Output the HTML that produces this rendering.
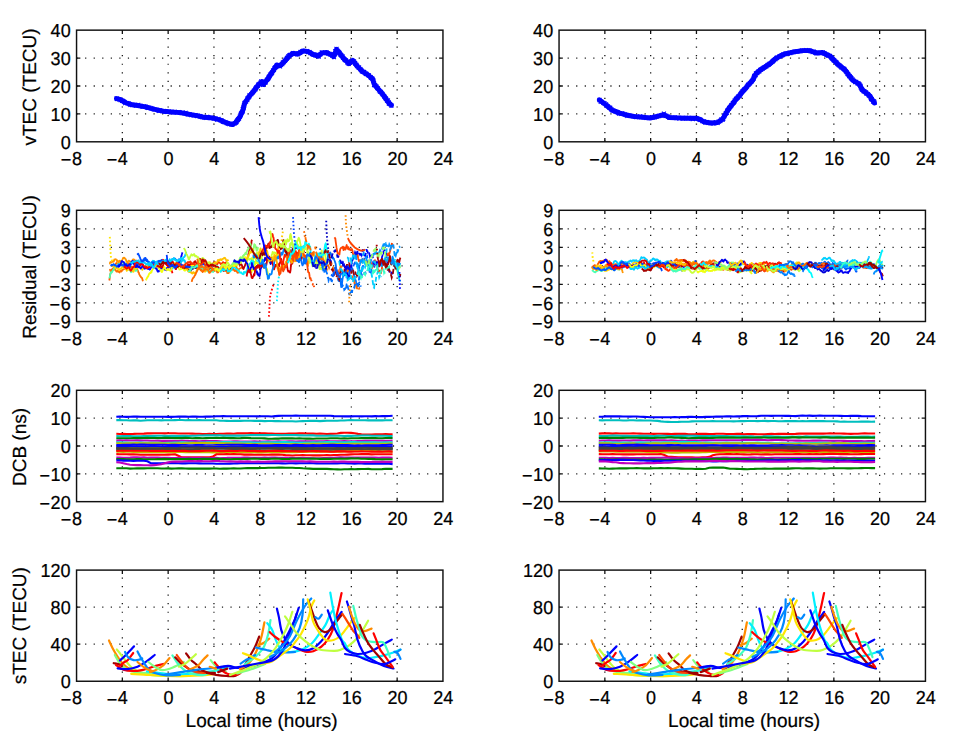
<!DOCTYPE html>
<html><head><meta charset="utf-8"><style>
html,body{margin:0;padding:0;background:#fff;}
svg{display:block;}
text{font-family:"Liberation Sans",sans-serif;font-size:18px;fill:#000;stroke:#000;stroke-width:0.22px;text-rendering:geometricPrecision;}
.L{font-size:19px;}
</style></head><body>
<svg width="960" height="741" viewBox="0 0 960 741">
<rect width="960" height="741" fill="#fff"/>
<path d="M122.35 141.8V30.15M168.15 141.8V30.15M213.95 141.8V30.15M259.75 141.8V30.15M305.55 141.8V30.15M351.35 141.8V30.15M397.15 141.8V30.15M76.55 113.89H442.95M76.55 85.98H442.95M76.55 58.06H442.95" stroke="#1a1a1a" stroke-width="1.3" stroke-dasharray="1.2 7.35" fill="none"/>
<path d="M116.5,98.5 120.6,99.6 125.8,102.7 132.1,104.8 139.4,105.8 145.6,106.9 150.8,108.4 157.1,110.0 163.3,111.2 171.7,111.9 180.0,112.6 188.3,114.2 196.7,115.7 204.0,117.3 212.5,117.9 220.0,120.0 226.7,122.9 232.5,124.6 235.8,122.5 240.0,116.7 243.3,109.2 244.5,103.5 248.3,97.5 253.3,91.7 258.3,85.0 261.7,81.7 263.5,84.5 268.3,78.3 272.5,71.7 276.7,65.0 280.0,65.8 285.0,60.8 289.2,55.8 293.3,53.3 297.5,54.2 303.3,50.8 308.3,51.7 313.3,54.6 318.3,56.2 321.7,52.9 326.7,52.5 330.8,54.6 333.6,56.6 336.6,49.4 339.4,53.2 344.2,58.9 348.9,63.6 352.7,60.3 357.4,66.4 362.1,71.2 367.8,74.9 372.5,78.7 374.4,84.4 379.1,90.0 383.8,95.7 387.6,101.4 391.4,105.2" stroke="#0000ff" stroke-width="4.9" fill="none" stroke-linejoin="round" stroke-linecap="round"/>
<path d="M114.6 96.5l4.0 4.0M114.6 100.5l4.0 -4.0M115.6 97.2l4.0 4.0M115.6 101.2l4.0 -4.0M117.3 97.3l4.0 4.0M117.3 101.3l4.0 -4.0M118.6 98.1l4.0 4.0M118.6 102.1l4.0 -4.0M120.1 98.8l4.0 4.0M120.1 102.8l4.0 -4.0M121.1 99.0l4.0 4.0M121.1 103.0l4.0 -4.0M122.3 99.9l4.0 4.0M122.3 103.9l4.0 -4.0M123.2 101.2l4.0 4.0M123.2 105.2l4.0 -4.0M125.1 101.2l4.0 4.0M125.1 105.2l4.0 -4.0M126.5 101.4l4.0 4.0M126.5 105.4l4.0 -4.0M127.6 102.2l4.0 4.0M127.6 106.2l4.0 -4.0M128.5 102.9l4.0 4.0M128.5 106.9l4.0 -4.0M130.1 103.0l4.0 4.0M130.1 107.0l4.0 -4.0M131.3 102.8l4.0 4.0M131.3 106.8l4.0 -4.0M133.4 103.0l4.0 4.0M133.4 107.0l4.0 -4.0M134.4 103.6l4.0 4.0M134.4 107.6l4.0 -4.0M136.3 102.8l4.0 4.0M136.3 106.8l4.0 -4.0M137.7 103.9l4.0 4.0M137.7 107.9l4.0 -4.0M139.1 103.8l4.0 4.0M139.1 107.8l4.0 -4.0M140.6 104.9l4.0 4.0M140.6 108.9l4.0 -4.0M142.0 104.4l4.0 4.0M142.0 108.4l4.0 -4.0M143.5 104.7l4.0 4.0M143.5 108.7l4.0 -4.0M145.1 105.3l4.0 4.0M145.1 109.3l4.0 -4.0M146.1 105.9l4.0 4.0M146.1 109.9l4.0 -4.0M147.3 105.6l4.0 4.0M147.3 109.6l4.0 -4.0M149.3 106.2l4.0 4.0M149.3 110.2l4.0 -4.0M150.7 106.8l4.0 4.0M150.7 110.8l4.0 -4.0M151.9 107.4l4.0 4.0M151.9 111.4l4.0 -4.0M153.3 107.3l4.0 4.0M153.3 111.3l4.0 -4.0M155.1 107.9l4.0 4.0M155.1 111.9l4.0 -4.0M156.8 108.9l4.0 4.0M156.8 112.9l4.0 -4.0M158.0 108.3l4.0 4.0M158.0 112.3l4.0 -4.0M159.9 109.1l4.0 4.0M159.9 113.1l4.0 -4.0M161.5 109.0l4.0 4.0M161.5 113.0l4.0 -4.0M162.8 109.3l4.0 4.0M162.8 113.3l4.0 -4.0M163.8 109.6l4.0 4.0M163.8 113.6l4.0 -4.0M165.2 109.8l4.0 4.0M165.2 113.8l4.0 -4.0M166.8 109.6l4.0 4.0M166.8 113.6l4.0 -4.0M168.8 110.3l4.0 4.0M168.8 114.3l4.0 -4.0M169.8 110.0l4.0 4.0M169.8 114.0l4.0 -4.0M170.9 110.4l4.0 4.0M170.9 114.4l4.0 -4.0M172.6 109.9l4.0 4.0M172.6 113.9l4.0 -4.0M173.5 110.3l4.0 4.0M173.5 114.3l4.0 -4.0M175.2 110.7l4.0 4.0M175.2 114.7l4.0 -4.0M176.4 110.2l4.0 4.0M176.4 114.2l4.0 -4.0M178.1 110.6l4.0 4.0M178.1 114.6l4.0 -4.0M179.6 111.2l4.0 4.0M179.6 115.2l4.0 -4.0M180.6 110.4l4.0 4.0M180.6 114.4l4.0 -4.0M182.2 111.2l4.0 4.0M182.2 115.2l4.0 -4.0M183.6 110.8l4.0 4.0M183.6 114.8l4.0 -4.0M184.9 112.0l4.0 4.0M184.9 116.0l4.0 -4.0M186.2 112.4l4.0 4.0M186.2 116.4l4.0 -4.0M187.7 112.5l4.0 4.0M187.7 116.5l4.0 -4.0M189.4 113.1l4.0 4.0M189.4 117.1l4.0 -4.0M190.8 113.1l4.0 4.0M190.8 117.1l4.0 -4.0M191.9 113.4l4.0 4.0M191.9 117.4l4.0 -4.0M193.4 113.2l4.0 4.0M193.4 117.2l4.0 -4.0M194.8 114.0l4.0 4.0M194.8 118.0l4.0 -4.0M196.1 113.7l4.0 4.0M196.1 117.7l4.0 -4.0M197.7 114.1l4.0 4.0M197.7 118.1l4.0 -4.0M198.8 114.6l4.0 4.0M198.8 118.6l4.0 -4.0M200.2 115.1l4.0 4.0M200.2 119.1l4.0 -4.0M201.9 115.3l4.0 4.0M201.9 119.3l4.0 -4.0M203.7 115.8l4.0 4.0M203.7 119.8l4.0 -4.0M204.8 114.8l4.0 4.0M204.8 118.8l4.0 -4.0M206.2 115.2l4.0 4.0M206.2 119.2l4.0 -4.0M207.9 116.2l4.0 4.0M207.9 120.2l4.0 -4.0M209.2 116.0l4.0 4.0M209.2 120.0l4.0 -4.0M210.6 116.1l4.0 4.0M210.6 120.1l4.0 -4.0M211.9 116.6l4.0 4.0M211.9 120.6l4.0 -4.0M213.4 116.4l4.0 4.0M213.4 120.4l4.0 -4.0M215.0 117.7l4.0 4.0M215.0 121.7l4.0 -4.0M216.5 117.0l4.0 4.0M216.5 121.0l4.0 -4.0M218.3 118.1l4.0 4.0M218.3 122.1l4.0 -4.0M219.5 118.4l4.0 4.0M219.5 122.4l4.0 -4.0M220.8 119.7l4.0 4.0M220.8 123.7l4.0 -4.0M221.9 120.0l4.0 4.0M221.9 124.0l4.0 -4.0M223.4 120.1l4.0 4.0M223.4 124.1l4.0 -4.0M224.7 121.1l4.0 4.0M224.7 125.1l4.0 -4.0M226.0 121.7l4.0 4.0M226.0 125.7l4.0 -4.0M227.4 122.1l4.0 4.0M227.4 126.1l4.0 -4.0M229.2 122.3l4.0 4.0M229.2 126.3l4.0 -4.0M230.3 122.4l4.0 4.0M230.3 126.4l4.0 -4.0M231.1 121.9l4.0 4.0M231.1 125.9l4.0 -4.0M232.7 121.4l4.0 4.0M232.7 125.4l4.0 -4.0M234.0 120.6l4.0 4.0M234.0 124.6l4.0 -4.0M234.6 119.7l4.0 4.0M234.6 123.7l4.0 -4.0M235.5 118.2l4.0 4.0M235.5 122.2l4.0 -4.0M236.1 117.4l4.0 4.0M236.1 121.4l4.0 -4.0M237.0 116.5l4.0 4.0M237.0 120.5l4.0 -4.0M237.8 114.6l4.0 4.0M237.8 118.6l4.0 -4.0M238.6 113.2l4.0 4.0M238.6 117.2l4.0 -4.0M238.8 111.8l4.0 4.0M238.8 115.8l4.0 -4.0M239.5 110.9l4.0 4.0M239.5 114.9l4.0 -4.0M240.4 109.9l4.0 4.0M240.4 113.9l4.0 -4.0M240.8 108.7l4.0 4.0M240.8 112.7l4.0 -4.0M240.8 107.0l4.0 4.0M240.8 111.0l4.0 -4.0M241.5 105.5l4.0 4.0M241.5 109.5l4.0 -4.0M242.0 104.1l4.0 4.0M242.0 108.1l4.0 -4.0M242.0 103.2l4.0 4.0M242.0 107.2l4.0 -4.0M242.4 101.4l4.0 4.0M242.4 105.4l4.0 -4.0M242.9 100.6l4.0 4.0M242.9 104.6l4.0 -4.0M244.0 99.6l4.0 4.0M244.0 103.6l4.0 -4.0M245.3 98.1l4.0 4.0M245.3 102.1l4.0 -4.0M245.5 96.5l4.0 4.0M245.5 100.5l4.0 -4.0M246.7 95.4l4.0 4.0M246.7 99.4l4.0 -4.0M247.4 94.4l4.0 4.0M247.4 98.4l4.0 -4.0M247.6 93.2l4.0 4.0M247.6 97.2l4.0 -4.0M249.3 92.1l4.0 4.0M249.3 96.1l4.0 -4.0M250.3 90.9l4.0 4.0M250.3 94.9l4.0 -4.0M251.1 89.9l4.0 4.0M251.1 93.9l4.0 -4.0M252.0 88.6l4.0 4.0M252.0 92.6l4.0 -4.0M253.3 87.5l4.0 4.0M253.3 91.5l4.0 -4.0M253.6 86.5l4.0 4.0M253.6 90.5l4.0 -4.0M254.3 85.3l4.0 4.0M254.3 89.3l4.0 -4.0M255.8 83.8l4.0 4.0M255.8 87.8l4.0 -4.0M256.3 82.7l4.0 4.0M256.3 86.7l4.0 -4.0M257.5 82.0l4.0 4.0M257.5 86.0l4.0 -4.0M258.6 80.7l4.0 4.0M258.6 84.7l4.0 -4.0M259.3 79.4l4.0 4.0M259.3 83.4l4.0 -4.0M260.5 81.4l4.0 4.0M260.5 85.4l4.0 -4.0M261.1 82.9l4.0 4.0M261.1 86.9l4.0 -4.0M262.1 80.9l4.0 4.0M262.1 84.9l4.0 -4.0M263.4 80.6l4.0 4.0M263.4 84.6l4.0 -4.0M263.7 79.5l4.0 4.0M263.7 83.5l4.0 -4.0M264.8 77.9l4.0 4.0M264.8 81.9l4.0 -4.0M265.8 77.1l4.0 4.0M265.8 81.1l4.0 -4.0M266.5 76.1l4.0 4.0M266.5 80.1l4.0 -4.0M266.7 75.0l4.0 4.0M266.7 79.0l4.0 -4.0M267.6 74.1l4.0 4.0M267.6 78.1l4.0 -4.0M268.1 72.7l4.0 4.0M268.1 76.7l4.0 -4.0M269.2 71.8l4.0 4.0M269.2 75.8l4.0 -4.0M269.7 70.9l4.0 4.0M269.7 74.9l4.0 -4.0M270.2 70.3l4.0 4.0M270.2 74.3l4.0 -4.0M271.0 68.7l4.0 4.0M271.0 72.7l4.0 -4.0M271.9 67.8l4.0 4.0M271.9 71.8l4.0 -4.0M272.5 66.1l4.0 4.0M272.5 70.1l4.0 -4.0M273.4 65.4l4.0 4.0M273.4 69.4l4.0 -4.0M274.0 64.8l4.0 4.0M274.0 68.8l4.0 -4.0M274.9 63.4l4.0 4.0M274.9 67.4l4.0 -4.0M276.6 63.7l4.0 4.0M276.6 67.7l4.0 -4.0M278.0 64.3l4.0 4.0M278.0 68.3l4.0 -4.0M278.9 62.9l4.0 4.0M278.9 66.9l4.0 -4.0M280.3 62.1l4.0 4.0M280.3 66.1l4.0 -4.0M280.8 60.7l4.0 4.0M280.8 64.7l4.0 -4.0M281.8 60.2l4.0 4.0M281.8 64.2l4.0 -4.0M282.9 58.8l4.0 4.0M282.9 62.8l4.0 -4.0M283.7 57.6l4.0 4.0M283.7 61.6l4.0 -4.0M284.8 56.5l4.0 4.0M284.8 60.5l4.0 -4.0M285.5 55.6l4.0 4.0M285.5 59.6l4.0 -4.0M286.3 54.4l4.0 4.0M286.3 58.4l4.0 -4.0M287.4 53.3l4.0 4.0M287.4 57.3l4.0 -4.0M288.3 52.8l4.0 4.0M288.3 56.8l4.0 -4.0M290.0 51.9l4.0 4.0M290.0 55.9l4.0 -4.0M291.0 51.2l4.0 4.0M291.0 55.2l4.0 -4.0M292.5 51.4l4.0 4.0M292.5 55.4l4.0 -4.0M294.4 51.3l4.0 4.0M294.4 55.3l4.0 -4.0M295.5 52.3l4.0 4.0M295.5 56.3l4.0 -4.0M296.6 51.4l4.0 4.0M296.6 55.4l4.0 -4.0M298.0 50.8l4.0 4.0M298.0 54.8l4.0 -4.0M298.6 50.0l4.0 4.0M298.6 54.0l4.0 -4.0M300.2 49.4l4.0 4.0M300.2 53.4l4.0 -4.0M301.2 48.9l4.0 4.0M301.2 52.9l4.0 -4.0M302.9 49.1l4.0 4.0M302.9 53.1l4.0 -4.0M304.8 49.2l4.0 4.0M304.8 53.2l4.0 -4.0M306.0 50.1l4.0 4.0M306.0 54.1l4.0 -4.0M307.6 50.2l4.0 4.0M307.6 54.2l4.0 -4.0M308.5 51.2l4.0 4.0M308.5 55.2l4.0 -4.0M310.1 52.0l4.0 4.0M310.1 56.0l4.0 -4.0M311.4 52.5l4.0 4.0M311.4 56.5l4.0 -4.0M312.5 52.5l4.0 4.0M312.5 56.5l4.0 -4.0M313.6 53.3l4.0 4.0M313.6 57.3l4.0 -4.0M315.3 53.4l4.0 4.0M315.3 57.4l4.0 -4.0M316.7 54.5l4.0 4.0M316.7 58.5l4.0 -4.0M317.3 52.9l4.0 4.0M317.3 56.9l4.0 -4.0M318.6 52.1l4.0 4.0M318.6 56.1l4.0 -4.0M319.8 50.4l4.0 4.0M319.8 54.4l4.0 -4.0M321.3 50.9l4.0 4.0M321.3 54.9l4.0 -4.0M323.2 50.8l4.0 4.0M323.2 54.8l4.0 -4.0M324.7 50.6l4.0 4.0M324.7 54.6l4.0 -4.0M326.0 51.7l4.0 4.0M326.0 55.7l4.0 -4.0M327.6 52.0l4.0 4.0M327.6 56.0l4.0 -4.0M328.7 52.6l4.0 4.0M328.7 56.6l4.0 -4.0M330.3 53.6l4.0 4.0M330.3 57.6l4.0 -4.0M331.9 55.2l4.0 4.0M331.9 59.2l4.0 -4.0M332.3 53.0l4.0 4.0M332.3 57.0l4.0 -4.0M332.7 52.0l4.0 4.0M332.7 56.0l4.0 -4.0M333.1 51.6l4.0 4.0M333.1 55.6l4.0 -4.0M333.2 49.4l4.0 4.0M333.2 53.4l4.0 -4.0M334.0 48.8l4.0 4.0M334.0 52.8l4.0 -4.0M334.5 46.8l4.0 4.0M334.5 50.8l4.0 -4.0M335.6 48.9l4.0 4.0M335.6 52.9l4.0 -4.0M336.7 50.0l4.0 4.0M336.7 54.0l4.0 -4.0M337.6 51.0l4.0 4.0M337.6 55.0l4.0 -4.0M338.5 52.7l4.0 4.0M338.5 56.7l4.0 -4.0M339.3 53.4l4.0 4.0M339.3 57.4l4.0 -4.0M340.5 54.4l4.0 4.0M340.5 58.4l4.0 -4.0M341.1 55.8l4.0 4.0M341.1 59.8l4.0 -4.0M342.3 57.2l4.0 4.0M342.3 61.2l4.0 -4.0M343.0 58.0l4.0 4.0M343.0 62.0l4.0 -4.0M343.9 58.4l4.0 4.0M343.9 62.4l4.0 -4.0M345.5 59.5l4.0 4.0M345.5 63.5l4.0 -4.0M345.6 60.8l4.0 4.0M345.6 64.8l4.0 -4.0M346.7 61.8l4.0 4.0M346.7 65.8l4.0 -4.0M347.7 60.2l4.0 4.0M347.7 64.2l4.0 -4.0M349.6 59.5l4.0 4.0M349.6 63.5l4.0 -4.0M350.5 58.8l4.0 4.0M350.5 62.8l4.0 -4.0M351.9 59.4l4.0 4.0M351.9 63.4l4.0 -4.0M352.8 60.9l4.0 4.0M352.8 64.9l4.0 -4.0M353.3 61.7l4.0 4.0M353.3 65.7l4.0 -4.0M354.5 62.8l4.0 4.0M354.5 66.8l4.0 -4.0M355.1 64.2l4.0 4.0M355.1 68.2l4.0 -4.0M356.5 65.4l4.0 4.0M356.5 69.4l4.0 -4.0M357.1 65.6l4.0 4.0M357.1 69.6l4.0 -4.0M358.4 67.2l4.0 4.0M358.4 71.2l4.0 -4.0M359.3 68.2l4.0 4.0M359.3 72.2l4.0 -4.0M360.0 69.3l4.0 4.0M360.0 73.3l4.0 -4.0M361.1 69.8l4.0 4.0M361.1 73.8l4.0 -4.0M362.2 70.0l4.0 4.0M362.2 74.0l4.0 -4.0M363.7 71.7l4.0 4.0M363.7 75.7l4.0 -4.0M364.5 72.0l4.0 4.0M364.5 76.0l4.0 -4.0M366.3 73.1l4.0 4.0M366.3 77.1l4.0 -4.0M366.9 73.5l4.0 4.0M366.9 77.5l4.0 -4.0M368.5 75.2l4.0 4.0M368.5 79.2l4.0 -4.0M369.1 75.9l4.0 4.0M369.1 79.9l4.0 -4.0M370.3 76.6l4.0 4.0M370.3 80.6l4.0 -4.0M371.2 78.0l4.0 4.0M371.2 82.0l4.0 -4.0M371.3 79.1l4.0 4.0M371.3 83.1l4.0 -4.0M372.0 80.9l4.0 4.0M372.0 84.9l4.0 -4.0M372.1 83.0l4.0 4.0M372.1 87.0l4.0 -4.0M373.2 83.3l4.0 4.0M373.2 87.3l4.0 -4.0M374.4 84.5l4.0 4.0M374.4 88.5l4.0 -4.0M375.2 85.9l4.0 4.0M375.2 89.9l4.0 -4.0M376.0 86.6l4.0 4.0M376.0 90.6l4.0 -4.0M377.0 88.3l4.0 4.0M377.0 92.3l4.0 -4.0M378.0 89.6l4.0 4.0M378.0 93.6l4.0 -4.0M379.0 90.0l4.0 4.0M379.0 94.0l4.0 -4.0M380.0 91.4l4.0 4.0M380.0 95.4l4.0 -4.0M380.8 92.5l4.0 4.0M380.8 96.5l4.0 -4.0M382.0 94.0l4.0 4.0M382.0 98.0l4.0 -4.0M382.6 94.9l4.0 4.0M382.6 98.9l4.0 -4.0M383.4 96.2l4.0 4.0M383.4 100.2l4.0 -4.0M384.2 96.9l4.0 4.0M384.2 100.9l4.0 -4.0M385.1 98.6l4.0 4.0M385.1 102.6l4.0 -4.0M385.9 98.5l4.0 4.0M385.9 102.5l4.0 -4.0M386.7 100.4l4.0 4.0M386.7 104.4l4.0 -4.0M386.9 101.7l4.0 4.0M386.9 105.7l4.0 -4.0M388.0 102.1l4.0 4.0M388.0 106.1l4.0 -4.0M389.4 103.5l4.0 4.0M389.4 107.5l4.0 -4.0" stroke="#0000ff" stroke-width="1.1" fill="none"/>
<path d="M122.35 141.8v-3.8M122.35 30.15v3.8M168.15 141.8v-3.8M168.15 30.15v3.8M213.95 141.8v-3.8M213.95 30.15v3.8M259.75 141.8v-3.8M259.75 30.15v3.8M305.55 141.8v-3.8M305.55 30.15v3.8M351.35 141.8v-3.8M351.35 30.15v3.8M397.15 141.8v-3.8M397.15 30.15v3.8M76.55 113.89h3.8M442.95 113.89h-3.8M76.55 85.98h3.8M442.95 85.98h-3.8M76.55 58.06h3.8M442.95 58.06h-3.8" stroke="#111" stroke-width="1.3" fill="none"/>
<rect x="76.55" y="30.15" width="366.4" height="111.65" stroke="#111" stroke-width="1.45" fill="none"/>
<text transform="translate(76.95 165) scale(1 1.045)" text-anchor="middle">8</text>
<text transform="translate(71.35 166.3) scale(1 1.045)" text-anchor="end">−</text>
<text transform="translate(122.75 165) scale(1 1.045)" text-anchor="middle">4</text>
<text transform="translate(117.15 166.3) scale(1 1.045)" text-anchor="end">−</text>
<text transform="translate(168.55 165) scale(1 1.045)" text-anchor="middle">0</text>
<text transform="translate(214.35 165) scale(1 1.045)" text-anchor="middle">4</text>
<text transform="translate(260.15 165) scale(1 1.045)" text-anchor="middle">8</text>
<text transform="translate(305.95 165) scale(1 1.045)" text-anchor="middle">12</text>
<text transform="translate(351.75 165) scale(1 1.045)" text-anchor="middle">16</text>
<text transform="translate(397.55 165) scale(1 1.045)" text-anchor="middle">20</text>
<text transform="translate(443.35 165) scale(1 1.045)" text-anchor="middle">24</text>
<text transform="translate(70.65 148.65) scale(1 1.045)" text-anchor="end">0</text>
<text transform="translate(70.65 120.74) scale(1 1.045)" text-anchor="end">10</text>
<text transform="translate(70.65 92.83) scale(1 1.045)" text-anchor="end">20</text>
<text transform="translate(70.65 64.91) scale(1 1.045)" text-anchor="end">30</text>
<text transform="translate(70.65 37) scale(1 1.045)" text-anchor="end">40</text>
<text class="L" transform="translate(36.4 86.97) rotate(-90)" text-anchor="middle">vTEC (TECU)</text>
<path d="M604.85 141.8V30.15M650.65 141.8V30.15M696.45 141.8V30.15M742.25 141.8V30.15M788.05 141.8V30.15M833.85 141.8V30.15M879.65 141.8V30.15M559.05 113.89H925.45M559.05 85.98H925.45M559.05 58.06H925.45" stroke="#1a1a1a" stroke-width="1.3" stroke-dasharray="1.2 7.35" fill="none"/>
<path d="M599.4,99.9 605.6,104.6 612.4,110.3 619.2,112.9 626.5,115.0 634.8,116.6 643.1,117.3 649.9,118.1 656.7,116.6 664.0,114.5 669.2,117.6 676.5,117.9 688.3,118.3 696.7,118.3 700.8,119.9 704.0,122.0 711.2,123.0 717.5,122.5 722.7,118.9 727.9,110.0 734.2,101.7 740.4,94.4 747.7,85.5 752.9,79.8 756.0,73.5 761.2,69.4 765.0,66.9 770.0,63.8 776.2,58.1 785.0,53.8 793.8,51.9 802.5,50.6 810.0,50.6 816.2,53.1 822.5,52.5 830.0,56.2 837.5,63.8 845.0,70.0 852.5,80.0 858.8,83.8 862.5,90.0 870.0,96.2 874.5,103.0" stroke="#0000ff" stroke-width="4.9" fill="none" stroke-linejoin="round" stroke-linecap="round"/>
<path d="M597.5 98.0l4.0 4.0M597.5 102.0l4.0 -4.0M598.5 99.4l4.0 4.0M598.5 103.4l4.0 -4.0M599.6 99.8l4.0 4.0M599.6 103.8l4.0 -4.0M601.3 100.9l4.0 4.0M601.3 104.9l4.0 -4.0M602.5 101.4l4.0 4.0M602.5 105.4l4.0 -4.0M604.0 102.4l4.0 4.0M604.0 106.4l4.0 -4.0M604.7 103.6l4.0 4.0M604.7 107.6l4.0 -4.0M605.9 104.3l4.0 4.0M605.9 108.3l4.0 -4.0M607.3 105.5l4.0 4.0M607.3 109.5l4.0 -4.0M608.3 105.9l4.0 4.0M608.3 109.9l4.0 -4.0M609.4 107.3l4.0 4.0M609.4 111.3l4.0 -4.0M610.5 108.4l4.0 4.0M610.5 112.4l4.0 -4.0M611.9 108.8l4.0 4.0M611.9 112.8l4.0 -4.0M613.1 109.4l4.0 4.0M613.1 113.4l4.0 -4.0M614.5 109.9l4.0 4.0M614.5 113.9l4.0 -4.0M615.8 110.5l4.0 4.0M615.8 114.5l4.0 -4.0M617.0 111.5l4.0 4.0M617.0 115.5l4.0 -4.0M618.8 111.8l4.0 4.0M618.8 115.8l4.0 -4.0M620.1 111.4l4.0 4.0M620.1 115.4l4.0 -4.0M621.3 111.9l4.0 4.0M621.3 115.9l4.0 -4.0M622.9 112.5l4.0 4.0M622.9 116.5l4.0 -4.0M624.4 113.2l4.0 4.0M624.4 117.2l4.0 -4.0M625.4 113.8l4.0 4.0M625.4 117.8l4.0 -4.0M627.2 113.6l4.0 4.0M627.2 117.6l4.0 -4.0M628.3 113.9l4.0 4.0M628.3 117.9l4.0 -4.0M629.7 114.2l4.0 4.0M629.7 118.2l4.0 -4.0M631.5 114.4l4.0 4.0M631.5 118.4l4.0 -4.0M632.8 114.5l4.0 4.0M632.8 118.5l4.0 -4.0M634.1 115.0l4.0 4.0M634.1 119.0l4.0 -4.0M635.6 114.9l4.0 4.0M635.6 118.9l4.0 -4.0M637.4 115.0l4.0 4.0M637.4 119.0l4.0 -4.0M638.1 114.4l4.0 4.0M638.1 118.4l4.0 -4.0M639.2 115.2l4.0 4.0M639.2 119.2l4.0 -4.0M641.3 115.0l4.0 4.0M641.3 119.0l4.0 -4.0M642.2 115.4l4.0 4.0M642.2 119.4l4.0 -4.0M643.8 115.9l4.0 4.0M643.8 119.9l4.0 -4.0M645.2 115.6l4.0 4.0M645.2 119.6l4.0 -4.0M646.7 115.7l4.0 4.0M646.7 119.7l4.0 -4.0M647.6 115.8l4.0 4.0M647.6 119.8l4.0 -4.0M649.2 115.7l4.0 4.0M649.2 119.7l4.0 -4.0M650.6 115.5l4.0 4.0M650.6 119.5l4.0 -4.0M652.5 115.3l4.0 4.0M652.5 119.3l4.0 -4.0M652.9 114.5l4.0 4.0M652.9 118.5l4.0 -4.0M654.7 114.3l4.0 4.0M654.7 118.3l4.0 -4.0M656.6 114.0l4.0 4.0M656.6 118.0l4.0 -4.0M657.5 113.8l4.0 4.0M657.5 117.8l4.0 -4.0M659.0 113.5l4.0 4.0M659.0 117.5l4.0 -4.0M660.5 113.0l4.0 4.0M660.5 117.0l4.0 -4.0M661.9 111.7l4.0 4.0M661.9 115.7l4.0 -4.0M663.4 113.8l4.0 4.0M663.4 117.8l4.0 -4.0M664.4 113.9l4.0 4.0M664.4 117.9l4.0 -4.0M666.1 114.7l4.0 4.0M666.1 118.7l4.0 -4.0M667.2 115.5l4.0 4.0M667.2 119.5l4.0 -4.0M668.8 115.6l4.0 4.0M668.8 119.6l4.0 -4.0M670.5 115.7l4.0 4.0M670.5 119.7l4.0 -4.0M671.5 115.3l4.0 4.0M671.5 119.3l4.0 -4.0M673.1 115.5l4.0 4.0M673.1 119.5l4.0 -4.0M674.6 116.1l4.0 4.0M674.6 120.1l4.0 -4.0M676.4 115.7l4.0 4.0M676.4 119.7l4.0 -4.0M677.1 116.3l4.0 4.0M677.1 120.3l4.0 -4.0M678.0 116.2l4.0 4.0M678.0 120.2l4.0 -4.0M680.1 116.1l4.0 4.0M680.1 120.1l4.0 -4.0M681.1 116.5l4.0 4.0M681.1 120.5l4.0 -4.0M682.4 116.3l4.0 4.0M682.4 120.3l4.0 -4.0M683.9 116.0l4.0 4.0M683.9 120.0l4.0 -4.0M685.4 116.1l4.0 4.0M685.4 120.1l4.0 -4.0M686.3 116.2l4.0 4.0M686.3 120.2l4.0 -4.0M687.2 115.8l4.0 4.0M687.2 119.8l4.0 -4.0M689.0 116.3l4.0 4.0M689.0 120.3l4.0 -4.0M690.7 117.1l4.0 4.0M690.7 121.1l4.0 -4.0M692.0 116.3l4.0 4.0M692.0 120.3l4.0 -4.0M693.2 116.7l4.0 4.0M693.2 120.7l4.0 -4.0M694.6 116.3l4.0 4.0M694.6 120.3l4.0 -4.0M696.3 116.8l4.0 4.0M696.3 120.8l4.0 -4.0M697.4 117.4l4.0 4.0M697.4 121.4l4.0 -4.0M698.5 117.9l4.0 4.0M698.5 121.9l4.0 -4.0M700.4 119.1l4.0 4.0M700.4 123.1l4.0 -4.0M701.9 119.3l4.0 4.0M701.9 123.3l4.0 -4.0M703.3 120.4l4.0 4.0M703.3 124.4l4.0 -4.0M704.7 120.1l4.0 4.0M704.7 124.1l4.0 -4.0M706.5 120.8l4.0 4.0M706.5 124.8l4.0 -4.0M707.8 121.0l4.0 4.0M707.8 125.0l4.0 -4.0M709.4 121.2l4.0 4.0M709.4 125.2l4.0 -4.0M710.9 121.4l4.0 4.0M710.9 125.4l4.0 -4.0M712.2 121.4l4.0 4.0M712.2 125.4l4.0 -4.0M714.0 120.4l4.0 4.0M714.0 124.4l4.0 -4.0M715.6 120.8l4.0 4.0M715.6 124.8l4.0 -4.0M716.6 119.7l4.0 4.0M716.6 123.7l4.0 -4.0M718.3 119.0l4.0 4.0M718.3 123.0l4.0 -4.0M719.4 117.5l4.0 4.0M719.4 121.5l4.0 -4.0M720.7 117.6l4.0 4.0M720.7 121.6l4.0 -4.0M721.3 116.6l4.0 4.0M721.3 120.6l4.0 -4.0M722.2 114.3l4.0 4.0M722.2 118.3l4.0 -4.0M722.8 113.1l4.0 4.0M722.8 117.1l4.0 -4.0M723.7 111.5l4.0 4.0M723.7 115.5l4.0 -4.0M724.8 110.9l4.0 4.0M724.8 114.9l4.0 -4.0M725.2 108.9l4.0 4.0M725.2 112.9l4.0 -4.0M725.8 108.0l4.0 4.0M725.8 112.0l4.0 -4.0M726.9 106.9l4.0 4.0M726.9 110.9l4.0 -4.0M727.2 105.9l4.0 4.0M727.2 109.9l4.0 -4.0M728.2 104.9l4.0 4.0M728.2 108.9l4.0 -4.0M729.2 103.6l4.0 4.0M729.2 107.6l4.0 -4.0M729.5 103.2l4.0 4.0M729.5 107.2l4.0 -4.0M730.8 101.4l4.0 4.0M730.8 105.4l4.0 -4.0M731.6 100.6l4.0 4.0M731.6 104.6l4.0 -4.0M732.3 99.9l4.0 4.0M732.3 103.9l4.0 -4.0M732.8 98.3l4.0 4.0M732.8 102.3l4.0 -4.0M733.9 97.2l4.0 4.0M733.9 101.2l4.0 -4.0M734.6 96.3l4.0 4.0M734.6 100.3l4.0 -4.0M735.7 95.5l4.0 4.0M735.7 99.5l4.0 -4.0M736.5 94.4l4.0 4.0M736.5 98.4l4.0 -4.0M737.8 93.6l4.0 4.0M737.8 97.6l4.0 -4.0M738.5 92.2l4.0 4.0M738.5 96.2l4.0 -4.0M739.2 90.9l4.0 4.0M739.2 94.9l4.0 -4.0M740.1 89.6l4.0 4.0M740.1 93.6l4.0 -4.0M741.1 88.9l4.0 4.0M741.1 92.9l4.0 -4.0M741.9 87.8l4.0 4.0M741.9 91.8l4.0 -4.0M742.7 87.1l4.0 4.0M742.7 91.1l4.0 -4.0M744.0 86.1l4.0 4.0M744.0 90.1l4.0 -4.0M744.9 84.6l4.0 4.0M744.9 88.6l4.0 -4.0M745.9 83.1l4.0 4.0M745.9 87.1l4.0 -4.0M746.5 82.6l4.0 4.0M746.5 86.6l4.0 -4.0M747.9 81.3l4.0 4.0M747.9 85.3l4.0 -4.0M749.1 80.1l4.0 4.0M749.1 84.1l4.0 -4.0M749.9 79.1l4.0 4.0M749.9 83.1l4.0 -4.0M750.7 77.9l4.0 4.0M750.7 81.9l4.0 -4.0M751.6 76.5l4.0 4.0M751.6 80.5l4.0 -4.0M752.0 75.0l4.0 4.0M752.0 79.0l4.0 -4.0M752.3 73.8l4.0 4.0M752.3 77.8l4.0 -4.0M753.7 73.1l4.0 4.0M753.7 77.1l4.0 -4.0M754.0 71.3l4.0 4.0M754.0 75.3l4.0 -4.0M755.3 71.0l4.0 4.0M755.3 75.0l4.0 -4.0M756.2 69.6l4.0 4.0M756.2 73.6l4.0 -4.0M757.3 69.3l4.0 4.0M757.3 73.3l4.0 -4.0M758.1 68.0l4.0 4.0M758.1 72.0l4.0 -4.0M759.2 67.5l4.0 4.0M759.2 71.5l4.0 -4.0M760.6 66.7l4.0 4.0M760.6 70.7l4.0 -4.0M761.8 65.6l4.0 4.0M761.8 69.6l4.0 -4.0M763.1 65.2l4.0 4.0M763.1 69.2l4.0 -4.0M764.3 64.3l4.0 4.0M764.3 68.3l4.0 -4.0M765.5 63.1l4.0 4.0M765.5 67.1l4.0 -4.0M766.7 62.5l4.0 4.0M766.7 66.5l4.0 -4.0M767.7 61.7l4.0 4.0M767.7 65.7l4.0 -4.0M768.9 60.9l4.0 4.0M768.9 64.9l4.0 -4.0M770.2 59.9l4.0 4.0M770.2 63.9l4.0 -4.0M771.0 59.0l4.0 4.0M771.0 63.0l4.0 -4.0M772.0 58.1l4.0 4.0M772.0 62.1l4.0 -4.0M773.5 57.2l4.0 4.0M773.5 61.2l4.0 -4.0M774.5 56.0l4.0 4.0M774.5 60.0l4.0 -4.0M775.1 55.7l4.0 4.0M775.1 59.7l4.0 -4.0M777.2 54.6l4.0 4.0M777.2 58.6l4.0 -4.0M778.3 54.1l4.0 4.0M778.3 58.1l4.0 -4.0M779.6 53.4l4.0 4.0M779.6 57.4l4.0 -4.0M780.5 53.1l4.0 4.0M780.5 57.1l4.0 -4.0M781.4 52.4l4.0 4.0M781.4 56.4l4.0 -4.0M783.0 52.0l4.0 4.0M783.0 56.0l4.0 -4.0M784.5 51.5l4.0 4.0M784.5 55.5l4.0 -4.0M785.9 51.7l4.0 4.0M785.9 55.7l4.0 -4.0M787.5 50.9l4.0 4.0M787.5 54.9l4.0 -4.0M788.4 51.0l4.0 4.0M788.4 55.0l4.0 -4.0M790.3 50.3l4.0 4.0M790.3 54.3l4.0 -4.0M791.9 50.0l4.0 4.0M791.9 54.0l4.0 -4.0M793.5 49.7l4.0 4.0M793.5 53.7l4.0 -4.0M794.8 49.5l4.0 4.0M794.8 53.5l4.0 -4.0M796.3 49.4l4.0 4.0M796.3 53.4l4.0 -4.0M797.7 49.1l4.0 4.0M797.7 53.1l4.0 -4.0M799.1 49.0l4.0 4.0M799.1 53.0l4.0 -4.0M800.4 48.4l4.0 4.0M800.4 52.4l4.0 -4.0M802.0 48.6l4.0 4.0M802.0 52.6l4.0 -4.0M803.8 48.2l4.0 4.0M803.8 52.2l4.0 -4.0M805.3 48.4l4.0 4.0M805.3 52.4l4.0 -4.0M806.3 48.7l4.0 4.0M806.3 52.7l4.0 -4.0M808.1 48.9l4.0 4.0M808.1 52.9l4.0 -4.0M808.8 49.4l4.0 4.0M808.8 53.4l4.0 -4.0M810.6 50.0l4.0 4.0M810.6 54.0l4.0 -4.0M811.7 49.7l4.0 4.0M811.7 53.7l4.0 -4.0M813.0 50.5l4.0 4.0M813.0 54.5l4.0 -4.0M814.4 51.4l4.0 4.0M814.4 55.4l4.0 -4.0M815.4 50.5l4.0 4.0M815.4 54.5l4.0 -4.0M817.4 50.6l4.0 4.0M817.4 54.6l4.0 -4.0M819.1 51.1l4.0 4.0M819.1 55.1l4.0 -4.0M820.9 50.5l4.0 4.0M820.9 54.5l4.0 -4.0M822.0 51.3l4.0 4.0M822.0 55.3l4.0 -4.0M823.0 51.6l4.0 4.0M823.0 55.6l4.0 -4.0M824.5 52.6l4.0 4.0M824.5 56.6l4.0 -4.0M825.5 53.0l4.0 4.0M825.5 57.0l4.0 -4.0M826.4 53.7l4.0 4.0M826.4 57.7l4.0 -4.0M828.0 54.0l4.0 4.0M828.0 58.0l4.0 -4.0M829.2 55.2l4.0 4.0M829.2 59.2l4.0 -4.0M829.7 56.1l4.0 4.0M829.7 60.1l4.0 -4.0M830.6 56.8l4.0 4.0M830.6 60.8l4.0 -4.0M831.5 58.0l4.0 4.0M831.5 62.0l4.0 -4.0M832.4 58.7l4.0 4.0M832.4 62.7l4.0 -4.0M833.6 59.8l4.0 4.0M833.6 63.8l4.0 -4.0M834.6 60.6l4.0 4.0M834.6 64.6l4.0 -4.0M835.4 61.8l4.0 4.0M835.4 65.8l4.0 -4.0M836.5 62.9l4.0 4.0M836.5 66.9l4.0 -4.0M837.6 63.6l4.0 4.0M837.6 67.6l4.0 -4.0M838.7 64.7l4.0 4.0M838.7 68.7l4.0 -4.0M839.6 65.6l4.0 4.0M839.6 69.6l4.0 -4.0M841.1 66.4l4.0 4.0M841.1 70.4l4.0 -4.0M842.2 66.8l4.0 4.0M842.2 70.8l4.0 -4.0M842.7 67.8l4.0 4.0M842.7 71.8l4.0 -4.0M843.7 69.2l4.0 4.0M843.7 73.2l4.0 -4.0M844.6 70.1l4.0 4.0M844.6 74.1l4.0 -4.0M845.5 71.8l4.0 4.0M845.5 75.8l4.0 -4.0M846.2 72.4l4.0 4.0M846.2 76.4l4.0 -4.0M847.2 74.0l4.0 4.0M847.2 78.0l4.0 -4.0M847.7 74.1l4.0 4.0M847.7 78.1l4.0 -4.0M848.8 75.5l4.0 4.0M848.8 79.5l4.0 -4.0M849.5 76.3l4.0 4.0M849.5 80.3l4.0 -4.0M850.8 77.6l4.0 4.0M850.8 81.6l4.0 -4.0M851.8 78.9l4.0 4.0M851.8 82.9l4.0 -4.0M853.2 80.0l4.0 4.0M853.2 84.0l4.0 -4.0M854.2 79.9l4.0 4.0M854.2 83.9l4.0 -4.0M855.6 81.3l4.0 4.0M855.6 85.3l4.0 -4.0M856.7 81.7l4.0 4.0M856.7 85.7l4.0 -4.0M857.7 82.7l4.0 4.0M857.7 86.7l4.0 -4.0M858.6 83.8l4.0 4.0M858.6 87.8l4.0 -4.0M858.8 85.5l4.0 4.0M858.8 89.5l4.0 -4.0M859.6 87.0l4.0 4.0M859.6 91.0l4.0 -4.0M860.4 87.9l4.0 4.0M860.4 91.9l4.0 -4.0M861.5 89.2l4.0 4.0M861.5 93.2l4.0 -4.0M862.6 89.7l4.0 4.0M862.6 93.7l4.0 -4.0M864.0 90.4l4.0 4.0M864.0 94.4l4.0 -4.0M864.5 91.6l4.0 4.0M864.5 95.6l4.0 -4.0M866.0 92.2l4.0 4.0M866.0 96.2l4.0 -4.0M866.9 93.5l4.0 4.0M866.9 97.5l4.0 -4.0M868.0 94.3l4.0 4.0M868.0 98.3l4.0 -4.0M868.7 95.8l4.0 4.0M868.7 99.8l4.0 -4.0M869.2 97.0l4.0 4.0M869.2 101.0l4.0 -4.0M869.9 97.7l4.0 4.0M869.9 101.7l4.0 -4.0M871.1 99.5l4.0 4.0M871.1 103.5l4.0 -4.0M872.0 99.4l4.0 4.0M872.0 103.4l4.0 -4.0M872.6 100.7l4.0 4.0M872.6 104.7l4.0 -4.0" stroke="#0000ff" stroke-width="1.1" fill="none"/>
<path d="M604.85 141.8v-3.8M604.85 30.15v3.8M650.65 141.8v-3.8M650.65 30.15v3.8M696.45 141.8v-3.8M696.45 30.15v3.8M742.25 141.8v-3.8M742.25 30.15v3.8M788.05 141.8v-3.8M788.05 30.15v3.8M833.85 141.8v-3.8M833.85 30.15v3.8M879.65 141.8v-3.8M879.65 30.15v3.8M559.05 113.89h3.8M925.45 113.89h-3.8M559.05 85.98h3.8M925.45 85.98h-3.8M559.05 58.06h3.8M925.45 58.06h-3.8" stroke="#111" stroke-width="1.3" fill="none"/>
<rect x="559.05" y="30.15" width="366.4" height="111.65" stroke="#111" stroke-width="1.45" fill="none"/>
<text transform="translate(559.45 165) scale(1 1.045)" text-anchor="middle">8</text>
<text transform="translate(553.85 166.3) scale(1 1.045)" text-anchor="end">−</text>
<text transform="translate(605.25 165) scale(1 1.045)" text-anchor="middle">4</text>
<text transform="translate(599.65 166.3) scale(1 1.045)" text-anchor="end">−</text>
<text transform="translate(651.05 165) scale(1 1.045)" text-anchor="middle">0</text>
<text transform="translate(696.85 165) scale(1 1.045)" text-anchor="middle">4</text>
<text transform="translate(742.65 165) scale(1 1.045)" text-anchor="middle">8</text>
<text transform="translate(788.45 165) scale(1 1.045)" text-anchor="middle">12</text>
<text transform="translate(834.25 165) scale(1 1.045)" text-anchor="middle">16</text>
<text transform="translate(880.05 165) scale(1 1.045)" text-anchor="middle">20</text>
<text transform="translate(925.85 165) scale(1 1.045)" text-anchor="middle">24</text>
<text transform="translate(553.15 148.65) scale(1 1.045)" text-anchor="end">0</text>
<text transform="translate(553.15 120.74) scale(1 1.045)" text-anchor="end">10</text>
<text transform="translate(553.15 92.83) scale(1 1.045)" text-anchor="end">20</text>
<text transform="translate(553.15 64.91) scale(1 1.045)" text-anchor="end">30</text>
<text transform="translate(553.15 37) scale(1 1.045)" text-anchor="end">40</text>
<path d="M122.35 321.5V210.3M168.15 321.5V210.3M213.95 321.5V210.3M259.75 321.5V210.3M305.55 321.5V210.3M351.35 321.5V210.3M397.15 321.5V210.3M76.55 302.97H442.95M76.55 284.43H442.95M76.55 265.9H442.95M76.55 247.37H442.95M76.55 228.83H442.95" stroke="#1a1a1a" stroke-width="1.3" stroke-dasharray="1.2 7.35" fill="none"/>
<path d="M109.3,280.5 109.8,277.3 110.2,274.4 110.7,273.0 111.1,271.5 111.6,269.6 112.1,269.2 112.5,269.3 113.0,268.9 113.4,269.4 113.9,266.7 114.3,265.4 114.8,265.0 115.2,264.4 115.7,264.1 116.2,263.3 116.6,263.0 117.1,263.5 117.5,263.6 118.0,265.3 118.4,265.2 118.9,264.8 119.3,265.0 119.8,264.8 120.3,264.0 120.7,263.9 121.2,264.0 121.6,264.1 122.1,264.8 122.5,265.1 123.0,265.7 123.4,266.3 123.9,267.2 124.3,267.3 124.8,266.1 125.3,265.2 125.7,263.6 126.2,263.3 126.6,263.6 127.1,264.4 127.5,264.3 128.0,263.7 128.4,263.2 128.9,263.9 129.4,264.2 129.8,264.7 130.3,264.1 130.7,263.8 131.2,263.3 131.6,263.1 132.1,262.5 132.5,262.3 133.0,262.1 133.5,262.4 133.9,261.6 134.4,261.1 134.8,260.9 135.3,261.5 135.7,260.7 136.2,261.6" stroke="#ff5c00" stroke-width="1.8" fill="none" stroke-linejoin="round"/>
<path d="M109.6,270.3 110.0,269.8 110.5,271.1 111.0,271.3 111.4,271.6 111.9,271.2 112.3,270.8 112.8,270.0 113.2,269.0 113.7,269.7 114.2,269.7 114.6,269.4 115.1,269.0 115.5,269.9 116.0,270.7 116.4,271.5 116.9,271.5 117.4,271.6 117.8,270.7 118.3,271.3 118.7,271.9 119.2,272.0 119.6,272.6 120.1,271.0 120.5,270.9 121.0,271.3 121.5,271.6 121.9,270.6 122.4,269.9 122.8,269.8 123.3,269.2 123.7,269.2 124.2,268.9 124.7,268.9 125.1,268.6 125.6,268.3 126.0,268.1 126.5,267.4 126.9,267.8 127.4,267.3 127.9,266.5 128.3,265.7 128.8,265.0 129.2,265.3 129.7,266.3 130.1,265.7 130.6,266.5 131.1,267.8 131.5,267.3 132.0,266.7 132.4,267.1 132.9,266.7 133.3,267.1 133.8,267.3 134.3,267.4 134.7,267.1 135.2,267.8 135.6,267.6 136.1,268.6 136.5,269.2 137.0,268.7 137.4,269.6 137.9,270.6 138.4,272.4 138.8,272.6 139.3,274.4 139.7,275.0 140.2,276.1 140.6,276.3 141.1,277.4 141.6,277.6 142.0,278.0 142.5,279.5 142.9,281.2" stroke="#ff6e00" stroke-width="1.8" fill="none" stroke-linejoin="round"/>
<path d="M109.5,278.3 110.0,275.6 110.5,273.4 110.9,272.2 111.4,272.6 111.8,272.4 112.3,271.7 112.7,270.5 113.2,269.9 113.7,269.9 114.1,267.8 114.6,267.8 115.0,267.8 115.5,268.1 115.9,267.6 116.4,267.8 116.9,266.3 117.3,265.5 117.8,264.8 118.2,264.0 118.7,263.3 119.1,263.9 119.6,263.2 120.1,261.6 120.5,261.2 121.0,261.4 121.4,261.8 121.9,262.2 122.3,262.0 122.8,262.7 123.2,262.3 123.7,263.2 124.2,263.1 124.6,263.0 125.1,263.3 125.5,264.5 126.0,266.9 126.4,268.6 126.9,268.9 127.4,269.1 127.8,268.6 128.3,269.6 128.7,269.0 129.2,269.2 129.6,269.2 130.1,270.5 130.6,271.4 131.0,272.2 131.5,271.3 131.9,271.4 132.4,271.0 132.8,270.0 133.3,268.5 133.8,268.2 134.2,269.4 134.7,270.0 135.1,270.2 135.6,270.8 136.0,270.9 136.5,270.0 137.0,270.6 137.4,270.3" stroke="#4cffb3" stroke-width="1.8" fill="none" stroke-linejoin="round"/>
<path d="M109.3,263.9 109.8,263.6 110.2,262.3 110.7,262.0 111.2,262.2 111.6,262.5 112.1,261.8 112.5,261.8 113.0,261.1 113.4,261.8 113.9,261.4 114.3,259.5 114.8,259.7 115.3,259.5 115.7,259.1 116.2,259.6 116.6,259.9 117.1,261.5 117.5,260.5 118.0,262.0 118.5,262.2 118.9,261.3 119.4,261.8 119.8,260.6 120.3,261.5 120.7,262.1 121.2,262.2 121.7,261.6 122.1,260.6 122.6,259.2 123.0,258.0 123.5,257.7 123.9,258.0 124.4,257.7 124.8,258.3 125.3,259.1 125.8,259.1 126.2,261.0 126.7,261.3 127.1,262.2 127.6,262.5 128.0,261.4 128.5,260.9 129.0,260.6 129.4,260.9 129.9,261.3 130.3,262.3 130.8,263.0 131.2,262.7 131.7,263.0 132.2,261.9 132.6,259.9 133.1,259.4 133.5,259.3 134.0,259.3 134.4,260.1 134.9,260.8 135.4,261.3 135.8,261.3 136.3,263.2 136.7,263.7 137.2,264.5 137.6,264.7 138.1,263.7 138.5,263.9 139.0,263.3 139.5,264.2 139.9,265.2 140.4,266.3" stroke="#ff9500" stroke-width="1.8" fill="none" stroke-linejoin="round"/>
<path d="M112.2,267.2 112.6,266.4 113.1,264.9 113.6,265.7 114.0,264.7 114.5,265.2 114.9,266.7 115.4,268.0 115.8,268.4 116.3,268.4 116.8,267.1 117.2,267.0 117.7,267.5 118.1,269.3 118.6,269.5 119.0,270.0 119.5,269.4 120.0,269.2 120.4,268.6 120.9,268.4 121.3,268.9 121.8,267.7 122.2,266.9 122.7,266.9 123.2,266.4 123.6,267.6 124.1,267.8 124.5,267.8 125.0,268.2 125.4,267.2 125.9,268.8 126.4,270.0 126.8,270.9 127.3,270.0 127.7,269.7 128.2,269.7 128.6,269.1 129.1,268.8 129.6,268.9 130.0,269.6 130.5,270.4 130.9,269.6 131.4,269.2 131.8,269.4 132.3,270.6 132.8,271.0 133.2,271.8 133.7,271.7 134.1,269.2 134.6,269.0 135.0,268.4 135.5,268.6 136.0,267.9 136.4,267.7 136.9,268.2 137.3,268.1 137.8,267.2 138.2,267.0 138.7,266.5 139.2,265.4 139.6,266.3 140.1,265.7 140.5,267.8 141.0,268.3 141.4,269.0 141.9,269.1 142.3,269.9 142.8,269.2 143.3,268.4 143.7,267.6 144.2,267.0 144.6,266.3 145.1,266.2 145.5,266.5 146.0,267.1 146.5,267.5 146.9,266.7 147.4,265.7 147.8,265.6 148.3,265.1 148.7,264.6 149.2,264.6 149.7,265.1 150.1,265.5 150.6,265.8 151.0,266.4 151.5,265.8 151.9,266.0 152.4,266.0 152.9,265.7 153.3,265.3 153.8,264.9 154.2,264.7 154.7,265.4 155.1,266.4 155.6,265.4 156.1,264.7 156.5,264.1 157.0,263.7 157.4,264.1 157.9,264.9 158.3,265.0 158.8,264.4 159.3,264.4 159.7,264.4 160.2,263.7 160.6,264.4 161.1,264.4 161.5,263.8 162.0,263.5 162.5,263.9 162.9,263.8" stroke="#ffd300" stroke-width="1.8" fill="none" stroke-linejoin="round"/>
<path d="M110.5,264.7 110.9,264.9 111.4,265.3 111.9,264.8 112.3,265.3 112.8,265.1 113.2,264.4 113.7,264.2 114.1,264.6 114.6,265.1 115.0,265.6 115.5,264.9 115.9,265.7 116.4,266.2 116.9,266.8 117.3,266.6 117.8,266.2 118.2,265.7 118.7,264.4 119.1,264.5 119.6,265.1 120.0,264.9 120.5,265.2 120.9,265.2 121.4,264.9 121.8,265.6 122.3,265.5 122.8,264.7 123.2,265.0 123.7,265.5 124.1,266.4 124.6,267.1 125.0,265.6 125.5,265.3 125.9,263.8 126.4,264.2 126.8,264.8 127.3,265.6 127.8,266.6 128.2,267.6 128.7,267.5 129.1,267.0 129.6,266.6 130.0,266.9 130.5,265.1 130.9,264.0 131.4,263.0 131.8,263.5 132.3,263.1 132.8,263.1 133.2,263.4 133.7,263.4 134.1,263.9 134.6,264.7 135.0,264.0 135.5,263.4 135.9,263.3 136.4,264.1 136.8,264.0 137.3,265.0 137.8,265.0 138.2,264.2 138.7,263.6 139.1,262.7 139.6,263.5 140.0,264.1 140.5,263.6 140.9,264.0 141.4,263.2 141.8,262.6 142.3,262.1 142.7,261.8 143.2,261.0 143.7,261.0 144.1,260.9 144.6,260.4 145.0,259.8 145.5,259.4 145.9,259.8 146.4,261.1 146.8,261.4 147.3,261.5 147.7,261.5 148.2,262.2" stroke="#0057ff" stroke-width="1.8" fill="none" stroke-linejoin="round"/>
<path d="M117.9,265.3 118.3,265.8 118.8,266.8 119.2,266.6 119.7,265.0 120.1,264.8 120.6,264.1 121.1,263.1 121.5,261.4 122.0,261.0 122.4,261.7 122.9,261.7 123.3,261.9 123.8,262.1 124.2,263.0 124.7,264.7 125.1,265.2 125.6,265.1 126.1,265.0 126.5,265.7 127.0,266.0 127.4,265.8 127.9,266.8 128.3,266.0 128.8,265.1 129.2,264.4 129.7,264.4 130.2,264.1 130.6,263.1 131.1,262.6 131.5,261.8 132.0,261.3 132.4,260.8 132.9,261.0 133.3,262.6 133.8,262.7 134.3,264.5 134.7,265.4 135.2,265.7 135.6,267.1 136.1,267.0 136.5,266.6 137.0,265.3 137.4,265.6 137.9,266.6 138.3,267.4 138.8,267.0 139.3,266.2 139.7,267.1 140.2,268.0 140.6,268.5 141.1,268.1 141.5,267.5 142.0,267.0 142.4,265.5 142.9,264.8 143.4,265.8 143.8,267.3 144.3,268.2 144.7,268.7 145.2,268.4 145.6,267.6 146.1,267.5 146.5,268.2 147.0,268.3 147.5,268.7 147.9,268.1 148.4,268.7 148.8,269.1 149.3,268.9 149.7,269.6 150.2,269.1 150.6,268.3 151.1,267.2 151.5,266.2 152.0,265.1 152.5,264.7 152.9,265.9 153.4,265.5 153.8,266.8 154.3,267.1 154.7,267.5 155.2,268.3 155.6,268.5 156.1,268.4 156.6,268.3 157.0,269.9 157.5,271.2 157.9,271.7 158.4,271.1 158.8,271.4 159.3,270.5 159.7,269.9 160.2,269.2 160.7,267.0 161.1,267.1 161.6,268.2 162.0,268.6 162.5,268.4 162.9,268.4 163.4,267.8 163.8,267.9 164.3,269.1 164.7,269.6 165.2,269.9 165.7,269.7 166.1,270.2 166.6,269.1 167.0,267.8 167.5,268.0 167.9,267.7 168.4,268.1 168.8,267.1 169.3,266.7 169.8,265.9 170.2,265.0 170.7,264.8 171.1,264.2 171.6,264.6 172.0,265.1 172.5,265.3 172.9,266.8 173.4,266.3 173.9,265.8 174.3,266.7 174.8,265.9 175.2,265.0 175.7,265.0 176.1,264.0 176.6,264.9 177.0,263.5 177.5,263.5 178.0,262.7 178.4,263.7 178.9,262.9 179.3,262.1 179.8,261.4 180.2,260.3 180.7,259.4 181.1,257.1 181.6,255.6 182.0,254.0" stroke="#0003ff" stroke-width="1.8" fill="none" stroke-linejoin="round"/>
<path d="M182.0,254.0 182.5,251.5" stroke="#0003ff" stroke-width="1.9" fill="none" stroke-dasharray="1.6 2.4"/>
<path d="M124.1,266.6 124.6,267.2 125.0,266.5 125.5,267.3 126.0,268.2 126.4,268.7 126.9,268.4 127.3,268.2 127.8,267.7 128.2,267.4 128.7,267.2 129.1,267.3 129.6,268.2 130.1,269.9 130.5,269.7 131.0,270.8 131.4,269.7 131.9,269.2 132.3,268.3 132.8,267.6 133.3,267.2 133.7,266.8 134.2,266.7 134.6,265.2 135.1,262.7 135.5,261.3 136.0,260.7 136.5,260.7 136.9,262.7 137.4,262.3 137.8,262.6 138.3,262.1 138.7,262.9 139.2,262.9 139.6,264.2 140.1,264.7 140.6,265.2 141.0,264.3 141.5,264.1 141.9,264.0 142.4,264.1 142.8,264.5 143.3,265.3 143.8,266.1 144.2,266.7 144.7,267.4 145.1,267.5 145.6,267.5 146.0,266.7 146.5,267.3 147.0,268.4 147.4,268.4 147.9,267.4 148.3,267.1 148.8,266.9 149.2,267.0 149.7,266.9 150.2,266.3 150.6,265.6 151.1,264.1 151.5,264.8 152.0,263.5 152.4,264.1 152.9,263.4 153.3,264.4 153.8,264.1 154.3,264.4 154.7,263.7 155.2,264.1 155.6,264.4 156.1,263.8 156.5,263.6 157.0,263.1 157.5,263.8 157.9,262.3 158.4,262.1 158.8,261.4 159.3,262.0 159.7,262.8 160.2,263.8 160.7,263.7 161.1,263.0 161.6,262.2 162.0,261.4 162.5,260.3 162.9,259.8 163.4,260.2 163.8,260.8 164.3,261.5 164.8,262.4 165.2,262.6 165.7,263.1 166.1,263.9 166.6,264.9 167.0,264.7 167.5,264.7 168.0,265.6 168.4,265.6 168.9,265.9 169.3,264.7 169.8,265.5 170.2,266.9 170.7,268.0 171.2,269.9 171.6,270.7 172.1,271.9 172.5,273.3" stroke="#fc0000" stroke-width="1.8" fill="none" stroke-linejoin="round"/>
<path d="M130.4,263.3 130.9,262.6 131.4,263.0 131.8,263.1 132.3,262.6 132.7,261.8 133.2,261.6 133.6,262.1 134.1,261.6 134.6,261.8 135.0,261.6 135.5,261.5 135.9,260.9 136.4,260.9 136.8,260.9 137.3,260.8 137.8,260.8 138.2,260.4 138.7,260.4 139.1,261.8 139.6,262.6 140.0,262.2 140.5,261.2 141.0,261.1 141.4,261.5 141.9,262.3 142.3,261.8 142.8,262.3 143.2,262.3 143.7,262.6 144.2,263.0 144.6,262.9 145.1,263.0 145.5,263.5 146.0,264.4 146.5,264.5 146.9,264.4 147.4,263.8 147.8,263.5 148.3,264.1 148.7,265.6 149.2,264.4 149.7,264.4 150.1,265.1 150.6,265.0 151.0,266.0 151.5,264.7 151.9,263.0 152.4,261.5 152.9,260.8 153.3,261.3 153.8,261.0 154.2,261.0 154.7,262.4 155.1,262.0 155.6,262.6 156.1,261.7 156.5,262.0 157.0,261.7 157.4,261.9 157.9,261.4 158.3,261.4 158.8,261.4 159.3,261.5 159.7,263.1 160.2,262.3 160.6,261.2 161.1,261.3 161.5,261.3 162.0,261.6 162.5,261.8 162.9,261.9 163.4,261.3 163.8,261.5 164.3,260.8 164.7,260.4 165.2,261.3 165.7,262.3 166.1,262.7 166.6,261.8 167.0,261.2 167.5,261.3 167.9,261.4 168.4,261.4 168.9,261.5 169.3,262.4 169.8,263.0 170.2,265.2 170.7,265.9 171.1,267.1 171.6,268.7 172.1,267.6 172.5,268.5 173.0,267.8 173.4,266.0 173.9,265.9 174.3,265.6 174.8,265.3 175.3,265.8 175.7,265.9 176.2,264.5 176.6,263.6 177.1,264.5 177.5,264.5 178.0,264.6 178.5,264.5 178.9,265.3 179.4,265.2 179.8,264.8 180.3,263.9 180.7,262.9 181.2,262.0 181.7,261.4 182.1,260.7 182.6,259.4 183.0,258.4 183.5,257.3 183.9,257.2 184.4,256.8 184.9,256.0 185.3,254.6 185.8,253.3 186.2,251.7" stroke="#00cdff" stroke-width="1.8" fill="none" stroke-linejoin="round"/>
<path d="M137.3,253.4 137.7,254.2 138.2,253.6 138.6,254.8 139.1,255.3 139.5,256.7 140.0,257.4 140.4,258.9 140.9,259.7 141.4,260.8 141.8,261.1 142.3,260.6 142.7,261.2 143.2,259.9 143.6,259.4 144.1,259.2 144.5,258.1 145.0,258.1 145.5,257.9 145.9,259.2 146.4,259.4 146.8,259.3 147.3,260.3 147.7,260.9 148.2,262.1 148.7,262.4 149.1,261.9 149.6,262.9 150.0,262.9 150.5,263.8 150.9,262.7 151.4,262.6 151.8,262.2 152.3,263.0 152.8,263.0 153.2,262.2 153.7,262.7 154.1,262.4 154.6,262.5 155.0,262.8 155.5,262.6 155.9,263.9 156.4,264.6 156.9,264.0 157.3,263.1 157.8,261.4 158.2,261.1 158.7,261.3 159.1,260.7 159.6,261.2 160.0,260.8 160.5,261.1 161.0,260.6 161.4,259.9 161.9,260.6 162.3,260.6 162.8,261.1 163.2,261.7 163.7,261.9 164.1,262.3 164.6,262.3 165.1,262.1 165.5,262.4 166.0,260.7 166.4,261.0 166.9,260.3 167.3,261.0 167.8,261.1 168.3,263.3 168.7,264.3 169.2,265.2 169.6,264.1 170.1,264.7 170.5,264.6 171.0,262.2 171.4,261.2 171.9,259.5 172.4,259.6 172.8,259.5 173.3,258.8 173.7,259.2 174.2,258.8 174.6,258.5 175.1,258.6 175.5,259.7 176.0,260.4 176.5,260.0 176.9,260.3 177.4,260.3 177.8,261.1 178.3,261.1 178.7,260.1 179.2,259.2 179.6,258.5" stroke="#004cff" stroke-width="1.8" fill="none" stroke-linejoin="round"/>
<path d="M145.9,280.3 146.4,279.1" stroke="#f2ff0d" stroke-width="1.9" fill="none" stroke-dasharray="1.6 2.4"/>
<path d="M146.4,279.1 146.9,278.2 147.3,277.6 147.8,276.4 148.2,276.5 148.7,274.8 149.1,273.9 149.6,273.3 150.1,272.8 150.5,273.1 151.0,271.7 151.4,272.4 151.9,270.6 152.3,270.0 152.8,269.1 153.3,268.3 153.7,268.4 154.2,267.6 154.6,266.8 155.1,266.3 155.5,266.1 156.0,266.0 156.5,265.2 156.9,265.9 157.4,265.3 157.8,265.9 158.3,266.8 158.7,268.1 159.2,268.5 159.7,269.4 160.1,269.6 160.6,270.4 161.0,270.9 161.5,272.0 161.9,272.1 162.4,271.1 162.9,270.1 163.3,268.3 163.8,267.2 164.2,267.2 164.7,267.4 165.1,268.6 165.6,269.4 166.1,269.8 166.5,269.7 167.0,269.5 167.4,270.1 167.9,268.7 168.3,269.2 168.8,269.4 169.3,270.4 169.7,270.4 170.2,270.5 170.6,270.9 171.1,269.8 171.6,268.3 172.0,266.6 172.5,266.6 172.9,264.9 173.4,263.5 173.8,263.1 174.3,263.3 174.8,263.2 175.2,264.0 175.7,263.4 176.1,263.5 176.6,264.2 177.0,265.2 177.5,265.7 178.0,267.4 178.4,267.0 178.9,268.5 179.3,269.5 179.8,269.4 180.2,269.4 180.7,268.9 181.2,269.1 181.6,268.4 182.1,268.1 182.5,268.4 183.0,268.6 183.4,269.2 183.9,269.9 184.4,270.6 184.8,269.8 185.3,270.5 185.7,268.5 186.2,267.9 186.6,267.7 187.1,267.9 187.6,268.4 188.0,268.7 188.5,269.2 188.9,267.7 189.4,266.1 189.8,265.0 190.3,265.2 190.8,266.0 191.2,265.3 191.7,266.4 192.1,265.8 192.6,265.4 193.0,264.9 193.5,264.6 194.0,265.0 194.4,265.6 194.9,265.1 195.3,265.5 195.8,266.2 196.2,266.8 196.7,267.2 197.2,267.4 197.6,266.9 198.1,266.3 198.5,266.4 199.0,266.2 199.4,265.8 199.9,266.5 200.4,265.5" stroke="#f2ff0d" stroke-width="1.8" fill="none" stroke-linejoin="round"/>
<path d="M146.9,263.3 147.3,263.9 147.8,263.0 148.3,263.8 148.7,263.6 149.2,263.9 149.6,263.4 150.1,262.9 150.5,264.0 151.0,263.5 151.4,264.1 151.9,264.4 152.4,265.1 152.8,267.1 153.3,267.6 153.7,267.9 154.2,266.4 154.6,266.0 155.1,264.5 155.6,262.9 156.0,262.0 156.5,261.6 156.9,262.2 157.4,263.9 157.8,264.3 158.3,265.1 158.8,264.4 159.2,264.1 159.7,263.4 160.1,262.6 160.6,263.1 161.0,262.9 161.5,264.0 162.0,262.3 162.4,262.0 162.9,261.5 163.3,262.3 163.8,262.3 164.2,262.0 164.7,261.5 165.2,260.7 165.6,260.0 166.1,260.2 166.5,259.3 167.0,260.8 167.4,261.9 167.9,263.8 168.3,263.7 168.8,262.6 169.3,261.0 169.7,259.2 170.2,260.1 170.6,260.8 171.1,261.4 171.5,260.7 172.0,259.2 172.5,259.7 172.9,259.4 173.4,259.1 173.8,258.0 174.3,259.1 174.7,259.7 175.2,259.3 175.7,259.3 176.1,260.6 176.6,260.8 177.0,261.4 177.5,261.4 177.9,260.5 178.4,260.0 178.9,260.1 179.3,260.5 179.8,260.3 180.2,259.4 180.7,258.9 181.1,258.0 181.6,257.9 182.1,259.0 182.5,260.3 183.0,260.3 183.4,260.5 183.9,260.0 184.3,260.1 184.8,260.6 185.3,262.8 185.7,262.8 186.2,263.5" stroke="#00d2ff" stroke-width="1.8" fill="none" stroke-linejoin="round"/>
<path d="M156.4,266.5 156.8,266.5 157.3,266.3 157.7,265.7 158.2,266.6 158.7,266.1 159.1,266.4 159.6,267.0 160.0,266.6 160.5,267.0 160.9,266.1 161.4,266.1 161.9,267.3 162.3,267.4 162.8,265.8 163.2,265.1 163.7,263.9 164.1,263.0 164.6,263.1 165.1,263.2 165.5,263.0 166.0,264.2 166.4,264.2 166.9,264.3 167.3,265.6 167.8,266.1 168.3,265.3 168.7,264.2 169.2,263.3 169.6,263.9 170.1,264.6 170.5,263.7 171.0,263.4 171.5,262.4 171.9,262.4 172.4,262.4 172.8,261.7 173.3,263.2 173.7,264.0 174.2,265.8 174.7,266.1 175.1,266.4 175.6,269.1 176.0,269.1 176.5,267.8 176.9,267.2 177.4,266.3 177.9,267.0 178.3,265.9 178.8,266.1 179.2,265.5 179.7,265.0 180.1,264.3 180.6,264.3 181.1,264.6 181.5,265.7 182.0,265.5 182.4,266.8 182.9,267.8 183.3,267.8 183.8,267.9 184.3,267.9 184.7,268.3 185.2,266.0 185.6,267.4 186.1,267.6 186.5,268.0 187.0,266.3 187.5,265.3 187.9,264.0 188.4,264.4 188.8,264.9 189.3,266.3 189.7,265.0 190.2,264.2 190.7,263.3 191.1,263.5 191.6,263.6 192.0,263.5 192.5,263.8 192.9,263.8 193.4,263.6 193.9,262.9 194.3,261.7 194.8,262.0 195.2,261.1 195.7,261.8 196.1,263.0 196.6,263.8 197.1,263.7 197.5,263.5 198.0,263.1 198.4,262.2 198.9,260.4 199.3,260.2 199.8,258.8 200.3,259.1 200.7,259.6 201.2,259.6 201.6,261.8 202.1,262.3 202.5,261.9 203.0,261.4 203.5,261.0 203.9,260.9 204.4,260.9" stroke="#d40000" stroke-width="1.8" fill="none" stroke-linejoin="round"/>
<path d="M159.2,262.8 159.6,263.8 160.1,264.9 160.6,265.0 161.0,264.6 161.5,263.8 161.9,263.6 162.4,262.2 162.8,263.2 163.3,261.9 163.7,262.6 164.2,262.7 164.7,262.8 165.1,263.0 165.6,262.8 166.0,262.8 166.5,262.9 166.9,263.0 167.4,262.4 167.8,262.5 168.3,261.9 168.8,263.0 169.2,263.2 169.7,263.6 170.1,264.4 170.6,264.5 171.0,264.9 171.5,264.7 171.9,265.2 172.4,265.5 172.9,266.3 173.3,266.0 173.8,266.2 174.2,265.5 174.7,264.7 175.1,265.6 175.6,264.7 176.1,263.7 176.5,263.6 177.0,264.2 177.4,266.1 177.9,265.9 178.3,266.0 178.8,265.0 179.2,264.6 179.7,265.5 180.2,265.7 180.6,266.5 181.1,266.3 181.5,266.0 182.0,266.0 182.4,265.8 182.9,265.7 183.3,265.4 183.8,266.3 184.3,265.7 184.7,266.7 185.2,266.5 185.6,267.0 186.1,266.5 186.5,267.4 187.0,268.3 187.4,268.9 187.9,269.3 188.4,270.1 188.8,270.6 189.3,270.3 189.7,271.0 190.2,271.9 190.6,270.9 191.1,270.2 191.5,268.6 192.0,268.3 192.5,268.5 192.9,268.9 193.4,267.2 193.8,267.3 194.3,266.7 194.7,266.5 195.2,268.0 195.7,267.7 196.1,268.1 196.6,268.1 197.0,266.5 197.5,266.7 197.9,267.5 198.4,268.1 198.8,267.4 199.3,267.0 199.8,266.2 200.2,266.3 200.7,267.1 201.1,268.3 201.6,268.3 202.0,269.2 202.5,270.1 202.9,268.6 203.4,268.5 203.9,267.8 204.3,267.4 204.8,267.8 205.2,268.2 205.7,267.3 206.1,266.7 206.6,266.7 207.0,267.1 207.5,267.9 208.0,268.9 208.4,268.8 208.9,269.1 209.3,269.1 209.8,268.4 210.2,268.7 210.7,268.3 211.1,269.6 211.6,269.5" stroke="#a50000" stroke-width="1.8" fill="none" stroke-linejoin="round"/>
<path d="M166.7,254.8 167.2,259.1 167.6,261.5 168.1,263.8 168.5,263.4 169.0,264.8 169.4,264.6 169.9,265.8 170.3,266.3 170.8,266.3 171.3,266.4 171.7,265.7 172.2,264.8 172.6,265.3 173.1,265.1 173.5,265.9 174.0,266.7 174.5,267.0 174.9,267.7 175.4,266.7 175.8,267.4 176.3,266.2 176.7,265.5 177.2,265.8 177.6,265.2 178.1,265.1 178.6,264.9 179.0,265.4 179.5,265.4 179.9,265.5 180.4,265.6 180.8,265.2 181.3,264.4 181.7,265.0 182.2,265.1 182.7,266.4 183.1,265.6 183.6,266.0 184.0,266.1 184.5,265.7 184.9,266.2 185.4,266.7 185.8,266.5 186.3,266.6 186.8,266.7 187.2,267.1 187.7,266.5 188.1,266.7 188.6,266.8 189.0,267.4 189.5,267.4 189.9,266.9 190.4,266.8 190.9,267.3 191.3,268.2 191.8,269.5 192.2,268.2 192.7,267.7 193.1,267.3 193.6,267.2 194.0,266.9 194.5,267.2 195.0,267.6 195.4,267.6 195.9,267.5 196.3,266.9 196.8,266.8 197.2,266.5 197.7,266.0 198.2,265.5 198.6,266.5 199.1,267.1 199.5,268.3 200.0,268.6 200.4,267.5 200.9,266.6 201.3,264.9 201.8,264.7 202.3,263.8 202.7,263.4 203.2,263.5 203.6,264.1 204.1,264.7 204.5,264.1 205.0,264.3 205.4,264.3 205.9,264.9 206.4,265.0 206.8,264.7 207.3,265.2 207.7,266.9 208.2,266.6 208.6,267.0 209.1,267.3 209.5,267.1 210.0,267.5 210.5,267.0 210.9,266.5 211.4,266.1 211.8,266.6 212.3,267.8 212.7,268.5 213.2,269.5 213.6,268.9" stroke="#003aff" stroke-width="1.8" fill="none" stroke-linejoin="round"/>
<path d="M175.7,262.9 176.1,263.6 176.6,262.8 177.0,263.5 177.5,263.5 177.9,263.3 178.4,264.0 178.8,265.1 179.3,264.6 179.8,265.3 180.2,266.1 180.7,266.6 181.1,267.0 181.6,266.7 182.0,266.4 182.5,266.1 182.9,266.3 183.4,266.7 183.9,266.8 184.3,265.5 184.8,264.9 185.2,264.3 185.7,263.4 186.1,263.6 186.6,263.7 187.0,263.4 187.5,262.2 188.0,261.9 188.4,262.2 188.9,262.1 189.3,262.1 189.8,262.3 190.2,261.4 190.7,261.7 191.1,262.9 191.6,264.2 192.1,263.2 192.5,264.1 193.0,263.6 193.4,264.2 193.9,264.0 194.3,263.7 194.8,264.5 195.2,265.1 195.7,265.2 196.2,265.1 196.6,264.6 197.1,264.3 197.5,264.1 198.0,264.1 198.4,263.3 198.9,262.4 199.3,263.0 199.8,262.9 200.3,264.0 200.7,264.0 201.2,264.0 201.6,263.4 202.1,263.6 202.5,262.8 203.0,262.0 203.4,261.7 203.9,261.8 204.4,262.3 204.8,263.6 205.3,264.8 205.7,265.4 206.2,264.4 206.6,264.0 207.1,263.4 207.5,263.9 208.0,263.7 208.5,264.1 208.9,263.4 209.4,263.1 209.8,262.7 210.3,262.9 210.7,263.8 211.2,264.6 211.6,264.8 212.1,264.6 212.6,265.1 213.0,264.1 213.5,263.4 213.9,262.6 214.4,262.1 214.8,262.3 215.3,262.7 215.7,262.5 216.2,263.6 216.7,263.3 217.1,264.6 217.6,263.4 218.0,262.6 218.5,262.1 218.9,262.1 219.4,262.8 219.8,262.8 220.3,263.4 220.8,264.1 221.2,264.5 221.7,263.5 222.1,263.6 222.6,262.7 223.0,262.1 223.5,262.7 224.0,262.9 224.4,262.8 224.9,263.3 225.3,263.5 225.8,262.5 226.2,262.3 226.7,263.0 227.1,263.4" stroke="#ff3200" stroke-width="1.8" fill="none" stroke-linejoin="round"/>
<path d="M186.4,268.6 186.8,268.9 187.3,270.2 187.7,270.1 188.2,271.5 188.6,271.4 189.1,272.0 189.6,271.2 190.0,271.2 190.5,272.0 190.9,272.6 191.4,272.8 191.8,273.2 192.3,273.6 192.7,273.2 193.2,272.2 193.7,272.1 194.1,273.0 194.6,273.6 195.0,273.5 195.5,272.8 195.9,272.1 196.4,271.0 196.9,270.3 197.3,269.1 197.8,268.4 198.2,269.4 198.7,268.7 199.1,268.1 199.6,267.8 200.1,268.3 200.5,268.1 201.0,268.1 201.4,268.2 201.9,269.3 202.3,271.2 202.8,270.5 203.2,270.3 203.7,270.3 204.2,270.6 204.6,270.8 205.1,271.7 205.5,271.3 206.0,271.0 206.4,270.2 206.9,269.0 207.4,268.9 207.8,269.5 208.3,269.3 208.7,267.6 209.2,266.1 209.6,266.0 210.1,264.2 210.6,263.9 211.0,263.9 211.5,264.0 211.9,264.4 212.4,264.3 212.8,264.1 213.3,264.7 213.7,264.7 214.2,264.1 214.7,262.7 215.1,262.9 215.6,262.7 216.0,263.0 216.5,262.8 216.9,262.3 217.4,261.4 217.9,260.0 218.3,260.7 218.8,260.1 219.2,259.7 219.7,260.4 220.1,259.5 220.6,259.2 221.1,259.4 221.5,260.1 222.0,259.7 222.4,259.0 222.9,259.0 223.3,258.5 223.8,258.5 224.2,257.7 224.7,258.4 225.2,258.0 225.6,258.9 226.1,260.1 226.5,260.8 227.0,260.6 227.4,260.1 227.9,260.2 228.4,261.0" stroke="#ffc200" stroke-width="1.8" fill="none" stroke-linejoin="round"/>
<path d="M183.6,248.2 184.1,248.7 184.6,249.2 185.0,249.9 185.5,251.2 185.9,252.7 186.4,254.4 186.8,254.3 187.3,255.8 187.8,256.5 188.2,257.8 188.7,259.4 189.1,259.4 189.6,258.2 190.0,257.2 190.5,255.8 190.9,255.4 191.4,254.3 191.9,255.2 192.3,255.0 192.8,255.5 193.2,254.9 193.7,254.8 194.1,254.0 194.6,254.9 195.1,256.4 195.5,255.8 196.0,256.3 196.4,256.0 196.9,256.6 197.3,257.2 197.8,257.2 198.2,257.2 198.7,259.6 199.2,261.4 199.6,262.4 200.1,262.4 200.5,261.9 201.0,261.4 201.4,260.5 201.9,258.8 202.4,257.9 202.8,258.1 203.3,258.1 203.7,259.2 204.2,259.1 204.6,260.2 205.1,261.2 205.6,262.3 206.0,263.1 206.5,263.3 206.9,262.5 207.4,262.2 207.8,262.4 208.3,262.4 208.7,263.3 209.2,262.2 209.7,262.5 210.1,262.5 210.6,264.4 211.0,264.6 211.5,264.4 211.9,263.9 212.4,263.2 212.9,264.1 213.3,263.8 213.8,265.1 214.2,265.6 214.7,266.2 215.1,267.0 215.6,266.4 216.0,267.0 216.5,267.7 217.0,268.3 217.4,270.0" stroke="#c7ff38" stroke-width="1.8" fill="none" stroke-linejoin="round"/>
<path d="M188.2,271.9 188.7,271.2 189.1,271.2 189.6,270.1 190.0,271.0 190.5,270.5 190.9,269.4 191.4,267.5 191.8,267.3 192.3,267.3 192.7,267.4 193.2,267.5 193.7,267.2 194.1,267.6 194.6,267.1 195.0,267.0 195.5,267.1 195.9,266.5 196.4,265.5 196.8,266.0 197.3,265.2 197.8,265.9 198.2,266.9 198.7,267.9 199.1,267.5 199.6,267.7 200.0,268.4 200.5,268.9 200.9,269.4 201.4,268.7 201.8,268.6 202.3,269.2 202.8,268.9 203.2,268.2 203.7,267.3 204.1,267.7 204.6,268.0 205.0,268.4 205.5,268.6 205.9,268.7 206.4,268.9 206.9,268.7 207.3,270.0 207.8,271.1 208.2,271.7 208.7,271.4 209.1,270.9 209.6,271.0 210.0,271.2 210.5,269.8 210.9,271.0 211.4,271.5 211.9,271.8 212.3,271.6 212.8,271.3 213.2,272.0 213.7,270.9 214.1,270.5 214.6,270.7 215.0,269.7 215.5,268.5 216.0,267.3 216.4,266.1 216.9,265.6 217.3,266.5 217.8,268.4 218.2,269.3 218.7,268.3 219.1,269.7 219.6,270.2 220.0,269.9 220.5,269.1 221.0,267.1 221.4,268.0 221.9,266.7 222.3,266.0 222.8,265.9 223.2,265.5 223.7,266.1 224.1,265.6 224.6,265.2 225.1,264.9 225.5,265.6" stroke="#44ffbb" stroke-width="1.8" fill="none" stroke-linejoin="round"/>
<path d="M191.7,281.9 192.2,279.7 192.6,278.9 193.1,278.0 193.6,277.4 194.0,277.3 194.5,275.9 194.9,275.3 195.4,274.8 195.8,273.7 196.3,272.5 196.8,271.8 197.2,270.6 197.7,269.5 198.1,269.0 198.6,267.6 199.0,267.2 199.5,267.9 200.0,269.1 200.4,269.8 200.9,270.6 201.3,269.8 201.8,270.5 202.2,271.5 202.7,272.1 203.1,271.4 203.6,270.7 204.1,269.9 204.5,269.9 205.0,269.9 205.4,269.0 205.9,268.9 206.3,269.4 206.8,269.6 207.3,269.2 207.7,269.6 208.2,270.4 208.6,271.1 209.1,272.8 209.5,272.8 210.0,272.6 210.5,271.3 210.9,271.1 211.4,270.5 211.8,270.7 212.3,270.1 212.7,269.3 213.2,269.4 213.6,269.1 214.1,270.0 214.6,270.7 215.0,269.6 215.5,269.4 215.9,268.8 216.4,269.8 216.8,269.2 217.3,269.4 217.8,269.4 218.2,268.4 218.7,269.5 219.1,270.2 219.6,268.7 220.0,268.5 220.5,268.0 221.0,267.6 221.4,268.0 221.9,269.1 222.3,269.3 222.8,269.4 223.2,269.2 223.7,269.4 224.2,269.1 224.6,270.4 225.1,270.8 225.5,271.0 226.0,270.3 226.4,268.8 226.9,268.1 227.3,268.1 227.8,269.3 228.3,270.1 228.7,269.1 229.2,269.1 229.6,268.1 230.1,268.1 230.5,268.3 231.0,268.5 231.5,268.5 231.9,269.0 232.4,268.7 232.8,268.9 233.3,268.8 233.7,269.6 234.2,270.4 234.7,271.1 235.1,271.0 235.6,269.8 236.0,270.3 236.5,271.3 236.9,271.6 237.4,272.7 237.8,272.5 238.3,272.6 238.8,272.0" stroke="#ff6900" stroke-width="1.8" fill="none" stroke-linejoin="round"/>
<path d="M197.1,258.7 197.6,260.0 198.0,262.0 198.5,263.8 198.9,265.2 199.4,266.6 199.9,266.6 200.3,266.7 200.8,266.4 201.2,267.2 201.7,266.1 202.1,265.9 202.6,266.7 203.1,267.4 203.5,267.6 204.0,268.1 204.4,267.4 204.9,267.5 205.3,267.4 205.8,267.4 206.3,266.5 206.7,266.8 207.2,267.1 207.6,266.8 208.1,267.5 208.6,267.9 209.0,267.4 209.5,267.1 209.9,266.6 210.4,267.5 210.8,266.9 211.3,266.9 211.8,267.7 212.2,268.7 212.7,268.3 213.1,269.0 213.6,268.9 214.0,268.8 214.5,268.5 215.0,269.0 215.4,269.9 215.9,269.5 216.3,270.9 216.8,271.5 217.2,272.5 217.7,271.9 218.2,272.4 218.6,271.6 219.1,270.6 219.5,269.9 220.0,268.7 220.4,268.3 220.9,268.2 221.4,266.9 221.8,266.4 222.3,266.6 222.7,266.2 223.2,267.0 223.7,266.0 224.1,265.6 224.6,266.7 225.0,266.8 225.5,268.5 225.9,269.7 226.4,270.6 226.9,271.7 227.3,273.2 227.8,273.1 228.2,272.9 228.7,273.0 229.1,271.8 229.6,270.6 230.1,268.7 230.5,268.7 231.0,269.3 231.4,269.4 231.9,270.0 232.3,268.7 232.8,268.5 233.3,266.8 233.7,267.0 234.2,265.9 234.6,265.7 235.1,265.7 235.5,266.2 236.0,266.5 236.5,266.8 236.9,268.6 237.4,269.9 237.8,270.3 238.3,269.6 238.7,269.6 239.2,268.7 239.7,268.7 240.1,268.3 240.6,268.2 241.0,268.1 241.5,267.1 242.0,267.1" stroke="#ff7000" stroke-width="1.8" fill="none" stroke-linejoin="round"/>
<path d="M200.9,262.4 201.4,262.4 201.8,260.3 202.3,259.3 202.7,259.3 203.2,259.7 203.6,260.5 204.1,261.4 204.6,260.4 205.0,260.2 205.5,260.4 205.9,261.3 206.4,262.6 206.8,264.0 207.3,264.8 207.7,264.8 208.2,265.9 208.7,266.3 209.1,266.1 209.6,265.7 210.0,265.5 210.5,265.0 210.9,264.5 211.4,265.6 211.9,265.7 212.3,264.5 212.8,264.5 213.2,265.3 213.7,266.0 214.1,265.6 214.6,265.8 215.1,265.3 215.5,266.1 216.0,266.8 216.4,267.3 216.9,267.1 217.3,266.8 217.8,266.8 218.3,267.3 218.7,268.9 219.2,269.6 219.6,269.6 220.1,269.5 220.5,269.1 221.0,269.5 221.5,269.2 221.9,268.8 222.4,269.1 222.8,268.6 223.3,270.8 223.7,271.0 224.2,270.4 224.7,269.3 225.1,268.6 225.6,269.4 226.0,269.6 226.5,270.1 226.9,269.7 227.4,268.2 227.9,267.0 228.3,266.3 228.8,265.3 229.2,266.5 229.7,265.5 230.1,266.0 230.6,267.0 231.1,268.5 231.5,269.1 232.0,268.3 232.4,267.7 232.9,267.2 233.3,266.3 233.8,265.7 234.3,264.8 234.7,263.7 235.2,263.2 235.6,263.0 236.1,262.9 236.5,262.5 237.0,263.6 237.5,263.5 237.9,263.9 238.4,264.0 238.8,264.3 239.3,264.1 239.7,263.4 240.2,264.0 240.7,264.9 241.1,264.1 241.6,264.7 242.0,265.5 242.5,266.6 242.9,268.3 243.4,269.0 243.8,268.3 244.3,267.0 244.8,265.9 245.2,264.7 245.7,263.3 246.1,262.5 246.6,260.9 247.0,260.7 247.5,259.2 248.0,257.6 248.4,254.1 248.9,253.0 249.3,250.3 249.8,248.4 250.2,247.0 250.7,245.4 251.2,244.8 251.6,240.7 252.1,239.8" stroke="#c10000" stroke-width="1.8" fill="none" stroke-linejoin="round"/>
<path d="M217.5,270.4 217.9,270.4 218.4,269.3 218.8,269.7 219.3,269.0 219.8,269.3 220.2,270.9 220.7,271.9 221.1,271.1 221.6,270.8 222.0,269.5 222.5,269.5 223.0,268.9 223.4,269.3 223.9,270.4 224.3,270.0 224.8,270.0 225.3,268.6 225.7,268.3 226.2,268.3 226.6,268.6 227.1,269.3 227.5,270.3 228.0,271.5 228.5,270.6 228.9,271.3 229.4,270.6 229.8,271.1 230.3,271.5 230.7,270.6 231.2,270.0 231.7,269.5 232.1,268.1 232.6,267.5 233.0,266.9 233.5,267.2 234.0,267.5 234.4,267.4 234.9,267.7 235.3,268.1 235.8,269.1 236.2,268.9 236.7,269.2 237.2,269.6 237.6,270.1 238.1,270.4 238.5,270.9 239.0,270.6 239.4,271.8 239.9,272.7 240.4,272.7 240.8,272.8 241.3,272.4 241.7,273.1 242.2,273.7 242.7,274.1 243.1,273.9 243.6,274.3 244.0,271.8 244.5,272.6 244.9,272.1 245.4,272.7 245.9,272.6 246.3,271.3 246.8,271.1 247.2,269.4 247.7,266.5 248.1,266.3 248.6,267.9 249.1,265.2 249.5,264.0 250.0,263.5 250.4,263.6 250.9,261.9 251.4,261.0 251.8,259.2 252.3,258.8 252.7,261.5 253.2,260.7 253.6,264.0 254.1,263.6 254.6,261.8 255.0,264.4 255.5,263.3 255.9,261.6 256.4,260.8 256.8,260.6 257.3,262.3 257.8,263.8 258.2,266.9 258.7,266.4 259.1,266.4 259.6,264.7" stroke="#00efff" stroke-width="1.8" fill="none" stroke-linejoin="round"/>
<path d="M214.5,269.6 215.0,269.3 215.5,270.1 215.9,269.8 216.4,268.6 216.8,268.3 217.3,268.4 217.7,269.8 218.2,270.2 218.6,270.7 219.1,271.0 219.6,269.6 220.0,269.1 220.5,269.1 220.9,268.3 221.4,267.1 221.8,265.9 222.3,264.6 222.7,264.6 223.2,264.7 223.7,265.0 224.1,265.9 224.6,266.9 225.0,267.9 225.5,268.3 225.9,268.9 226.4,267.1 226.9,266.6 227.3,266.8 227.8,266.5 228.2,267.0 228.7,266.8 229.1,268.6 229.6,267.2 230.0,267.0 230.5,266.9 231.0,266.2 231.4,265.8 231.9,265.5 232.3,265.6 232.8,264.7 233.2,265.2 233.7,266.1 234.1,265.5 234.6,266.1 235.1,264.7 235.5,264.3 236.0,264.1 236.4,262.4 236.9,262.5 237.3,262.9 237.8,263.4 238.3,262.2 238.7,261.8 239.2,261.5 239.6,259.0 240.1,258.5 240.5,258.4 241.0,258.8 241.4,257.3 241.9,257.7 242.4,257.2 242.8,257.0 243.3,257.1 243.7,256.9 244.2,258.5 244.6,258.0 245.1,257.2 245.5,257.1 246.0,258.3 246.5,260.7 246.9,263.8 247.4,264.6 247.8,265.8 248.3,265.4 248.7,266.1 249.2,267.2 249.7,268.3 250.1,271.8 250.6,272.1 251.0,272.5 251.5,272.5 251.9,269.5 252.4,269.1 252.8,269.5 253.3,269.8 253.8,270.2 254.2,266.9 254.7,265.2 255.1,264.0 255.6,261.0 256.0,263.5 256.5,263.3 256.9,262.8 257.4,262.6 257.9,263.9 258.3,263.2 258.8,263.2 259.2,263.9 259.7,264.9 260.1,261.6 260.6,260.1 261.1,257.9 261.5,257.6 262.0,259.9 262.4,260.3 262.9,264.3 263.3,266.1 263.8,267.8 264.2,268.1 264.7,266.8 265.2,265.9 265.6,267.2 266.1,268.0 266.5,268.3 267.0,269.0 267.4,271.4 267.9,274.2 268.3,275.7 268.8,278.4 269.3,278.8" stroke="#efff10" stroke-width="1.8" fill="none" stroke-linejoin="round"/>
<path d="M221.5,266.6 222.0,265.8 222.5,264.6 222.9,264.7 223.4,264.7 223.8,264.1 224.3,265.4 224.7,265.7 225.2,265.1 225.6,265.5 226.1,264.9 226.6,264.0 227.0,262.9 227.5,262.4 227.9,263.5 228.4,263.2 228.8,264.3 229.3,265.8 229.8,266.8 230.2,267.1 230.7,266.7 231.1,265.3 231.6,265.5 232.0,264.6 232.5,264.6 232.9,264.3 233.4,262.9 233.9,262.5 234.3,262.7 234.8,263.7 235.2,264.3 235.7,264.2 236.1,265.5 236.6,265.3 237.0,265.3 237.5,264.4 238.0,263.3 238.4,263.5 238.9,262.6 239.3,261.3 239.8,262.2 240.2,261.4 240.7,263.1 241.2,261.9 241.6,261.7 242.1,259.0 242.5,258.3 243.0,259.5 243.4,260.6 243.9,260.8 244.3,261.2 244.8,260.2 245.3,259.1 245.7,259.6 246.2,259.7 246.6,259.8 247.1,260.3 247.5,259.8 248.0,258.7 248.5,257.9 248.9,258.9 249.4,259.7 249.8,259.2 250.3,259.1 250.7,258.7 251.2,258.7 251.6,258.6 252.1,257.9 252.6,257.4 253.0,259.7 253.5,259.0 253.9,257.2 254.4,254.0 254.8,253.5 255.3,257.4 255.8,259.2 256.2,256.9 256.7,254.6 257.1,252.2 257.6,254.3 258.0,253.7 258.5,255.2 258.9,254.7 259.4,256.9 259.9,256.5 260.3,259.1 260.8,258.0 261.2,259.2 261.7,256.5 262.1,255.8 262.6,253.3 263.1,253.5 263.5,252.9 264.0,254.5 264.4,254.2 264.9,254.9 265.3,253.5 265.8,251.5 266.2,253.2 266.7,251.4 267.2,257.1 267.6,258.7 268.1,259.6 268.5,258.9 269.0,261.0 269.4,262.0 269.9,262.5 270.4,261.8 270.8,260.1 271.3,258.9 271.7,254.9 272.2,254.0 272.6,251.8 273.1,253.2 273.5,253.7 274.0,252.4 274.5,252.5 274.9,252.7 275.4,253.2 275.8,252.7 276.3,253.5 276.7,253.4 277.2,255.8 277.7,256.7 278.1,255.0 278.6,256.8 279.0,255.6 279.5,258.5" stroke="#caff35" stroke-width="1.8" fill="none" stroke-linejoin="round"/>
<path d="M231.9,265.2 232.3,263.9 232.8,263.5 233.3,263.5 233.7,262.3 234.2,262.1 234.6,260.1 235.1,262.1 235.6,263.3 236.0,263.0 236.5,262.8 236.9,263.0 237.4,262.4 237.8,261.8 238.3,262.1 238.8,262.0 239.2,261.2 239.7,259.8 240.1,257.6 240.6,257.2 241.0,259.1 241.5,258.8 242.0,259.2 242.4,259.0 242.9,255.8 243.3,255.7 243.8,254.9 244.2,255.2 244.7,254.3 245.2,253.3 245.6,252.6 246.1,254.3 246.5,252.9 247.0,250.8 247.4,250.0 247.9,249.6 248.4,248.8 248.8,247.8 249.3,247.6 249.7,246.1 250.2,243.7 250.7,244.6 251.1,248.9 251.6,250.6 252.0,250.9 252.5,251.5 252.9,250.4 253.4,250.7 253.9,246.1 254.3,244.2 254.8,246.9 255.2,244.9 255.7,247.0 256.1,248.3 256.6,250.5 257.1,248.7 257.5,250.0 258.0,247.0" stroke="#8aff75" stroke-width="1.8" fill="none" stroke-linejoin="round"/>
<path d="M233.6,261.0 234.0,261.6 234.5,260.3 234.9,260.8 235.4,261.0 235.8,261.8 236.3,261.9 236.8,261.7 237.2,261.7 237.7,261.6 238.1,262.5 238.6,261.5 239.0,263.0 239.5,261.5 240.0,259.9 240.4,259.6 240.9,260.4 241.3,259.9 241.8,260.4 242.2,260.7 242.7,260.1 243.2,261.0 243.6,261.2 244.1,259.1 244.5,260.4 245.0,259.9 245.5,260.6 245.9,262.0 246.4,262.5 246.8,263.3 247.3,263.5 247.7,265.8 248.2,266.8 248.7,269.8 249.1,270.9 249.6,270.7 250.0,270.1 250.5,269.0 250.9,267.3 251.4,267.3 251.9,263.0 252.3,264.6 252.8,265.5 253.2,267.1 253.7,269.1 254.1,268.2 254.6,268.4 255.1,268.9 255.5,267.1 256.0,270.4 256.4,272.1 256.9,271.2 257.3,274.0 257.8,273.0 258.3,275.5 258.7,275.6 259.2,274.7 259.6,276.1 260.1,274.1 260.5,269.5 261.0,268.1 261.5,267.3 261.9,264.5 262.4,263.3 262.8,262.2 263.3,261.4 263.7,261.7 264.2,261.1 264.7,259.9 265.1,257.7 265.6,259.9 266.0,259.6 266.5,259.5 266.9,258.8 267.4,257.1 267.9,257.8 268.3,258.1 268.8,257.9 269.2,260.5 269.7,260.9 270.1,262.1 270.6,264.1 271.1,262.2 271.5,262.7 272.0,263.6" stroke="#0000eb" stroke-width="1.8" fill="none" stroke-linejoin="round"/>
<path d="M246.6,276.5 247.1,273.8 247.5,272.0 248.0,271.0 248.5,269.8 248.9,270.5 249.4,272.4 249.8,271.9 250.3,270.9 250.8,273.5 251.2,275.1 251.7,277.9 252.1,278.0 252.6,278.0 253.0,276.7 253.5,276.1 254.0,274.0 254.4,275.5 254.9,271.9 255.3,268.5 255.8,267.7 256.2,266.6 256.7,267.2 257.2,267.9 257.6,266.0 258.1,265.0 258.5,265.9 259.0,266.7 259.5,268.2 259.9,265.0 260.4,263.6 260.8,264.3 261.3,266.0 261.7,265.5 262.2,266.3 262.7,265.2 263.1,266.6 263.6,265.7 264.0,267.5 264.5,265.8 264.9,266.3 265.4,263.6 265.9,264.0 266.3,265.0 266.8,262.6 267.2,258.0 267.7,255.1 268.2,256.4 268.6,256.6 269.1,256.5 269.5,257.0 270.0,258.8 270.4,259.3 270.9,260.4 271.4,258.0 271.8,259.8 272.3,262.0 272.7,264.1 273.2,265.7 273.6,268.2 274.1,269.4 274.6,267.6 275.0,266.5 275.5,264.9 275.9,266.4 276.4,264.8 276.9,264.5 277.3,263.9 277.8,264.1 278.2,264.6 278.7,264.8 279.1,266.4 279.6,263.0 280.1,263.1 280.5,261.0 281.0,258.7 281.4,259.6 281.9,262.3 282.3,262.4 282.8,263.2 283.3,262.6 283.7,265.8 284.2,264.6 284.6,266.1 285.1,267.4 285.6,266.8 286.0,264.7 286.5,264.4 286.9,265.2 287.4,268.2 287.8,270.4 288.3,271.6 288.8,271.2 289.2,271.2 289.7,272.1 290.1,272.6 290.6,269.8 291.0,264.7 291.5,263.3 292.0,263.8 292.4,263.5 292.9,259.5 293.3,258.2 293.8,256.2 294.3,256.5 294.7,256.1 295.2,255.8 295.6,255.8 296.1,257.0 296.5,257.9 297.0,258.7 297.5,258.3 297.9,259.6 298.4,258.5 298.8,258.9 299.3,258.7 299.7,259.8 300.2,259.8 300.7,260.1 301.1,257.1 301.6,259.0 302.0,257.5 302.5,254.8 303.0,252.2 303.4,252.1 303.9,250.7 304.3,251.8" stroke="#d50000" stroke-width="1.8" fill="none" stroke-linejoin="round"/>
<path d="M246.3,257.7 246.8,259.0 247.2,258.8 247.7,255.9 248.1,255.9 248.6,256.1 249.1,254.5 249.5,253.3 250.0,251.5 250.4,252.9 250.9,252.4 251.3,252.3 251.8,249.6 252.3,248.7 252.7,249.1 253.2,252.1 253.6,253.1 254.1,253.6 254.5,256.3 255.0,257.3 255.5,256.2 255.9,256.8 256.4,256.9 256.8,257.5 257.3,258.9 257.8,257.5 258.2,257.6 258.7,253.9 259.1,251.9 259.6,251.4 260.0,250.2 260.5,248.4 261.0,249.9 261.4,251.7 261.9,252.2 262.3,251.5 262.8,252.5 263.2,250.7 263.7,251.4 264.2,253.7 264.6,254.4 265.1,255.4 265.5,254.3 266.0,254.1 266.4,251.5 266.9,250.5 267.4,251.8 267.8,254.8 268.3,259.2 268.7,258.6 269.2,260.7 269.7,261.0 270.1,258.5 270.6,259.2 271.0,260.2 271.5,260.2 271.9,258.7 272.4,257.4 272.9,258.7 273.3,257.0 273.8,257.7 274.2,255.1 274.7,254.7 275.1,255.2 275.6,258.8 276.1,260.7 276.5,259.2 277.0,255.4 277.4,252.0 277.9,251.8 278.4,246.8 278.8,248.2 279.3,247.1 279.7,247.0 280.2,244.6" stroke="#ffca00" stroke-width="1.8" fill="none" stroke-linejoin="round"/>
<path d="M280.2,244.6 280.6,244.4 281.1,243.1 281.6,241.9 282.0,236.7 282.5,234.4 282.9,230.9" stroke="#ffca00" stroke-width="1.9" fill="none" stroke-dasharray="1.6 2.4"/>
<path d="M252.9,255.6 253.3,255.4 253.8,257.5 254.2,257.2 254.7,257.1 255.2,256.3 255.6,254.4 256.1,255.6 256.5,255.4 257.0,256.3 257.4,257.4 257.9,258.9 258.4,258.5 258.8,260.1 259.3,261.9 259.7,263.5 260.2,263.7 260.6,264.0 261.1,263.8 261.6,263.3 262.0,261.7 262.5,259.6 262.9,259.7 263.4,262.8 263.8,266.6 264.3,267.8 264.8,265.9 265.2,265.7 265.7,264.1 266.1,268.7 266.6,271.8 267.0,274.6 267.5,275.3 267.9,278.9 268.4,277.1 268.9,278.4 269.3,275.7 269.8,274.0 270.2,274.2 270.7,274.5 271.1,274.2 271.6,273.9 272.1,271.0 272.5,269.9 273.0,267.9 273.4,267.4 273.9,265.4 274.3,261.7 274.8,259.1 275.3,257.2 275.7,259.1 276.2,259.2 276.6,259.1 277.1,258.0 277.5,257.4 278.0,256.8 278.5,258.3 278.9,256.9 279.4,256.3 279.8,254.5 280.3,256.2 280.7,254.9 281.2,252.7 281.6,254.6 282.1,254.7 282.6,254.1 283.0,252.3 283.5,250.3 283.9,248.7 284.4,247.9 284.8,247.7 285.3,247.5 285.8,251.5 286.2,254.1 286.7,255.1 287.1,258.0 287.6,255.4 288.0,256.3 288.5,256.5 289.0,255.7 289.4,256.5 289.9,253.5 290.3,252.0 290.8,250.9 291.2,252.0 291.7,253.0 292.2,249.1 292.6,251.0 293.1,251.3 293.5,254.4 294.0,256.7 294.4,258.1 294.9,258.0 295.3,254.6 295.8,256.7 296.3,257.2 296.7,257.1 297.2,255.9 297.6,254.5 298.1,257.4 298.5,260.8 299.0,262.2 299.5,260.1 299.9,257.5 300.4,255.5 300.8,253.6 301.3,253.0 301.7,255.4 302.2,255.8 302.7,255.5 303.1,255.3 303.6,258.5 304.0,259.9 304.5,260.4 304.9,260.2 305.4,259.5 305.9,260.1 306.3,259.0 306.8,261.1 307.2,264.1 307.7,264.2 308.1,263.2 308.6,263.1 309.1,259.1 309.5,260.7 310.0,258.5 310.4,257.6 310.9,256.9 311.3,256.0 311.8,255.9 312.2,255.8" stroke="#0083ff" stroke-width="1.8" fill="none" stroke-linejoin="round"/>
<path d="M259.3,259.1 259.7,258.1 260.2,255.8 260.6,253.6 261.1,253.7 261.6,253.6 262.0,251.3 262.5,255.3 262.9,252.2 263.4,253.7 263.8,254.3 264.3,254.6 264.7,254.6 265.2,251.5 265.7,250.1 266.1,246.2 266.6,248.0 267.0,246.2 267.5,246.7 267.9,245.4 268.4,243.6 268.8,243.9 269.3,244.6 269.7,248.2 270.2,247.5 270.7,246.5 271.1,246.7 271.6,247.2 272.0,245.1 272.5,245.1 272.9,244.5 273.4,244.7 273.8,246.6 274.3,244.2 274.8,244.9 275.2,243.7 275.7,243.8 276.1,241.2 276.6,242.9 277.0,242.3 277.5,239.9 277.9,239.9 278.4,242.4 278.8,245.6 279.3,246.0 279.8,247.2 280.2,246.2 280.7,249.3 281.1,246.7 281.6,246.3 282.0,248.4 282.5,246.8 282.9,242.9 283.4,240.1 283.9,240.8 284.3,245.1 284.8,247.8 285.2,251.6 285.7,252.1 286.1,249.5 286.6,250.8 287.0,254.2 287.5,256.8 287.9,257.2 288.4,254.1 288.9,251.9 289.3,252.8 289.8,253.1 290.2,253.4 290.7,252.6 291.1,253.5 291.6,253.2 292.0,255.0 292.5,251.6 293.0,249.0 293.4,247.4 293.9,244.8 294.3,244.4 294.8,248.3 295.2,253.9 295.7,255.2 296.1,257.3 296.6,257.1 297.0,256.1 297.5,257.3 298.0,256.6 298.4,254.8" stroke="#970000" stroke-width="1.8" fill="none" stroke-linejoin="round"/>
<path d="M261.6,251.7 262.1,251.9 262.5,251.5 263.0,249.1 263.4,249.6 263.9,247.4 264.4,245.8 264.8,247.5 265.3,245.3 265.7,246.3 266.2,245.8 266.6,246.4 267.1,246.2 267.5,246.5 268.0,247.7 268.5,246.6 268.9,245.1 269.4,242.9 269.8,244.2 270.3,241.5 270.7,241.4 271.2,237.8 271.7,235.8 272.1,233.9 272.6,234.3 273.0,236.2 273.5,237.6 273.9,240.4 274.4,243.9 274.8,244.4 275.3,248.6 275.8,249.0 276.2,249.4 276.7,249.4 277.1,251.0 277.6,251.5 278.0,253.0 278.5,251.0 278.9,250.6 279.4,250.9 279.9,256.8 280.3,259.9 280.8,260.6 281.2,260.6 281.7,263.6 282.1,266.6 282.6,265.2 283.1,262.5 283.5,260.4 284.0,257.9 284.4,255.9 284.9,254.6 285.3,255.6 285.8,255.4 286.2,256.9 286.7,257.7 287.2,257.9 287.6,258.7 288.1,257.6 288.5,258.8 289.0,259.9 289.4,260.0 289.9,258.9 290.3,260.6 290.8,261.9 291.3,261.2 291.7,259.4 292.2,258.6 292.6,259.7 293.1,260.7 293.5,259.8 294.0,257.9 294.5,254.1 294.9,254.4 295.4,251.3 295.8,251.0 296.3,253.6 296.7,252.7 297.2,256.0 297.6,252.8 298.1,253.4 298.6,257.3 299.0,259.6" stroke="#ff1f00" stroke-width="1.8" fill="none" stroke-linejoin="round"/>
<path d="M269.5,231.1 270.0,233.4 270.4,231.5 270.9,234.1 271.4,238.5 271.8,241.4 272.3,243.8 272.7,245.8 273.2,246.9 273.6,246.9 274.1,243.7 274.6,242.4 275.0,242.6 275.5,241.9 275.9,241.3 276.4,243.0 276.8,242.1 277.3,244.3 277.8,244.9 278.2,245.7 278.7,245.6 279.1,244.4 279.6,243.9 280.0,245.5 280.5,245.6 281.0,247.0 281.4,246.0 281.9,246.1 282.3,246.6 282.8,242.7 283.2,243.9 283.7,242.6 284.2,241.7 284.6,240.6 285.1,240.3 285.5,241.8 286.0,244.6 286.5,242.6 286.9,240.3 287.4,239.3 287.8,240.3 288.3,241.4 288.7,241.3 289.2,240.5 289.7,238.7 290.1,235.1 290.6,234.0 291.0,235.7 291.5,239.7 291.9,239.5 292.4,243.8 292.9,244.2 293.3,246.9 293.8,247.7 294.2,249.6 294.7,249.2 295.1,249.7 295.6,248.4 296.1,245.7 296.5,243.2 297.0,241.0 297.4,241.4 297.9,240.3 298.3,238.7 298.8,237.8 299.3,239.1 299.7,240.3 300.2,243.1 300.6,244.9 301.1,248.6 301.5,249.0 302.0,249.7 302.5,250.9 302.9,251.9 303.4,251.0 303.8,250.4 304.3,246.4 304.7,246.8 305.2,249.2 305.7,249.0 306.1,249.4 306.6,249.2 307.0,248.5 307.5,253.9 308.0,254.8 308.4,256.9 308.9,257.9 309.3,256.4 309.8,256.3 310.2,258.0 310.7,258.6 311.2,260.0 311.6,259.6 312.1,260.0 312.5,260.4 313.0,261.0 313.4,261.0 313.9,261.4 314.4,259.9 314.8,258.0 315.3,257.1 315.7,258.1 316.2,258.1 316.6,258.1 317.1,261.0 317.6,261.3 318.0,261.6 318.5,260.0 318.9,258.2 319.4,256.3 319.8,255.1 320.3,256.7 320.8,254.4 321.2,252.8 321.7,250.3 322.1,254.4 322.6,255.6 323.0,258.8 323.5,254.2 324.0,252.0 324.4,251.2 324.9,254.3 325.3,255.0 325.8,260.6 326.2,258.9" stroke="#ccff33" stroke-width="1.8" fill="none" stroke-linejoin="round"/>
<path d="M273.5,261.6 274.0,259.3 274.4,258.7 274.9,257.0 275.4,256.2 275.8,258.9 276.3,260.1 276.7,261.0 277.2,264.2 277.6,268.7 278.1,269.4 278.5,271.2 279.0,267.9 279.5,268.6 279.9,269.4 280.4,271.2 280.8,268.0 281.3,266.3 281.7,267.8 282.2,267.6 282.6,269.1 283.1,267.4 283.5,265.8 284.0,265.6 284.5,266.3 284.9,266.4 285.4,266.5 285.8,261.8 286.3,261.3 286.7,262.3 287.2,256.6 287.6,259.6 288.1,258.2 288.5,257.8 289.0,257.4 289.5,257.3 289.9,256.9 290.4,259.6 290.8,260.7 291.3,261.6 291.7,262.8 292.2,262.5 292.6,260.0 293.1,257.6 293.6,255.7 294.0,255.5 294.5,259.0 294.9,261.3 295.4,261.0 295.8,259.0 296.3,260.1 296.7,259.6 297.2,257.6 297.6,258.9 298.1,257.1 298.6,258.0 299.0,257.9 299.5,254.8 299.9,252.6 300.4,248.7 300.8,249.0 301.3,247.0 301.7,247.6 302.2,250.7 302.7,254.0 303.1,256.3 303.6,255.4 304.0,256.4 304.5,255.2 304.9,258.0 305.4,259.0 305.8,259.9 306.3,260.0 306.7,262.6 307.2,262.9 307.7,264.6 308.1,265.0 308.6,261.8 309.0,259.9 309.5,260.1 309.9,261.6 310.4,261.7 310.8,259.6 311.3,257.4 311.8,253.5 312.2,253.6 312.7,253.0 313.1,252.7 313.6,252.5 314.0,255.4 314.5,256.5 314.9,255.9 315.4,257.8 315.8,259.6 316.3,261.3 316.8,262.6 317.2,262.2 317.7,266.1 318.1,264.1 318.6,265.3 319.0,264.6 319.5,264.5 319.9,263.1 320.4,263.8 320.9,265.1 321.3,263.3 321.8,261.7 322.2,258.0 322.7,257.6 323.1,259.9 323.6,261.0 324.0,263.3 324.5,261.0" stroke="#ffac00" stroke-width="1.8" fill="none" stroke-linejoin="round"/>
<path d="M277.4,267.4 277.8,267.3 278.3,268.5 278.7,270.7 279.2,275.0 279.6,274.5 280.1,273.5 280.5,273.5 281.0,269.6 281.4,268.6 281.9,266.6 282.3,267.2 282.8,270.0 283.3,271.4 283.7,269.2 284.2,269.7 284.6,268.2 285.1,265.8 285.5,266.7 286.0,266.6 286.4,266.3 286.9,264.7 287.3,262.5 287.8,258.3 288.3,255.3 288.7,252.0 289.2,249.0 289.6,250.0 290.1,250.0 290.5,253.0 291.0,254.8 291.4,254.9 291.9,255.4 292.3,258.1 292.8,259.0 293.2,260.5 293.7,257.0 294.2,254.2 294.6,253.3 295.1,252.8 295.5,256.7 296.0,258.4 296.4,260.8 296.9,259.4 297.3,255.1 297.8,254.4 298.2,254.9 298.7,251.2 299.2,249.3 299.6,247.6 300.1,247.2 300.5,246.7 301.0,247.6 301.4,249.7 301.9,250.5 302.3,251.8 302.8,252.7 303.2,251.8 303.7,254.0 304.1,255.6 304.6,256.8 305.1,256.9 305.5,255.6 306.0,257.9 306.4,259.4 306.9,262.5 307.3,265.7 307.8,269.6 308.2,272.1 308.7,272.3 309.1,272.7 309.6,276.4 310.0,278.6 310.5,277.9 311.0,279.8" stroke="#ff4800" stroke-width="1.8" fill="none" stroke-linejoin="round"/>
<path d="M311.0,279.8 311.4,280.4 311.9,282.5 312.3,283.2 312.8,284.1 313.2,283.3 313.7,284.5 314.1,287.1" stroke="#ff4800" stroke-width="1.9" fill="none" stroke-dasharray="1.6 2.4"/>
<path d="M283.4,248.3 283.8,245.5 284.3,245.9 284.7,247.4 285.2,247.2 285.6,247.1 286.1,248.0 286.5,249.5 287.0,249.4 287.5,250.4 287.9,249.0 288.4,251.2 288.8,250.9 289.3,249.1 289.7,247.8 290.2,243.6 290.6,245.3 291.1,242.7 291.5,242.7 292.0,243.5 292.4,244.9 292.9,245.2 293.4,244.7 293.8,247.1 294.3,245.5 294.7,246.2 295.2,246.7 295.6,246.5 296.1,243.7 296.5,244.3 297.0,243.0 297.4,244.5 297.9,245.0 298.4,246.1 298.8,246.3 299.3,248.3 299.7,247.1 300.2,247.2 300.6,247.6 301.1,249.0 301.5,251.5 302.0,252.0 302.4,250.7 302.9,252.5 303.4,249.3 303.8,248.7 304.3,245.8 304.7,246.6 305.2,246.2 305.6,248.5 306.1,248.7 306.5,248.4 307.0,248.4 307.4,250.3 307.9,251.4 308.4,253.5 308.8,257.6 309.3,260.4 309.7,259.1 310.2,262.7 310.6,260.5 311.1,262.0 311.5,261.4 312.0,263.9 312.4,266.0 312.9,263.0 313.4,262.1 313.8,261.8 314.3,260.5 314.7,265.0 315.2,264.2 315.6,265.5 316.1,263.6 316.5,263.6 317.0,262.4 317.4,262.9 317.9,261.1 318.4,263.2 318.8,265.1 319.3,267.8 319.7,269.2 320.2,267.1 320.6,268.5 321.1,267.7 321.5,269.3 322.0,268.3 322.4,266.8 322.9,262.8 323.3,265.1 323.8,267.2 324.3,269.7 324.7,267.8 325.2,266.7 325.6,265.8 326.1,263.2 326.5,261.5 327.0,260.0 327.4,263.2 327.9,261.3 328.3,260.8" stroke="#beff41" stroke-width="1.8" fill="none" stroke-linejoin="round"/>
<path d="M287.8,260.7 288.3,262.5 288.7,260.7 289.2,258.3 289.7,259.1 290.1,257.0 290.6,255.9 291.0,253.3 291.5,254.1 291.9,253.5 292.4,253.9 292.9,252.9 293.3,251.1 293.8,252.2 294.2,251.4 294.7,247.2 295.1,245.1 295.6,242.2 296.0,245.1 296.5,245.1 297.0,245.6 297.4,247.1 297.9,249.0 298.3,247.8 298.8,247.3 299.2,248.0 299.7,247.8 300.2,248.0 300.6,247.1 301.1,250.0 301.5,247.6 302.0,247.3 302.4,246.8 302.9,246.5 303.3,246.1 303.8,247.9 304.3,245.5 304.7,246.3 305.2,242.1 305.6,241.1 306.1,241.1 306.5,243.7 307.0,245.2 307.5,245.5 307.9,246.1 308.4,244.3 308.8,243.6 309.3,245.3 309.7,246.6 310.2,246.6 310.6,252.3 311.1,254.7 311.6,260.3 312.0,262.3 312.5,264.6 312.9,262.6 313.4,263.4 313.8,262.1 314.3,260.3 314.8,259.7 315.2,256.2 315.7,256.9 316.1,255.7 316.6,252.7 317.0,254.4 317.5,255.1 317.9,256.2 318.4,253.7 318.9,253.6 319.3,253.3 319.8,256.1 320.2,255.9 320.7,258.8 321.1,257.2 321.6,255.2 322.1,255.3 322.5,254.4 323.0,255.1 323.4,254.0 323.9,254.2 324.3,250.7 324.8,246.7 325.2,244.5 325.7,243.3 326.2,246.6 326.6,248.4 327.1,254.0 327.5,254.0 328.0,257.4 328.4,258.5 328.9,257.6 329.4,256.9 329.8,257.4 330.3,257.1" stroke="#00fcff" stroke-width="1.8" fill="none" stroke-linejoin="round"/>
<path d="M296.1,260.8 296.5,260.2 297.0,260.6 297.4,260.4 297.9,261.4 298.4,261.4 298.8,262.0 299.3,258.7 299.7,259.2 300.2,258.9 300.6,259.5 301.1,259.9 301.5,262.2 302.0,263.9 302.5,265.4 302.9,264.8 303.4,263.4 303.8,259.6 304.3,258.7 304.7,261.5 305.2,263.7 305.6,263.0 306.1,261.4 306.6,257.3 307.0,254.6 307.5,254.1 307.9,255.5 308.4,255.3 308.8,255.6 309.3,256.1 309.7,253.9 310.2,252.6 310.7,253.5 311.1,255.9 311.6,258.3 312.0,260.7 312.5,263.0 312.9,263.1 313.4,264.2 313.8,263.4 314.3,262.0 314.8,259.9 315.2,258.1 315.7,257.3 316.1,256.4 316.6,257.7 317.0,257.6 317.5,258.7 317.9,260.2 318.4,261.1 318.9,258.1 319.3,257.4 319.8,258.2 320.2,258.8 320.7,259.0 321.1,257.3 321.6,261.1 322.0,264.4 322.5,267.1 322.9,266.1 323.4,264.9 323.9,265.7 324.3,264.1 324.8,264.9 325.2,263.4 325.7,263.7 326.1,263.6 326.6,266.1 327.0,263.1 327.5,259.4 328.0,255.9 328.4,254.6 328.9,254.0 329.3,254.3 329.8,252.9 330.2,252.5 330.7,253.3 331.1,255.2 331.6,256.5 332.1,257.6 332.5,258.5 333.0,257.3 333.4,258.4 333.9,258.8 334.3,260.0 334.8,261.3 335.2,262.4 335.7,264.0 336.2,268.3 336.6,270.6 337.1,272.1 337.5,274.3 338.0,275.3 338.4,274.1 338.9,276.5 339.3,275.3 339.8,278.7 340.3,279.9 340.7,282.4 341.2,287.1 341.6,283.9 342.1,282.7 342.5,279.1 343.0,276.6 343.4,276.2 343.9,275.6 344.4,273.8 344.8,273.8 345.3,275.0 345.7,273.7 346.2,273.5 346.6,271.5 347.1,273.8 347.5,272.1 348.0,269.0 348.5,267.7 348.9,265.4 349.4,265.4 349.8,265.7 350.3,269.6 350.7,267.7 351.2,270.4 351.6,269.2 352.1,271.3 352.6,269.0 353.0,271.3 353.5,271.8 353.9,275.1 354.4,276.8 354.8,279.0 355.3,280.4 355.7,280.1 356.2,282.7 356.7,284.9 357.1,286.5 357.6,284.8" stroke="#0070ff" stroke-width="1.8" fill="none" stroke-linejoin="round"/>
<path d="M357.6,284.8 358.0,283.3 358.5,281.8 358.9,281.4 359.4,283.0 359.8,284.0 360.3,284.8 360.8,286.7" stroke="#0070ff" stroke-width="1.9" fill="none" stroke-dasharray="1.6 2.4"/>
<path d="M304.0,231.3 304.5,233.4 304.9,237.3 305.4,237.1" stroke="#ff6b00" stroke-width="1.9" fill="none" stroke-dasharray="1.6 2.4"/>
<path d="M305.4,237.1 305.8,239.9 306.3,241.3 306.8,243.1 307.2,244.9 307.7,247.1 308.1,249.0 308.6,249.0 309.0,246.3 309.5,246.7 309.9,247.9 310.4,248.9 310.9,253.3 311.3,254.9 311.8,255.6 312.2,254.2 312.7,255.0 313.1,251.9 313.6,253.5 314.1,251.2 314.5,249.6 315.0,248.5 315.4,246.6 315.9,251.3 316.3,252.8 316.8,254.2 317.2,255.5 317.7,257.0 318.2,258.0 318.6,256.4 319.1,259.8 319.5,260.4 320.0,257.7 320.4,257.7 320.9,257.9 321.4,259.2 321.8,258.8 322.3,260.4 322.7,259.8 323.2,258.2 323.6,260.2 324.1,261.2 324.5,261.5 325.0,263.4 325.5,265.7 325.9,267.3 326.4,268.8 326.8,269.5 327.3,267.2 327.7,265.4 328.2,265.3 328.7,266.5 329.1,267.9 329.6,266.6 330.0,263.3 330.5,263.0 330.9,262.8 331.4,262.7 331.8,264.6 332.3,264.5 332.8,266.8 333.2,269.2 333.7,269.4 334.1,270.0 334.6,269.0 335.0,269.6 335.5,269.7 335.9,270.5 336.4,272.4 336.9,270.9 337.3,274.0 337.8,273.1 338.2,272.0 338.7,274.1 339.1,272.2 339.6,270.3 340.1,269.4 340.5,266.8 341.0,267.6 341.4,267.3 341.9,270.2 342.3,272.0 342.8,273.5 343.2,275.0 343.7,273.0 344.2,270.7 344.6,271.4 345.1,271.8 345.5,271.4 346.0,272.5 346.4,272.6 346.9,272.9 347.4,271.2 347.8,271.7 348.3,270.4 348.7,267.9 349.2,268.2 349.6,267.9 350.1,269.6 350.5,270.9 351.0,270.5 351.5,273.5 351.9,274.2 352.4,276.1 352.8,277.9 353.3,281.1 353.7,279.8 354.2,281.1 354.6,283.7 355.1,282.9 355.6,282.7 356.0,284.8 356.5,287.8 356.9,287.7 357.4,288.6 357.8,289.8 358.3,290.5 358.8,288.9" stroke="#ff6b00" stroke-width="1.8" fill="none" stroke-dasharray="5 2.5"/>
<path d="M358.8,288.9 359.2,288.4 359.7,291.1" stroke="#ff6b00" stroke-width="1.9" fill="none" stroke-dasharray="1.6 2.4"/>
<path d="M310.0,255.4 310.4,255.5 310.9,256.1 311.4,257.5 311.8,257.8 312.3,262.4 312.7,263.2 313.2,266.2 313.6,267.9 314.1,266.3 314.5,265.8 315.0,266.5 315.5,264.2 315.9,267.6 316.4,268.0 316.8,267.8 317.3,267.7 317.7,264.7 318.2,262.6 318.7,261.0 319.1,262.9 319.6,261.4 320.0,264.0 320.5,262.9 320.9,262.4 321.4,262.1 321.9,263.5 322.3,261.2 322.8,261.6 323.2,260.8 323.7,262.8 324.1,263.0 324.6,264.4 325.1,265.9 325.5,269.1 326.0,269.2 326.4,266.8 326.9,265.1 327.3,262.4 327.8,259.7 328.2,259.4 328.7,258.1 329.2,259.4 329.6,259.4 330.1,261.7 330.5,260.4 331.0,261.1 331.4,258.2 331.9,256.3 332.4,254.5 332.8,252.9 333.3,253.1 333.7,252.9 334.2,251.4 334.6,251.7 335.1,250.6 335.6,250.9 336.0,250.4 336.5,252.9 336.9,253.8 337.4,256.9 337.8,256.9 338.3,256.4 338.8,257.1 339.2,257.3 339.7,258.1 340.1,261.0 340.6,263.2 341.0,263.2 341.5,261.7 341.9,261.0 342.4,261.8 342.9,264.4 343.3,265.5 343.8,266.2 344.2,267.4 344.7,267.9 345.1,272.2 345.6,274.8 346.1,275.1 346.5,273.1 347.0,273.2 347.4,273.6 347.9,275.3 348.3,278.5 348.8,277.8 349.3,275.2 349.7,273.6 350.2,268.7 350.6,266.4 351.1,264.3 351.5,263.2 352.0,261.0 352.5,259.9 352.9,259.1 353.4,258.4 353.8,257.6 354.3,256.6 354.7,258.2" stroke="#0000d8" stroke-width="1.8" fill="none" stroke-dasharray="5 2.5"/>
<path d="M320.0,248.4 320.5,252.8 320.9,254.0 321.4,256.8 321.9,261.4 322.3,266.7" stroke="#0072ff" stroke-width="1.9" fill="none" stroke-dasharray="1.6 2.4"/>
<path d="M322.3,266.7 322.8,268.1 323.2,270.2 323.7,270.0 324.2,273.0 324.6,269.7 325.1,271.2 325.5,269.0 326.0,270.8 326.4,272.0 326.9,273.1 327.4,275.3 327.8,277.7 328.3,277.7 328.7,281.3 329.2,280.8 329.6,279.7 330.1,279.0 330.6,279.4 331.0,279.5 331.5,281.0 331.9,281.2 332.4,279.5 332.9,276.2 333.3,273.4 333.8,272.9 334.2,273.3 334.7,272.5 335.1,271.3 335.6,270.8 336.1,272.1 336.5,272.5 337.0,276.0 337.4,276.8 337.9,279.0 338.3,280.2 338.8,280.1 339.3,282.0 339.7,283.0 340.2,281.2 340.6,278.7 341.1,278.9 341.6,283.4 342.0,284.2 342.5,286.2 342.9,285.7 343.4,286.5 343.8,286.2 344.3,289.9 344.8,289.4 345.2,288.9 345.7,286.7 346.1,288.5 346.6,284.2 347.0,283.4 347.5,283.7 348.0,288.0 348.4,288.8 348.9,293.4 349.3,294.3 349.8,293.8 350.2,293.1 350.7,292.0 351.2,289.4 351.6,292.1 352.1,292.1 352.5,289.3 353.0,289.1 353.5,288.3 353.9,288.3 354.4,286.9 354.8,285.2 355.3,284.7 355.7,283.7 356.2,285.0 356.7,285.0 357.1,284.1 357.6,284.9 358.0,284.8 358.5,285.4 358.9,279.6 359.4,275.3 359.9,274.6 360.3,276.8 360.8,275.5 361.2,275.6 361.7,274.2 362.2,274.6 362.6,273.8 363.1,274.3 363.5,274.6 364.0,274.8 364.4,272.8 364.9,272.7 365.4,272.5 365.8,273.9" stroke="#0072ff" stroke-width="1.8" fill="none" stroke-dasharray="5 2.5"/>
<path d="M324.1,253.5 324.6,252.3 325.0,251.1 325.5,250.5 325.9,251.4 326.4,250.4 326.8,251.0 327.3,250.8 327.8,253.0 328.2,250.5 328.7,252.5 329.1,253.8 329.6,257.5 330.0,258.1 330.5,262.5 330.9,266.5 331.4,268.6 331.9,269.6 332.3,269.2 332.8,269.7 333.2,271.7 333.7,272.1 334.1,274.9 334.6,274.5 335.0,272.6 335.5,272.1 336.0,274.5 336.4,276.0 336.9,276.3 337.3,273.9 337.8,275.8 338.2,276.6 338.7,278.9 339.1,279.6 339.6,276.1 340.1,273.8 340.5,270.0 341.0,269.5 341.4,268.9 341.9,270.5 342.3,271.5 342.8,272.5 343.2,274.8 343.7,274.1 344.2,274.5 344.6,271.6 345.1,270.4 345.5,268.5 346.0,270.1 346.4,268.0 346.9,264.8 347.3,264.8 347.8,265.5 348.3,263.4 348.7,263.1 349.2,263.4 349.6,265.3 350.1,267.0 350.5,269.7 351.0,269.1 351.4,272.8 351.9,272.6 352.4,272.7 352.8,270.4 353.3,270.7 353.7,273.8 354.2,275.0 354.6,274.0 355.1,274.1 355.6,273.1 356.0,274.2 356.5,274.6 356.9,276.0 357.4,275.0 357.8,274.7 358.3,273.4 358.7,272.4 359.2,271.8 359.7,275.1 360.1,276.0" stroke="#a10000" stroke-width="1.8" fill="none" stroke-dasharray="5 2.5"/>
<path d="M330.8,280.0 331.2,277.0 331.7,275.4 332.1,275.7 332.6,276.6 333.0,276.6 333.5,276.2" stroke="#0059ff" stroke-width="1.9" fill="none" stroke-dasharray="1.6 2.4"/>
<path d="M333.5,276.2 334.0,273.1 334.4,271.3 334.9,267.9 335.3,267.8 335.8,271.4 336.2,273.3 336.7,273.3 337.1,272.1 337.6,274.2 338.0,273.7 338.5,276.0 339.0,276.9 339.4,277.1 339.9,276.8 340.3,275.1 340.8,274.7 341.2,272.9 341.7,271.5 342.1,270.9 342.6,271.4 343.0,274.4 343.5,275.6 344.0,276.7 344.4,275.7 344.9,275.0 345.3,272.6 345.8,271.9 346.2,273.4 346.7,274.0 347.1,275.7 347.6,278.7 348.1,278.4 348.5,275.1 349.0,274.6 349.4,271.7 349.9,270.7 350.3,270.5 350.8,267.6 351.2,268.8 351.7,267.4 352.1,268.7 352.6,268.5 353.1,267.8 353.5,265.5 354.0,264.6 354.4,263.5 354.9,262.8 355.3,263.6 355.8,264.8 356.2,265.5 356.7,263.5 357.1,266.9 357.6,265.1 358.1,266.9 358.5,267.4 359.0,266.5 359.4,268.5 359.9,267.9 360.3,270.2 360.8,272.7 361.2,271.8 361.7,269.7 362.1,270.5 362.6,267.9 363.1,265.6 363.5,263.2 364.0,260.7 364.4,259.2 364.9,256.5 365.3,255.5 365.8,256.1 366.2,256.8 366.7,257.9 367.2,256.9 367.6,259.4 368.1,263.2 368.5,265.9 369.0,266.2 369.4,270.6 369.9,274.2 370.3,273.5 370.8,272.8 371.2,268.8 371.7,266.1 372.2,266.7 372.6,264.0 373.1,265.3 373.5,266.0 374.0,267.4 374.4,266.8 374.9,267.5" stroke="#0059ff" stroke-width="1.8" fill="none" stroke-dasharray="5 2.5"/>
<path d="M334.4,237.4 334.8,237.9 335.3,238.3 335.7,241.6 336.2,245.2 336.6,247.9 337.1,250.8 337.6,253.2 338.0,253.5 338.5,253.5 338.9,253.5 339.4,254.6 339.8,251.3 340.3,249.1 340.7,248.3 341.2,247.9 341.7,247.7 342.1,247.7 342.6,248.0 343.0,246.6 343.5,250.2 343.9,249.3 344.4,247.3 344.9,249.2 345.3,249.6 345.8,248.9 346.2,246.6 346.7,245.0 347.1,247.2 347.6,248.0 348.0,249.0 348.5,247.2 349.0,249.6 349.4,249.6 349.9,249.0 350.3,250.0 350.8,250.3 351.2,249.4 351.7,248.9 352.2,249.8 352.6,251.2 353.1,254.6 353.5,256.3 354.0,258.0 354.4,256.8 354.9,253.8 355.3,254.7 355.8,254.1 356.3,253.2 356.7,253.5 357.2,253.9 357.6,253.8 358.1,258.2 358.5,259.5 359.0,261.3 359.4,260.2 359.9,261.3 360.4,260.4 360.8,262.5 361.3,261.0 361.7,260.2 362.2,259.7 362.6,258.9 363.1,260.5 363.6,260.6 364.0,259.9 364.5,260.6 364.9,260.9 365.4,261.2 365.8,262.6 366.3,263.5 366.7,263.7 367.2,262.0 367.7,263.8 368.1,262.9 368.6,261.8 369.0,263.3 369.5,261.9 369.9,263.3 370.4,260.9 370.9,263.0 371.3,265.8 371.8,266.6 372.2,267.6 372.7,267.0 373.1,266.0 373.6,263.3 374.0,261.8 374.5,260.8 375.0,260.2 375.4,260.6 375.9,261.8 376.3,262.5 376.8,262.5 377.2,266.0 377.7,269.1 378.2,272.1 378.6,270.2 379.1,271.2 379.5,270.7 380.0,271.5 380.4,272.4 380.9,273.3 381.3,271.5 381.8,269.3 382.3,265.0 382.7,264.6 383.2,264.6 383.6,263.2 384.1,262.7 384.5,262.9 385.0,260.7 385.4,259.1 385.9,256.4 386.4,252.9 386.8,255.7 387.3,255.0 387.7,254.4 388.2,255.4 388.6,253.4 389.1,255.0 389.6,252.7 390.0,251.5 390.5,249.2 390.9,247.6 391.4,247.5 391.8,243.7 392.3,244.0 392.7,245.6 393.2,246.5" stroke="#ff4200" stroke-width="1.8" fill="none" stroke-linejoin="round"/>
<path d="M338.9,260.7 339.3,261.2 339.8,264.9 340.2,265.6 340.7,268.4 341.2,270.1 341.6,269.8 342.1,270.2 342.5,272.6 343.0,275.4 343.4,274.8 343.9,273.3 344.4,274.7 344.8,273.2 345.3,273.0 345.7,274.1 346.2,275.2 346.7,280.4 347.1,280.7 347.6,280.3 348.0,280.0 348.5,279.3 348.9,279.2 349.4,277.9 349.9,278.1 350.3,276.5 350.8,275.2 351.2,278.1 351.7,278.5 352.1,280.1 352.6,282.0 353.1,280.8 353.5,280.8 354.0,276.8 354.4,279.8 354.9,278.4 355.4,277.1 355.8,276.9 356.3,275.0 356.7,275.1 357.2,273.8 357.6,274.0 358.1,271.3 358.6,274.1 359.0,273.2 359.5,273.1 359.9,273.8 360.4,270.6 360.8,272.3 361.3,270.8 361.8,270.4 362.2,270.6 362.7,268.8 363.1,267.9 363.6,266.1 364.1,267.0 364.5,266.9 365.0,267.5 365.4,266.0 365.9,265.6 366.3,265.1 366.8,265.0 367.3,266.5 367.7,267.2 368.2,267.8 368.6,268.0 369.1,270.2 369.6,270.4 370.0,270.7 370.5,270.0 370.9,271.1 371.4,273.0 371.8,275.8 372.3,278.1 372.8,282.1 373.2,284.6 373.7,287.6 374.1,287.9 374.6,283.2 375.0,283.4 375.5,281.9 376.0,278.8 376.4,275.1 376.9,274.7 377.3,273.4 377.8,271.6 378.3,274.8 378.7,274.5 379.2,277.4 379.6,276.4 380.1,274.6 380.5,275.4 381.0,276.4 381.5,277.0" stroke="#00d0ff" stroke-width="1.8" fill="none" stroke-dasharray="5 2.5"/>
<path d="M340.5,260.6 340.9,262.0 341.4,262.7 341.9,262.4 342.3,262.4 342.8,262.3 343.2,261.5 343.7,261.2 344.1,265.2 344.6,266.2 345.0,268.3 345.5,270.5 346.0,269.7 346.4,268.1 346.9,266.3 347.3,264.9 347.8,266.3 348.2,268.4 348.7,268.1 349.2,269.3 349.6,269.5 350.1,270.1 350.5,269.5 351.0,267.7 351.4,264.6 351.9,262.1 352.3,260.4 352.8,258.8 353.3,257.2 353.7,257.3 354.2,254.7 354.6,254.4 355.1,252.4 355.5,253.2 356.0,254.3 356.4,251.6 356.9,252.7 357.4,251.1 357.8,254.0 358.3,255.4 358.7,255.0 359.2,254.1 359.6,253.8 360.1,254.8 360.5,254.3 361.0,254.0 361.5,255.0 361.9,252.4 362.4,251.2 362.8,249.3 363.3,251.5 363.7,252.0 364.2,252.9 364.6,255.5 365.1,255.6 365.6,254.2 366.0,251.3 366.5,249.3 366.9,251.1 367.4,251.1 367.8,252.2 368.3,251.4 368.7,251.0 369.2,253.1 369.7,255.2 370.1,256.8 370.6,256.1 371.0,254.6 371.5,255.9 371.9,256.6 372.4,255.9 372.8,257.3 373.3,258.3 373.8,262.7 374.2,264.3 374.7,263.6 375.1,264.8 375.6,266.1 376.0,265.8 376.5,264.4 376.9,262.2 377.4,261.4 377.9,260.4 378.3,264.4 378.8,265.8 379.2,265.5 379.7,264.7 380.1,265.5 380.6,266.1 381.0,263.1 381.5,263.5 382.0,257.1 382.4,255.7 382.9,252.0 383.3,252.6 383.8,250.0 384.2,250.1 384.7,250.1 385.1,251.8 385.6,251.8 386.1,254.4 386.5,258.3 387.0,260.2 387.4,262.5 387.9,262.6 388.3,264.6 388.8,266.8 389.2,271.5 389.7,271.6 390.2,271.9 390.6,272.2 391.1,271.2 391.5,273.1 392.0,273.0 392.4,274.5" stroke="#0000f2" stroke-width="1.8" fill="none" stroke-dasharray="5 2.5"/>
<path d="M347.0,257.3 347.5,257.5 347.9,257.8 348.4,259.1 348.8,261.0 349.3,260.7 349.8,260.5 350.2,258.3 350.7,258.3 351.1,260.2 351.6,262.2 352.0,261.1 352.5,258.4 353.0,254.9 353.4,254.1 353.9,253.4 354.3,254.9 354.8,257.6 355.2,259.4 355.7,260.0 356.1,260.7 356.6,264.3 357.1,266.4 357.5,265.4 358.0,269.2 358.4,271.5 358.9,275.2 359.3,272.7 359.8,272.0 360.2,271.4 360.7,270.9 361.2,271.9 361.6,269.7 362.1,267.8 362.5,264.4 363.0,261.0 363.4,259.0 363.9,258.7 364.3,258.7 364.8,262.6 365.3,265.5 365.7,264.1 366.2,264.2 366.6,264.6 367.1,265.6 367.5,265.6 368.0,265.1 368.5,264.6 368.9,262.3 369.4,262.0 369.8,265.6 370.3,269.0 370.7,267.8 371.2,265.4 371.6,265.9 372.1,266.3 372.6,265.2 373.0,262.8 373.5,262.7 373.9,261.9 374.4,261.5 374.8,261.4 375.3,263.4 375.7,263.9 376.2,265.3 376.7,265.6 377.1,266.7 377.6,265.4 378.0,265.8 378.5,263.0 378.9,263.4 379.4,263.8 379.8,263.1 380.3,261.1 380.8,261.4 381.2,260.0 381.7,260.2 382.1,262.4 382.6,263.2 383.0,262.2 383.5,262.4 383.9,261.0 384.4,262.8 384.9,260.9 385.3,259.3 385.8,256.1 386.2,255.2 386.7,248.4" stroke="#00c5ff" stroke-width="1.8" fill="none" stroke-dasharray="5 2.5"/>
<path d="M355.9,255.2 356.3,258.5 356.8,262.0 357.2,264.0 357.7,263.9 358.2,265.2 358.6,265.9 359.1,263.5 359.5,262.9 360.0,263.8 360.4,261.4 360.9,258.3 361.4,260.5 361.8,261.2 362.3,260.2 362.7,257.3 363.2,253.8 363.7,253.0 364.1,255.1 364.6,255.0 365.0,255.2 365.5,256.3 365.9,256.8 366.4,259.1 366.9,260.6 367.3,260.7 367.8,264.5 368.2,262.9 368.7,264.0 369.2,262.6 369.6,260.4 370.1,260.3 370.5,261.8 371.0,260.5 371.4,258.4 371.9,255.2 372.4,254.8 372.8,254.5 373.3,254.1 373.7,256.3 374.2,255.9 374.6,254.0 375.1,252.8 375.6,253.3 376.0,251.6 376.5,252.0 376.9,250.9 377.4,251.3 377.9,252.3 378.3,255.4 378.8,253.0 379.2,252.6 379.7,251.2 380.1,253.0 380.6,251.1 381.1,251.9 381.5,251.0 382.0,249.3 382.4,247.4 382.9,245.4 383.3,243.0 383.8,245.7 384.3,245.0 384.7,242.4 385.2,243.6 385.6,243.3 386.1,245.7 386.6,245.2 387.0,245.5 387.5,247.8 387.9,247.2 388.4,247.4 388.8,246.3 389.3,244.4 389.8,245.4 390.2,249.3 390.7,248.4 391.1,247.0 391.6,245.6 392.0,243.6 392.5,245.1 393.0,245.7 393.4,245.5 393.9,249.0 394.3,252.8 394.8,256.4 395.3,255.0 395.7,255.8 396.2,254.0 396.6,252.2 397.1,254.5 397.5,250.5 398.0,250.8 398.5,248.6 398.9,247.5 399.4,246.7 399.8,247.0 400.3,247.0" stroke="#0095ff" stroke-width="1.8" fill="none" stroke-dasharray="5 2.5"/>
<path d="M358.0,273.6 358.5,274.1 358.9,273.1 359.4,275.1 359.9,277.4 360.3,277.0 360.8,278.0 361.2,276.2 361.7,277.1 362.1,277.2 362.6,275.4 363.1,274.8 363.5,275.1 364.0,273.9 364.4,274.3 364.9,273.4 365.3,274.5 365.8,273.3 366.3,273.3 366.7,272.7 367.2,270.6 367.6,270.0 368.1,267.1 368.5,267.5 369.0,266.8 369.5,266.8 369.9,265.2 370.4,266.7 370.8,267.3 371.3,266.6 371.7,268.8 372.2,269.1 372.7,268.8 373.1,274.8 373.6,274.2 374.0,273.3 374.5,271.2 374.9,271.3 375.4,270.0 375.9,269.9 376.3,267.4 376.8,266.4 377.2,269.1 377.7,269.7 378.1,270.9 378.6,271.7 379.1,273.1 379.5,272.8 380.0,273.4 380.4,273.1 380.9,271.6 381.3,270.4 381.8,270.7 382.3,270.1 382.7,270.5 383.2,270.4 383.6,269.8 384.1,272.8 384.5,272.0 385.0,272.4 385.5,271.3 385.9,267.6 386.4,267.4 386.8,267.9 387.3,267.4 387.7,269.7 388.2,267.4 388.7,268.4 389.1,267.5 389.6,266.4 390.0,266.7 390.5,266.5 390.9,263.7 391.4,264.2 391.9,261.9 392.3,263.0 392.8,260.8 393.2,260.3 393.7,260.7 394.1,260.7 394.6,261.5 395.1,264.8 395.5,266.1 396.0,267.4 396.4,268.7 396.9,269.4 397.3,269.9 397.8,270.8 398.3,271.5 398.7,268.6 399.2,267.7 399.6,266.9 400.1,265.4 400.5,266.5" stroke="#37ffc8" stroke-width="1.8" fill="none" stroke-dasharray="5 2.5"/>
<path d="M365.5,261.1 366.0,262.3 366.5,263.9 366.9,266.0 367.4,265.0 367.8,264.3 368.3,263.6 368.7,263.6 369.2,260.2 369.7,260.4 370.1,258.3 370.6,258.4 371.0,257.7 371.5,256.8 371.9,256.8 372.4,254.0 372.9,252.8 373.3,252.3 373.8,250.3 374.2,250.4 374.7,249.7 375.1,250.3 375.6,247.1 376.1,250.7 376.5,249.6 377.0,250.5 377.4,254.6 377.9,259.2 378.3,258.4 378.8,255.3 379.3,253.0 379.7,253.0 380.2,251.5 380.6,252.6 381.1,254.1 381.5,253.6 382.0,252.7 382.5,251.4 382.9,248.5 383.4,249.1 383.8,247.8 384.3,248.0 384.7,249.4 385.2,253.2 385.7,257.3 386.1,257.8 386.6,259.5 387.0,259.0 387.5,258.7 387.9,259.6 388.4,261.9 388.9,260.9 389.3,258.7 389.8,258.1 390.2,259.5 390.7,260.8 391.2,259.1 391.6,261.2 392.1,260.1 392.5,260.7 393.0,262.0 393.4,261.7 393.9,262.9 394.4,261.4 394.8,263.4 395.3,265.1 395.7,267.7 396.2,268.9 396.6,268.6 397.1,270.4 397.6,268.5 398.0,266.2 398.5,266.9 398.9,265.9 399.4,266.7 399.8,268.0 400.3,264.6" stroke="#99ff66" stroke-width="1.8" fill="none" stroke-dasharray="5 2.5"/>
<path d="M381.2,266.8 381.7,265.5 382.1,265.6 382.6,263.3 383.0,264.1 383.5,264.4 383.9,263.7 384.4,263.5 384.9,261.3 385.3,259.4 385.8,260.5 386.2,261.7 386.7,261.9 387.1,260.6 387.6,258.5 388.1,259.3 388.5,258.3 389.0,259.3 389.4,258.8 389.9,260.6 390.3,260.7 390.8,261.1 391.2,264.1 391.7,260.5 392.2,262.2 392.6,263.5 393.1,263.9 393.5,263.0 394.0,262.9 394.4,263.5 394.9,266.6 395.4,265.5 395.8,265.3 396.3,265.2 396.7,266.7 397.2,266.8 397.6,267.2 398.1,264.9 398.6,264.4 399.0,264.8 399.5,264.0 399.9,264.0 400.4,265.0" stroke="#00a8ff" stroke-width="1.8" fill="none" stroke-dasharray="5 2.5"/>
<path d="M376.7,244.8 377.1,252.0 377.6,257.1" stroke="#ad0000" stroke-width="1.9" fill="none" stroke-dasharray="1.6 2.4"/>
<path d="M377.6,257.1 378.0,259.2 378.5,260.5 378.9,262.6 379.4,266.3 379.9,264.1 380.3,262.6 380.8,260.2 381.2,260.6 381.7,259.0 382.1,259.0 382.6,261.9 383.1,263.6 383.5,264.9 384.0,261.0 384.4,261.6 384.9,264.4 385.3,264.0 385.8,267.5 386.2,266.5 386.7,265.8 387.2,265.1 387.6,264.9 388.1,264.0 388.5,263.0 389.0,260.7 389.4,259.6 389.9,255.8 390.4,257.8 390.8,262.5 391.3,264.4 391.7,262.3 392.2,261.7 392.6,260.1 393.1,260.1 393.5,259.6 394.0,262.5 394.5,263.6 394.9,261.8 395.4,262.8 395.8,264.1 396.3,264.5 396.7,264.2 397.2,260.2 397.7,259.6 398.1,260.3 398.6,260.9 399.0,262.9 399.5,261.2 399.9,259.1 400.4,257.6" stroke="#ad0000" stroke-width="1.8" fill="none" stroke-linejoin="round"/>
<path d="M384.9,264.0 385.4,263.6 385.8,263.5 386.3,264.2 386.7,266.3 387.2,268.0 387.6,269.7 388.1,269.4 388.5,269.5 389.0,269.3 389.5,270.3 389.9,272.3 390.4,274.6 390.8,274.3 391.3,275.9 391.7,277.6 392.2,276.1 392.7,275.3 393.1,271.9 393.6,268.2 394.0,267.8 394.5,266.2 394.9,266.0 395.4,267.5 395.8,268.5 396.3,268.7 396.8,269.5 397.2,269.3 397.7,269.2 398.1,272.0 398.6,274.7 399.0,275.9 399.5,277.1 399.9,277.3 400.4,274.0" stroke="#940000" stroke-width="1.8" fill="none" stroke-dasharray="5 2.5"/>
<path d="M391.2,261.6 391.6,263.6 392.1,262.1 392.5,256.7 393.0,257.8 393.4,260.6 393.9,262.9 394.4,261.3 394.8,262.1 395.3,265.1 395.7,265.3 396.2,265.7 396.7,263.9 397.1,264.7 397.6,263.3 398.0,263.2 398.5,263.9 398.9,264.8 399.4,263.1" stroke="#008dff" stroke-width="1.8" fill="none" stroke-linejoin="round"/>
<path d="M399.4,263.1 399.9,264.5 400.3,265.8" stroke="#008dff" stroke-width="1.9" fill="none" stroke-dasharray="1.6 2.4"/>
<path d="M394.8,259.1 395.2,261.4" stroke="#00e8ff" stroke-width="1.9" fill="none" stroke-dasharray="1.6 2.4"/>
<path d="M395.2,261.4 395.7,262.7 396.1,265.3 396.6,266.9 397.1,267.4 397.5,269.4 398.0,272.9 398.4,275.6 398.9,277.1 399.3,280.0 399.8,280.4 400.3,281.5" stroke="#00e8ff" stroke-width="1.8" fill="none" stroke-linejoin="round"/>
<path d="M109.8,236.9 C109.9,238.6 110.1,244.1 110.3,247.4 C110.5,250.7 110.6,254.4 110.9,256.6 C111.2,258.9 111.9,260.2 112.0,261.0" stroke="#ffe600" stroke-width="1.9" fill="none" stroke-dasharray="1.6 2.2"/>
<path d="M258.6,217.1 C258.8,219.1 259.3,225.6 259.8,228.8 C260.2,232.0 260.9,234.1 261.5,236.2 C262.0,238.4 262.5,239.1 263.2,241.8 C263.9,244.5 264.7,249.7 265.5,252.3 C266.2,254.9 266.8,256.0 267.8,257.3 C268.7,258.5 270.6,259.3 271.2,259.7" stroke="#0000ff" stroke-width="1.9" fill="none" stroke-linejoin="round"/>
<path d="M293.0,217.1 C293.1,218.5 293.3,222.8 293.5,225.7 C293.7,228.7 293.8,231.9 294.1,235.0 C294.4,238.1 294.9,241.7 295.2,244.3 C295.6,246.9 296.2,249.4 296.4,250.5" stroke="#0040ff" stroke-width="1.9" fill="none" stroke-dasharray="1.6 2.2"/>
<path d="M326.2,220.8 C326.3,222.7 326.5,228.5 326.7,231.9 C326.9,235.3 327.0,238.1 327.3,241.2 C327.6,244.3 328.3,248.9 328.4,250.5" stroke="#0000c0" stroke-width="1.9" fill="none" stroke-dasharray="1.6 2.2"/>
<path d="M345.6,215.2 C345.7,217.0 345.8,221.9 346.2,225.7 C346.6,229.6 347.6,236.0 347.9,238.1" stroke="#ff8c00" stroke-width="1.9" fill="none" stroke-dasharray="1.6 2.2"/>
<path d="M347.9,238.1 C348.3,238.8 349.1,240.9 350.2,242.4 C351.4,244.0 353.1,246.0 354.8,247.4 C356.5,248.7 358.8,250.0 360.5,250.5 C362.2,250.9 364.3,249.9 365.1,249.8" stroke="#ff4400" stroke-width="1.9" fill="none" stroke-linejoin="round"/>
<path d="M268.9,316.6 C269.0,314.8 269.3,309.4 269.5,306.1 C269.7,302.8 269.8,299.2 270.1,296.8 C270.3,294.4 270.6,293.9 271.2,291.8 C271.8,289.8 273.1,285.7 273.5,284.4" stroke="#ff0000" stroke-width="1.9" fill="none" stroke-dasharray="1.6 2.2"/>
<path d="M276.9,301.1 C277.0,299.4 277.3,293.8 277.5,290.6 C277.7,287.4 277.8,284.5 278.1,282.0 C278.4,279.4 279.0,276.3 279.2,275.2" stroke="#00f0ff" stroke-width="1.9" fill="none" stroke-dasharray="1.6 2.2"/>
<path d="M243.7,238.1 C244.3,238.8 246.0,240.9 247.2,242.4 C248.3,244.0 249.4,245.5 250.6,247.4 C251.7,249.2 252.9,251.7 254.0,253.5 C255.2,255.4 256.9,257.7 257.5,258.5" stroke="#a00000" stroke-width="1.9" fill="none" stroke-linejoin="round"/>
<path d="M399.4,272.1 C399.5,273.6 399.6,278.3 399.7,281.3 C399.8,284.4 400.0,289.1 400.0,290.6" stroke="#0000ff" stroke-width="1.9" fill="none" stroke-dasharray="1.6 2.2"/>
<path d="M349.1,302.3 C349.2,300.9 349.4,296.7 349.6,293.7 C349.8,290.7 350.1,286.0 350.2,284.4" stroke="#ff8c00" stroke-width="1.9" fill="none" stroke-dasharray="1.6 2.2"/>
<path d="M122.35 321.5v-3.8M122.35 210.3v3.8M168.15 321.5v-3.8M168.15 210.3v3.8M213.95 321.5v-3.8M213.95 210.3v3.8M259.75 321.5v-3.8M259.75 210.3v3.8M305.55 321.5v-3.8M305.55 210.3v3.8M351.35 321.5v-3.8M351.35 210.3v3.8M397.15 321.5v-3.8M397.15 210.3v3.8M76.55 302.97h3.8M442.95 302.97h-3.8M76.55 284.43h3.8M442.95 284.43h-3.8M76.55 265.9h3.8M442.95 265.9h-3.8M76.55 247.37h3.8M442.95 247.37h-3.8M76.55 228.83h3.8M442.95 228.83h-3.8" stroke="#111" stroke-width="1.3" fill="none"/>
<rect x="76.55" y="210.3" width="366.4" height="111.2" stroke="#111" stroke-width="1.45" fill="none"/>
<text transform="translate(76.95 344.7) scale(1 1.045)" text-anchor="middle">8</text>
<text transform="translate(71.35 346) scale(1 1.045)" text-anchor="end">−</text>
<text transform="translate(122.75 344.7) scale(1 1.045)" text-anchor="middle">4</text>
<text transform="translate(117.15 346) scale(1 1.045)" text-anchor="end">−</text>
<text transform="translate(168.55 344.7) scale(1 1.045)" text-anchor="middle">0</text>
<text transform="translate(214.35 344.7) scale(1 1.045)" text-anchor="middle">4</text>
<text transform="translate(260.15 344.7) scale(1 1.045)" text-anchor="middle">8</text>
<text transform="translate(305.95 344.7) scale(1 1.045)" text-anchor="middle">12</text>
<text transform="translate(351.75 344.7) scale(1 1.045)" text-anchor="middle">16</text>
<text transform="translate(397.55 344.7) scale(1 1.045)" text-anchor="middle">20</text>
<text transform="translate(443.35 344.7) scale(1 1.045)" text-anchor="middle">24</text>
<text transform="translate(70.65 328.35) scale(1 1.045)" text-anchor="end">9</text>
<text transform="translate(60.14 329.65) scale(1 1.045)" text-anchor="end">−</text>
<text transform="translate(70.65 309.82) scale(1 1.045)" text-anchor="end">6</text>
<text transform="translate(60.14 311.12) scale(1 1.045)" text-anchor="end">−</text>
<text transform="translate(70.65 291.28) scale(1 1.045)" text-anchor="end">3</text>
<text transform="translate(60.14 292.58) scale(1 1.045)" text-anchor="end">−</text>
<text transform="translate(70.65 272.75) scale(1 1.045)" text-anchor="end">0</text>
<text transform="translate(70.65 254.22) scale(1 1.045)" text-anchor="end">3</text>
<text transform="translate(70.65 235.68) scale(1 1.045)" text-anchor="end">6</text>
<text transform="translate(70.65 217.15) scale(1 1.045)" text-anchor="end">9</text>
<text class="L" transform="translate(36.4 266.9) rotate(-90)" text-anchor="middle">Residual (TECU)</text>
<path d="M604.85 321.5V210.3M650.65 321.5V210.3M696.45 321.5V210.3M742.25 321.5V210.3M788.05 321.5V210.3M833.85 321.5V210.3M879.65 321.5V210.3M559.05 302.97H925.45M559.05 284.43H925.45M559.05 265.9H925.45M559.05 247.37H925.45M559.05 228.83H925.45" stroke="#1a1a1a" stroke-width="1.3" stroke-dasharray="1.2 7.35" fill="none"/>
<path d="M591.8,267.0 592.3,267.5 592.7,266.6 593.2,266.4 593.6,266.1 594.1,265.6 594.6,265.1 595.0,265.2 595.5,266.1 595.9,267.1 596.4,266.8 596.8,266.4 597.3,265.7 597.7,264.7 598.2,263.4 598.7,263.2 599.1,261.7 599.6,262.0 600.0,261.2 600.5,261.0 600.9,261.0 601.4,261.7 601.8,261.2 602.3,261.0 602.8,261.2 603.2,260.7 603.7,260.8 604.1,260.5 604.6,260.4 605.0,260.2 605.5,260.1 605.9,259.7 606.4,260.2 606.8,259.8 607.3,261.4 607.8,262.0 608.2,262.1 608.7,262.0 609.1,261.2 609.6,261.4 610.0,262.5 610.5,262.7 610.9,263.1 611.4,264.1 611.9,264.0 612.3,265.0 612.8,264.8 613.2,265.7 613.7,265.7 614.1,265.8 614.6,265.2 615.0,266.2 615.5,265.8 616.0,266.8 616.4,266.4 616.9,266.2 617.3,266.1 617.8,266.0 618.2,265.4 618.7,265.8" stroke="#ff5c00" stroke-width="1.8" fill="none" stroke-linejoin="round"/>
<path d="M592.1,267.2 592.5,266.8 593.0,266.7 593.5,267.7 593.9,267.8 594.4,268.5 594.8,267.9 595.3,268.0 595.7,267.8 596.2,267.5 596.7,267.8 597.1,268.6 597.6,269.4 598.0,269.6 598.5,269.9 598.9,269.8 599.4,269.9 599.9,269.2 600.3,269.4 600.8,269.0 601.2,268.6 601.7,267.8 602.1,267.0 602.6,266.8 603.0,267.1 603.5,266.6 604.0,267.6 604.4,268.4 604.9,267.9 605.3,267.8 605.8,267.6 606.2,267.5 606.7,266.6 607.2,267.0 607.6,267.4 608.1,267.5 608.5,267.0 609.0,266.2 609.4,266.6 609.9,266.4 610.4,266.4 610.8,266.5 611.3,265.7 611.7,265.3 612.2,264.7 612.6,265.1 613.1,264.3 613.6,264.4 614.0,264.2 614.5,265.1 614.9,265.3 615.4,264.3 615.8,264.5 616.3,264.2 616.8,264.1 617.2,265.0 617.7,264.9 618.1,264.8 618.6,265.0 619.0,264.9 619.5,264.6 619.9,264.8 620.4,264.6 620.9,264.4 621.3,264.3 621.8,263.7 622.2,262.9 622.7,262.7 623.1,262.6 623.6,263.5 624.1,262.7 624.5,262.9 625.0,264.0 625.4,264.4" stroke="#ff6e00" stroke-width="1.8" fill="none" stroke-linejoin="round"/>
<path d="M592.0,270.2 592.5,270.7 593.0,270.7 593.4,271.4 593.9,271.8 594.3,272.0 594.8,272.1 595.2,272.4 595.7,271.8 596.2,271.5 596.6,271.2 597.1,270.9 597.5,270.7 598.0,270.6 598.4,269.8 598.9,269.7 599.4,269.6 599.8,270.0 600.3,270.3 600.7,270.9 601.2,271.0 601.6,271.2 602.1,270.8 602.6,270.5 603.0,269.8 603.5,269.5 603.9,269.3 604.4,269.2 604.8,268.4 605.3,267.7 605.7,267.5 606.2,268.4 606.7,268.8 607.1,269.2 607.6,268.5 608.0,268.5 608.5,268.6 608.9,268.0 609.4,267.1 609.9,267.3 610.3,267.1 610.8,267.6 611.2,268.2 611.7,268.8 612.1,269.1 612.6,268.8 613.1,268.7 613.5,269.6 614.0,270.3 614.4,270.0 614.9,269.1 615.3,269.3 615.8,268.7 616.3,268.8 616.7,268.6 617.2,268.9 617.6,269.3 618.1,269.2 618.5,269.3 619.0,269.2 619.5,269.6 619.9,269.1" stroke="#4cffb3" stroke-width="1.8" fill="none" stroke-linejoin="round"/>
<path d="M591.8,268.1 592.3,267.8 592.7,268.3 593.2,269.1 593.7,268.3 594.1,268.1 594.6,268.3 595.0,268.4 595.5,269.5 595.9,269.2 596.4,270.1 596.8,270.0 597.3,269.6 597.8,269.0 598.2,268.7 598.7,268.4 599.1,269.1 599.6,268.8 600.0,268.1 600.5,267.5 601.0,267.5 601.4,268.2 601.9,268.1 602.3,267.7 602.8,268.1 603.2,267.3 603.7,267.2 604.2,267.3 604.6,266.6 605.1,266.4 605.5,265.1 606.0,265.2 606.4,265.2 606.9,265.3 607.3,266.6 607.8,267.0 608.3,266.6 608.7,266.5 609.2,266.2 609.6,265.7 610.1,266.4 610.5,266.4 611.0,266.4 611.5,266.4 611.9,265.9 612.4,266.5 612.8,266.9 613.3,268.1 613.7,267.7 614.2,266.6 614.7,266.9 615.1,267.2 615.6,266.9 616.0,267.6 616.5,267.2 616.9,268.0 617.4,269.0 617.9,268.8 618.3,269.3 618.8,269.1 619.2,269.3 619.7,268.3 620.1,267.6 620.6,267.8 621.0,268.4 621.5,269.5 622.0,269.7 622.4,271.3 622.9,273.0" stroke="#ff9500" stroke-width="1.8" fill="none" stroke-linejoin="round"/>
<path d="M594.7,268.3 595.1,267.6 595.6,267.6 596.1,266.6 596.5,265.7 597.0,265.7 597.4,265.5 597.9,266.3 598.3,266.8 598.8,266.6 599.3,266.7 599.7,265.9 600.2,265.2 600.6,264.9 601.1,265.6 601.5,266.2 602.0,267.7 602.5,267.5 602.9,268.9 603.4,269.5 603.8,269.5 604.3,270.7 604.7,270.8 605.2,270.3 605.7,270.7 606.1,270.9 606.6,270.7 607.0,270.5 607.5,270.4 607.9,269.6 608.4,269.9 608.9,269.9 609.3,269.1 609.8,268.7 610.2,268.8 610.7,269.2 611.1,269.2 611.6,269.5 612.1,268.2 612.5,267.9 613.0,267.6 613.4,268.2 613.9,268.5 614.3,268.9 614.8,268.2 615.3,266.8 615.7,266.9 616.2,267.0 616.6,266.9 617.1,266.8 617.5,266.7 618.0,267.1 618.5,267.3 618.9,267.0 619.4,266.6 619.8,266.0 620.3,266.5 620.7,266.5 621.2,267.0 621.7,266.3 622.1,266.1 622.6,265.4 623.0,266.0 623.5,266.4 623.9,266.5 624.4,266.0 624.8,266.1 625.3,266.7 625.8,266.5 626.2,266.3 626.7,265.8 627.1,265.9 627.6,265.1 628.0,264.2 628.5,264.6 629.0,265.4 629.4,265.1 629.9,265.4 630.3,265.4 630.8,265.7 631.2,265.1 631.7,264.9 632.2,264.4 632.6,264.2 633.1,263.1 633.5,262.5 634.0,262.4 634.4,262.1 634.9,262.3 635.4,262.2 635.8,262.2 636.3,261.6 636.7,262.1 637.2,263.0 637.6,263.0 638.1,262.6 638.6,262.7 639.0,262.7 639.5,263.6 639.9,264.7 640.4,264.7 640.8,263.6 641.3,263.8 641.8,263.6 642.2,263.8 642.7,264.1 643.1,264.2 643.6,265.0 644.0,264.8 644.5,265.6 645.0,266.2 645.4,266.6" stroke="#ffd300" stroke-width="1.8" fill="none" stroke-linejoin="round"/>
<path d="M593.0,267.6 593.4,267.3 593.9,267.6 594.4,267.8 594.8,268.3 595.3,268.3 595.7,268.5 596.2,268.6 596.6,268.9 597.1,268.7 597.5,268.4 598.0,267.8 598.4,268.4 598.9,269.0 599.4,268.7 599.8,269.6 600.3,269.8 600.7,270.2 601.2,270.1 601.6,270.4 602.1,270.1 602.5,270.0 603.0,269.5 603.4,269.9 603.9,269.7 604.3,269.0 604.8,270.1 605.3,270.1 605.7,270.0 606.2,269.6 606.6,269.4 607.1,268.5 607.5,268.7 608.0,268.3 608.4,267.6 608.9,267.4 609.3,267.1 609.8,267.9 610.3,268.5 610.7,268.8 611.2,269.0 611.6,269.1 612.1,269.0 612.5,268.3 613.0,268.7 613.4,269.8 613.9,269.9 614.3,270.4 614.8,270.1 615.3,268.9 615.7,268.8 616.2,268.5 616.6,268.3 617.1,268.2 617.5,268.1 618.0,268.1 618.4,267.3 618.9,266.3 619.3,266.6 619.8,266.8 620.3,266.9 620.7,266.7 621.2,266.3 621.6,266.9 622.1,266.9 622.5,267.8 623.0,267.1 623.4,266.8 623.9,266.7 624.3,266.9 624.8,266.4 625.2,265.9 625.7,265.2 626.2,265.0 626.6,265.3 627.1,265.4 627.5,265.7 628.0,265.3 628.4,266.5 628.9,266.7 629.3,266.5 629.8,266.6 630.2,266.6 630.7,266.8" stroke="#0057ff" stroke-width="1.8" fill="none" stroke-linejoin="round"/>
<path d="M600.4,261.9 600.8,263.1 601.3,262.3 601.7,263.1 602.2,262.4 602.6,262.0 603.1,261.8 603.6,262.4 604.0,261.8 604.5,261.0 604.9,259.9 605.4,259.8 605.8,259.5 606.3,260.3 606.7,261.0 607.2,261.5 607.6,262.5 608.1,262.9 608.6,263.8 609.0,264.0 609.5,263.6 609.9,263.9 610.4,264.8 610.8,265.5 611.3,265.5 611.7,266.1 612.2,266.6 612.7,267.2 613.1,266.8 613.6,266.6 614.0,266.8 614.5,265.9 614.9,266.5 615.4,265.4 615.8,265.2 616.3,265.5 616.8,266.2 617.2,266.3 617.7,266.1 618.1,265.3 618.6,265.6 619.0,264.9 619.5,265.1 619.9,265.8 620.4,265.3 620.8,266.3 621.3,267.1 621.8,267.1 622.2,266.4 622.7,266.3 623.1,265.3 623.6,265.5 624.0,265.7 624.5,265.9 624.9,265.3 625.4,265.8 625.9,265.2 626.3,265.5 626.8,265.1 627.2,264.7 627.7,264.8 628.1,265.1 628.6,266.2 629.0,266.7 629.5,267.1 630.0,266.3 630.4,266.2 630.9,265.7 631.3,266.6 631.8,266.0 632.2,265.6 632.7,265.6 633.1,265.5 633.6,265.7 634.0,264.7 634.5,265.1 635.0,264.7 635.4,265.0 635.9,264.7 636.3,264.0 636.8,264.5 637.2,264.3 637.7,264.6 638.1,265.2 638.6,265.3 639.1,265.8 639.5,265.9 640.0,266.2 640.4,265.6 640.9,266.2 641.3,265.7 641.8,265.5 642.2,265.2 642.7,265.6 643.2,266.0 643.6,266.4 644.1,266.5 644.5,267.1 645.0,267.4 645.4,266.8 645.9,266.1 646.3,265.3 646.8,265.8 647.2,265.6 647.7,266.1 648.2,265.4 648.6,265.1 649.1,265.4 649.5,265.3 650.0,265.9 650.4,266.8 650.9,266.4 651.3,266.0 651.8,265.1 652.3,264.0 652.7,263.9 653.2,263.4 653.6,263.5 654.1,264.2 654.5,265.1 655.0,264.8 655.4,264.7 655.9,263.7 656.4,263.6 656.8,263.7 657.3,264.5 657.7,265.4 658.2,265.2 658.6,265.4 659.1,264.8 659.5,265.1 660.0,264.2 660.5,264.3 660.9,264.6 661.4,264.9 661.8,265.1 662.3,264.1 662.7,264.2 663.2,264.5 663.6,265.3 664.1,265.8 664.5,265.5 665.0,265.2" stroke="#0003ff" stroke-width="1.8" fill="none" stroke-linejoin="round"/>
<path d="M606.6,263.6 607.1,263.8 607.5,264.3 608.0,264.4 608.5,264.8 608.9,265.3 609.4,264.7 609.8,264.8 610.3,263.9 610.7,263.3 611.2,263.2 611.6,265.0 612.1,266.8 612.6,267.6 613.0,268.0 613.5,268.4 613.9,268.9 614.4,268.1 614.8,267.1 615.3,266.5 615.8,266.7 616.2,267.4 616.7,268.0 617.1,268.0 617.6,267.7 618.0,267.2 618.5,267.8 619.0,268.0 619.4,268.4 619.9,267.8 620.3,267.2 620.8,266.6 621.2,266.6 621.7,266.2 622.1,266.9 622.6,267.1 623.1,266.1 623.5,265.7 624.0,265.1 624.4,265.4 624.9,265.2 625.3,266.2 625.8,266.5 626.3,266.9 626.7,267.6 627.2,268.0 627.6,267.9 628.1,267.2 628.5,267.1 629.0,266.7 629.5,266.1 629.9,265.6 630.4,266.3 630.8,266.2 631.3,266.7 631.7,267.2 632.2,267.0 632.7,266.3 633.1,265.8 633.6,266.1 634.0,266.3 634.5,266.2 634.9,266.4 635.4,266.9 635.8,267.2 636.3,266.8 636.8,264.8 637.2,264.7 637.7,264.3 638.1,264.1 638.6,263.6 639.0,263.2 639.5,263.1 640.0,263.6 640.4,263.6 640.9,263.9 641.3,264.1 641.8,263.9 642.2,263.8 642.7,263.7 643.2,263.4 643.6,263.2 644.1,262.6 644.5,263.8 645.0,264.6 645.4,265.3 645.9,265.5 646.3,265.0 646.8,265.4 647.3,265.6 647.7,266.7 648.2,267.3 648.6,268.1 649.1,268.3 649.5,269.3 650.0,269.3 650.5,269.4 650.9,268.7 651.4,268.6 651.8,268.0 652.3,267.9 652.7,266.9 653.2,266.7 653.7,266.5 654.1,265.3 654.6,265.6 655.0,265.3" stroke="#fc0000" stroke-width="1.8" fill="none" stroke-linejoin="round"/>
<path d="M612.9,262.7 613.4,263.2 613.9,262.0 614.3,261.2 614.8,261.2 615.2,261.1 615.7,261.0 616.1,261.6 616.6,261.7 617.1,262.7 617.5,263.1 618.0,263.5 618.4,265.1 618.9,264.4 619.3,263.6 619.8,262.4 620.3,262.0 620.7,261.5 621.2,261.1 621.6,260.6 622.1,261.5 622.5,261.5 623.0,262.4 623.5,262.7 623.9,262.8 624.4,263.0 624.8,262.2 625.3,262.0 625.7,262.5 626.2,262.4 626.7,262.6 627.1,262.4 627.6,262.8 628.0,262.3 628.5,261.6 629.0,261.4 629.4,261.3 629.9,261.1 630.3,260.5 630.8,261.3 631.2,261.1 631.7,261.8 632.2,260.6 632.6,260.3 633.1,260.4 633.5,260.6 634.0,260.3 634.4,261.0 634.9,260.9 635.4,260.5 635.8,260.7 636.3,260.2 636.7,260.8 637.2,261.1 637.6,261.3 638.1,261.4 638.6,261.2 639.0,261.7 639.5,261.1 639.9,260.2 640.4,259.4 640.8,258.5 641.3,257.2 641.8,257.8 642.2,257.6 642.7,257.8 643.1,257.8 643.6,257.5 644.0,257.5 644.5,257.8 645.0,258.2 645.4,258.8 645.9,259.0 646.3,259.4 646.8,259.6 647.2,260.2 647.7,261.7 648.2,262.6 648.6,262.5 649.1,262.5 649.5,262.0 650.0,261.3 650.4,260.5 650.9,260.1 651.4,260.6 651.8,260.2 652.3,259.5 652.7,258.8 653.2,258.4 653.6,258.4 654.1,259.2 654.6,259.1 655.0,260.1 655.5,259.6 655.9,260.3 656.4,259.5 656.8,259.7 657.3,259.4 657.8,259.7 658.2,260.5 658.7,260.8 659.1,261.7 659.6,261.2 660.0,260.7 660.5,261.9 661.0,262.3 661.4,263.2 661.9,263.7 662.3,263.5 662.8,263.8 663.2,263.3 663.7,263.6 664.2,263.5 664.6,263.4 665.1,262.4 665.5,262.2 666.0,262.4 666.4,261.5 666.9,261.6 667.4,261.5 667.8,261.2 668.3,260.9 668.7,260.6" stroke="#00cdff" stroke-width="1.8" fill="none" stroke-linejoin="round"/>
<path d="M619.8,263.9 620.2,263.6 620.7,262.9 621.1,262.4 621.6,262.1 622.0,262.7 622.5,262.1 622.9,261.9 623.4,262.3 623.9,263.4 624.3,263.1 624.8,263.8 625.2,263.7 625.7,264.6 626.1,264.2 626.6,263.9 627.0,263.5 627.5,263.6 628.0,263.8 628.4,264.1 628.9,263.8 629.3,263.4 629.8,264.2 630.2,265.2 630.7,266.0 631.2,266.7 631.6,267.6 632.1,267.2 632.5,267.1 633.0,267.3 633.4,267.1 633.9,266.2 634.3,266.2 634.8,265.4 635.3,264.9 635.7,265.3 636.2,266.4 636.6,265.8 637.1,265.4 637.5,265.1 638.0,265.5 638.4,265.8 638.9,265.6 639.4,264.7 639.8,264.5 640.3,264.2 640.7,264.5 641.2,264.5 641.6,264.2 642.1,264.1 642.5,263.6 643.0,264.1 643.5,264.3 643.9,264.9 644.4,265.7 644.8,265.4 645.3,266.3 645.7,266.2 646.2,266.2 646.6,266.2 647.1,265.6 647.6,265.3 648.0,264.9 648.5,264.2 648.9,263.7 649.4,263.4 649.8,263.3 650.3,263.5 650.8,264.2 651.2,265.2 651.7,265.8 652.1,266.4 652.6,265.6 653.0,265.2 653.5,263.5 653.9,263.8 654.4,263.6 654.9,264.5 655.3,264.3 655.8,265.0 656.2,265.5 656.7,265.6 657.1,265.4 657.6,265.8 658.0,266.0 658.5,266.5 659.0,267.2 659.4,267.2 659.9,267.7 660.3,268.1 660.8,268.6 661.2,268.6 661.7,270.3 662.1,271.1" stroke="#004cff" stroke-width="1.8" fill="none" stroke-linejoin="round"/>
<path d="M628.4,264.6 628.9,264.3 629.4,264.7 629.8,264.8 630.3,266.1 630.7,266.8 631.2,267.3 631.6,267.0 632.1,267.2 632.6,266.8 633.0,267.1 633.5,266.6 633.9,265.7 634.4,265.3 634.8,265.1 635.3,265.2 635.8,265.6 636.2,265.1 636.7,265.3 637.1,264.3 637.6,263.9 638.0,263.5 638.5,262.9 639.0,263.3 639.4,263.5 639.9,263.8 640.3,264.2 640.8,265.5 641.2,265.6 641.7,266.6 642.2,266.6 642.6,266.2 643.1,265.6 643.5,265.6 644.0,265.2 644.4,265.2 644.9,265.0 645.4,265.9 645.8,266.2 646.3,267.5 646.7,268.2 647.2,268.7 647.6,269.6 648.1,269.1 648.6,268.6 649.0,267.5 649.5,266.7 649.9,266.8 650.4,266.3 650.8,266.2 651.3,265.5 651.8,265.3 652.2,264.7 652.7,265.1 653.1,265.7 653.6,266.8 654.1,267.3 654.5,266.8 655.0,266.3 655.4,265.6 655.9,264.8 656.3,265.2 656.8,264.9 657.3,265.0 657.7,264.2 658.2,264.3 658.6,263.9 659.1,263.4 659.5,264.1 660.0,265.1 660.5,265.8 660.9,265.9 661.4,265.5 661.8,265.3 662.3,264.3 662.7,264.5 663.2,264.6 663.7,265.3 664.1,265.3 664.6,266.0 665.0,265.7 665.5,266.2 665.9,266.3 666.4,266.2 666.9,266.1 667.3,265.5 667.8,265.7 668.2,264.1 668.7,264.9 669.1,265.0 669.6,266.1 670.1,266.5 670.5,267.6 671.0,267.1 671.4,265.9 671.9,265.7 672.3,265.5 672.8,265.6 673.3,265.7 673.7,266.4 674.2,266.0 674.6,265.3 675.1,264.1 675.5,264.2 676.0,264.0 676.5,264.9 676.9,265.6 677.4,265.6 677.8,265.5 678.3,265.0 678.7,264.8 679.2,264.6 679.7,264.6 680.1,263.4 680.6,262.8 681.0,262.3 681.5,262.0 681.9,261.2 682.4,261.1 682.9,261.2" stroke="#f2ff0d" stroke-width="1.8" fill="none" stroke-linejoin="round"/>
<path d="M629.4,268.1 629.8,268.1 630.3,268.7 630.8,269.1 631.2,268.7 631.7,269.0 632.1,268.5 632.6,268.9 633.0,268.8 633.5,269.2 633.9,269.8 634.4,268.8 634.9,268.5 635.3,267.1 635.8,267.2 636.2,267.4 636.7,268.1 637.1,268.4 637.6,268.7 638.1,268.0 638.5,268.1 639.0,267.6 639.4,267.8 639.9,267.1 640.3,267.4 640.8,267.4 641.3,267.2 641.7,267.0 642.2,266.5 642.6,266.2 643.1,266.9 643.5,267.2 644.0,267.6 644.5,268.3 644.9,268.4 645.4,268.9 645.8,269.0 646.3,267.9 646.7,267.4 647.2,267.9 647.7,267.1 648.1,267.0 648.6,266.5 649.0,265.9 649.5,265.6 649.9,264.7 650.4,265.1 650.8,264.8 651.3,266.0 651.8,266.7 652.2,266.7 652.7,266.4 653.1,266.0 653.6,265.8 654.0,265.3 654.5,265.1 655.0,265.3 655.4,264.7 655.9,265.6 656.3,265.8 656.8,266.4 657.2,266.5 657.7,267.0 658.2,267.4 658.6,267.6 659.1,266.6 659.5,266.3 660.0,266.0 660.4,264.9 660.9,264.3 661.4,263.2 661.8,263.0 662.3,263.8 662.7,263.8 663.2,264.0 663.6,265.0 664.1,266.3 664.6,266.4 665.0,267.1 665.5,267.0 665.9,266.5 666.4,266.5 666.8,266.8 667.3,267.2 667.8,266.9 668.2,266.6 668.7,267.1" stroke="#00d2ff" stroke-width="1.8" fill="none" stroke-linejoin="round"/>
<path d="M638.9,263.6 639.3,262.4 639.8,262.0 640.2,262.1 640.7,261.8 641.2,262.2 641.6,261.1 642.1,260.8 642.5,260.6 643.0,260.6 643.4,260.8 643.9,260.9 644.4,260.3 644.8,260.7 645.3,260.8 645.7,260.8 646.2,261.0 646.6,261.7 647.1,263.5 647.6,263.8 648.0,263.8 648.5,264.2 648.9,264.2 649.4,265.3 649.8,265.8 650.3,265.5 650.8,266.4 651.2,266.4 651.7,266.0 652.1,265.7 652.6,265.6 653.0,265.5 653.5,265.9 654.0,265.6 654.4,266.0 654.9,265.5 655.3,265.6 655.8,265.3 656.2,265.5 656.7,265.2 657.2,265.2 657.6,265.4 658.1,265.0 658.5,265.6 659.0,265.4 659.4,266.0 659.9,265.5 660.4,266.4 660.8,265.7 661.3,266.2 661.7,265.8 662.2,265.6 662.6,266.0 663.1,266.7 663.6,267.2 664.0,267.5 664.5,266.5 664.9,265.4 665.4,265.4 665.8,264.9 666.3,264.0 666.8,263.7 667.2,262.9 667.7,262.5 668.1,262.7 668.6,262.8 669.0,263.3 669.5,263.9 670.0,264.7 670.4,265.1 670.9,265.0 671.3,265.5 671.8,265.2 672.2,265.3 672.7,265.2 673.2,264.9 673.6,264.0 674.1,264.1 674.5,263.4 675.0,263.7 675.4,264.2 675.9,264.6 676.4,265.1 676.8,265.3 677.3,265.2 677.7,265.3 678.2,266.0 678.6,266.0 679.1,265.8 679.6,265.9 680.0,265.8 680.5,265.0 680.9,264.7 681.4,264.5 681.8,265.6 682.3,266.0 682.8,265.7 683.2,265.3 683.7,264.9 684.1,264.6 684.6,264.5 685.0,264.4 685.5,264.5 686.0,264.8 686.4,265.3 686.9,265.0" stroke="#d40000" stroke-width="1.8" fill="none" stroke-linejoin="round"/>
<path d="M641.7,268.5 642.1,268.8 642.6,269.3 643.1,269.5 643.5,270.2 644.0,271.1 644.4,270.5 644.9,270.4 645.3,270.6 645.8,270.8 646.2,270.9 646.7,270.0 647.2,269.8 647.6,269.5 648.1,269.4 648.5,269.6 649.0,270.0 649.4,269.4 649.9,270.3 650.3,270.5 650.8,270.4 651.3,269.4 651.7,268.4 652.2,267.2 652.6,267.0 653.1,266.0 653.5,265.6 654.0,264.8 654.4,264.2 654.9,263.8 655.4,262.8 655.8,263.5 656.3,264.8 656.7,265.3 657.2,265.7 657.6,265.2 658.1,265.0 658.6,263.7 659.0,263.5 659.5,263.1 659.9,262.5 660.4,263.4 660.8,263.6 661.3,264.1 661.7,264.6 662.2,264.6 662.7,265.0 663.1,265.6 663.6,264.8 664.0,264.2 664.5,264.7 664.9,265.4 665.4,265.6 665.8,264.7 666.3,264.7 666.8,264.6 667.2,264.8 667.7,265.0 668.1,265.6 668.6,265.5 669.0,264.9 669.5,264.6 669.9,264.0 670.4,264.2 670.9,265.2 671.3,265.4 671.8,265.6 672.2,265.8 672.7,266.4 673.1,265.9 673.6,265.6 674.0,264.4 674.5,264.4 675.0,264.9 675.4,265.7 675.9,266.2 676.3,267.3 676.8,267.3 677.2,266.7 677.7,265.8 678.2,265.9 678.6,266.6 679.1,267.0 679.5,267.3 680.0,267.3 680.4,267.7 680.9,268.4 681.3,267.3 681.8,266.5 682.3,266.0 682.7,265.1 683.2,265.2 683.6,265.3 684.1,264.8 684.5,264.7 685.0,264.9 685.4,263.9 685.9,264.0 686.4,264.7 686.8,265.6 687.3,266.2 687.7,265.3 688.2,265.8 688.6,266.0 689.1,265.5 689.5,265.3 690.0,264.7 690.5,265.2 690.9,266.4 691.4,265.1 691.8,264.8 692.3,263.9 692.7,263.8 693.2,264.2 693.6,263.9 694.1,264.2" stroke="#a50000" stroke-width="1.8" fill="none" stroke-linejoin="round"/>
<path d="M649.2,267.7 649.7,267.1 650.1,267.2 650.6,266.8 651.0,265.8 651.5,265.6 651.9,266.0 652.4,265.9 652.8,265.5 653.3,265.0 653.8,264.7 654.2,264.3 654.7,263.8 655.1,262.8 655.6,262.8 656.0,263.0 656.5,262.5 657.0,262.3 657.4,262.4 657.9,262.4 658.3,261.8 658.8,261.9 659.2,261.8 659.7,262.7 660.1,263.1 660.6,263.6 661.1,264.0 661.5,264.4 662.0,264.2 662.4,263.8 662.9,262.8 663.3,263.3 663.8,263.0 664.2,263.4 664.7,263.7 665.2,264.4 665.6,264.2 666.1,263.9 666.5,263.4 667.0,263.4 667.4,262.7 667.9,262.6 668.3,263.0 668.8,262.5 669.3,262.3 669.7,261.8 670.2,261.4 670.6,260.9 671.1,260.6 671.5,261.3 672.0,263.0 672.4,263.5 672.9,264.4 673.4,263.5 673.8,263.4 674.3,263.3 674.7,264.5 675.2,265.9 675.6,265.9 676.1,265.8 676.5,266.0 677.0,266.2 677.5,266.3 677.9,267.0 678.4,266.7 678.8,266.5 679.3,267.3 679.7,267.8 680.2,268.2 680.7,268.7 681.1,269.3 681.6,270.3 682.0,270.8 682.5,269.5 682.9,269.0 683.4,267.9 683.8,267.2 684.3,266.3 684.8,265.8 685.2,265.4 685.7,265.5 686.1,265.9 686.6,265.3 687.0,265.0 687.5,264.7 687.9,264.4 688.4,264.2 688.9,263.9 689.3,264.0 689.8,264.4 690.2,265.6 690.7,265.7 691.1,265.4 691.6,264.3 692.0,263.2 692.5,262.6 693.0,262.6 693.4,262.1 693.9,262.3 694.3,262.0 694.8,261.4 695.2,261.3 695.7,260.9 696.1,260.8" stroke="#003aff" stroke-width="1.8" fill="none" stroke-linejoin="round"/>
<path d="M658.2,266.9 658.6,266.6 659.1,267.0 659.5,267.2 660.0,266.9 660.4,267.0 660.9,266.1 661.3,265.3 661.8,264.6 662.3,264.9 662.7,265.4 663.2,265.4 663.6,264.9 664.1,265.6 664.5,266.4 665.0,267.8 665.4,269.2 665.9,269.3 666.4,269.7 666.8,269.0 667.3,269.7 667.7,270.3 668.2,270.8 668.6,270.9 669.1,270.4 669.5,270.2 670.0,269.7 670.5,269.0 670.9,268.1 671.4,267.7 671.8,267.7 672.3,266.9 672.7,267.7 673.2,268.2 673.6,268.8 674.1,268.2 674.6,267.8 675.0,267.3 675.5,267.8 675.9,268.3 676.4,268.3 676.8,267.5 677.3,266.6 677.7,266.7 678.2,266.0 678.7,265.6 679.1,265.0 679.6,265.1 680.0,264.7 680.5,263.8 680.9,264.0 681.4,264.5 681.8,264.3 682.3,263.8 682.8,264.1 683.2,264.4 683.7,265.3 684.1,264.7 684.6,265.2 685.0,266.1 685.5,265.7 685.9,266.1 686.4,265.2 686.9,265.1 687.3,265.2 687.8,265.3 688.2,265.8 688.7,266.4 689.1,266.4 689.6,266.5 690.0,266.4 690.5,266.7 691.0,267.4 691.4,268.2 691.9,268.4 692.3,268.7 692.8,268.2 693.2,268.4 693.7,268.7 694.1,268.6 694.6,268.4 695.1,268.7 695.5,268.2 696.0,267.8 696.4,266.9 696.9,267.1 697.3,266.9 697.8,265.9 698.2,265.9 698.7,265.4 699.2,264.7 699.6,264.1 700.1,264.4 700.5,263.9 701.0,263.2 701.4,262.9 701.9,262.0 702.3,261.7 702.8,261.4 703.3,261.4 703.7,262.0 704.2,262.4 704.6,262.7 705.1,263.2 705.5,264.0 706.0,263.9 706.5,264.3 706.9,264.2 707.4,263.8 707.8,263.2 708.3,262.3 708.7,263.0 709.2,263.6 709.6,264.1" stroke="#ff3200" stroke-width="1.8" fill="none" stroke-linejoin="round"/>
<path d="M668.9,261.9 669.3,261.8 669.8,261.6 670.2,261.2 670.7,261.6 671.1,262.2 671.6,262.6 672.1,262.4 672.5,262.7 673.0,262.5 673.4,262.5 673.9,262.6 674.3,262.7 674.8,262.4 675.2,262.3 675.7,262.3 676.2,262.4 676.6,262.7 677.1,262.7 677.5,263.0 678.0,262.3 678.4,262.7 678.9,262.9 679.4,262.7 679.8,263.7 680.3,264.2 680.7,263.4 681.2,263.1 681.6,263.1 682.1,264.1 682.6,264.8 683.0,264.3 683.5,264.9 683.9,264.3 684.4,264.7 684.8,264.9 685.3,263.9 685.7,263.8 686.2,263.0 686.7,262.6 687.1,262.2 687.6,262.0 688.0,261.5 688.5,262.1 688.9,261.8 689.4,262.4 689.9,262.6 690.3,262.8 690.8,262.7 691.2,262.8 691.7,263.0 692.1,263.2 692.6,262.4 693.1,262.1 693.5,261.7 694.0,262.3 694.4,262.8 694.9,263.7 695.3,264.9 695.8,265.3 696.2,265.7 696.7,266.1 697.2,265.6 697.6,265.9 698.1,266.5 698.5,267.5 699.0,268.6 699.4,268.8 699.9,268.6 700.4,267.8 700.8,268.4 701.3,267.5 701.7,266.9 702.2,267.4 702.6,268.2 703.1,269.0 703.6,268.9 704.0,269.2 704.5,268.4 704.9,267.6 705.4,267.2 705.8,266.9 706.3,265.7 706.7,265.0 707.2,263.5 707.7,263.3 708.1,262.7 708.6,262.2 709.0,261.3 709.5,261.2 709.9,260.8 710.4,260.8 710.9,260.5" stroke="#ffc200" stroke-width="1.8" fill="none" stroke-linejoin="round"/>
<path d="M666.1,265.7 666.6,265.9 667.1,265.5 667.5,265.1 668.0,265.5 668.4,265.2 668.9,265.4 669.3,265.2 669.8,266.9 670.3,267.4 670.7,268.1 671.2,269.1 671.6,268.6 672.1,268.5 672.5,268.9 673.0,269.2 673.4,269.4 673.9,269.7 674.4,270.1 674.8,269.9 675.3,269.7 675.7,270.7 676.2,269.8 676.6,270.3 677.1,269.9 677.6,269.6 678.0,270.3 678.5,270.3 678.9,269.0 679.4,268.8 679.8,268.2 680.3,268.5 680.7,268.5 681.2,268.2 681.7,269.2 682.1,270.6 682.6,271.0 683.0,270.7 683.5,270.6 683.9,270.4 684.4,270.3 684.9,271.1 685.3,269.8 685.8,269.7 686.2,269.1 686.7,269.0 687.1,269.3 687.6,269.1 688.1,269.4 688.5,269.2 689.0,269.6 689.4,270.0 689.9,270.3 690.3,271.1 690.8,271.9 691.2,272.1 691.7,272.8 692.2,272.6 692.6,272.6 693.1,272.8 693.5,272.2 694.0,271.9 694.4,271.4 694.9,270.8 695.4,270.1 695.8,270.0 696.3,269.0 696.7,268.3 697.2,267.7 697.6,267.2 698.1,266.7 698.5,266.2 699.0,266.9 699.5,267.0 699.9,267.7" stroke="#c7ff38" stroke-width="1.8" fill="none" stroke-linejoin="round"/>
<path d="M670.7,268.2 671.2,268.2 671.6,269.1 672.1,270.3 672.5,270.6 673.0,270.8 673.4,271.5 673.9,271.0 674.3,271.2 674.8,270.9 675.2,270.8 675.7,271.7 676.2,271.5 676.6,271.4 677.1,271.2 677.5,270.3 678.0,269.7 678.4,270.3 678.9,270.2 679.3,270.2 679.8,269.4 680.3,269.6 680.7,268.7 681.2,268.8 681.6,268.7 682.1,268.9 682.5,269.2 683.0,268.8 683.4,268.9 683.9,268.8 684.3,269.0 684.8,269.1 685.3,269.2 685.7,268.5 686.2,267.8 686.6,266.8 687.1,266.9 687.5,267.6 688.0,267.6 688.4,267.4 688.9,267.5 689.4,268.0 689.8,268.0 690.3,267.6 690.7,267.4 691.2,268.0 691.6,268.4 692.1,268.2 692.5,268.2 693.0,267.6 693.4,267.4 693.9,267.0 694.4,267.0 694.8,266.7 695.3,266.2 695.7,264.9 696.2,263.9 696.6,264.4 697.1,266.1 697.5,266.5 698.0,267.2 698.5,267.5 698.9,268.1 699.4,268.2 699.8,268.6 700.3,268.1 700.7,268.2 701.2,268.7 701.6,268.9 702.1,268.6 702.5,268.1 703.0,268.4 703.5,268.0 703.9,267.9 704.4,268.0 704.8,269.0 705.3,269.0 705.7,270.0 706.2,270.6 706.6,270.5 707.1,270.5 707.6,270.1 708.0,269.9" stroke="#44ffbb" stroke-width="1.8" fill="none" stroke-linejoin="round"/>
<path d="M674.2,261.2 674.7,260.4 675.1,260.1 675.6,259.7 676.1,260.3 676.5,258.8 677.0,259.6 677.4,260.2 677.9,260.8 678.3,260.8 678.8,260.5 679.3,260.6 679.7,260.2 680.2,260.1 680.6,260.4 681.1,259.9 681.5,259.9 682.0,260.1 682.5,260.4 682.9,260.1 683.4,261.0 683.8,260.5 684.3,260.7 684.7,260.4 685.2,260.7 685.6,261.9 686.1,262.2 686.6,262.5 687.0,263.3 687.5,264.1 687.9,263.7 688.4,263.2 688.8,262.4 689.3,261.9 689.8,262.1 690.2,263.0 690.7,263.4 691.1,264.3 691.6,264.9 692.0,265.0 692.5,265.3 693.0,264.2 693.4,263.9 693.9,263.8 694.3,263.9 694.8,263.0 695.2,262.9 695.7,262.9 696.1,263.1 696.6,263.1 697.1,263.6 697.5,264.0 698.0,264.7 698.4,265.1 698.9,265.2 699.3,265.9 699.8,265.5 700.3,264.7 700.7,264.7 701.2,264.6 701.6,265.1 702.1,266.2 702.5,266.7 703.0,266.3 703.5,265.7 703.9,264.8 704.4,264.3 704.8,263.5 705.3,262.5 705.7,262.4 706.2,261.9 706.7,262.3 707.1,262.7 707.6,262.8 708.0,262.6 708.5,262.7 708.9,261.7 709.4,261.3 709.8,260.4 710.3,261.1 710.8,262.6 711.2,261.7 711.7,261.9 712.1,261.1 712.6,260.6 713.0,260.5 713.5,260.5 714.0,260.4 714.4,260.9 714.9,261.0 715.3,261.8 715.8,261.6 716.2,262.0 716.7,262.4 717.2,263.1 717.6,263.2 718.1,263.3 718.5,262.9 719.0,262.2 719.4,262.1 719.9,262.4 720.3,262.0 720.8,262.1 721.3,261.9" stroke="#ff6900" stroke-width="1.8" fill="none" stroke-linejoin="round"/>
<path d="M679.6,260.7 680.1,261.2 680.5,260.6 681.0,260.4 681.4,260.4 681.9,260.4 682.4,260.3 682.8,260.4 683.3,261.2 683.7,261.4 684.2,261.4 684.6,261.1 685.1,260.7 685.6,260.4 686.0,260.5 686.5,261.9 686.9,261.8 687.4,261.8 687.8,262.6 688.3,262.6 688.8,262.7 689.2,262.6 689.7,263.6 690.1,264.3 690.6,263.8 691.1,263.6 691.5,263.6 692.0,263.6 692.4,264.4 692.9,263.8 693.3,263.0 693.8,263.1 694.3,262.9 694.7,263.9 695.2,263.4 695.6,263.2 696.1,262.7 696.5,263.0 697.0,263.8 697.5,264.1 697.9,264.8 698.4,265.7 698.8,266.0 699.3,265.9 699.7,265.4 700.2,265.5 700.7,266.8 701.1,266.8 701.6,267.1 702.0,267.0 702.5,266.8 702.9,266.5 703.4,264.2 703.9,264.0 704.3,263.2 704.8,263.3 705.2,263.2 705.7,263.9 706.2,263.4 706.6,263.7 707.1,263.8 707.5,264.2 708.0,263.0 708.4,262.6 708.9,261.8 709.4,261.2 709.8,262.3 710.3,263.2 710.7,264.1 711.2,264.5 711.6,264.3 712.1,263.7 712.6,263.4 713.0,264.5 713.5,265.2 713.9,264.8 714.4,265.6 714.8,266.2 715.3,267.2 715.8,267.1 716.2,267.9 716.7,267.9 717.1,267.5 717.6,266.9 718.0,266.7 718.5,267.4 719.0,267.0 719.4,267.7 719.9,268.0 720.3,267.9 720.8,268.3 721.2,268.0 721.7,268.5 722.2,268.5 722.6,269.6 723.1,269.7 723.5,269.8 724.0,269.3 724.5,269.4" stroke="#ff7000" stroke-width="1.8" fill="none" stroke-linejoin="round"/>
<path d="M683.4,259.2 683.9,260.2 684.3,260.3 684.8,260.4 685.2,261.2 685.7,260.7 686.1,262.4 686.6,262.2 687.1,262.2 687.5,262.0 688.0,262.8 688.4,263.5 688.9,264.0 689.3,264.7 689.8,265.3 690.2,266.0 690.7,267.3 691.2,268.2 691.6,267.6 692.1,267.5 692.5,267.4 693.0,267.8 693.4,267.8 693.9,268.3 694.4,268.9 694.8,269.1 695.3,268.8 695.7,268.0 696.2,267.8 696.6,267.7 697.1,266.7 697.6,266.9 698.0,266.0 698.5,265.7 698.9,265.3 699.4,265.2 699.8,265.0 700.3,265.8 700.8,265.9 701.2,266.8 701.7,267.6 702.1,267.7 702.6,268.6 703.0,268.3 703.5,267.9 704.0,268.1 704.4,267.9 704.9,267.6 705.3,267.5 705.8,267.9 706.2,267.6 706.7,267.7 707.2,268.5 707.6,268.5 708.1,268.4 708.5,268.5 709.0,268.1 709.4,267.4 709.9,266.9 710.4,265.4 710.8,265.5 711.3,265.1 711.7,265.1 712.2,265.6 712.6,264.5 713.1,263.8 713.6,263.4 714.0,263.5 714.5,262.9 714.9,262.9 715.4,262.9 715.8,262.9 716.3,263.9 716.8,264.6 717.2,265.2 717.7,265.3 718.1,265.6 718.6,266.2 719.0,267.3 719.5,267.3 720.0,266.7 720.4,267.1 720.9,266.4 721.3,266.4 721.8,267.4 722.2,268.3 722.7,268.7 723.2,268.5 723.6,267.7 724.1,267.1 724.5,267.1 725.0,268.1 725.4,268.0 725.9,268.6 726.3,268.2 726.8,268.5 727.3,269.0 727.7,269.8 728.2,269.7 728.6,269.6 729.1,269.3 729.5,268.9 730.0,267.6 730.5,267.5 730.9,267.3 731.4,266.7 731.8,266.8 732.3,267.9 732.7,268.9 733.2,270.2 733.7,269.4 734.1,268.7 734.6,268.1" stroke="#c10000" stroke-width="1.8" fill="none" stroke-linejoin="round"/>
<path d="M700.0,264.3 700.4,264.0 700.9,264.6 701.3,264.5 701.8,264.8 702.3,264.8 702.7,263.7 703.2,263.5 703.6,262.5 704.1,263.2 704.5,263.6 705.0,264.4 705.5,264.9 705.9,265.0 706.4,265.0 706.8,265.2 707.3,265.6 707.8,266.2 708.2,266.3 708.7,267.0 709.1,267.0 709.6,266.9 710.0,266.3 710.5,266.7 711.0,265.9 711.4,266.7 711.9,266.5 712.3,265.8 712.8,266.6 713.2,266.5 713.7,266.8 714.2,266.4 714.6,266.4 715.1,266.6 715.5,267.0 716.0,266.7 716.5,266.7 716.9,266.0 717.4,266.6 717.8,266.6 718.3,267.7 718.7,268.5 719.2,268.1 719.7,268.4 720.1,267.9 720.6,267.2 721.0,267.2 721.5,267.4 721.9,267.5 722.4,267.8 722.9,267.6 723.3,266.7 723.8,266.8 724.2,266.3 724.7,267.6 725.2,268.3 725.6,268.2 726.1,268.0 726.5,268.0 727.0,268.6 727.4,268.5 727.9,267.7 728.4,266.0 728.8,265.7 729.3,265.2 729.7,264.2 730.2,264.4 730.6,264.1 731.1,264.2 731.6,264.3 732.0,264.9 732.5,265.2 732.9,265.1 733.4,264.9 733.9,264.4 734.3,264.3 734.8,266.1 735.2,266.5 735.7,267.4 736.1,267.8 736.6,268.0 737.1,268.1 737.5,268.3 738.0,268.2 738.4,267.8 738.9,267.2 739.3,266.1 739.8,265.8 740.3,265.9 740.7,265.2 741.2,264.6 741.6,264.7 742.1,264.3" stroke="#00efff" stroke-width="1.8" fill="none" stroke-linejoin="round"/>
<path d="M697.0,271.1 697.5,271.9 698.0,272.5 698.4,271.8 698.9,271.9 699.3,271.6 699.8,271.3 700.2,271.2 700.7,271.2 701.1,270.9 701.6,271.1 702.1,271.0 702.5,271.3 703.0,271.8 703.4,270.7 703.9,271.8 704.3,271.6 704.8,272.2 705.2,271.9 705.7,270.7 706.2,270.1 706.6,269.8 707.1,269.2 707.5,269.6 708.0,270.1 708.4,270.4 708.9,271.1 709.4,270.8 709.8,270.8 710.3,270.8 710.7,271.1 711.2,270.7 711.6,270.7 712.1,271.0 712.5,270.4 713.0,269.8 713.5,269.8 713.9,269.4 714.4,270.5 714.8,270.4 715.3,270.1 715.7,269.6 716.2,269.1 716.6,269.3 717.1,269.0 717.6,269.4 718.0,269.5 718.5,269.5 718.9,269.1 719.4,269.4 719.8,269.1 720.3,269.4 720.8,269.0 721.2,268.2 721.7,267.3 722.1,268.0 722.6,267.7 723.0,267.6 723.5,268.0 723.9,268.0 724.4,266.5 724.9,266.1 725.3,266.4 725.8,267.0 726.2,267.1 726.7,267.4 727.1,267.3 727.6,267.4 728.0,268.2 728.5,268.2 729.0,268.4 729.4,268.1 729.9,268.6 730.3,269.1 730.8,268.8 731.2,270.1 731.7,269.6 732.2,269.7 732.6,269.4 733.1,269.0 733.5,268.5 734.0,267.8 734.4,267.5 734.9,267.7 735.3,267.4 735.8,267.4 736.3,268.1 736.7,268.2 737.2,268.1 737.6,268.5 738.1,269.0 738.5,268.6 739.0,267.1 739.4,267.6 739.9,267.0 740.4,267.6 740.8,267.7 741.3,269.6 741.7,270.5 742.2,270.6 742.6,270.4 743.1,270.4 743.6,270.0 744.0,269.2 744.5,269.5 744.9,269.3 745.4,270.2 745.8,270.3 746.3,270.6 746.7,270.6 747.2,270.7 747.7,270.1 748.1,269.7 748.6,269.4 749.0,270.1 749.5,270.4 749.9,271.5 750.4,272.1 750.8,272.6 751.3,273.0 751.8,274.1" stroke="#efff10" stroke-width="1.8" fill="none" stroke-linejoin="round"/>
<path d="M704.0,266.2 704.5,266.2 705.0,266.5 705.4,267.1 705.9,266.9 706.3,266.1 706.8,265.7 707.2,265.9 707.7,266.9 708.1,267.2 708.6,267.5 709.1,267.4 709.5,267.6 710.0,267.4 710.4,267.7 710.9,268.1 711.3,268.1 711.8,267.4 712.3,267.6 712.7,266.4 713.2,266.9 713.6,267.3 714.1,266.8 714.5,267.7 715.0,268.7 715.4,269.3 715.9,269.5 716.4,269.8 716.8,269.6 717.3,269.4 717.7,269.1 718.2,268.2 718.6,268.9 719.1,269.5 719.5,269.0 720.0,269.7 720.5,269.3 720.9,270.0 721.4,269.5 721.8,269.9 722.3,268.6 722.7,268.8 723.2,268.7 723.7,269.1 724.1,268.8 724.6,268.7 725.0,268.9 725.5,269.3 725.9,269.2 726.4,269.8 726.8,269.6 727.3,269.9 727.8,268.8 728.2,269.3 728.7,268.8 729.1,269.2 729.6,270.2 730.0,270.9 730.5,270.5 731.0,268.7 731.4,267.9 731.9,267.3 732.3,266.6 732.8,266.7 733.2,267.0 733.7,267.6 734.1,267.1 734.6,268.0 735.1,269.4 735.5,269.9 736.0,270.3 736.4,270.3 736.9,271.3 737.3,271.6 737.8,271.5 738.3,272.4 738.7,272.5 739.2,272.5 739.6,272.0 740.1,272.2 740.5,271.6 741.0,271.6 741.4,271.2 741.9,271.7 742.4,270.7 742.8,270.3 743.3,270.1 743.7,270.4 744.2,270.2 744.6,270.2 745.1,270.0 745.6,269.7 746.0,270.4 746.5,270.1 746.9,270.0 747.4,269.7 747.8,269.1 748.3,269.1 748.7,268.8 749.2,268.9 749.7,268.9 750.1,269.3 750.6,269.2 751.0,271.0 751.5,271.3 751.9,271.0 752.4,270.1 752.9,269.7 753.3,268.5 753.8,268.2 754.2,267.7 754.7,268.5 755.1,268.3 755.6,268.2 756.0,267.8 756.5,267.9 757.0,268.5 757.4,267.6 757.9,267.6 758.3,267.5 758.8,267.0 759.2,267.7 759.7,267.2 760.2,266.5 760.6,266.2 761.1,264.6 761.5,264.2 762.0,263.0" stroke="#caff35" stroke-width="1.8" fill="none" stroke-linejoin="round"/>
<path d="M714.4,262.4 714.8,262.9 715.3,262.3 715.8,262.7 716.2,262.9 716.7,262.8 717.1,262.7 717.6,264.0 718.1,264.6 718.5,264.4 719.0,263.8 719.4,263.8 719.9,263.2 720.3,264.0 720.8,264.2 721.3,264.6 721.7,265.4 722.2,265.2 722.6,265.5 723.1,266.0 723.5,265.4 724.0,265.9 724.5,265.7 724.9,266.8 725.4,267.3 725.8,267.3 726.3,268.1 726.7,267.9 727.2,267.4 727.7,267.2 728.1,266.8 728.6,266.5 729.0,267.0 729.5,266.6 729.9,265.8 730.4,264.1 730.9,262.9 731.3,262.5 731.8,263.0 732.2,262.7 732.7,262.8 733.2,262.4 733.6,263.8 734.1,263.9 734.5,264.9 735.0,265.8 735.4,265.7 735.9,265.3 736.4,265.7 736.8,266.7 737.3,267.5 737.7,267.4 738.2,267.5 738.6,267.7 739.1,267.2 739.6,266.2 740.0,266.1 740.5,266.0" stroke="#8aff75" stroke-width="1.8" fill="none" stroke-linejoin="round"/>
<path d="M716.1,264.6 716.5,264.8 717.0,265.1 717.4,265.7 717.9,265.5 718.3,264.5 718.8,263.9 719.3,262.8 719.7,261.9 720.2,261.8 720.6,261.3 721.1,260.9 721.5,260.3 722.0,259.7 722.5,260.9 722.9,261.2 723.4,261.7 723.8,261.0 724.3,259.8 724.7,260.1 725.2,259.5 725.7,260.1 726.1,260.4 726.6,260.7 727.0,262.3 727.5,263.0 728.0,262.8 728.4,262.5 728.9,262.5 729.3,262.7 729.8,263.2 730.2,263.4 730.7,263.6 731.2,263.9 731.6,264.7 732.1,264.9 732.5,264.6 733.0,264.3 733.4,264.4 733.9,264.2 734.4,264.5 734.8,264.0 735.3,263.4 735.7,263.6 736.2,264.0 736.6,263.9 737.1,263.4 737.6,263.6 738.0,264.1 738.5,264.9 738.9,265.1 739.4,265.0 739.8,264.5 740.3,264.6 740.8,263.6 741.2,263.2 741.7,263.0 742.1,263.4 742.6,262.7 743.0,262.5 743.5,262.4 744.0,261.3 744.4,262.6 744.9,262.8 745.3,263.6 745.8,264.3 746.2,264.7 746.7,265.6 747.2,265.0 747.6,264.7 748.1,265.2 748.5,265.2 749.0,265.0 749.4,265.3 749.9,265.8 750.4,265.6 750.8,265.5 751.3,264.4 751.7,264.3 752.2,264.2 752.6,264.3 753.1,264.4 753.6,264.7 754.0,264.5 754.5,264.9" stroke="#0000eb" stroke-width="1.8" fill="none" stroke-linejoin="round"/>
<path d="M729.1,268.2 729.6,268.8 730.0,269.3 730.5,269.4 731.0,269.1 731.4,269.1 731.9,268.9 732.3,270.0 732.8,269.7 733.3,269.7 733.7,268.8 734.2,269.6 734.6,269.6 735.1,269.5 735.5,269.7 736.0,269.8 736.5,270.6 736.9,270.7 737.4,272.2 737.8,272.4 738.3,271.7 738.7,270.8 739.2,269.8 739.7,269.4 740.1,268.9 740.6,268.5 741.0,268.5 741.5,269.2 742.0,269.9 742.4,270.8 742.9,270.6 743.3,270.4 743.8,270.5 744.2,269.9 744.7,269.3 745.2,269.1 745.6,268.7 746.1,268.7 746.5,269.2 747.0,270.1 747.4,269.4 747.9,268.9 748.4,268.0 748.8,268.1 749.3,269.0 749.7,269.0 750.2,270.2 750.7,269.4 751.1,268.8 751.6,268.2 752.0,268.8 752.5,269.6 752.9,270.7 753.4,270.2 753.9,270.8 754.3,271.0 754.8,271.6 755.2,271.8 755.7,272.5 756.1,271.9 756.6,271.3 757.1,271.1 757.5,271.1 758.0,272.0 758.4,271.5 758.9,271.2 759.4,271.0 759.8,270.9 760.3,270.3 760.7,270.5 761.2,270.7 761.6,270.2 762.1,269.5 762.6,268.6 763.0,268.5 763.5,269.0 763.9,270.2 764.4,271.2 764.8,271.3 765.3,270.0 765.8,270.0 766.2,268.4 766.7,266.9 767.1,266.9 767.6,267.2 768.1,267.1 768.5,266.9 769.0,266.9 769.4,267.0 769.9,268.1 770.3,267.9 770.8,268.6 771.3,268.2 771.7,267.8 772.2,268.3 772.6,268.5 773.1,268.7 773.5,268.4 774.0,268.1 774.5,267.9 774.9,266.9 775.4,267.3 775.8,268.6 776.3,269.4 776.8,270.2 777.2,270.0 777.7,270.5 778.1,270.8 778.6,271.2 779.0,270.5 779.5,270.4 780.0,270.4 780.4,269.6 780.9,270.1 781.3,270.0 781.8,270.3 782.2,270.3 782.7,270.1 783.2,271.2 783.6,271.7 784.1,271.7 784.5,271.4 785.0,271.1 785.5,270.8 785.9,270.0 786.4,269.8 786.8,269.7" stroke="#d50000" stroke-width="1.8" fill="none" stroke-linejoin="round"/>
<path d="M728.8,262.6 729.3,262.6 729.7,262.9 730.2,262.9 730.6,263.9 731.1,264.9 731.6,264.6 732.0,265.1 732.5,264.4 732.9,264.6 733.4,263.9 733.8,263.9 734.3,263.4 734.8,263.4 735.2,262.6 735.7,263.3 736.1,263.5 736.6,264.8 737.0,265.3 737.5,265.3 738.0,264.7 738.4,263.3 738.9,262.9 739.3,261.9 739.8,261.5 740.3,261.0 740.7,260.4 741.2,260.6 741.6,260.6 742.1,262.2 742.5,263.5 743.0,263.9 743.5,264.1 743.9,264.0 744.4,264.6 744.8,264.4 745.3,265.1 745.7,264.6 746.2,265.2 746.7,265.5 747.1,265.7 747.6,266.2 748.0,267.1 748.5,266.5 748.9,265.2 749.4,265.0 749.9,264.0 750.3,264.5 750.8,264.0 751.2,263.4 751.7,262.9 752.2,263.4 752.6,263.8 753.1,264.4 753.5,264.5 754.0,266.0 754.4,265.1 754.9,265.3 755.4,265.2 755.8,265.1 756.3,265.0 756.7,264.6 757.2,265.1 757.6,264.9 758.1,264.6 758.6,264.0 759.0,263.5 759.5,263.0 759.9,263.2 760.4,263.0 760.9,263.1 761.3,262.9 761.8,263.3 762.2,263.9 762.7,264.2 763.1,264.1 763.6,264.1 764.1,264.3 764.5,263.7 765.0,263.2 765.4,264.2" stroke="#ffca00" stroke-width="1.8" fill="none" stroke-linejoin="round"/>
<path d="M735.4,271.7 735.8,271.1 736.3,270.5 736.7,270.6 737.2,269.9 737.7,268.8 738.1,269.1 738.6,269.1 739.0,269.8 739.5,270.4 739.9,270.5 740.4,271.0 740.9,270.7 741.3,271.0 741.8,271.2 742.2,270.8 742.7,270.6 743.1,270.4 743.6,270.6 744.1,270.4 744.5,269.5 745.0,269.6 745.4,269.8 745.9,270.1 746.3,270.5 746.8,270.3 747.3,270.2 747.7,269.6 748.2,270.0 748.6,270.4 749.1,270.0 749.5,269.4 750.0,268.8 750.4,268.4 750.9,269.7 751.4,268.5 751.8,268.3 752.3,267.8 752.7,267.8 753.2,268.1 753.6,269.4 754.1,271.3 754.6,272.5 755.0,273.0 755.5,272.6 755.9,272.2 756.4,271.6 756.8,270.9 757.3,270.4 757.8,270.2 758.2,269.1 758.7,268.0 759.1,267.6 759.6,266.8 760.0,266.2 760.5,265.4 761.0,265.6 761.4,266.5 761.9,266.1 762.3,266.9 762.8,266.7 763.2,267.6 763.7,267.5 764.1,268.0 764.6,267.4 765.1,268.4 765.5,268.6 766.0,269.1 766.4,269.0 766.9,269.1 767.3,268.5 767.8,269.0 768.3,268.8 768.7,269.2 769.2,269.0 769.6,269.4 770.1,269.4 770.5,269.5 771.0,269.4 771.5,269.5 771.9,269.5 772.4,269.6 772.8,269.6 773.3,269.7 773.7,269.3 774.2,268.2 774.7,268.4 775.1,268.7 775.6,268.5 776.0,268.7 776.5,269.4 776.9,270.3 777.4,270.4 777.8,269.9 778.3,270.5 778.8,270.5 779.2,270.4 779.7,272.0 780.1,272.1 780.6,272.6 781.0,272.3 781.5,271.9 782.0,272.5 782.4,273.0 782.9,273.5 783.3,273.9 783.8,274.0 784.2,274.4 784.7,275.2 785.2,274.3 785.6,275.1 786.1,274.8 786.5,274.9 787.0,274.2 787.4,273.4 787.9,272.3 788.4,271.7 788.8,270.6 789.3,272.0 789.7,273.1 790.2,273.5 790.6,274.0 791.1,273.7 791.6,273.3 792.0,274.1 792.5,274.3 792.9,274.2 793.4,274.8 793.8,274.3 794.3,275.3" stroke="#0083ff" stroke-width="1.8" fill="none" stroke-linejoin="round"/>
<path d="M794.3,275.3 794.7,277.2" stroke="#0083ff" stroke-width="1.9" fill="none" stroke-dasharray="1.6 2.4"/>
<path d="M741.8,271.8 742.2,270.6 742.7,269.8 743.1,269.3 743.6,269.2 744.1,268.4 744.5,268.6 745.0,266.8 745.4,266.7 745.9,267.1 746.3,267.0 746.8,267.4 747.2,268.4 747.7,268.3 748.2,268.4 748.6,268.6 749.1,268.7 749.5,268.1 750.0,267.3 750.4,267.2 750.9,267.4 751.3,267.4 751.8,267.5 752.2,267.4 752.7,266.6 753.2,266.8 753.6,267.7 754.1,267.1 754.5,267.9 755.0,268.7 755.4,268.0 755.9,268.4 756.3,269.5 756.8,270.4 757.3,271.3 757.7,271.7 758.2,271.4 758.6,270.9 759.1,270.6 759.5,270.9 760.0,270.4 760.4,270.2 760.9,269.3 761.3,268.7 761.8,269.1 762.3,268.3 762.7,268.6 763.2,268.4 763.6,268.2 764.1,267.3 764.5,267.2 765.0,267.3 765.4,266.7 765.9,266.2 766.4,266.0 766.8,265.5 767.3,265.7 767.7,265.8 768.2,266.2 768.6,266.9 769.1,267.2 769.5,266.6 770.0,265.8 770.4,266.4 770.9,265.3 771.4,266.1 771.8,265.7 772.3,265.5 772.7,265.2 773.2,265.6 773.6,264.9 774.1,264.5 774.5,264.3 775.0,263.6 775.5,264.5 775.9,264.3 776.4,264.6 776.8,264.7 777.3,264.1 777.7,263.6 778.2,262.7 778.6,263.3 779.1,262.6 779.5,263.3 780.0,263.8 780.5,264.0 780.9,264.0" stroke="#970000" stroke-width="1.8" fill="none" stroke-linejoin="round"/>
<path d="M744.1,261.8 744.6,262.1 745.0,263.5 745.5,264.5 745.9,265.5 746.4,265.1 746.9,266.0 747.3,265.6 747.8,266.4 748.2,267.0 748.7,266.6 749.1,266.4 749.6,265.6 750.0,265.2 750.5,265.1 751.0,265.3 751.4,265.7 751.9,267.0 752.3,267.6 752.8,268.0 753.2,267.2 753.7,267.0 754.2,266.4 754.6,265.5 755.1,264.8 755.5,263.9 756.0,263.4 756.4,263.9 756.9,263.9 757.3,264.3 757.8,264.9 758.3,265.3 758.7,265.5 759.2,265.5 759.6,265.8 760.1,265.0 760.5,264.6 761.0,265.3 761.4,265.6 761.9,264.6 762.4,264.2 762.8,262.9 763.3,262.6 763.7,262.4 764.2,262.1 764.6,262.4 765.1,262.8 765.6,262.5 766.0,262.7 766.5,261.8 766.9,262.9 767.4,263.1 767.8,264.6 768.3,264.3 768.7,264.3 769.2,263.4 769.7,262.9 770.1,262.8 770.6,263.8 771.0,264.2 771.5,264.1 771.9,263.5 772.4,263.7 772.8,263.2 773.3,263.8 773.8,264.4 774.2,264.6 774.7,264.9 775.1,264.6 775.6,264.8 776.0,265.2 776.5,264.9 777.0,264.7 777.4,263.4 777.9,263.1 778.3,263.0 778.8,262.3 779.2,262.3 779.7,262.9 780.1,263.0 780.6,263.3 781.1,263.4 781.5,262.4" stroke="#ff1f00" stroke-width="1.8" fill="none" stroke-linejoin="round"/>
<path d="M752.0,268.6 752.5,269.0 752.9,268.5 753.4,268.1 753.9,267.1 754.3,266.5 754.8,266.0 755.2,265.2 755.7,265.3 756.1,265.9 756.6,265.6 757.1,266.7 757.5,267.4 758.0,267.9 758.4,267.1 758.9,267.2 759.3,266.3 759.8,265.6 760.3,266.1 760.7,265.6 761.2,266.1 761.6,265.4 762.1,265.6 762.5,265.9 763.0,266.7 763.5,266.2 763.9,266.8 764.4,267.7 764.8,269.2 765.3,269.5 765.7,269.1 766.2,269.0 766.7,268.7 767.1,269.4 767.6,269.7 768.0,269.9 768.5,269.7 769.0,269.6 769.4,268.5 769.9,268.1 770.3,266.3 770.8,265.9 771.2,265.5 771.7,265.5 772.2,265.5 772.6,266.0 773.1,266.7 773.5,266.8 774.0,267.3 774.4,267.3 774.9,266.7 775.4,266.2 775.8,265.9 776.3,266.3 776.7,266.0 777.2,266.1 777.6,266.8 778.1,267.9 778.6,267.9 779.0,268.0 779.5,267.6 779.9,266.7 780.4,267.2 780.8,267.3 781.3,267.2 781.8,266.4 782.2,265.6 782.7,265.7 783.1,266.3 783.6,266.7 784.0,266.1 784.5,264.8 785.0,264.5 785.4,263.9 785.9,264.6 786.3,264.8 786.8,265.0 787.2,264.7 787.7,265.6 788.2,266.0 788.6,266.2 789.1,266.0 789.5,265.8 790.0,265.6 790.5,265.9 790.9,265.7 791.4,265.7 791.8,265.6 792.3,265.8 792.7,265.7 793.2,265.9 793.7,266.5 794.1,265.8 794.6,265.7 795.0,265.4 795.5,263.8 795.9,263.0 796.4,262.9 796.9,262.3 797.3,263.4 797.8,262.9 798.2,263.7 798.7,264.4 799.1,265.6 799.6,265.3 800.1,265.0 800.5,264.7 801.0,264.2 801.4,264.4 801.9,264.6 802.3,264.2 802.8,264.2 803.3,264.3 803.7,264.6 804.2,264.6 804.6,264.2 805.1,264.3 805.5,263.7 806.0,263.9 806.5,263.3 806.9,263.1 807.4,263.6 807.8,263.3 808.3,262.9 808.7,262.4" stroke="#ccff33" stroke-width="1.8" fill="none" stroke-linejoin="round"/>
<path d="M756.0,273.1 756.5,273.0 756.9,272.5 757.4,271.8 757.9,270.9 758.3,270.0 758.8,268.4 759.2,268.5 759.7,268.6 760.1,269.7 760.6,268.9 761.0,269.6 761.5,268.6 762.0,268.2 762.4,268.5 762.9,268.9 763.3,269.4 763.8,269.3 764.2,270.0 764.7,270.0 765.1,269.0 765.6,268.5 766.0,269.0 766.5,270.2 767.0,270.9 767.4,271.4 767.9,270.9 768.3,270.2 768.8,269.9 769.2,269.8 769.7,269.0 770.1,269.9 770.6,269.8 771.0,270.5 771.5,270.8 772.0,271.2 772.4,271.8 772.9,271.9 773.3,272.3 773.8,272.3 774.2,271.5 774.7,271.1 775.1,270.3 775.6,270.1 776.1,271.1 776.5,269.9 777.0,269.5 777.4,269.6 777.9,269.2 778.3,269.3 778.8,268.8 779.2,268.3 779.7,268.1 780.1,268.6 780.6,269.7 781.1,268.9 781.5,268.2 782.0,268.1 782.4,268.4 782.9,269.1 783.3,269.3 783.8,269.5 784.2,269.9 784.7,271.0 785.2,271.0 785.6,271.4 786.1,270.3 786.5,269.8 787.0,269.3 787.4,268.5 787.9,268.2 788.3,267.7 788.8,267.5 789.2,267.8 789.7,268.0 790.2,267.6 790.6,266.9 791.1,266.0 791.5,264.9 792.0,264.4 792.4,263.6 792.9,263.8 793.3,263.6 793.8,265.1 794.3,264.5 794.7,265.1 795.2,264.8 795.6,264.4 796.1,264.1 796.5,263.9 797.0,263.3 797.4,263.4 797.9,262.6 798.3,262.5 798.8,262.5 799.3,262.5 799.7,263.1 800.2,263.7 800.6,264.0 801.1,264.6 801.5,264.9 802.0,265.1 802.4,265.7 802.9,266.4 803.4,267.3 803.8,268.0 804.3,266.9 804.7,266.8 805.2,265.6 805.6,266.0 806.1,265.3 806.5,265.2 807.0,265.7" stroke="#ffac00" stroke-width="1.8" fill="none" stroke-linejoin="round"/>
<path d="M759.9,266.3 760.3,265.9 760.8,266.3 761.2,266.4 761.7,267.0 762.1,268.5 762.6,269.3 763.0,269.9 763.5,270.4 763.9,270.8 764.4,271.2 764.8,270.8 765.3,270.1 765.8,269.5 766.2,268.7 766.7,268.2 767.1,268.5 767.6,268.2 768.0,267.8 768.5,267.6 768.9,268.0 769.4,267.9 769.8,268.9 770.3,268.8 770.8,268.7 771.2,269.8 771.7,269.5 772.1,268.9 772.6,268.1 773.0,268.4 773.5,268.3 773.9,269.0 774.4,268.8 774.8,269.1 775.3,269.6 775.7,268.9 776.2,268.9 776.7,268.8 777.1,269.0 777.6,267.5 778.0,267.6 778.5,267.2 778.9,267.2 779.4,267.3 779.8,267.7 780.3,268.0 780.7,267.1 781.2,266.2 781.7,265.8 782.1,265.8 782.6,265.7 783.0,265.7 783.5,266.1 783.9,266.7 784.4,265.5 784.8,265.1 785.3,264.7 785.7,264.9 786.2,264.5 786.6,264.0 787.1,264.6 787.6,265.4 788.0,265.9 788.5,266.6 788.9,268.0 789.4,268.9 789.8,268.9 790.3,269.1 790.7,269.4 791.2,269.8 791.6,269.8 792.1,268.9 792.5,268.6 793.0,268.4 793.5,268.6 793.9,268.6 794.4,269.0 794.8,269.1 795.3,269.2 795.7,268.8 796.2,268.4 796.6,268.1" stroke="#ff4800" stroke-width="1.8" fill="none" stroke-linejoin="round"/>
<path d="M765.9,266.5 766.3,266.5 766.8,266.7 767.2,268.1 767.7,269.0 768.1,269.3 768.6,269.1 769.0,269.9 769.5,269.7 770.0,269.5 770.4,269.2 770.9,269.6 771.3,269.6 771.8,270.1 772.2,270.4 772.7,271.1 773.1,271.1 773.6,270.6 774.0,270.9 774.5,271.0 774.9,270.6 775.4,270.0 775.9,268.9 776.3,268.8 776.8,268.5 777.2,268.1 777.7,267.8 778.1,267.3 778.6,267.8 779.0,267.2 779.5,267.0 779.9,267.1 780.4,267.4 780.9,268.3 781.3,269.3 781.8,269.2 782.2,269.6 782.7,269.4 783.1,268.0 783.6,267.9 784.0,267.9 784.5,267.4 784.9,268.1 785.4,268.4 785.9,269.0 786.3,269.4 786.8,269.5 787.2,269.3 787.7,269.6 788.1,269.3 788.6,269.3 789.0,269.0 789.5,268.5 789.9,267.6 790.4,267.0 790.9,267.2 791.3,267.5 791.8,266.9 792.2,267.1 792.7,267.9 793.1,268.3 793.6,268.2 794.0,269.4 794.5,269.4 794.9,270.0 795.4,269.5 795.9,269.6 796.3,269.2 796.8,269.4 797.2,269.4 797.7,269.4 798.1,270.0 798.6,270.7 799.0,271.3 799.5,270.6 799.9,270.4 800.4,269.9 800.9,268.9 801.3,268.7 801.8,267.6 802.2,266.9 802.7,266.8 803.1,266.2 803.6,265.4 804.0,266.1 804.5,266.0 804.9,265.7 805.4,266.4 805.8,266.6 806.3,266.1 806.8,265.4 807.2,264.6 807.7,264.8 808.1,265.0 808.6,265.4 809.0,265.8 809.5,265.3 809.9,265.2 810.4,265.0 810.8,265.1" stroke="#beff41" stroke-width="1.8" fill="none" stroke-linejoin="round"/>
<path d="M770.3,267.3 770.8,267.6 771.2,268.1 771.7,268.2 772.2,267.5 772.6,267.2 773.1,267.3 773.5,267.4 774.0,267.1 774.4,267.7 774.9,267.3 775.4,267.3 775.8,266.3 776.3,265.8 776.7,266.0 777.2,266.5 777.6,265.9 778.1,266.5 778.5,266.8 779.0,266.9 779.5,266.9 779.9,268.1 780.4,268.4 780.8,268.1 781.3,267.7 781.7,266.9 782.2,265.7 782.7,265.4 783.1,265.0 783.6,265.9 784.0,267.1 784.5,266.3 784.9,267.0 785.4,266.5 785.8,267.2 786.3,267.3 786.8,268.2 787.2,268.3 787.7,268.3 788.1,267.8 788.6,267.8 789.0,267.3 789.5,266.4 790.0,265.7 790.4,265.7 790.9,265.7 791.3,265.7 791.8,265.5 792.2,265.4 792.7,265.4 793.1,265.6 793.6,265.1 794.1,264.9 794.5,264.9 795.0,265.1 795.4,266.0 795.9,266.9 796.3,267.4 796.8,266.9 797.3,266.9 797.7,266.2 798.2,267.0 798.6,266.6 799.1,267.3 799.5,267.5 800.0,268.2 800.4,268.0 800.9,267.2 801.4,266.8 801.8,266.6 802.3,267.3 802.7,267.9 803.2,267.3 803.6,266.6 804.1,266.6 804.6,265.9 805.0,266.6 805.5,267.2 805.9,267.8 806.4,268.4 806.8,268.0 807.3,268.6 807.7,269.6 808.2,269.4 808.7,270.3 809.1,271.3 809.6,272.2 810.0,272.1 810.5,272.6 810.9,273.0 811.4,274.2 811.9,275.8 812.3,276.8 812.8,277.8" stroke="#00fcff" stroke-width="1.8" fill="none" stroke-linejoin="round"/>
<path d="M778.6,266.2 779.0,266.2 779.5,265.4 779.9,265.2 780.4,264.7 780.9,265.0 781.3,264.9 781.8,265.1 782.2,264.8 782.7,265.0 783.1,264.7 783.6,265.2 784.0,265.5 784.5,264.6 785.0,264.5 785.4,264.3 785.9,264.2 786.3,264.5 786.8,264.2 787.2,264.2 787.7,264.2 788.1,263.7 788.6,262.6 789.1,262.3 789.5,261.5 790.0,261.4 790.4,261.2 790.9,261.6 791.3,261.7 791.8,262.8 792.2,263.4 792.7,262.2 793.2,262.2 793.6,263.4 794.1,264.1 794.5,264.3 795.0,265.5 795.4,266.0 795.9,266.4 796.3,266.3 796.8,266.2 797.3,265.4 797.7,265.6 798.2,265.5 798.6,265.7 799.1,266.2 799.5,266.2 800.0,266.8 800.4,265.7 800.9,265.6 801.4,265.4 801.8,264.7 802.3,263.7 802.7,263.8 803.2,263.7 803.6,264.6 804.1,264.7 804.5,265.4 805.0,265.6 805.4,265.0 805.9,265.1 806.4,264.4 806.8,263.9 807.3,263.4 807.7,262.6 808.2,263.0 808.6,264.4 809.1,264.9 809.5,264.5 810.0,264.1 810.5,265.5 810.9,265.5 811.4,266.3 811.8,266.8 812.3,267.2 812.7,267.4 813.2,267.0 813.6,265.7 814.1,263.8 814.6,263.5 815.0,262.7 815.5,263.1 815.9,262.7 816.4,263.3 816.8,263.5 817.3,264.2 817.7,264.5 818.2,263.7 818.7,263.3 819.1,262.8 819.6,263.0 820.0,263.8 820.5,264.0 820.9,263.1 821.4,262.7 821.8,263.5 822.3,263.3 822.8,263.6 823.2,263.1 823.7,262.8 824.1,262.3 824.6,261.7 825.0,261.7 825.5,262.6 825.9,263.2 826.4,263.4 826.9,263.5 827.3,263.1 827.8,262.6 828.2,262.0 828.7,262.7 829.1,262.8 829.6,263.4 830.0,264.1 830.5,264.9 831.0,265.1 831.4,265.0 831.9,264.4 832.3,264.0 832.8,262.8 833.2,263.7 833.7,263.7 834.1,264.4 834.6,264.1 835.1,265.2 835.5,265.3 836.0,265.2 836.4,265.6 836.9,266.3 837.3,266.0 837.8,266.7 838.2,267.4 838.7,268.6 839.2,269.3 839.6,269.6 840.1,268.5 840.5,267.7 841.0,268.4 841.4,268.3 841.9,267.4 842.3,267.0 842.8,265.7 843.3,265.2" stroke="#0070ff" stroke-width="1.8" fill="none" stroke-linejoin="round"/>
<path d="M786.5,266.9 787.0,266.4 787.4,267.2 787.9,267.1 788.3,268.0 788.8,267.8 789.3,267.7 789.7,267.8 790.2,267.5 790.6,266.7 791.1,267.2 791.5,267.1 792.0,266.9 792.4,267.0 792.9,267.8 793.4,268.5 793.8,268.7 794.3,268.5 794.7,268.6 795.2,268.0 795.6,268.3 796.1,267.7 796.6,267.5 797.0,268.3 797.5,268.7 797.9,269.2 798.4,268.7 798.8,268.3 799.3,267.3 799.7,266.3 800.2,266.3 800.7,265.9 801.1,265.8 801.6,266.2 802.0,265.8 802.5,265.9 802.9,265.8 803.4,265.5 803.9,265.1 804.3,265.4 804.8,264.9 805.2,264.5 805.7,264.0 806.1,263.4 806.6,263.2 807.0,263.1 807.5,263.0 808.0,263.0 808.4,263.8 808.9,263.5 809.3,264.0 809.8,264.1 810.2,264.9 810.7,264.9 811.2,265.1 811.6,264.7 812.1,264.5 812.5,264.0 813.0,263.8 813.4,263.9 813.9,264.4 814.3,265.3 814.8,265.0 815.3,265.2 815.7,265.0 816.2,265.0 816.6,264.8 817.1,264.3 817.5,265.2 818.0,265.2 818.4,266.0 818.9,265.9 819.4,265.5 819.8,265.7 820.3,266.0 820.7,265.5 821.2,265.0 821.6,264.4 822.1,263.6 822.6,263.7 823.0,263.4 823.5,263.6 823.9,263.1 824.4,263.7 824.8,263.5 825.3,263.7 825.7,263.9 826.2,263.9 826.7,264.0 827.1,265.3 827.6,266.4 828.0,267.3 828.5,267.2 828.9,267.6 829.4,267.7 829.9,267.9 830.3,267.6 830.8,267.9 831.2,268.4 831.7,268.4 832.1,268.5 832.6,268.7 833.0,268.7 833.5,268.6 834.0,268.7 834.4,269.0 834.9,269.1 835.3,269.6 835.8,269.5 836.2,269.1 836.7,268.2 837.1,268.0 837.6,267.6 838.1,267.1 838.5,267.4 839.0,267.6 839.4,268.0 839.9,268.2 840.3,268.7 840.8,268.4 841.3,267.9 841.7,267.8 842.2,267.2" stroke="#ff6b00" stroke-width="1.8" fill="none" stroke-linejoin="round"/>
<path d="M792.5,267.0 792.9,266.8 793.4,267.4 793.9,268.1 794.3,268.6 794.8,268.6 795.2,268.3 795.7,269.3 796.1,268.7 796.6,268.7 797.0,267.9 797.5,266.6 798.0,265.8 798.4,265.2 798.9,265.1 799.3,265.7 799.8,266.2 800.2,266.5 800.7,266.6 801.2,266.7 801.6,267.9 802.1,269.0 802.5,269.1 803.0,269.5 803.4,268.9 803.9,269.0 804.4,268.7 804.8,267.7 805.3,267.3 805.7,267.4 806.2,267.7 806.6,267.6 807.1,266.4 807.6,265.9 808.0,264.8 808.5,263.6 808.9,262.6 809.4,262.3 809.8,261.9 810.3,262.2 810.7,262.1 811.2,262.2 811.7,262.5 812.1,263.4 812.6,264.6 813.0,265.4 813.5,265.5 813.9,266.3 814.4,267.3 814.9,268.1 815.3,268.2 815.8,268.2 816.2,268.0 816.7,268.2 817.1,268.5 817.6,269.5 818.1,269.2 818.5,269.1 819.0,268.7 819.4,269.1 819.9,269.4 820.3,270.3 820.8,270.7 821.3,270.9 821.7,270.9 822.2,271.7 822.6,271.9 823.1,272.6 823.5,272.3 824.0,272.2 824.4,272.2 824.9,272.4 825.4,271.5 825.8,271.1 826.3,270.5 826.7,270.6 827.2,269.8 827.6,270.7 828.1,270.8 828.6,271.1 829.0,270.5 829.5,269.8 829.9,269.4 830.4,267.9 830.8,268.1 831.3,267.6 831.8,268.2 832.2,267.2 832.7,267.7 833.1,267.7 833.6,267.0 834.0,267.1 834.5,267.2 835.0,266.7 835.4,266.6 835.9,266.4 836.3,266.4 836.8,266.9 837.2,267.0" stroke="#0000d8" stroke-width="1.8" fill="none" stroke-linejoin="round"/>
<path d="M802.5,271.7 803.0,271.3 803.4,270.1 803.9,269.5 804.4,268.7 804.8,268.2 805.3,267.5 805.7,267.3 806.2,267.4 806.7,266.8 807.1,265.5 807.6,264.7 808.0,264.9 808.5,265.4 808.9,265.9 809.4,265.8 809.9,265.8 810.3,265.7 810.8,265.9 811.2,265.6 811.7,265.3 812.1,265.0 812.6,264.4 813.1,264.2 813.5,264.5 814.0,264.4 814.4,264.8 814.9,264.9 815.4,265.9 815.8,265.7 816.3,266.4 816.7,267.2 817.2,267.9 817.6,267.9 818.1,267.7 818.6,266.6 819.0,266.2 819.5,265.9 819.9,265.7 820.4,265.7 820.8,266.1 821.3,266.3 821.8,267.6 822.2,267.9 822.7,267.0 823.1,267.4 823.6,267.6 824.1,267.6 824.5,268.5 825.0,267.8 825.4,267.3 825.9,266.6 826.3,266.7 826.8,267.2 827.3,266.8 827.7,266.9 828.2,266.9 828.6,266.8 829.1,267.1 829.5,266.4 830.0,266.5 830.5,266.6 830.9,266.6 831.4,267.1 831.8,266.4 832.3,265.5 832.7,265.2 833.2,265.8 833.7,265.9 834.1,265.6 834.6,264.5 835.0,263.7 835.5,264.2 836.0,264.2 836.4,264.8 836.9,264.2 837.3,265.1 837.8,265.3 838.2,266.5 838.7,266.1 839.2,265.9 839.6,265.7 840.1,265.3 840.5,265.1 841.0,264.9 841.4,265.0 841.9,264.8 842.4,265.5 842.8,265.1 843.3,265.3 843.7,265.5 844.2,265.6 844.7,265.7 845.1,264.3 845.6,263.5 846.0,263.3 846.5,262.2 846.9,261.6 847.4,260.7 847.9,260.4 848.3,260.4" stroke="#0072ff" stroke-width="1.8" fill="none" stroke-linejoin="round"/>
<path d="M806.6,263.5 807.1,263.6 807.5,263.6 808.0,264.6 808.4,264.3 808.9,265.2 809.3,265.9 809.8,265.9 810.3,266.7 810.7,266.4 811.2,266.3 811.6,265.0 812.1,265.1 812.5,265.0 813.0,265.1 813.4,264.2 813.9,264.5 814.4,264.3 814.8,263.9 815.3,263.4 815.7,264.2 816.2,264.8 816.6,265.0 817.1,265.3 817.5,265.5 818.0,266.4 818.5,266.7 818.9,265.8 819.4,265.6 819.8,266.2 820.3,266.8 820.7,266.5 821.2,265.4 821.6,265.5 822.1,265.7 822.6,265.5 823.0,265.5 823.5,266.3 823.9,266.8 824.4,266.4 824.8,265.7 825.3,265.0 825.7,263.9 826.2,263.5 826.7,263.9 827.1,263.8 827.6,264.3 828.0,264.9 828.5,264.9 828.9,265.3 829.4,266.0 829.8,266.0 830.3,265.6 830.8,265.8 831.2,265.5 831.7,265.7 832.1,266.7 832.6,266.5 833.0,266.7 833.5,266.9 833.9,267.4 834.4,267.6 834.9,267.1 835.3,267.4 835.8,267.1 836.2,267.1 836.7,266.4 837.1,266.4 837.6,266.3 838.1,266.3 838.5,266.7 839.0,266.6 839.4,266.7 839.9,265.8 840.3,265.1 840.8,264.9 841.2,264.6 841.7,263.9 842.2,265.1 842.6,264.5" stroke="#a10000" stroke-width="1.8" fill="none" stroke-linejoin="round"/>
<path d="M813.3,264.2 813.7,264.5 814.2,264.7 814.6,264.3 815.1,264.2 815.5,265.2 816.0,264.5 816.5,265.6 816.9,265.3 817.4,266.0 817.8,266.3 818.3,267.0 818.7,267.2 819.2,267.5 819.6,267.5 820.1,266.9 820.5,266.8 821.0,266.5 821.5,267.4 821.9,268.1 822.4,268.5 822.8,268.6 823.3,268.5 823.7,269.4 824.2,269.6 824.6,269.8 825.1,269.5 825.5,269.3 826.0,268.9 826.5,268.3 826.9,267.6 827.4,267.5 827.8,267.2 828.3,267.7 828.7,268.3 829.2,268.5 829.6,268.2 830.1,268.0 830.6,268.7 831.0,268.6 831.5,268.9 831.9,268.6 832.4,268.0 832.8,267.5 833.3,267.2 833.7,267.1 834.2,267.1 834.6,266.9 835.1,267.9 835.6,268.0 836.0,268.8 836.5,269.1 836.9,269.7 837.4,270.4 837.8,270.8 838.3,270.2 838.7,269.4 839.2,268.9 839.6,268.5 840.1,267.5 840.6,267.1 841.0,266.1 841.5,265.7 841.9,265.8 842.4,267.1 842.8,266.9 843.3,267.1 843.7,267.3 844.2,267.2 844.6,267.9 845.1,268.6 845.6,269.1 846.0,269.6 846.5,269.1 846.9,268.6 847.4,268.1 847.8,268.3 848.3,268.4 848.7,268.2 849.2,268.4 849.7,267.9 850.1,267.8 850.6,268.0 851.0,268.4 851.5,267.7 851.9,267.6 852.4,266.9 852.8,267.4 853.3,267.5 853.7,267.7 854.2,267.3 854.7,268.0 855.1,268.6 855.6,270.7 856.0,271.6 856.5,271.7 856.9,271.5 857.4,271.7" stroke="#0059ff" stroke-width="1.8" fill="none" stroke-linejoin="round"/>
<path d="M816.9,267.3 817.3,266.8 817.8,267.1 818.2,267.2 818.7,266.9 819.1,266.8 819.6,266.3 820.1,266.6 820.5,266.6 821.0,266.9 821.4,266.9 821.9,267.3 822.3,266.9 822.8,266.8 823.2,265.6 823.7,265.9 824.2,266.2 824.6,266.8 825.1,266.9 825.5,267.3 826.0,267.3 826.4,267.7 826.9,267.4 827.4,267.5 827.8,267.6 828.3,267.4 828.7,267.4 829.2,266.8 829.6,266.1 830.1,265.5 830.5,265.3 831.0,265.6 831.5,265.6 831.9,266.2 832.4,265.7 832.8,266.5 833.3,266.3 833.7,265.9 834.2,265.4 834.7,265.6 835.1,265.7 835.6,264.4 836.0,264.0 836.5,264.1 836.9,263.9 837.4,264.0 837.8,263.4 838.3,263.8 838.8,264.8 839.2,265.0 839.7,265.5 840.1,264.6 840.6,263.9 841.0,263.3 841.5,262.9 841.9,263.5 842.4,263.6 842.9,263.2 843.3,263.2 843.8,263.5 844.2,263.2 844.7,264.2 845.1,263.5 845.6,263.5 846.1,262.6 846.5,262.6 847.0,262.9 847.4,263.4 847.9,264.7 848.3,264.5 848.8,264.9 849.2,265.1 849.7,265.0 850.2,265.3 850.6,265.9 851.1,265.9 851.5,266.3 852.0,266.5 852.4,267.0 852.9,267.0 853.4,266.8 853.8,266.3 854.3,265.3 854.7,265.3 855.2,264.8 855.6,264.8 856.1,264.4 856.5,264.9 857.0,264.6 857.5,265.2 857.9,265.9 858.4,266.0 858.8,266.5 859.3,266.6 859.7,266.4 860.2,266.1 860.7,265.9 861.1,265.3 861.6,264.9 862.0,264.7 862.5,266.2 862.9,266.8 863.4,267.7 863.8,267.5 864.3,267.5 864.8,267.3 865.2,267.9 865.7,267.7 866.1,267.6 866.6,268.1 867.0,268.0 867.5,267.7 867.9,267.1 868.4,266.0 868.9,266.3 869.3,265.3 869.8,265.5 870.2,264.9 870.7,265.1 871.1,265.5 871.6,266.4 872.1,267.1 872.5,268.1 873.0,268.2 873.4,268.1 873.9,268.1 874.3,267.6 874.8,267.2 875.2,266.8 875.7,267.7" stroke="#ff4200" stroke-width="1.8" fill="none" stroke-linejoin="round"/>
<path d="M821.4,259.4 821.8,259.7 822.3,259.8 822.7,259.5 823.2,258.9 823.7,258.0 824.1,258.5 824.6,258.3 825.0,257.8 825.5,258.5 825.9,258.6 826.4,259.1 826.9,259.3 827.3,259.1 827.8,258.6 828.2,258.5 828.7,257.8 829.2,257.6 829.6,257.6 830.1,258.3 830.5,259.1 831.0,259.5 831.4,261.0 831.9,261.0 832.4,260.7 832.8,260.2 833.3,261.1 833.7,261.1 834.2,261.3 834.6,262.1 835.1,262.7 835.6,263.9 836.0,264.1 836.5,263.7 836.9,263.7 837.4,263.6 837.9,263.6 838.3,263.5 838.8,263.3 839.2,262.4 839.7,261.9 840.1,261.8 840.6,262.0 841.1,263.2 841.5,263.7 842.0,263.6 842.4,263.4 842.9,262.8 843.3,263.3 843.8,262.9 844.3,262.9 844.7,264.2 845.2,264.0 845.6,264.3 846.1,264.2 846.6,264.6 847.0,263.7 847.5,263.7 847.9,263.9 848.4,264.2 848.8,263.5 849.3,263.2 849.8,262.4 850.2,261.9 850.7,261.7 851.1,260.9 851.6,261.2 852.1,260.5 852.5,260.0 853.0,261.0 853.4,261.8 853.9,260.8 854.3,260.0 854.8,260.3 855.3,260.2 855.7,260.7 856.2,260.8 856.6,261.2 857.1,261.5 857.5,262.4 858.0,262.7 858.5,263.0 858.9,262.6 859.4,262.7 859.8,263.9 860.3,264.3 860.8,265.1 861.2,264.9 861.7,263.3 862.1,262.7 862.6,262.9 863.0,263.6 863.5,264.5 864.0,265.0" stroke="#00d0ff" stroke-width="1.8" fill="none" stroke-linejoin="round"/>
<path d="M823.0,270.9 823.4,270.4 823.9,269.8 824.4,268.7 824.8,268.5 825.3,267.9 825.7,267.1 826.2,266.4 826.6,266.5 827.1,265.9 827.5,265.2 828.0,265.2 828.5,265.1 828.9,265.7 829.4,265.9 829.8,267.2 830.3,267.8 830.7,268.8 831.2,269.0 831.7,268.5 832.1,268.2 832.6,268.1 833.0,268.3 833.5,268.1 833.9,268.9 834.4,269.3 834.8,269.1 835.3,269.4 835.8,270.3 836.2,270.1 836.7,271.0 837.1,271.0 837.6,271.8 838.0,272.2 838.5,272.6 838.9,272.2 839.4,272.1 839.9,271.9 840.3,271.2 840.8,270.7 841.2,270.8 841.7,270.4 842.1,271.8 842.6,272.6 843.0,272.8 843.5,272.8 844.0,272.4 844.4,272.3 844.9,272.1 845.3,272.1 845.8,272.2 846.2,272.6 846.7,272.4 847.1,272.3 847.6,272.1 848.1,273.1 848.5,272.0 849.0,271.3 849.4,271.4 849.9,270.3 850.3,269.5 850.8,268.6 851.2,267.6 851.7,267.1 852.2,266.7 852.6,266.1 853.1,265.9 853.5,266.4 854.0,266.2 854.4,266.5 854.9,266.6 855.3,266.8 855.8,266.7 856.3,266.6 856.7,266.1 857.2,266.3 857.6,267.4 858.1,267.7 858.5,267.4 859.0,268.0 859.4,267.9 859.9,267.5 860.4,265.8 860.8,265.0 861.3,264.6 861.7,264.6 862.2,265.0 862.6,264.9 863.1,264.4 863.5,263.5 864.0,263.1 864.5,263.7 864.9,264.6 865.4,265.1 865.8,264.6 866.3,263.9 866.7,264.1 867.2,264.7 867.6,264.8 868.1,265.3 868.6,265.9 869.0,264.8 869.5,264.9 869.9,263.9 870.4,263.1 870.8,263.7 871.3,265.0 871.7,265.1 872.2,265.8 872.7,265.4 873.1,265.4 873.6,264.2 874.0,264.8 874.5,264.5 874.9,264.8" stroke="#0000f2" stroke-width="1.8" fill="none" stroke-linejoin="round"/>
<path d="M829.5,267.1 830.0,266.2 830.4,266.2 830.9,266.2 831.3,265.4 831.8,265.9 832.3,265.8 832.7,266.0 833.2,265.7 833.6,266.9 834.1,268.0 834.5,269.0 835.0,269.7 835.5,269.6 835.9,269.8 836.4,268.9 836.8,267.6 837.3,267.9 837.7,268.5 838.2,267.9 838.6,267.9 839.1,267.0 839.6,266.8 840.0,266.3 840.5,266.9 840.9,266.5 841.4,267.9 841.8,267.4 842.3,266.6 842.7,265.8 843.2,265.4 843.7,265.5 844.1,265.2 844.6,265.2 845.0,266.1 845.5,266.1 845.9,265.7 846.4,266.8 846.8,266.0 847.3,266.6 847.8,266.0 848.2,265.5 848.7,264.9 849.1,264.1 849.6,264.5 850.0,265.3 850.5,266.0 851.0,266.9 851.4,267.0 851.9,267.2 852.3,266.3 852.8,266.2 853.2,266.5 853.7,267.1 854.1,267.8 854.6,268.6 855.1,268.7 855.5,269.7 856.0,269.3 856.4,269.2 856.9,268.8 857.3,268.4 857.8,268.2 858.2,267.7 858.7,267.5 859.2,267.8 859.6,266.6 860.1,266.0 860.5,265.8 861.0,265.2 861.4,264.7 861.9,265.6 862.3,266.2 862.8,267.2 863.3,266.9 863.7,266.2 864.2,265.8 864.6,265.6 865.1,265.0 865.5,264.2 866.0,263.4 866.4,262.6 866.9,262.3 867.4,260.8 867.8,259.8 868.3,258.9 868.7,257.7" stroke="#00c5ff" stroke-width="1.8" fill="none" stroke-linejoin="round"/>
<path d="M868.7,257.7 869.2,256.1" stroke="#00c5ff" stroke-width="1.9" fill="none" stroke-dasharray="1.6 2.4"/>
<path d="M838.4,265.0 838.8,265.2 839.3,264.9 839.7,264.5 840.2,264.5 840.7,265.2 841.1,266.5 841.6,266.7 842.0,267.3 842.5,266.8 842.9,266.1 843.4,265.9 843.9,266.9 844.3,267.1 844.8,267.1 845.2,266.9 845.7,266.4 846.2,266.7 846.6,266.0 847.1,265.7 847.5,264.9 848.0,264.9 848.4,265.5 848.9,265.8 849.4,265.8 849.8,266.3 850.3,265.7 850.7,266.3 851.2,266.5 851.7,265.9 852.1,265.6 852.6,265.3 853.0,266.1 853.5,265.6 853.9,264.6 854.4,262.9 854.9,263.1 855.3,262.9 855.8,263.7 856.2,262.6 856.7,262.3 857.1,262.5 857.6,263.4 858.1,263.5 858.5,263.2 859.0,262.9 859.4,263.2 859.9,262.8 860.4,262.9 860.8,262.6 861.3,264.2 861.7,265.5 862.2,265.3 862.6,265.7 863.1,266.0 863.6,266.2 864.0,267.1 864.5,266.3 864.9,265.8 865.4,265.9 865.8,265.9 866.3,265.3 866.8,265.7 867.2,264.7 867.7,265.0 868.1,264.7 868.6,264.5 869.1,264.6 869.5,266.3 870.0,266.1 870.4,267.0 870.9,267.5 871.3,267.3 871.8,267.7 872.3,266.6 872.7,266.9 873.2,266.5 873.6,266.9 874.1,267.4 874.5,267.3 875.0,267.4 875.5,267.3 875.9,267.6 876.4,267.7 876.8,267.5 877.3,267.4 877.8,267.5 878.2,267.8 878.7,267.6 879.1,267.1 879.6,266.3 880.0,266.2 880.5,265.9 881.0,266.4 881.4,266.9 881.9,267.1 882.3,267.4 882.8,266.6" stroke="#0095ff" stroke-width="1.8" fill="none" stroke-linejoin="round"/>
<path d="M840.5,266.8 841.0,267.3 841.4,266.3 841.9,265.8 842.4,265.2 842.8,264.0 843.3,263.7 843.7,263.6 844.2,263.1 844.6,262.6 845.1,262.5 845.6,262.6 846.0,262.8 846.5,263.1 846.9,263.6 847.4,263.5 847.8,263.7 848.3,263.4 848.8,263.8 849.2,264.0 849.7,264.7 850.1,264.4 850.6,265.1 851.0,265.0 851.5,265.2 852.0,264.5 852.4,264.2 852.9,265.0 853.3,265.0 853.8,264.6 854.2,264.2 854.7,264.1 855.2,264.4 855.6,265.0 856.1,264.9 856.5,264.7 857.0,264.3 857.4,264.0 857.9,263.4 858.4,263.1 858.8,263.5 859.3,263.2 859.7,263.2 860.2,264.0 860.6,264.1 861.1,264.9 861.6,265.1 862.0,264.9 862.5,264.5 862.9,264.3 863.4,264.7 863.8,266.2 864.3,266.5 864.8,265.8 865.2,265.5 865.7,264.2 866.1,263.4 866.6,263.5 867.0,263.9 867.5,263.8 868.0,263.7 868.4,263.8 868.9,263.4 869.3,263.2 869.8,262.8 870.2,261.7 870.7,261.9 871.2,262.7 871.6,263.2 872.1,264.1 872.5,265.2 873.0,264.7 873.4,265.4 873.9,264.8 874.4,266.3 874.8,265.8 875.3,266.7 875.7,267.7 876.2,267.4 876.6,267.7 877.1,268.3 877.6,268.2 878.0,268.1 878.5,267.3 878.9,267.0 879.4,266.0 879.8,266.3 880.3,265.7 880.8,266.2 881.2,265.8 881.7,265.6 882.1,265.6 882.6,265.5 883.0,266.2" stroke="#37ffc8" stroke-width="1.8" fill="none" stroke-linejoin="round"/>
<path d="M848.0,264.9 848.5,264.8 849.0,265.5 849.4,265.1 849.9,264.1 850.3,264.1 850.8,263.9 851.2,264.0 851.7,263.0 852.2,262.9 852.6,263.1 853.1,263.1 853.5,262.2 854.0,262.4 854.4,262.3 854.9,262.1 855.4,262.4 855.8,263.2 856.3,264.3 856.7,264.7 857.2,264.9 857.6,264.6 858.1,264.5 858.6,264.1 859.0,264.1 859.5,265.4 859.9,264.7 860.4,264.5 860.8,265.3 861.3,264.7 861.8,263.9 862.2,263.1 862.7,262.7 863.1,263.0 863.6,262.4 864.0,262.6 864.5,261.7 865.0,261.8 865.4,261.4 865.9,261.8 866.3,262.5 866.8,263.8 867.2,264.0 867.7,264.3 868.2,264.4 868.6,264.5 869.1,264.6 869.5,264.6 870.0,264.6 870.4,264.0 870.9,264.1 871.4,264.1 871.8,264.6 872.3,264.8 872.7,265.9 873.2,266.3 873.7,266.5 874.1,266.3 874.6,265.9 875.0,265.7 875.5,265.4 875.9,264.9 876.4,263.5 876.9,261.9 877.3,261.3 877.8,260.3 878.2,260.0 878.7,259.3 879.1,259.8 879.6,260.4 880.1,261.3 880.5,261.6 881.0,262.9 881.4,263.4 881.9,264.8 882.3,264.9 882.8,265.4" stroke="#99ff66" stroke-width="1.8" fill="none" stroke-linejoin="round"/>
<path d="M863.7,266.2 864.2,266.4 864.6,266.2 865.1,266.4 865.5,266.5 866.0,267.0 866.4,266.8 866.9,267.4 867.4,267.5 867.8,267.2 868.3,267.9 868.7,267.7 869.2,268.4 869.6,268.4 870.1,268.0 870.6,267.7 871.0,268.8 871.5,268.3 871.9,268.3 872.4,268.4 872.8,267.9 873.3,267.5 873.7,267.4 874.2,267.2 874.7,266.7 875.1,266.5 875.6,267.0 876.0,267.7 876.5,268.1 876.9,267.6 877.4,267.8 877.9,267.7 878.3,267.1 878.8,266.5 879.2,265.4 879.7,265.4 880.1,264.5 880.6,265.3 881.1,266.0 881.5,266.2 882.0,266.4 882.4,265.6 882.9,265.1" stroke="#00a8ff" stroke-width="1.8" fill="none" stroke-linejoin="round"/>
<path d="M859.2,265.0 859.6,264.7 860.1,265.2 860.5,266.1 861.0,265.9 861.4,266.3 861.9,266.2 862.4,266.7 862.8,266.7 863.3,266.4 863.7,265.2 864.2,264.7 864.6,264.7 865.1,265.0 865.6,264.8 866.0,264.6 866.5,264.3 866.9,264.5 867.4,264.9 867.8,264.6 868.3,264.2 868.7,264.4 869.2,264.0 869.7,264.2 870.1,264.5 870.6,264.7 871.0,264.8 871.5,265.5 871.9,266.1 872.4,266.9 872.9,267.1 873.3,267.2 873.8,268.2 874.2,268.1 874.7,267.7 875.1,266.8 875.6,266.4 876.0,267.2 876.5,267.7 877.0,267.9 877.4,267.9 877.9,268.0 878.3,269.1 878.8,269.8 879.2,270.2 879.7,271.1 880.2,272.3 880.6,272.8 881.1,273.5 881.5,273.5 882.0,273.8 882.4,275.1" stroke="#ad0000" stroke-width="1.8" fill="none" stroke-linejoin="round"/>
<path d="M882.4,275.1 882.9,276.3" stroke="#ad0000" stroke-width="1.9" fill="none" stroke-dasharray="1.6 2.4"/>
<path d="M867.4,265.5 867.9,264.9 868.3,264.3 868.8,263.0 869.2,263.1 869.7,262.6 870.1,263.3 870.6,263.1 871.0,262.9 871.5,263.6 872.0,264.2 872.4,264.8 872.9,264.8 873.3,265.0 873.8,264.9 874.2,265.1 874.7,265.5 875.2,266.4 875.6,266.4 876.1,266.9 876.5,267.8 877.0,267.8 877.4,268.6 877.9,268.7 878.3,268.5 878.8,268.6 879.3,268.3 879.7,267.8 880.2,267.7 880.6,267.4 881.1,267.6 881.5,267.9 882.0,268.2 882.4,268.0 882.9,267.4" stroke="#940000" stroke-width="1.8" fill="none" stroke-linejoin="round"/>
<path d="M873.7,274.5 874.1,273.2 874.6,272.0 875.0,271.9 875.5,271.2 875.9,271.4 876.4,271.4 876.9,270.2 877.3,270.5 877.8,270.2 878.2,269.5 878.7,269.2 879.2,268.2 879.6,268.6 880.1,268.4 880.5,268.2 881.0,267.4 881.4,267.7 881.9,268.4 882.4,268.8 882.8,269.0" stroke="#008dff" stroke-width="1.8" fill="none" stroke-linejoin="round"/>
<path d="M877.3,261.7 877.7,261.7 878.2,261.3 878.6,262.2 879.1,262.8 879.6,262.7 880.0,262.6 880.5,262.8 880.9,262.4 881.4,263.1 881.8,262.1 882.3,261.7 882.8,261.7" stroke="#00e8ff" stroke-width="1.8" fill="none" stroke-linejoin="round"/>
<path d="M592.3,252.3 C592.4,253.3 592.5,256.7 592.8,258.5 C593.1,260.2 593.8,262.1 594.0,262.8" stroke="#ffe600" stroke-width="1.9" fill="none" stroke-dasharray="1.6 2.2"/>
<path d="M878.5,262.8 C878.8,261.8 879.6,258.6 880.2,256.6 C880.8,254.7 881.5,252.1 881.9,251.1 C882.4,250.0 882.9,250.6 883.1,250.5" stroke="#00f0ff" stroke-width="1.9" fill="none" stroke-linejoin="round"/>
<path d="M878.5,267.8 C878.9,268.7 880.1,271.3 880.8,273.3 C881.5,275.4 882.2,279.0 882.5,280.1" stroke="#0000ff" stroke-width="1.9" fill="none" stroke-linejoin="round"/>
<path d="M604.85 321.5v-3.8M604.85 210.3v3.8M650.65 321.5v-3.8M650.65 210.3v3.8M696.45 321.5v-3.8M696.45 210.3v3.8M742.25 321.5v-3.8M742.25 210.3v3.8M788.05 321.5v-3.8M788.05 210.3v3.8M833.85 321.5v-3.8M833.85 210.3v3.8M879.65 321.5v-3.8M879.65 210.3v3.8M559.05 302.97h3.8M925.45 302.97h-3.8M559.05 284.43h3.8M925.45 284.43h-3.8M559.05 265.9h3.8M925.45 265.9h-3.8M559.05 247.37h3.8M925.45 247.37h-3.8M559.05 228.83h3.8M925.45 228.83h-3.8" stroke="#111" stroke-width="1.3" fill="none"/>
<rect x="559.05" y="210.3" width="366.4" height="111.2" stroke="#111" stroke-width="1.45" fill="none"/>
<text transform="translate(559.45 344.7) scale(1 1.045)" text-anchor="middle">8</text>
<text transform="translate(553.85 346) scale(1 1.045)" text-anchor="end">−</text>
<text transform="translate(605.25 344.7) scale(1 1.045)" text-anchor="middle">4</text>
<text transform="translate(599.65 346) scale(1 1.045)" text-anchor="end">−</text>
<text transform="translate(651.05 344.7) scale(1 1.045)" text-anchor="middle">0</text>
<text transform="translate(696.85 344.7) scale(1 1.045)" text-anchor="middle">4</text>
<text transform="translate(742.65 344.7) scale(1 1.045)" text-anchor="middle">8</text>
<text transform="translate(788.45 344.7) scale(1 1.045)" text-anchor="middle">12</text>
<text transform="translate(834.25 344.7) scale(1 1.045)" text-anchor="middle">16</text>
<text transform="translate(880.05 344.7) scale(1 1.045)" text-anchor="middle">20</text>
<text transform="translate(925.85 344.7) scale(1 1.045)" text-anchor="middle">24</text>
<text transform="translate(553.15 328.35) scale(1 1.045)" text-anchor="end">9</text>
<text transform="translate(542.64 329.65) scale(1 1.045)" text-anchor="end">−</text>
<text transform="translate(553.15 309.82) scale(1 1.045)" text-anchor="end">6</text>
<text transform="translate(542.64 311.12) scale(1 1.045)" text-anchor="end">−</text>
<text transform="translate(553.15 291.28) scale(1 1.045)" text-anchor="end">3</text>
<text transform="translate(542.64 292.58) scale(1 1.045)" text-anchor="end">−</text>
<text transform="translate(553.15 272.75) scale(1 1.045)" text-anchor="end">0</text>
<text transform="translate(553.15 254.22) scale(1 1.045)" text-anchor="end">3</text>
<text transform="translate(553.15 235.68) scale(1 1.045)" text-anchor="end">6</text>
<text transform="translate(553.15 217.15) scale(1 1.045)" text-anchor="end">9</text>
<path d="M122.35 501.65V390.3M168.15 501.65V390.3M213.95 501.65V390.3M259.75 501.65V390.3M305.55 501.65V390.3M351.35 501.65V390.3M397.15 501.65V390.3M76.55 473.81H442.95M76.55 445.98H442.95M76.55 418.14H442.95" stroke="#1a1a1a" stroke-width="1.3" stroke-dasharray="1.2 7.35" fill="none"/>
<path d="M116.3,416.8 119.7,416.6 123.2,416.7 126.6,416.9 130.1,416.8 133.5,416.6 137.0,416.6 140.5,416.7 143.9,416.8 147.4,416.8 150.8,416.7 154.3,416.7 157.7,416.8 161.2,416.8 164.6,416.8 168.1,416.9 171.5,416.9 175.0,416.8 178.4,416.6 181.9,416.6 185.4,416.5 188.8,416.7 192.3,416.6 195.7,416.6 199.2,416.7 202.6,416.7 206.1,416.6 209.5,416.6 213.0,416.5 216.4,416.3 219.9,416.2 223.3,416.0 226.8,416.2 230.3,416.2 233.7,416.3 237.2,416.2 240.6,416.2 244.1,416.2 247.5,416.2 251.0,416.3 254.4,416.3 257.9,416.4 261.3,416.2 264.8,416.3 268.2,416.3 271.7,416.5 275.1,416.1 278.6,415.9 282.1,415.8 285.5,415.7 289.0,415.7 292.4,415.7 295.9,415.5 299.3,415.7 302.8,415.8 306.2,415.7 309.7,415.8 313.1,415.8 316.6,415.7 320.0,415.7 323.5,415.7 327.0,415.7 330.4,415.8 333.9,416.1 337.3,416.3 340.8,416.2 344.2,416.4 347.7,416.4 351.1,416.4 354.6,416.2 358.0,416.3 361.5,416.4 364.9,416.3 368.4,416.2 371.8,416.4 375.3,416.1 378.8,416.2 382.2,416.1 385.7,416.1 389.1,416.0 392.6,415.8" stroke="#0000ff" stroke-width="2.1" fill="none"/>
<path d="M116.3,420.1 119.7,420.1 123.2,420.2 126.6,420.3 130.1,420.5 133.5,420.2 137.0,420.4 140.5,420.7 143.9,420.5 147.4,420.3 150.8,420.3 154.3,420.2 157.7,420.3 161.2,420.4 164.6,420.3 168.1,420.3 171.5,420.3 175.0,420.1 178.4,420.0 181.9,420.0 185.4,420.2 188.8,420.1 192.3,420.2 195.7,420.2 199.2,420.1 202.6,420.2 206.1,420.2 209.5,420.2 213.0,420.3 216.4,420.3 219.9,420.7 223.3,420.8 226.8,420.9 230.3,421.0 233.7,420.7 237.2,420.9 240.6,420.9 244.1,420.8 247.5,420.8 251.0,420.7 254.4,420.9 257.9,420.8 261.3,420.9 264.8,421.1 268.2,421.0 271.7,421.0 275.1,421.1 278.6,421.1 282.1,421.2 285.5,421.2 289.0,421.2 292.4,421.3 295.9,421.5 299.3,421.3 302.8,421.1 306.2,421.0 309.7,420.9 313.1,420.9 316.6,420.9 320.0,421.1 323.5,420.9 327.0,420.8 330.4,420.8 333.9,420.7 337.3,420.7 340.8,420.5 344.2,420.5 347.7,420.3 351.1,420.1 354.6,420.2 358.0,420.2 361.5,420.3 364.9,420.3 368.4,420.4 371.8,420.4 375.3,420.4 378.8,420.3 382.2,420.4 385.7,420.3 389.1,420.3 392.6,420.3" stroke="#00bfbf" stroke-width="2.1" fill="none"/>
<path d="M116.3,433.7 119.7,434.0 123.2,433.9 126.6,434.1 130.1,434.0 133.5,433.9 137.0,433.7 140.5,433.7 143.9,433.6 147.4,433.4 150.8,433.4 154.3,433.3 157.7,433.3 161.2,433.3 164.6,433.4 168.1,433.3 171.5,433.3 175.0,433.3 178.4,433.5 181.9,433.5 185.4,433.5 188.8,433.5 192.3,433.6 195.7,433.7 199.2,433.7 202.6,434.0 206.1,434.1 209.5,433.9 213.0,434.0 216.4,434.0 219.9,433.8 223.3,433.7 226.8,433.6 230.3,433.6 233.7,433.8 237.2,433.4 240.6,433.4 244.1,433.4 247.5,433.2 251.0,433.1 254.4,433.2 257.9,433.3 261.3,433.4 264.8,433.4 268.2,433.5 271.7,433.6 275.1,433.7 278.6,433.7 282.1,433.8 285.5,433.7 289.0,433.6 292.4,433.6 295.9,433.6 299.3,433.4 302.8,433.3 306.2,433.5 309.7,433.6 313.1,433.6 316.6,433.7 320.0,433.6 323.5,433.8 327.0,434.0 330.4,433.9 333.9,433.8 337.3,433.5 340.8,432.9 344.2,432.7 347.7,432.8 351.1,432.9 354.6,433.2 358.0,433.9 361.5,434.4 364.9,434.5 368.4,434.6 371.8,434.5 375.3,434.2 378.8,434.3 382.2,434.2 385.7,434.0 389.1,434.3 392.6,434.2" stroke="#ff0000" stroke-width="2.1" fill="none"/>
<path d="M116.3,436.1 119.7,436.2 123.2,436.1 126.6,436.1 130.1,436.1 133.5,436.2 137.0,436.2 140.5,436.3 143.9,436.0 147.4,436.0 150.8,436.1 154.3,435.9 157.7,435.7 161.2,435.8 164.6,435.9 168.1,436.0 171.5,435.8 175.0,435.9 178.4,436.0 181.9,435.9 185.4,435.9 188.8,436.0 192.3,435.7 195.7,435.7 199.2,435.5 202.6,435.5 206.1,435.4 209.5,435.4 213.0,435.4 216.4,435.3 219.9,435.4 223.3,435.6 226.8,435.5 230.3,435.6 233.7,435.5 237.2,435.6 240.6,435.6 244.1,435.5 247.5,435.3 251.0,435.1 254.4,435.1 257.9,435.0 261.3,435.1 264.8,435.0 268.2,435.1 271.7,435.0 275.1,435.0 278.6,435.1 282.1,435.2 285.5,435.1 289.0,435.1 292.4,435.1 295.9,435.1 299.3,435.4 302.8,435.4 306.2,435.5 309.7,435.4 313.1,435.4 316.6,435.7 320.0,435.7 323.5,435.8 327.0,435.7 330.4,435.6 333.9,435.7 337.3,435.8 340.8,435.7 344.2,436.0 347.7,435.8 351.1,435.9 354.6,435.8 358.0,435.8 361.5,435.5 364.9,435.5 368.4,435.5 371.8,435.7 375.3,435.7 378.8,435.7 382.2,435.7 385.7,435.8 389.1,436.0 392.6,436.1" stroke="#00bfbf" stroke-width="2.1" fill="none"/>
<path d="M116.3,438.2 119.7,438.3 123.2,438.3 126.6,438.2 130.1,438.2 133.5,438.1 137.0,438.0 140.5,438.1 143.9,438.0 147.4,437.9 150.8,438.0 154.3,438.0 157.7,438.1 161.2,438.0 164.6,437.9 168.1,437.9 171.5,438.0 175.0,438.1 178.4,438.1 181.9,438.1 185.4,437.9 188.8,438.0 192.3,438.2 195.7,438.1 199.2,438.1 202.6,438.3 206.1,438.1 209.5,438.0 213.0,438.0 216.4,437.9 219.9,438.0 223.3,437.9 226.8,438.0 230.3,438.1 233.7,438.1 237.2,438.2 240.6,438.1 244.1,437.9 247.5,437.9 251.0,438.1 254.4,438.2 257.9,438.2 261.3,438.2 264.8,438.4 268.2,438.7 271.7,438.7 275.1,438.6 278.6,438.6 282.1,438.3 285.5,438.4 289.0,438.4 292.4,438.4 295.9,438.5 299.3,438.3 302.8,438.5 306.2,438.6 309.7,438.6 313.1,438.7 316.6,438.5 320.0,438.5 323.5,438.5 327.0,438.5 330.4,438.3 333.9,438.3 337.3,438.3 340.8,438.5 344.2,438.4 347.7,438.5 351.1,438.3 354.6,438.3 358.0,438.2 361.5,438.1 364.9,438.0 368.4,438.1 371.8,438.1 375.3,438.1 378.8,438.3 382.2,438.2 385.7,438.0 389.1,438.0 392.6,438.0" stroke="#008000" stroke-width="2.1" fill="none"/>
<path d="M116.3,440.6 119.7,440.4 123.2,440.5 126.6,440.4 130.1,440.5 133.5,440.5 137.0,440.4 140.5,440.6 143.9,440.5 147.4,440.5 150.8,440.7 154.3,440.7 157.7,440.8 161.2,440.9 164.6,440.8 168.1,440.9 171.5,440.9 175.0,441.0 178.4,441.0 181.9,440.8 185.4,440.7 188.8,440.9 192.3,441.0 195.7,441.0 199.2,441.2 202.6,441.0 206.1,441.0 209.5,441.0 213.0,441.0 216.4,441.0 219.9,441.2 223.3,441.5 226.8,441.6 230.3,441.6 233.7,441.4 237.2,441.4 240.6,441.6 244.1,441.6 247.5,441.5 251.0,441.6 254.4,441.4 257.9,441.5 261.3,441.5 264.8,441.6 268.2,441.4 271.7,441.5 275.1,441.6 278.6,441.4 282.1,441.5 285.5,441.5 289.0,441.4 292.4,441.3 295.9,441.5 299.3,441.4 302.8,441.4 306.2,441.2 309.7,441.4 313.1,441.3 316.6,441.2 320.0,441.2 323.5,441.2 327.0,441.1 330.4,441.2 333.9,441.2 337.3,441.3 340.8,441.2 344.2,441.1 347.7,441.3 351.1,441.2 354.6,441.2 358.0,441.0 361.5,441.0 364.9,440.9 368.4,440.9 371.8,440.8 375.3,440.8 378.8,440.8 382.2,440.8 385.7,440.9 389.1,440.7 392.6,440.5" stroke="#bf00bf" stroke-width="2.1" fill="none"/>
<path d="M116.3,442.4 119.7,442.4 123.2,442.5 126.6,442.6 130.1,442.7 133.5,442.7 137.0,442.6 140.5,442.6 143.9,442.7 147.4,442.8 150.8,442.8 154.3,442.7 157.7,442.7 161.2,442.9 164.6,443.0 168.1,442.9 171.5,442.9 175.0,442.6 178.4,442.5 181.9,442.4 185.4,442.5 188.8,442.5 192.3,442.6 195.7,442.7 199.2,442.6 202.6,442.5 206.1,442.4 209.5,442.2 213.0,442.2 216.4,442.2 219.9,442.2 223.3,442.1 226.8,442.1 230.3,442.1 233.7,442.3 237.2,442.4 240.6,442.4 244.1,442.4 247.5,442.4 251.0,442.4 254.4,442.6 257.9,442.5 261.3,442.4 264.8,442.2 268.2,442.3 271.7,442.3 275.1,442.3 278.6,442.2 282.1,442.1 285.5,442.1 289.0,442.3 292.4,442.4 295.9,442.6 299.3,442.6 302.8,442.5 306.2,442.5 309.7,442.6 313.1,442.3 316.6,442.5 320.0,442.3 323.5,442.2 327.0,442.1 330.4,442.0 333.9,442.1 337.3,442.2 340.8,442.3 344.2,442.2 347.7,442.3 351.1,442.1 354.6,442.1 358.0,442.2 361.5,442.3 364.9,442.3 368.4,442.2 371.8,442.3 375.3,442.4 378.8,442.6 382.2,442.5 385.7,442.4 389.1,442.3 392.6,442.3" stroke="#00dfdf" stroke-width="2.1" fill="none"/>
<path d="M116.3,443.4 119.7,443.3 123.2,443.5 126.6,443.4 130.1,443.4 133.5,443.2 137.0,443.1 140.5,443.2 143.9,443.2 147.4,443.4 150.8,443.2 154.3,443.4 157.7,443.3 161.2,443.4 164.6,443.5 168.1,443.6 171.5,443.6 175.0,443.6 178.4,443.4 181.9,443.5 185.4,443.4 188.8,443.3 192.3,443.0 195.7,443.1 199.2,443.1 202.6,443.0 206.1,443.0 209.5,443.0 213.0,443.1 216.4,443.1 219.9,443.2 223.3,443.3 226.8,443.4 230.3,443.4 233.7,443.6 237.2,443.6 240.6,443.6 244.1,443.7 247.5,443.9 251.0,443.9 254.4,444.0 257.9,444.1 261.3,443.8 264.8,443.8 268.2,443.8 271.7,443.9 275.1,444.0 278.6,444.1 282.1,444.4 285.5,444.3 289.0,444.3 292.4,444.1 295.9,444.1 299.3,444.3 302.8,444.0 306.2,443.9 309.7,443.8 313.1,443.9 316.6,443.9 320.0,443.9 323.5,443.7 327.0,443.8 330.4,443.9 333.9,443.8 337.3,444.0 340.8,443.8 344.2,444.0 347.7,443.8 351.1,443.8 354.6,443.8 358.0,443.9 361.5,443.7 364.9,443.7 368.4,443.9 371.8,443.8 375.3,443.8 378.8,443.7 382.2,443.7 385.7,443.7 389.1,443.6 392.6,443.6" stroke="#bfbf00" stroke-width="2.1" fill="none"/>
<path d="M116.3,445.1 119.7,445.0 123.2,444.9 126.6,444.8 130.1,444.7 133.5,444.6 137.0,444.7 140.5,444.6 143.9,444.6 147.4,444.8 150.8,444.9 154.3,444.8 157.7,444.7 161.2,444.7 164.6,444.7 168.1,445.0 171.5,444.9 175.0,444.9 178.4,445.0 181.9,445.0 185.4,445.1 188.8,445.3 192.3,445.2 195.7,445.1 199.2,445.0 202.6,445.0 206.1,445.2 209.5,445.3 213.0,445.3 216.4,445.1 219.9,445.0 223.3,445.0 226.8,444.9 230.3,444.8 233.7,444.8 237.2,444.8 240.6,444.8 244.1,444.9 247.5,445.0 251.0,445.1 254.4,444.9 257.9,445.1 261.3,445.2 264.8,445.2 268.2,445.2 271.7,445.2 275.1,445.1 278.6,445.1 282.1,445.1 285.5,445.0 289.0,445.2 292.4,445.1 295.9,444.9 299.3,445.1 302.8,445.1 306.2,445.2 309.7,445.2 313.1,445.1 316.6,445.3 320.0,445.2 323.5,445.1 327.0,445.1 330.4,444.8 333.9,444.9 337.3,445.1 340.8,445.0 344.2,445.0 347.7,445.1 351.1,445.3 354.6,445.5 358.0,445.3 361.5,445.5 364.9,445.3 368.4,445.2 371.8,445.4 375.3,445.4 378.8,445.3 382.2,445.1 385.7,445.0 389.1,444.8 392.6,444.8" stroke="#0000ff" stroke-width="2.1" fill="none"/>
<path d="M116.3,447.1 119.7,447.1 123.2,447.0 126.6,447.1 130.1,447.3 133.5,447.0 137.0,446.9 140.5,446.7 143.9,446.8 147.4,446.9 150.8,447.0 154.3,447.1 157.7,447.1 161.2,447.3 164.6,447.2 168.1,447.2 171.5,447.1 175.0,447.1 178.4,447.1 181.9,446.9 185.4,446.8 188.8,446.7 192.3,446.7 195.7,446.7 199.2,446.6 202.6,446.8 206.1,446.6 209.5,446.6 213.0,446.5 216.4,446.5 219.9,446.5 223.3,446.5 226.8,446.4 230.3,446.5 233.7,446.5 237.2,446.4 240.6,446.6 244.1,446.8 247.5,446.8 251.0,446.8 254.4,446.9 257.9,447.1 261.3,447.2 264.8,447.4 268.2,447.4 271.7,447.6 275.1,447.8 278.6,447.7 282.1,447.5 285.5,447.4 289.0,447.4 292.4,447.3 295.9,447.3 299.3,447.3 302.8,447.4 306.2,447.4 309.7,447.5 313.1,447.6 316.6,447.5 320.0,447.5 323.5,447.3 327.0,447.4 330.4,447.5 333.9,447.4 337.3,447.3 340.8,447.2 344.2,447.2 347.7,447.4 351.1,447.4 354.6,447.5 358.0,447.5 361.5,447.3 364.9,447.3 368.4,447.3 371.8,447.2 375.3,447.3 378.8,447.2 382.2,447.2 385.7,447.3 389.1,447.3 392.6,447.4" stroke="#bfbf00" stroke-width="2.1" fill="none"/>
<path d="M116.3,448.6 119.7,448.6 123.2,448.6 126.6,448.6 130.1,448.8 133.5,449.1 137.0,448.9 140.5,449.0 143.9,448.9 147.4,449.0 150.8,449.2 154.3,449.3 157.7,449.1 161.2,449.1 164.6,449.1 168.1,449.0 171.5,449.1 175.0,449.0 178.4,449.1 181.9,449.4 185.4,449.3 188.8,449.2 192.3,449.3 195.7,449.1 199.2,449.0 202.6,448.8 206.1,448.7 209.5,448.6 213.0,448.6 216.4,448.8 219.9,448.5 223.3,448.4 226.8,448.3 230.3,448.5 233.7,448.4 237.2,448.5 240.6,448.5 244.1,448.4 247.5,448.3 251.0,448.5 254.4,448.4 257.9,448.4 261.3,448.3 264.8,448.2 268.2,448.3 271.7,448.4 275.1,448.7 278.6,448.5 282.1,448.6 285.5,448.5 289.0,448.5 292.4,448.3 295.9,448.3 299.3,448.3 302.8,448.3 306.2,448.3 309.7,448.5 313.1,448.3 316.6,448.6 320.0,448.6 323.5,448.7 327.0,448.7 330.4,448.7 333.9,448.8 337.3,448.8 340.8,449.1 344.2,449.2 347.7,449.2 351.1,449.2 354.6,449.1 358.0,449.1 361.5,449.0 364.9,449.2 368.4,449.0 371.8,448.9 375.3,449.1 378.8,448.9 382.2,449.0 385.7,449.2 389.1,449.1 392.6,448.8" stroke="#404040" stroke-width="2.1" fill="none"/>
<path d="M116.3,449.9 119.7,449.9 123.2,450.0 126.6,450.1 130.1,450.0 133.5,450.0 137.0,450.1 140.5,450.1 143.9,450.3 147.4,450.3 150.8,450.4 154.3,450.5 157.7,450.2 161.2,450.2 164.6,450.2 168.1,450.3 171.5,450.1 175.0,450.1 178.4,450.2 181.9,450.5 185.4,450.4 188.8,450.3 192.3,450.2 195.7,450.3 199.2,450.5 202.6,450.4 206.1,450.4 209.5,450.3 213.0,450.6 216.4,450.6 219.9,450.5 223.3,450.5 226.8,450.2 230.3,450.1 233.7,450.0 237.2,449.9 240.6,449.9 244.1,450.0 247.5,450.1 251.0,450.0 254.4,450.0 257.9,450.3 261.3,450.2 264.8,450.2 268.2,450.3 271.7,450.2 275.1,450.3 278.6,450.0 282.1,450.1 285.5,450.2 289.0,450.2 292.4,450.1 295.9,450.0 299.3,450.0 302.8,449.9 306.2,449.9 309.7,450.0 313.1,450.1 316.6,450.2 320.0,450.2 323.5,450.3 327.0,450.2 330.4,450.2 333.9,450.1 337.3,450.0 340.8,450.0 344.2,449.7 347.7,449.5 351.1,449.6 354.6,449.6 358.0,449.7 361.5,449.8 364.9,449.8 368.4,449.9 371.8,449.8 375.3,450.0 378.8,450.0 382.2,449.8 385.7,449.8 389.1,449.6 392.6,449.4" stroke="#404040" stroke-width="2.1" fill="none"/>
<path d="M116.3,451.8 119.7,451.8 123.2,451.9 126.6,451.7 130.1,451.8 133.5,452.0 137.0,452.1 140.5,452.1 143.9,452.1 147.4,452.1 150.8,452.1 154.3,452.2 157.7,452.1 161.2,452.2 164.6,452.2 168.1,452.2 171.5,452.1 175.0,452.1 178.4,452.0 181.9,452.0 185.4,452.2 188.8,452.2 192.3,452.1 195.7,452.1 199.2,452.1 202.6,452.3 206.1,452.3 209.5,452.3 213.0,452.5 216.4,452.4 219.9,452.4 223.3,452.2 226.8,452.3 230.3,452.5 233.7,452.4 237.2,452.2 240.6,452.2 244.1,452.1 247.5,452.2 251.0,452.2 254.4,452.3 257.9,452.5 261.3,452.4 264.8,452.2 268.2,452.3 271.7,452.2 275.1,452.2 278.6,452.2 282.1,452.1 285.5,452.1 289.0,452.2 292.4,452.3 295.9,452.2 299.3,451.9 302.8,451.9 306.2,452.0 309.7,451.7 313.1,451.8 316.6,451.9 320.0,451.7 323.5,451.6 327.0,451.5 330.4,451.8 333.9,451.6 337.3,451.7 340.8,451.6 344.2,451.5 347.7,451.3 351.1,451.2 354.6,451.0 358.0,451.1 361.5,451.0 364.9,451.0 368.4,451.1 371.8,451.3 375.3,451.3 378.8,451.5 382.2,451.5 385.7,451.6 389.1,451.7 392.6,451.7" stroke="#bfbf00" stroke-width="2.1" fill="none"/>
<path d="M116.3,454.1 119.7,454.2 123.2,454.3 126.6,454.3 130.1,454.4 133.5,454.4 137.0,454.5 140.5,454.7 143.9,454.7 147.4,454.8 150.8,454.8 154.3,454.8 157.7,454.8 161.2,454.7 164.6,454.8 168.1,454.6 171.5,454.5 175.0,454.3 178.4,455.8 181.9,457.4 185.4,457.4 188.8,457.3 192.3,457.3 195.7,457.2 199.2,457.2 202.6,457.4 206.1,457.4 209.5,457.2 213.0,456.5 216.4,454.3 219.9,454.3 223.3,454.2 226.8,454.0 230.3,454.2 233.7,454.1 237.2,454.3 240.6,454.3 244.1,454.6 247.5,454.6 251.0,454.5 254.4,454.7 257.9,454.8 261.3,454.8 264.8,454.8 268.2,454.7 271.7,454.5 275.1,454.6 278.6,454.6 282.1,454.8 285.5,455.1 289.0,455.2 292.4,455.5 295.9,455.3 299.3,455.2 302.8,455.1 306.2,455.2 309.7,455.3 313.1,455.4 316.6,455.4 320.0,455.4 323.5,455.3 327.0,455.1 330.4,455.3 333.9,455.0 337.3,455.0 340.8,454.8 344.2,454.8 347.7,454.6 351.1,454.4 354.6,454.3 358.0,454.2 361.5,454.1 364.9,454.0 368.4,454.1 371.8,454.4 375.3,454.2 378.8,454.2 382.2,454.3 385.7,454.2 389.1,454.2 392.6,454.2" stroke="#ff0000" stroke-width="2.1" fill="none"/>
<path d="M116.3,457.6 119.7,457.5 123.2,457.7 126.6,457.7 130.1,457.6 133.5,457.4 137.0,457.4 140.5,457.5 143.9,457.4 147.4,457.7 150.8,457.5 154.3,457.6 157.7,457.6 161.2,457.7 164.6,457.7 168.1,457.8 171.5,458.0 175.0,458.1 178.4,457.8 181.9,457.9 185.4,457.8 188.8,457.8 192.3,457.8 195.7,457.7 199.2,457.8 202.6,457.9 206.1,458.0 209.5,458.0 213.0,458.1 216.4,457.9 219.9,458.2 223.3,458.0 226.8,457.9 230.3,457.7 233.7,457.8 237.2,457.9 240.6,457.7 244.1,457.6 247.5,457.6 251.0,457.7 254.4,457.8 257.9,457.9 261.3,457.7 264.8,457.6 268.2,457.7 271.7,457.5 275.1,457.5 278.6,457.8 282.1,457.7 285.5,457.8 289.0,457.8 292.4,457.8 295.9,458.0 299.3,458.0 302.8,457.9 306.2,458.0 309.7,458.1 313.1,458.3 316.6,458.3 320.0,458.2 323.5,458.1 327.0,458.0 330.4,457.9 333.9,457.8 337.3,457.6 340.8,457.4 344.2,457.5 347.7,457.6 351.1,457.5 354.6,457.5 358.0,457.5 361.5,457.6 364.9,457.5 368.4,457.5 371.8,457.6 375.3,457.6 378.8,457.7 382.2,457.6 385.7,457.6 389.1,457.6 392.6,457.8" stroke="#bf00bf" stroke-width="2.1" fill="none"/>
<path d="M116.3,459.0 119.7,459.1 123.2,459.1 126.6,459.2 130.1,459.2 133.5,459.2 137.0,459.1 140.5,459.1 143.9,459.2 147.4,459.3 150.8,459.2 154.3,459.3 157.7,459.1 161.2,459.1 164.6,458.9 168.1,459.1 171.5,459.1 175.0,459.0 178.4,459.1 181.9,459.1 185.4,459.1 188.8,458.9 192.3,459.0 195.7,459.1 199.2,459.0 202.6,458.7 206.1,458.9 209.5,458.9 213.0,459.0 216.4,458.9 219.9,458.9 223.3,459.0 226.8,459.2 230.3,459.2 233.7,459.1 237.2,459.0 240.6,459.0 244.1,458.9 247.5,458.9 251.0,458.7 254.4,458.6 257.9,458.8 261.3,458.9 264.8,458.8 268.2,458.9 271.7,458.8 275.1,458.6 278.6,458.8 282.1,458.9 285.5,459.0 289.0,458.9 292.4,458.6 295.9,458.7 299.3,458.5 302.8,458.7 306.2,458.7 309.7,458.7 313.1,458.6 316.6,458.8 320.0,458.9 323.5,458.9 327.0,458.8 330.4,458.9 333.9,458.8 337.3,458.8 340.8,458.6 344.2,458.8 347.7,458.6 351.1,458.4 354.6,458.5 358.0,458.4 361.5,458.7 364.9,458.8 368.4,458.9 371.8,458.9 375.3,459.1 378.8,459.2 382.2,459.4 385.7,459.2 389.1,459.3 392.6,459.3" stroke="#008000" stroke-width="2.1" fill="none"/>
<path d="M116.3,460.4 119.7,460.3 123.2,460.6 126.6,460.6 130.1,460.8 133.5,460.9 137.0,460.8 140.5,460.7 143.9,460.8 147.4,461.3 150.8,463.2 154.3,463.4 157.7,463.3 161.2,463.2 164.6,463.1 168.1,463.1 171.5,463.1 175.0,463.0 178.4,463.3 181.9,463.4 185.4,463.4 188.8,463.3 192.3,463.2 195.7,463.3 199.2,463.4 202.6,463.5 206.1,463.5 209.5,463.5 213.0,463.5 216.4,463.7 219.9,463.7 223.3,463.8 226.8,463.7 230.3,463.6 233.7,463.5 237.2,463.4 240.6,463.3 244.1,463.2 247.5,463.3 251.0,463.3 254.4,463.3 257.9,463.2 261.3,463.2 264.8,463.2 268.2,463.2 271.7,463.2 275.1,463.2 278.6,463.3 282.1,463.4 285.5,463.5 289.0,463.2 292.4,463.3 295.9,463.4 299.3,463.3 302.8,463.2 306.2,463.3 309.7,463.1 313.1,463.3 316.6,463.4 320.0,463.5 323.5,463.5 327.0,463.5 330.4,463.5 333.9,463.4 337.3,463.4 340.8,463.3 344.2,463.3 347.7,463.4 351.1,463.4 354.6,463.6 358.0,463.5 361.5,463.5 364.9,463.6 368.4,463.6 371.8,463.6 375.3,463.6 378.8,463.7 382.2,463.7 385.7,463.8 389.1,463.8 392.6,464.1" stroke="#0000ff" stroke-width="2.1" fill="none"/>
<path d="M116.3,462.2 119.7,462.5 123.2,463.2 126.6,464.1 130.1,464.8 133.5,465.0 137.0,465.1 140.5,465.1 143.9,465.2 147.4,465.2 150.8,465.4 154.3,465.1 157.7,464.8 161.2,464.2 164.6,463.2 168.1,462.4 171.5,461.8 175.0,461.6 178.4,461.6 181.9,461.5 185.4,461.3 188.8,461.1 192.3,461.1 195.7,461.2 199.2,460.9 202.6,461.1 206.1,461.2 209.5,461.2 213.0,461.0 216.4,460.8 219.9,461.1 223.3,461.3 226.8,461.5 230.3,461.4 233.7,461.5 237.2,461.6 240.6,461.4 244.1,461.6 247.5,461.4 251.0,461.6 254.4,461.7 257.9,461.6 261.3,461.7 264.8,461.7 268.2,461.6 271.7,461.5 275.1,461.4 278.6,461.4 282.1,461.3 285.5,461.3 289.0,461.4 292.4,461.2 295.9,461.3 299.3,461.3 302.8,461.4 306.2,461.5 309.7,461.4 313.1,461.6 316.6,461.8 320.0,461.7 323.5,461.7 327.0,461.7 330.4,461.7 333.9,461.6 337.3,461.7 340.8,461.5 344.2,461.6 347.7,461.8 351.1,461.9 354.6,461.8 358.0,461.9 361.5,462.1 364.9,462.0 368.4,462.0 371.8,461.9 375.3,461.7 378.8,461.9 382.2,461.8 385.7,461.9 389.1,461.9 392.6,461.9" stroke="#bf00bf" stroke-width="2.1" fill="none"/>
<path d="M116.3,468.2 119.7,468.3 123.2,468.2 126.6,468.2 130.1,468.6 133.5,468.5 137.0,468.4 140.5,468.3 143.9,468.4 147.4,468.2 150.8,468.2 154.3,468.2 157.7,468.3 161.2,468.5 164.6,468.5 168.1,468.4 171.5,468.6 175.0,468.5 178.4,468.4 181.9,468.4 185.4,468.5 188.8,468.6 192.3,468.6 195.7,468.6 199.2,468.6 202.6,468.6 206.1,468.6 209.5,468.6 213.0,468.5 216.4,468.5 219.9,468.7 223.3,468.6 226.8,468.6 230.3,468.5 233.7,468.4 237.2,468.5 240.6,468.5 244.1,468.3 247.5,468.1 251.0,468.1 254.4,468.1 257.9,468.1 261.3,468.0 264.8,468.0 268.2,467.7 271.7,467.7 275.1,467.7 278.6,467.6 282.1,467.6 285.5,467.7 289.0,467.7 292.4,467.8 295.9,468.0 299.3,468.0 302.8,468.3 306.2,468.5 309.7,468.6 313.1,468.9 316.6,468.8 320.0,468.9 323.5,468.9 327.0,468.9 330.4,469.1 333.9,469.3 337.3,469.4 340.8,469.5 344.2,469.2 347.7,469.2 351.1,469.1 354.6,469.2 358.0,469.1 361.5,469.0 364.9,469.0 368.4,468.9 371.8,469.2 375.3,469.3 378.8,469.3 382.2,469.1 385.7,468.8 389.1,468.9 392.6,468.9" stroke="#008000" stroke-width="2.1" fill="none"/>
<path d="M116.3,451.0 119.7,450.7 123.2,450.8 126.6,450.7 130.1,450.7 133.5,450.7 137.0,450.8 140.5,450.7 143.9,450.7 147.4,450.8 150.8,450.9 154.3,450.8 157.7,450.9 161.2,450.7 164.6,450.9 168.1,451.0 171.5,450.9 175.0,450.9 178.4,451.0 181.9,450.9 185.4,450.9 188.8,451.2 192.3,451.2 195.7,451.1 199.2,451.1 202.6,450.9 206.1,450.8 209.5,450.8 213.0,450.6 216.4,450.7 219.9,451.1 223.3,451.1 226.8,450.9 230.3,450.9 233.7,451.0 237.2,451.0 240.6,450.8 244.1,450.8 247.5,450.9 251.0,451.0 254.4,450.9 257.9,451.1 261.3,451.0 264.8,451.2 268.2,450.9 271.7,451.0 275.1,450.9 278.6,450.9 282.1,451.1 285.5,451.0 289.0,451.1 292.4,451.2 295.9,451.2 299.3,451.4 302.8,451.4 306.2,451.3 309.7,451.2 313.1,451.1 316.6,451.0 320.0,451.4 323.5,451.3 327.0,451.4 330.4,451.7 333.9,451.6 337.3,451.4 340.8,451.4 344.2,451.4 347.7,451.6 351.1,451.6 354.6,451.5 358.0,451.5 361.5,451.4 364.9,451.5 368.4,451.5 371.8,451.6 375.3,451.8 378.8,451.6 382.2,451.7 385.7,451.5 389.1,451.4 392.6,451.6" stroke="#ff0000" stroke-width="2.1" fill="none"/>
<path d="M116.3,446.2 119.7,446.1 123.2,446.0 126.6,446.1 130.1,446.1 133.5,446.2 137.0,446.2 140.5,446.4 143.9,446.3 147.4,446.4 150.8,446.2 154.3,446.1 157.7,446.3 161.2,446.5 164.6,446.5 168.1,446.5 171.5,446.7 175.0,446.6 178.4,446.6 181.9,446.8 185.4,446.7 188.8,446.7 192.3,446.7 195.7,446.4 199.2,446.4 202.6,446.5 206.1,446.7 209.5,446.6 213.0,446.7 216.4,446.7 219.9,446.5 223.3,446.6 226.8,446.6 230.3,446.4 233.7,446.3 237.2,446.4 240.6,446.2 244.1,446.3 247.5,446.1 251.0,446.1 254.4,446.0 257.9,446.2 261.3,446.2 264.8,446.5 268.2,446.4 271.7,446.6 275.1,446.5 278.6,446.4 282.1,446.2 285.5,446.1 289.0,446.0 292.4,446.3 295.9,446.2 299.3,446.4 302.8,446.4 306.2,446.4 309.7,446.3 313.1,446.2 316.6,446.1 320.0,446.1 323.5,446.2 327.0,446.2 330.4,446.2 333.9,446.1 337.3,446.4 340.8,446.3 344.2,446.5 347.7,446.4 351.1,446.4 354.6,446.6 358.0,446.6 361.5,446.7 364.9,446.6 368.4,446.6 371.8,446.6 375.3,446.4 378.8,446.5 382.2,446.6 385.7,446.6 389.1,446.5 392.6,446.5" stroke="#0000ff" stroke-width="2.1" fill="none"/>
<path d="M116.3,448.0 119.7,448.0 123.2,448.1 126.6,448.1 130.1,448.3 133.5,448.4 137.0,448.4 140.5,448.3 143.9,448.4 147.4,448.4 150.8,448.4 154.3,448.3 157.7,448.4 161.2,448.3 164.6,448.1 168.1,448.0 171.5,448.1 175.0,448.2 178.4,448.0 181.9,447.6 185.4,447.7 188.8,447.7 192.3,447.6 195.7,447.6 199.2,447.6 202.6,447.7 206.1,447.7 209.5,447.9 213.0,447.9 216.4,448.2 219.9,448.3 223.3,448.2 226.8,448.1 230.3,447.9 233.7,447.9 237.2,447.9 240.6,447.8 244.1,448.0 247.5,448.2 251.0,448.2 254.4,448.5 257.9,448.3 261.3,448.3 264.8,448.3 268.2,448.0 271.7,448.0 275.1,447.9 278.6,448.1 282.1,447.9 285.5,448.0 289.0,448.0 292.4,448.0 295.9,447.9 299.3,448.0 302.8,448.1 306.2,448.2 309.7,448.3 313.1,448.4 316.6,448.5 320.0,448.3 323.5,448.4 327.0,448.4 330.4,448.3 333.9,448.3 337.3,448.1 340.8,448.1 344.2,448.2 347.7,448.1 351.1,448.1 354.6,448.1 358.0,448.0 361.5,447.8 364.9,447.8 368.4,447.7 371.8,447.9 375.3,448.0 378.8,448.0 382.2,448.0 385.7,448.1 389.1,448.1 392.6,447.9" stroke="#404040" stroke-width="2.1" fill="none"/>
<path d="M122.35 501.65v-3.8M122.35 390.3v3.8M168.15 501.65v-3.8M168.15 390.3v3.8M213.95 501.65v-3.8M213.95 390.3v3.8M259.75 501.65v-3.8M259.75 390.3v3.8M305.55 501.65v-3.8M305.55 390.3v3.8M351.35 501.65v-3.8M351.35 390.3v3.8M397.15 501.65v-3.8M397.15 390.3v3.8M76.55 473.81h3.8M442.95 473.81h-3.8M76.55 445.98h3.8M442.95 445.98h-3.8M76.55 418.14h3.8M442.95 418.14h-3.8" stroke="#111" stroke-width="1.3" fill="none"/>
<rect x="76.55" y="390.3" width="366.4" height="111.35" stroke="#111" stroke-width="1.45" fill="none"/>
<text transform="translate(76.95 524.85) scale(1 1.045)" text-anchor="middle">8</text>
<text transform="translate(71.35 526.15) scale(1 1.045)" text-anchor="end">−</text>
<text transform="translate(122.75 524.85) scale(1 1.045)" text-anchor="middle">4</text>
<text transform="translate(117.15 526.15) scale(1 1.045)" text-anchor="end">−</text>
<text transform="translate(168.55 524.85) scale(1 1.045)" text-anchor="middle">0</text>
<text transform="translate(214.35 524.85) scale(1 1.045)" text-anchor="middle">4</text>
<text transform="translate(260.15 524.85) scale(1 1.045)" text-anchor="middle">8</text>
<text transform="translate(305.95 524.85) scale(1 1.045)" text-anchor="middle">12</text>
<text transform="translate(351.75 524.85) scale(1 1.045)" text-anchor="middle">16</text>
<text transform="translate(397.55 524.85) scale(1 1.045)" text-anchor="middle">20</text>
<text transform="translate(443.35 524.85) scale(1 1.045)" text-anchor="middle">24</text>
<text transform="translate(70.65 508.5) scale(1 1.045)" text-anchor="end">20</text>
<text transform="translate(50.13 509.8) scale(1 1.045)" text-anchor="end">−</text>
<text transform="translate(70.65 480.66) scale(1 1.045)" text-anchor="end">10</text>
<text transform="translate(50.13 481.96) scale(1 1.045)" text-anchor="end">−</text>
<text transform="translate(70.65 452.83) scale(1 1.045)" text-anchor="end">0</text>
<text transform="translate(70.65 424.99) scale(1 1.045)" text-anchor="end">10</text>
<text transform="translate(70.65 397.15) scale(1 1.045)" text-anchor="end">20</text>
<text class="L" transform="translate(25.5 446.98) rotate(-90)" text-anchor="middle">DCB (ns)</text>
<path d="M604.85 501.65V390.3M650.65 501.65V390.3M696.45 501.65V390.3M742.25 501.65V390.3M788.05 501.65V390.3M833.85 501.65V390.3M879.65 501.65V390.3M559.05 473.81H925.45M559.05 445.98H925.45M559.05 418.14H925.45" stroke="#1a1a1a" stroke-width="1.3" stroke-dasharray="1.2 7.35" fill="none"/>
<path d="M598.8,416.8 602.2,416.8 605.7,416.4 609.1,416.4 612.6,416.4 616.0,416.3 619.5,416.4 623.0,416.5 626.4,416.5 629.9,416.6 633.3,416.5 636.8,416.5 640.2,416.8 643.7,416.9 647.1,417.0 650.6,417.3 654.0,417.3 657.5,417.3 660.9,417.2 664.4,417.3 667.9,417.3 671.3,417.2 674.8,417.1 678.2,417.2 681.7,417.0 685.1,417.1 688.6,416.9 692.0,416.9 695.5,417.0 698.9,417.1 702.4,417.1 705.8,416.8 709.3,416.9 712.8,416.7 716.2,416.6 719.7,416.6 723.1,416.5 726.6,416.3 730.0,416.4 733.5,416.5 736.9,416.4 740.4,416.4 743.8,416.1 747.3,416.1 750.7,416.3 754.2,416.3 757.6,416.1 761.1,415.7 764.6,415.7 768.0,415.7 771.5,415.9 774.9,415.8 778.4,415.8 781.8,415.7 785.3,415.9 788.7,415.9 792.2,416.0 795.6,416.1 799.1,415.8 802.5,415.6 806.0,415.7 809.5,415.6 812.9,415.9 816.4,415.7 819.8,415.6 823.3,415.7 826.7,415.8 830.2,415.8 833.6,415.7 837.1,415.8 840.5,415.9 844.0,416.0 847.4,416.0 850.9,415.9 854.3,415.9 857.8,415.9 861.3,416.1 864.7,416.2 868.2,416.2 871.6,416.3 875.1,416.3" stroke="#0000ff" stroke-width="2.1" fill="none"/>
<path d="M598.8,420.3 602.2,420.4 605.7,420.3 609.1,420.2 612.6,420.3 616.0,420.2 619.5,420.3 623.0,420.5 626.4,420.5 629.9,420.3 633.3,420.3 636.8,420.5 640.2,420.4 643.7,420.5 647.1,420.5 650.6,420.5 654.0,420.7 657.5,420.9 660.9,421.4 664.4,421.8 667.9,421.9 671.3,422.0 674.8,422.0 678.2,421.9 681.7,421.7 685.1,421.8 688.6,421.7 692.0,421.4 695.5,421.3 698.9,421.3 702.4,421.3 705.8,421.3 709.3,421.2 712.8,421.1 716.2,421.2 719.7,421.2 723.1,421.2 726.6,421.3 730.0,421.3 733.5,421.4 736.9,421.2 740.4,421.0 743.8,421.1 747.3,421.0 750.7,421.0 754.2,421.0 757.6,421.1 761.1,421.0 764.6,420.9 768.0,421.1 771.5,421.0 774.9,421.0 778.4,421.2 781.8,421.2 785.3,421.1 788.7,421.1 792.2,421.1 795.6,421.1 799.1,421.2 802.5,421.1 806.0,421.2 809.5,421.1 812.9,421.0 816.4,421.1 819.8,421.1 823.3,421.1 826.7,421.2 830.2,421.2 833.6,421.2 837.1,421.4 840.5,421.7 844.0,421.6 847.4,421.7 850.9,421.7 854.3,421.7 857.8,421.8 861.3,421.6 864.7,421.6 868.2,421.6 871.6,421.7 875.1,421.6" stroke="#00bfbf" stroke-width="2.1" fill="none"/>
<path d="M598.8,433.6 602.2,433.4 605.7,433.3 609.1,433.4 612.6,433.6 616.0,433.4 619.5,433.5 623.0,433.5 626.4,433.5 629.9,433.5 633.3,433.4 636.8,433.5 640.2,433.6 643.7,433.8 647.1,433.7 650.6,433.7 654.0,433.9 657.5,433.8 660.9,433.8 664.4,433.9 667.9,433.9 671.3,434.0 674.8,433.9 678.2,433.9 681.7,433.9 685.1,433.9 688.6,434.2 692.0,434.2 695.5,434.1 698.9,433.9 702.4,433.8 705.8,433.9 709.3,434.1 712.8,434.1 716.2,433.8 719.7,433.8 723.1,433.8 726.6,434.0 730.0,434.0 733.5,434.0 736.9,433.9 740.4,433.9 743.8,434.2 747.3,434.1 750.7,434.0 754.2,434.1 757.6,434.2 761.1,434.3 764.6,434.4 768.0,434.1 771.5,433.9 774.9,434.0 778.4,433.8 781.8,433.9 785.3,433.9 788.7,434.0 792.2,434.0 795.6,433.9 799.1,433.6 802.5,433.6 806.0,433.6 809.5,433.5 812.9,433.6 816.4,433.5 819.8,433.6 823.3,433.6 826.7,433.5 830.2,433.4 833.6,433.5 837.1,433.5 840.5,433.5 844.0,433.6 847.4,433.8 850.9,433.9 854.3,433.7 857.8,433.8 861.3,433.5 864.7,433.4 868.2,433.5 871.6,433.5 875.1,433.5" stroke="#ff0000" stroke-width="2.1" fill="none"/>
<path d="M598.8,436.1 602.2,436.1 605.7,436.1 609.1,435.7 612.6,435.6 616.0,435.6 619.5,435.7 623.0,435.9 626.4,435.9 629.9,436.0 633.3,436.0 636.8,436.0 640.2,435.9 643.7,435.8 647.1,435.9 650.6,436.1 654.0,436.1 657.5,435.9 660.9,435.8 664.4,435.8 667.9,436.0 671.3,436.1 674.8,436.0 678.2,435.9 681.7,435.9 685.1,435.9 688.6,435.8 692.0,435.8 695.5,435.9 698.9,436.1 702.4,436.0 705.8,436.1 709.3,436.1 712.8,436.0 716.2,436.0 719.7,436.1 723.1,436.0 726.6,436.1 730.0,436.4 733.5,436.4 736.9,436.3 740.4,436.4 743.8,436.4 747.3,436.6 750.7,436.4 754.2,436.6 757.6,436.7 761.1,436.7 764.6,436.4 768.0,436.4 771.5,436.4 774.9,436.6 778.4,436.6 781.8,436.7 785.3,436.8 788.7,436.7 792.2,436.6 795.6,436.7 799.1,436.5 802.5,436.7 806.0,436.4 809.5,436.5 812.9,436.5 816.4,436.5 819.8,436.5 823.3,436.5 826.7,436.5 830.2,436.6 833.6,436.6 837.1,436.6 840.5,436.6 844.0,436.7 847.4,436.8 850.9,436.8 854.3,436.7 857.8,436.8 861.3,436.6 864.7,436.6 868.2,436.6 871.6,436.7 875.1,436.6" stroke="#00bfbf" stroke-width="2.1" fill="none"/>
<path d="M598.8,438.1 602.2,437.8 605.7,437.9 609.1,437.9 612.6,437.9 616.0,437.8 619.5,437.9 623.0,437.9 626.4,437.8 629.9,437.7 633.3,437.8 636.8,437.7 640.2,437.9 643.7,437.8 647.1,437.9 650.6,438.0 654.0,437.9 657.5,437.7 660.9,437.7 664.4,437.7 667.9,437.5 671.3,437.4 674.8,437.7 678.2,437.8 681.7,437.9 685.1,438.0 688.6,438.2 692.0,438.1 695.5,438.1 698.9,437.9 702.4,437.9 705.8,437.9 709.3,438.0 712.8,437.9 716.2,437.8 719.7,437.6 723.1,437.5 726.6,437.6 730.0,437.5 733.5,437.6 736.9,437.7 740.4,437.7 743.8,437.5 747.3,437.6 750.7,437.8 754.2,437.8 757.6,437.6 761.1,437.6 764.6,437.5 768.0,437.7 771.5,437.7 774.9,437.6 778.4,437.6 781.8,437.7 785.3,437.8 788.7,437.6 792.2,437.4 795.6,437.4 799.1,437.6 802.5,437.4 806.0,437.5 809.5,437.5 812.9,437.5 816.4,437.5 819.8,437.6 823.3,437.4 826.7,437.4 830.2,437.6 833.6,437.7 837.1,437.5 840.5,437.6 844.0,437.7 847.4,437.6 850.9,437.6 854.3,437.6 857.8,437.6 861.3,437.6 864.7,437.6 868.2,437.6 871.6,437.7 875.1,437.6" stroke="#008000" stroke-width="2.1" fill="none"/>
<path d="M598.8,440.7 602.2,440.5 605.7,440.5 609.1,440.4 612.6,440.6 616.0,440.5 619.5,440.6 623.0,440.5 626.4,440.5 629.9,440.6 633.3,440.4 636.8,440.4 640.2,440.4 643.7,440.5 647.1,440.4 650.6,440.4 654.0,440.3 657.5,440.4 660.9,440.4 664.4,440.4 667.9,440.5 671.3,440.4 674.8,440.5 678.2,440.7 681.7,440.6 685.1,440.7 688.6,440.6 692.0,440.5 695.5,440.5 698.9,440.5 702.4,440.3 705.8,440.4 709.3,440.3 712.8,440.3 716.2,440.3 719.7,440.3 723.1,440.2 726.6,440.2 730.0,440.2 733.5,440.2 736.9,440.2 740.4,440.2 743.8,439.9 747.3,439.9 750.7,440.0 754.2,439.9 757.6,439.9 761.1,440.0 764.6,440.0 768.0,440.2 771.5,440.1 774.9,440.0 778.4,440.0 781.8,440.1 785.3,440.3 788.7,440.5 792.2,440.5 795.6,440.6 799.1,440.6 802.5,440.7 806.0,440.7 809.5,440.7 812.9,440.6 816.4,440.6 819.8,440.6 823.3,440.7 826.7,440.7 830.2,440.8 833.6,440.9 837.1,440.8 840.5,440.8 844.0,440.9 847.4,441.0 850.9,441.0 854.3,441.1 857.8,441.1 861.3,441.1 864.7,441.2 868.2,441.0 871.6,441.0 875.1,440.9" stroke="#bf00bf" stroke-width="2.1" fill="none"/>
<path d="M598.8,442.6 602.2,442.5 605.7,442.4 609.1,442.4 612.6,442.6 616.0,442.6 619.5,442.7 623.0,442.6 626.4,442.6 629.9,442.6 633.3,442.7 636.8,442.5 640.2,442.4 643.7,442.6 647.1,442.6 650.6,442.5 654.0,442.5 657.5,442.5 660.9,442.5 664.4,442.3 667.9,442.2 671.3,442.2 674.8,442.1 678.2,442.0 681.7,441.8 685.1,441.9 688.6,442.1 692.0,442.0 695.5,442.0 698.9,442.2 702.4,442.7 705.8,442.6 709.3,442.6 712.8,442.7 716.2,442.7 719.7,442.7 723.1,442.8 726.6,442.6 730.0,442.8 733.5,442.8 736.9,442.7 740.4,442.8 743.8,442.8 747.3,442.7 750.7,442.9 754.2,442.8 757.6,442.6 761.1,442.7 764.6,442.8 768.0,442.9 771.5,443.2 774.9,443.2 778.4,443.3 781.8,443.4 785.3,443.4 788.7,443.3 792.2,443.2 795.6,443.3 799.1,443.1 802.5,443.2 806.0,443.0 809.5,443.0 812.9,443.1 816.4,443.1 819.8,442.9 823.3,442.8 826.7,442.8 830.2,443.0 833.6,442.9 837.1,443.0 840.5,443.0 844.0,443.0 847.4,443.2 850.9,443.0 854.3,443.1 857.8,443.0 861.3,442.9 864.7,442.8 868.2,442.8 871.6,442.7 875.1,442.7" stroke="#00dfdf" stroke-width="2.1" fill="none"/>
<path d="M598.8,443.4 602.2,443.4 605.7,443.4 609.1,443.4 612.6,443.7 616.0,443.7 619.5,443.8 623.0,443.7 626.4,443.5 629.9,443.5 633.3,443.4 636.8,443.7 640.2,443.7 643.7,443.7 647.1,443.5 650.6,443.6 654.0,443.4 657.5,443.4 660.9,443.6 664.4,443.4 667.9,443.4 671.3,443.4 674.8,443.2 678.2,443.4 681.7,443.5 685.1,443.5 688.6,443.3 692.0,443.3 695.5,443.3 698.9,443.5 702.4,443.4 705.8,443.5 709.3,443.5 712.8,443.5 716.2,443.4 719.7,443.5 723.1,443.4 726.6,443.4 730.0,443.4 733.5,443.4 736.9,443.2 740.4,443.4 743.8,443.5 747.3,443.3 750.7,443.4 754.2,443.3 757.6,443.2 761.1,443.5 764.6,443.5 768.0,443.5 771.5,443.5 774.9,443.7 778.4,443.7 781.8,443.6 785.3,443.7 788.7,443.7 792.2,443.7 795.6,443.9 799.1,443.8 802.5,443.7 806.0,443.6 809.5,443.7 812.9,443.8 816.4,443.8 819.8,443.7 823.3,443.6 826.7,443.6 830.2,443.4 833.6,443.5 837.1,443.3 840.5,443.3 844.0,443.4 847.4,443.5 850.9,443.7 854.3,443.8 857.8,443.8 861.3,443.7 864.7,443.6 868.2,443.7 871.6,443.7 875.1,443.6" stroke="#bfbf00" stroke-width="2.1" fill="none"/>
<path d="M598.8,444.8 602.2,444.7 605.7,444.7 609.1,444.8 612.6,444.9 616.0,445.1 619.5,445.2 623.0,445.0 626.4,444.8 629.9,444.8 633.3,444.8 636.8,444.6 640.2,444.8 643.7,444.9 647.1,445.0 650.6,445.3 654.0,445.2 657.5,445.2 660.9,445.2 664.4,445.2 667.9,445.1 671.3,445.1 674.8,445.2 678.2,445.1 681.7,445.2 685.1,445.2 688.6,445.2 692.0,445.2 695.5,445.4 698.9,445.4 702.4,445.4 705.8,445.2 709.3,445.3 712.8,445.4 716.2,445.3 719.7,445.5 723.1,445.4 726.6,445.4 730.0,445.4 733.5,445.4 736.9,445.4 740.4,445.5 743.8,445.4 747.3,445.5 750.7,445.4 754.2,445.4 757.6,445.5 761.1,445.6 764.6,445.5 768.0,445.5 771.5,445.3 774.9,445.2 778.4,445.3 781.8,445.1 785.3,445.4 788.7,445.2 792.2,445.3 795.6,445.5 799.1,445.3 802.5,445.5 806.0,445.6 809.5,445.5 812.9,445.7 816.4,445.7 819.8,445.6 823.3,445.6 826.7,445.4 830.2,445.5 833.6,445.3 837.1,445.3 840.5,445.2 844.0,445.2 847.4,445.4 850.9,445.2 854.3,445.3 857.8,445.3 861.3,445.2 864.7,445.2 868.2,445.1 871.6,445.1 875.1,445.3" stroke="#0000ff" stroke-width="2.1" fill="none"/>
<path d="M598.8,447.0 602.2,447.0 605.7,446.9 609.1,447.2 612.6,447.2 616.0,447.1 619.5,447.2 623.0,447.4 626.4,447.4 629.9,447.2 633.3,447.3 636.8,447.4 640.2,447.5 643.7,447.6 647.1,447.8 650.6,447.4 654.0,447.4 657.5,447.3 660.9,447.1 664.4,447.2 667.9,447.1 671.3,446.9 674.8,446.8 678.2,446.7 681.7,446.8 685.1,446.9 688.6,446.9 692.0,446.7 695.5,446.8 698.9,446.7 702.4,446.6 705.8,446.5 709.3,446.6 712.8,446.7 716.2,446.6 719.7,446.7 723.1,446.6 726.6,446.7 730.0,446.8 733.5,446.9 736.9,447.0 740.4,446.9 743.8,447.1 747.3,447.0 750.7,447.1 754.2,447.0 757.6,447.2 761.1,447.2 764.6,447.2 768.0,447.0 771.5,446.9 774.9,446.9 778.4,446.9 781.8,446.9 785.3,446.8 788.7,446.6 792.2,446.6 795.6,446.5 799.1,446.7 802.5,446.6 806.0,446.4 809.5,446.4 812.9,446.5 816.4,446.3 819.8,446.6 823.3,446.5 826.7,446.6 830.2,446.6 833.6,446.8 837.1,446.6 840.5,446.6 844.0,446.7 847.4,446.7 850.9,446.6 854.3,446.4 857.8,446.4 861.3,446.4 864.7,446.3 868.2,446.3 871.6,446.4 875.1,446.2" stroke="#bfbf00" stroke-width="2.1" fill="none"/>
<path d="M598.8,448.9 602.2,448.8 605.7,448.6 609.1,448.5 612.6,448.5 616.0,448.4 619.5,448.5 623.0,448.5 626.4,448.5 629.9,448.4 633.3,448.3 636.8,448.3 640.2,448.2 643.7,448.1 647.1,448.2 650.6,447.9 654.0,447.9 657.5,448.0 660.9,447.8 664.4,448.1 667.9,448.3 671.3,448.2 674.8,448.3 678.2,448.5 681.7,448.5 685.1,448.3 688.6,448.3 692.0,448.2 695.5,448.1 698.9,448.1 702.4,448.1 705.8,448.2 709.3,448.2 712.8,448.1 716.2,448.2 719.7,448.2 723.1,448.1 726.6,448.1 730.0,448.1 733.5,448.3 736.9,448.3 740.4,448.5 743.8,448.4 747.3,448.4 750.7,448.4 754.2,448.6 757.6,448.5 761.1,448.5 764.6,448.5 768.0,448.8 771.5,448.6 774.9,448.6 778.4,448.7 781.8,448.5 785.3,448.5 788.7,448.7 792.2,448.7 795.6,448.5 799.1,448.6 802.5,448.6 806.0,448.5 809.5,448.4 812.9,448.5 816.4,448.6 819.8,448.7 823.3,448.7 826.7,448.8 830.2,448.9 833.6,448.8 837.1,448.9 840.5,448.8 844.0,448.7 847.4,448.6 850.9,448.5 854.3,448.6 857.8,448.8 861.3,448.6 864.7,448.6 868.2,448.6 871.6,448.4 875.1,448.6" stroke="#404040" stroke-width="2.1" fill="none"/>
<path d="M598.8,449.9 602.2,449.9 605.7,450.0 609.1,450.1 612.6,450.1 616.0,450.0 619.5,449.9 623.0,449.7 626.4,449.6 629.9,449.6 633.3,449.6 636.8,449.6 640.2,449.7 643.7,449.7 647.1,449.6 650.6,449.4 654.0,449.4 657.5,449.7 660.9,449.9 664.4,450.0 667.9,449.7 671.3,449.6 674.8,449.6 678.2,449.6 681.7,449.5 685.1,449.6 688.6,449.6 692.0,449.7 695.5,449.8 698.9,449.8 702.4,449.9 705.8,449.9 709.3,449.9 712.8,450.0 716.2,449.9 719.7,450.0 723.1,450.0 726.6,450.1 730.0,450.0 733.5,450.0 736.9,450.0 740.4,450.0 743.8,450.0 747.3,450.0 750.7,450.2 754.2,450.0 757.6,450.0 761.1,449.9 764.6,449.9 768.0,450.1 771.5,450.2 774.9,450.1 778.4,450.2 781.8,450.2 785.3,450.2 788.7,450.4 792.2,450.1 795.6,450.2 799.1,450.3 802.5,450.4 806.0,450.4 809.5,450.2 812.9,450.1 816.4,450.1 819.8,450.1 823.3,449.9 826.7,449.9 830.2,449.8 833.6,450.0 837.1,449.8 840.5,449.7 844.0,449.8 847.4,449.9 850.9,449.8 854.3,449.9 857.8,449.9 861.3,450.0 864.7,450.1 868.2,450.0 871.6,450.1 875.1,450.3" stroke="#404040" stroke-width="2.1" fill="none"/>
<path d="M598.8,451.4 602.2,451.5 605.7,451.4 609.1,451.4 612.6,451.5 616.0,451.7 619.5,451.7 623.0,451.7 626.4,451.7 629.9,451.8 633.3,451.8 636.8,451.8 640.2,451.8 643.7,451.8 647.1,452.0 650.6,452.1 654.0,452.1 657.5,452.2 660.9,452.3 664.4,452.4 667.9,452.5 671.3,452.7 674.8,452.6 678.2,452.6 681.7,452.4 685.1,452.3 688.6,452.5 692.0,452.4 695.5,452.5 698.9,452.4 702.4,452.3 705.8,452.1 709.3,451.9 712.8,452.0 716.2,452.0 719.7,452.2 723.1,452.1 726.6,452.0 730.0,452.0 733.5,451.9 736.9,451.9 740.4,452.0 743.8,452.1 747.3,452.3 750.7,452.2 754.2,452.2 757.6,452.3 761.1,452.4 764.6,452.5 768.0,452.4 771.5,452.3 774.9,452.3 778.4,452.3 781.8,452.3 785.3,452.4 788.7,452.3 792.2,452.2 795.6,452.4 799.1,452.3 802.5,452.3 806.0,452.3 809.5,452.5 812.9,452.5 816.4,452.5 819.8,452.5 823.3,452.1 826.7,452.1 830.2,452.1 833.6,452.2 837.1,452.1 840.5,452.0 844.0,451.9 847.4,451.9 850.9,451.8 854.3,452.1 857.8,452.1 861.3,452.2 864.7,452.1 868.2,452.2 871.6,452.1 875.1,452.1" stroke="#bfbf00" stroke-width="2.1" fill="none"/>
<path d="M598.8,454.1 602.2,454.3 605.7,454.2 609.1,454.3 612.6,454.1 616.0,454.3 619.5,454.3 623.0,454.4 626.4,454.4 629.9,454.3 633.3,454.4 636.8,454.3 640.2,454.2 643.7,454.3 647.1,454.2 650.6,454.3 654.0,454.2 657.5,454.3 660.9,454.0 664.4,455.0 667.9,456.8 671.3,456.9 674.8,457.0 678.2,457.2 681.7,457.2 685.1,457.3 688.6,457.3 692.0,457.4 695.5,457.5 698.9,457.5 702.4,457.4 705.8,457.3 709.3,456.9 712.8,455.2 716.2,454.5 719.7,454.3 723.1,454.2 726.6,454.1 730.0,454.0 733.5,454.2 736.9,454.1 740.4,454.3 743.8,454.4 747.3,454.5 750.7,454.4 754.2,454.2 757.6,454.3 761.1,454.5 764.6,454.4 768.0,454.4 771.5,454.5 774.9,454.3 778.4,454.2 781.8,454.2 785.3,454.2 788.7,454.2 792.2,454.2 795.6,454.1 799.1,454.0 802.5,454.2 806.0,454.2 809.5,454.1 812.9,454.2 816.4,454.1 819.8,454.2 823.3,454.1 826.7,454.0 830.2,453.9 833.6,453.9 837.1,454.0 840.5,454.1 844.0,454.1 847.4,454.1 850.9,454.2 854.3,454.2 857.8,454.3 861.3,454.1 864.7,454.0 868.2,454.0 871.6,453.9 875.1,454.0" stroke="#ff0000" stroke-width="2.1" fill="none"/>
<path d="M598.8,457.7 602.2,457.7 605.7,457.8 609.1,458.1 612.6,457.8 616.0,458.0 619.5,458.0 623.0,457.9 626.4,457.9 629.9,458.0 633.3,458.0 636.8,458.0 640.2,458.0 643.7,457.9 647.1,458.0 650.6,457.9 654.0,457.9 657.5,457.8 660.9,457.7 664.4,457.6 667.9,457.8 671.3,457.9 674.8,457.9 678.2,458.1 681.7,458.1 685.1,458.3 688.6,458.3 692.0,458.3 695.5,458.1 698.9,458.2 702.4,457.9 705.8,457.9 709.3,458.0 712.8,458.0 716.2,457.8 719.7,457.7 723.1,457.6 726.6,457.6 730.0,457.7 733.5,457.9 736.9,457.9 740.4,457.9 743.8,457.7 747.3,457.8 750.7,457.6 754.2,457.6 757.6,457.7 761.1,457.6 764.6,457.9 768.0,458.1 771.5,457.9 774.9,457.8 778.4,457.8 781.8,457.8 785.3,457.8 788.7,457.8 792.2,457.8 795.6,457.8 799.1,457.8 802.5,457.7 806.0,457.8 809.5,457.9 812.9,457.7 816.4,457.7 819.8,457.7 823.3,457.7 826.7,457.7 830.2,457.5 833.6,457.5 837.1,457.7 840.5,457.6 844.0,457.7 847.4,457.9 850.9,458.0 854.3,457.9 857.8,458.1 861.3,458.0 864.7,458.1 868.2,457.9 871.6,457.8 875.1,457.9" stroke="#bf00bf" stroke-width="2.1" fill="none"/>
<path d="M598.8,459.4 602.2,459.4 605.7,459.6 609.1,459.5 612.6,459.6 616.0,459.4 619.5,459.5 623.0,459.6 626.4,459.5 629.9,459.6 633.3,459.6 636.8,459.6 640.2,459.6 643.7,459.8 647.1,459.7 650.6,459.5 654.0,459.5 657.5,459.6 660.9,459.6 664.4,459.7 667.9,459.9 671.3,459.8 674.8,459.7 678.2,459.7 681.7,459.5 685.1,459.5 688.6,459.5 692.0,459.4 695.5,459.4 698.9,459.4 702.4,459.3 705.8,459.2 709.3,459.2 712.8,459.0 716.2,458.9 719.7,458.9 723.1,458.8 726.6,458.9 730.0,459.0 733.5,459.0 736.9,458.9 740.4,459.1 743.8,459.0 747.3,459.1 750.7,459.2 754.2,459.3 757.6,459.5 761.1,459.3 764.6,459.3 768.0,459.3 771.5,459.3 774.9,459.6 778.4,459.5 781.8,459.3 785.3,459.3 788.7,459.2 792.2,459.1 795.6,459.1 799.1,459.0 802.5,458.9 806.0,458.9 809.5,458.9 812.9,459.0 816.4,459.1 819.8,458.9 823.3,458.8 826.7,458.7 830.2,458.7 833.6,458.8 837.1,458.7 840.5,458.7 844.0,458.9 847.4,458.7 850.9,458.7 854.3,458.7 857.8,458.9 861.3,458.9 864.7,458.9 868.2,458.8 871.6,458.8 875.1,458.7" stroke="#008000" stroke-width="2.1" fill="none"/>
<path d="M598.8,460.2 602.2,460.1 605.7,460.0 609.1,460.1 612.6,460.1 616.0,460.0 619.5,459.9 623.0,459.9 626.4,460.0 629.9,460.0 633.3,460.0 636.8,460.2 640.2,460.5 643.7,460.5 647.1,460.7 650.6,460.8 654.0,460.9 657.5,460.9 660.9,460.9 664.4,460.7 667.9,460.7 671.3,460.7 674.8,460.7 678.2,460.7 681.7,460.8 685.1,460.9 688.6,460.7 692.0,460.8 695.5,460.9 698.9,461.0 702.4,461.0 705.8,461.2 709.3,461.2 712.8,461.4 716.2,461.5 719.7,461.2 723.1,461.2 726.6,461.1 730.0,460.9 733.5,460.8 736.9,460.8 740.4,460.8 743.8,460.7 747.3,460.8 750.7,460.8 754.2,460.8 757.6,460.7 761.1,460.6 764.6,460.6 768.0,460.4 771.5,460.3 774.9,460.2 778.4,460.2 781.8,460.3 785.3,460.3 788.7,460.2 792.2,460.1 795.6,460.0 799.1,459.9 802.5,460.1 806.0,460.2 809.5,460.4 812.9,460.4 816.4,460.5 819.8,460.4 823.3,460.5 826.7,460.4 830.2,460.5 833.6,460.5 837.1,460.4 840.5,460.5 844.0,460.5 847.4,460.5 850.9,460.6 854.3,460.6 857.8,460.7 861.3,460.7 864.7,460.7 868.2,460.6 871.6,460.7 875.1,460.8" stroke="#0000ff" stroke-width="2.1" fill="none"/>
<path d="M598.8,461.4 602.2,461.3 605.7,461.5 609.1,461.7 612.6,462.1 616.0,462.3 619.5,462.9 623.0,463.1 626.4,463.3 629.9,463.3 633.3,463.4 636.8,463.4 640.2,463.4 643.7,463.3 647.1,463.1 650.6,463.1 654.0,463.1 657.5,462.9 660.9,463.0 664.4,462.8 667.9,462.7 671.3,462.5 674.8,462.0 678.2,461.7 681.7,461.6 685.1,461.4 688.6,461.3 692.0,461.4 695.5,461.4 698.9,461.4 702.4,461.4 705.8,461.2 709.3,461.0 712.8,460.9 716.2,460.9 719.7,461.0 723.1,461.1 726.6,461.2 730.0,461.1 733.5,461.1 736.9,461.2 740.4,461.3 743.8,461.4 747.3,461.5 750.7,461.5 754.2,461.5 757.6,461.5 761.1,461.5 764.6,461.5 768.0,461.6 771.5,461.5 774.9,461.6 778.4,461.7 781.8,461.6 785.3,461.6 788.7,461.5 792.2,461.4 795.6,461.5 799.1,461.6 802.5,461.4 806.0,461.5 809.5,461.5 812.9,461.3 816.4,461.3 819.8,461.3 823.3,461.6 826.7,461.6 830.2,461.7 833.6,461.6 837.1,461.9 840.5,461.8 844.0,461.7 847.4,461.6 850.9,461.7 854.3,462.0 857.8,462.0 861.3,462.1 864.7,462.2 868.2,462.3 871.6,462.1 875.1,462.0" stroke="#bf00bf" stroke-width="2.1" fill="none"/>
<path d="M598.8,468.4 602.2,468.5 605.7,468.5 609.1,468.7 612.6,468.6 616.0,468.5 619.5,468.4 623.0,468.4 626.4,468.4 629.9,468.2 633.3,468.2 636.8,468.1 640.2,468.3 643.7,468.4 647.1,468.4 650.6,468.4 654.0,468.2 657.5,468.3 660.9,468.1 664.4,468.2 667.9,468.1 671.3,468.2 674.8,468.2 678.2,468.4 681.7,468.6 685.1,468.8 688.6,468.7 692.0,468.8 695.5,469.0 698.9,468.9 702.4,469.0 705.8,468.7 709.3,467.8 712.8,467.6 716.2,467.6 719.7,467.6 723.1,467.5 726.6,468.1 730.0,468.8 733.5,468.8 736.9,468.9 740.4,469.0 743.8,469.1 747.3,469.2 750.7,469.0 754.2,468.9 757.6,468.7 761.1,468.8 764.6,468.6 768.0,468.8 771.5,468.7 774.9,468.6 778.4,468.5 781.8,468.6 785.3,468.6 788.7,468.6 792.2,468.4 795.6,468.2 799.1,468.3 802.5,468.5 806.0,468.3 809.5,468.4 812.9,468.3 816.4,468.5 819.8,468.6 823.3,468.5 826.7,468.5 830.2,468.3 833.6,468.3 837.1,468.3 840.5,468.3 844.0,468.3 847.4,468.4 850.9,468.4 854.3,468.2 857.8,468.2 861.3,468.1 864.7,468.0 868.2,468.0 871.6,468.1 875.1,468.1" stroke="#008000" stroke-width="2.1" fill="none"/>
<path d="M598.8,450.9 602.2,450.7 605.7,450.7 609.1,450.8 612.6,450.8 616.0,450.8 619.5,451.0 623.0,450.9 626.4,450.6 629.9,450.7 633.3,450.7 636.8,450.6 640.2,450.6 643.7,450.9 647.1,450.8 650.6,450.9 654.0,451.0 657.5,450.9 660.9,450.9 664.4,450.8 667.9,450.7 671.3,450.8 674.8,450.7 678.2,450.7 681.7,450.7 685.1,450.5 688.6,450.6 692.0,450.6 695.5,450.8 698.9,450.6 702.4,450.6 705.8,450.5 709.3,450.6 712.8,450.4 716.2,450.7 719.7,450.6 723.1,450.4 726.6,450.2 730.0,450.2 733.5,450.2 736.9,450.2 740.4,450.3 743.8,450.3 747.3,450.4 750.7,450.4 754.2,450.5 757.6,450.6 761.1,450.5 764.6,450.4 768.0,450.4 771.5,450.4 774.9,450.4 778.4,450.3 781.8,450.4 785.3,450.6 788.7,450.8 792.2,450.9 795.6,450.9 799.1,450.7 802.5,450.7 806.0,450.7 809.5,450.9 812.9,450.9 816.4,451.0 819.8,450.7 823.3,450.5 826.7,450.4 830.2,450.6 833.6,450.6 837.1,450.7 840.5,450.7 844.0,450.9 847.4,450.8 850.9,450.8 854.3,451.1 857.8,451.1 861.3,451.0 864.7,450.9 868.2,450.8 871.6,451.0 875.1,450.9" stroke="#ff0000" stroke-width="2.1" fill="none"/>
<path d="M598.8,446.2 602.2,446.2 605.7,446.4 609.1,446.5 612.6,446.3 616.0,446.2 619.5,446.1 623.0,445.9 626.4,446.0 629.9,446.1 633.3,446.2 636.8,446.1 640.2,446.1 643.7,446.1 647.1,446.1 650.6,446.1 654.0,445.8 657.5,445.9 660.9,446.1 664.4,446.0 667.9,446.1 671.3,445.8 674.8,445.8 678.2,445.7 681.7,446.0 685.1,446.0 688.6,446.1 692.0,446.1 695.5,446.0 698.9,446.0 702.4,446.1 705.8,445.9 709.3,445.8 712.8,445.6 716.2,445.7 719.7,445.8 723.1,446.0 726.6,446.1 730.0,446.2 733.5,446.0 736.9,446.1 740.4,446.3 743.8,446.3 747.3,446.4 750.7,446.3 754.2,446.4 757.6,446.4 761.1,446.4 764.6,446.4 768.0,446.6 771.5,446.5 774.9,446.7 778.4,446.5 781.8,446.6 785.3,446.5 788.7,446.6 792.2,446.5 795.6,446.4 799.1,446.6 802.5,446.4 806.0,446.4 809.5,446.5 812.9,446.5 816.4,446.7 819.8,446.8 823.3,446.7 826.7,446.7 830.2,446.6 833.6,446.5 837.1,446.4 840.5,446.3 844.0,446.2 847.4,446.2 850.9,446.3 854.3,446.2 857.8,446.0 861.3,446.0 864.7,446.0 868.2,446.0 871.6,446.0 875.1,445.8" stroke="#0000ff" stroke-width="2.1" fill="none"/>
<path d="M598.8,447.8 602.2,447.5 605.7,447.6 609.1,447.8 612.6,448.0 616.0,448.0 619.5,447.8 623.0,447.7 626.4,447.8 629.9,447.5 633.3,447.7 636.8,447.7 640.2,447.6 643.7,447.5 647.1,447.5 650.6,447.6 654.0,447.4 657.5,447.4 660.9,447.4 664.4,447.5 667.9,447.7 671.3,447.5 674.8,447.5 678.2,447.5 681.7,447.6 685.1,447.7 688.6,447.6 692.0,447.7 695.5,447.6 698.9,447.6 702.4,447.8 705.8,447.7 709.3,447.7 712.8,447.8 716.2,447.8 719.7,447.8 723.1,447.9 726.6,447.9 730.0,448.0 733.5,447.9 736.9,447.6 740.4,447.6 743.8,447.7 747.3,447.7 750.7,447.7 754.2,447.7 757.6,447.8 761.1,447.8 764.6,447.7 768.0,447.7 771.5,447.7 774.9,447.6 778.4,447.5 781.8,447.4 785.3,447.3 788.7,447.1 792.2,447.2 795.6,447.0 799.1,447.0 802.5,447.1 806.0,447.2 809.5,447.1 812.9,447.5 816.4,447.6 819.8,447.4 823.3,447.4 826.7,447.3 830.2,447.1 833.6,447.3 837.1,447.5 840.5,447.3 844.0,447.5 847.4,447.6 850.9,447.6 854.3,447.7 857.8,447.8 861.3,447.7 864.7,447.6 868.2,447.7 871.6,447.6 875.1,447.5" stroke="#404040" stroke-width="2.1" fill="none"/>
<path d="M604.85 501.65v-3.8M604.85 390.3v3.8M650.65 501.65v-3.8M650.65 390.3v3.8M696.45 501.65v-3.8M696.45 390.3v3.8M742.25 501.65v-3.8M742.25 390.3v3.8M788.05 501.65v-3.8M788.05 390.3v3.8M833.85 501.65v-3.8M833.85 390.3v3.8M879.65 501.65v-3.8M879.65 390.3v3.8M559.05 473.81h3.8M925.45 473.81h-3.8M559.05 445.98h3.8M925.45 445.98h-3.8M559.05 418.14h3.8M925.45 418.14h-3.8" stroke="#111" stroke-width="1.3" fill="none"/>
<rect x="559.05" y="390.3" width="366.4" height="111.35" stroke="#111" stroke-width="1.45" fill="none"/>
<text transform="translate(559.45 524.85) scale(1 1.045)" text-anchor="middle">8</text>
<text transform="translate(553.85 526.15) scale(1 1.045)" text-anchor="end">−</text>
<text transform="translate(605.25 524.85) scale(1 1.045)" text-anchor="middle">4</text>
<text transform="translate(599.65 526.15) scale(1 1.045)" text-anchor="end">−</text>
<text transform="translate(651.05 524.85) scale(1 1.045)" text-anchor="middle">0</text>
<text transform="translate(696.85 524.85) scale(1 1.045)" text-anchor="middle">4</text>
<text transform="translate(742.65 524.85) scale(1 1.045)" text-anchor="middle">8</text>
<text transform="translate(788.45 524.85) scale(1 1.045)" text-anchor="middle">12</text>
<text transform="translate(834.25 524.85) scale(1 1.045)" text-anchor="middle">16</text>
<text transform="translate(880.05 524.85) scale(1 1.045)" text-anchor="middle">20</text>
<text transform="translate(925.85 524.85) scale(1 1.045)" text-anchor="middle">24</text>
<text transform="translate(553.15 508.5) scale(1 1.045)" text-anchor="end">20</text>
<text transform="translate(532.63 509.8) scale(1 1.045)" text-anchor="end">−</text>
<text transform="translate(553.15 480.66) scale(1 1.045)" text-anchor="end">10</text>
<text transform="translate(532.63 481.96) scale(1 1.045)" text-anchor="end">−</text>
<text transform="translate(553.15 452.83) scale(1 1.045)" text-anchor="end">0</text>
<text transform="translate(553.15 424.99) scale(1 1.045)" text-anchor="end">10</text>
<text transform="translate(553.15 397.15) scale(1 1.045)" text-anchor="end">20</text>
<path d="M122.35 681.25V570.1M168.15 681.25V570.1M213.95 681.25V570.1M259.75 681.25V570.1M305.55 681.25V570.1M351.35 681.25V570.1M397.15 681.25V570.1M76.55 644.2H442.95M76.55 607.15H442.95" stroke="#1a1a1a" stroke-width="1.3" stroke-dasharray="1.2 7.35" fill="none"/>
<path d="M109.0,640.5 C109.7,642.0 111.8,646.7 113.3,649.5 C114.8,652.3 116.3,654.8 118.0,657.3 C119.7,659.8 121.5,662.4 123.4,664.4 C125.4,666.4 127.1,667.8 129.7,669.1 C132.3,670.4 135.5,671.4 139.0,672.2 C142.5,673.0 145.6,673.4 150.8,673.8 C156.0,674.1 164.6,674.3 170.3,674.5 C176.0,674.7 182.6,674.9 185.0,675.0" stroke="#ff8c00" stroke-width="2.2" fill="none" stroke-linecap="round" stroke-linejoin="round"/>
<path d="M116.8,649.5 C117.7,650.5 120.2,653.6 121.9,655.8 C123.7,658.0 125.5,660.7 127.3,662.8 C129.1,664.9 130.2,666.5 132.8,668.3 C135.4,670.1 139.3,672.6 143.0,673.8 C146.7,674.9 149.4,674.9 154.7,675.3 C160.0,675.7 169.1,675.9 175.0,676.0 C180.9,676.1 187.5,676.0 190.0,676.0" stroke="#bfff40" stroke-width="2.2" fill="none" stroke-linecap="round" stroke-linejoin="round"/>
<path d="M114.8,655.0 C115.6,656.3 117.8,660.6 119.5,662.8 C121.2,665.0 122.4,666.7 125.0,668.3 C127.6,669.9 130.9,671.4 135.2,672.2 C139.5,673.1 145.8,673.1 150.8,673.4 C155.8,673.7 162.6,673.9 165.0,674.0" stroke="#80ff80" stroke-width="2.2" fill="none" stroke-linecap="round" stroke-linejoin="round"/>
<path d="M113.7,663.2 C114.5,663.4 117.4,663.9 118.8,664.4 C120.1,664.9 121.5,665.7 122.0,666.0" stroke="#a00000" stroke-width="2.2" fill="none" stroke-linecap="round" stroke-linejoin="round"/>
<path d="M116.0,665.0 C117.2,665.8 120.6,668.8 123.4,669.8 C126.2,670.8 129.5,671.0 132.8,671.0 C136.1,671.0 139.6,670.5 143.0,669.8 C146.4,669.1 149.7,667.7 153.1,666.7 C156.5,665.7 161.6,664.5 163.3,664.0" stroke="#ff0000" stroke-width="2.2" fill="none" stroke-linecap="round" stroke-linejoin="round"/>
<path d="M117.6,668.3 C119.2,668.4 124.0,669.4 127.3,669.1 C130.6,668.8 134.2,668.0 137.5,666.7 C140.8,665.4 144.0,663.2 146.9,661.2 C149.8,659.3 153.4,656.0 154.7,655.0" stroke="#0000ff" stroke-width="2.2" fill="none" stroke-linecap="round" stroke-linejoin="round"/>
<path d="M131.2,673.8 C134.4,674.0 142.7,674.6 150.0,675.0 C157.3,675.4 166.7,676.0 175.0,676.1 C183.3,676.2 193.3,675.9 200.0,675.5 C206.7,675.1 212.5,674.2 215.0,674.0" stroke="#ffe600" stroke-width="2.2" fill="none" stroke-linecap="round" stroke-linejoin="round"/>
<path d="M146.9,671.4 C149.1,671.7 155.3,672.5 160.0,673.0 C164.7,673.5 170.3,674.4 175.0,674.5 C179.7,674.6 184.2,674.1 188.4,673.8 C192.6,673.4 196.1,673.0 200.0,672.6 C203.9,672.2 208.6,671.9 211.9,671.4 C215.2,670.9 217.4,670.3 220.0,669.5 C222.6,668.7 226.2,667.2 227.5,666.7" stroke="#00f0ff" stroke-width="2.2" fill="none" stroke-linecap="round" stroke-linejoin="round"/>
<path d="M119.9,660.5 C120.9,659.6 123.5,657.4 125.8,655.0 C128.2,652.6 132.6,647.8 134.0,646.4" stroke="#0000ff" stroke-width="2.2" fill="none" stroke-linecap="round" stroke-linejoin="round"/>
<path d="M120.0,665.5 C120.6,665.0 122.1,663.8 123.4,662.8 C124.8,661.8 126.5,661.3 128.1,659.7 C129.7,658.1 132.3,654.1 133.2,653.0" stroke="#ff0000" stroke-width="2.2" fill="none" stroke-linecap="round" stroke-linejoin="round"/>
<path d="M125.0,651.9 C125.5,652.8 126.7,655.9 128.1,657.3 C129.5,658.7 131.8,659.7 133.6,660.1 C135.4,660.5 137.6,660.0 139.0,659.7 C140.4,659.4 141.7,658.7 142.2,658.5" stroke="#0088ff" stroke-width="2.2" fill="none" stroke-linecap="round" stroke-linejoin="round"/>
<path d="M137.5,651.5 C138.0,652.5 139.4,655.3 140.6,657.3 C141.8,659.3 143.2,661.6 144.5,663.6 C145.8,665.6 146.7,667.5 148.4,669.1 C150.1,670.7 151.7,672.0 154.7,673.0 C157.7,674.0 162.2,675.0 166.4,675.3 C170.6,675.6 177.7,675.0 180.0,675.0" stroke="#0088ff" stroke-width="2.2" fill="none" stroke-linecap="round" stroke-linejoin="round"/>
<path d="M137.5,662.0 C138.1,662.5 139.6,663.9 141.0,665.0 C142.4,666.1 144.2,667.5 146.0,668.5 C147.8,669.5 151.0,670.6 152.0,671.0" stroke="#ff8c00" stroke-width="2.2" fill="none" stroke-linecap="round" stroke-linejoin="round"/>
<path d="M150.0,672.0 C150.8,671.8 152.6,671.6 154.7,670.6 C156.8,669.6 160.0,668.1 162.5,666.0 C165.0,663.9 168.3,659.4 169.5,658.1" stroke="#ff8c00" stroke-width="2.2" fill="none" stroke-linecap="round" stroke-linejoin="round"/>
<path d="M148.4,662.0 C149.4,662.8 152.3,665.3 154.7,666.7 C157.0,668.1 159.5,670.1 162.5,670.2 C165.5,670.3 169.3,668.9 172.8,667.5 C176.3,666.1 181.9,662.9 183.8,662.0" stroke="#80ff80" stroke-width="2.2" fill="none" stroke-linecap="round" stroke-linejoin="round"/>
<path d="M172.4,655.4 C173.1,656.5 175.3,660.1 176.7,662.0 C178.1,663.9 179.2,665.3 180.6,666.7 C182.0,668.1 183.4,669.4 185.3,670.6 C187.2,671.8 189.2,673.0 192.3,673.8 C195.4,674.5 199.7,675.8 204.0,674.9 C208.3,674.0 214.4,670.0 218.2,668.6 C222.0,667.2 224.4,666.9 226.6,666.5 C228.8,666.1 230.7,666.5 231.5,666.5" stroke="#40ffbf" stroke-width="2.2" fill="none" stroke-linecap="round" stroke-linejoin="round"/>
<path d="M175.2,657.3 C176.1,658.2 178.6,661.1 180.6,662.8 C182.6,664.5 185.2,666.4 186.9,667.5 C188.6,668.6 188.6,668.8 190.8,669.5 C193.0,670.2 195.8,670.6 200.0,671.5 C204.2,672.4 211.6,674.1 216.0,674.9 C220.4,675.6 223.3,675.9 226.6,676.0 C229.9,676.1 233.4,676.4 235.7,675.6 C238.0,674.8 239.0,673.4 240.6,671.4 C242.2,669.4 243.9,666.4 245.5,663.7 C247.1,661.0 248.8,658.1 250.4,655.3 C252.0,652.5 253.6,649.8 255.1,646.7 C256.6,643.6 258.4,638.3 259.1,636.6" stroke="#a00000" stroke-width="2.2" fill="none" stroke-linecap="round" stroke-linejoin="round"/>
<path d="M176.7,655.0 C177.5,656.0 179.8,659.3 181.4,661.2 C183.0,663.2 184.7,665.3 186.1,666.7 C187.5,668.1 188.3,668.9 190.0,669.8 C191.7,670.7 193.8,671.7 196.2,672.2 C198.8,672.7 203.5,672.9 205.0,673.0" stroke="#ff4400" stroke-width="2.2" fill="none" stroke-linecap="round" stroke-linejoin="round"/>
<path d="M186.1,653.4 C186.9,654.5 189.1,657.9 190.8,659.7 C192.5,661.5 194.4,662.7 196.2,664.4 C198.1,666.1 199.9,668.5 201.7,669.8 C203.5,671.1 205.0,671.7 207.2,672.2 C209.4,672.7 213.7,672.9 215.0,673.0" stroke="#a00000" stroke-width="2.2" fill="none" stroke-linecap="round" stroke-linejoin="round"/>
<path d="M179.0,666.7 C180.1,666.2 183.3,664.9 185.3,663.6 C187.3,662.3 189.0,660.5 190.8,658.9 C192.6,657.3 195.1,655.0 195.9,654.2" stroke="#bfff40" stroke-width="2.2" fill="none" stroke-linecap="round" stroke-linejoin="round"/>
<path d="M190.0,669.5 C191.4,668.8 196.3,666.8 198.5,665.1 C200.7,663.4 201.9,661.1 203.4,659.5 C204.9,657.9 206.9,656.1 207.6,655.4" stroke="#ff8c00" stroke-width="2.2" fill="none" stroke-linecap="round" stroke-linejoin="round"/>
<path d="M210.7,660.1 C211.3,660.8 212.7,662.9 214.2,664.4 C215.7,665.9 217.7,667.8 219.7,669.1 C221.7,670.4 224.9,671.5 226.0,672.0" stroke="#80ff80" stroke-width="2.2" fill="none" stroke-linecap="round" stroke-linejoin="round"/>
<path d="M214.6,662.3 C215.2,663.0 216.8,665.0 218.2,666.5 C219.6,668.0 221.3,670.1 223.1,671.4 C224.8,672.7 226.8,673.6 228.7,674.2 C230.6,674.8 232.4,675.0 234.3,674.9 C236.2,674.8 238.0,675.2 240.0,673.5 C242.0,671.8 244.7,666.6 246.2,664.5 C247.7,662.4 248.5,661.6 249.0,661.0" stroke="#ff0000" stroke-width="2.2" fill="none" stroke-linecap="round" stroke-linejoin="round"/>
<path d="M165.0,674.5 C167.6,674.1 175.4,673.0 180.6,672.2 C185.8,671.4 190.5,670.5 196.2,669.8 C202.0,669.1 209.4,668.6 215.0,668.0 C220.6,667.4 227.5,666.3 230.0,666.0" stroke="#0088ff" stroke-width="2.2" fill="none" stroke-linecap="round" stroke-linejoin="round"/>
<path d="M215.0,668.0 C217.2,667.6 224.3,665.8 228.0,665.8 C231.7,665.8 234.4,667.7 237.1,667.9 C239.8,668.1 241.1,667.6 244.1,667.2 C247.1,666.8 251.9,666.1 255.0,665.4 C258.1,664.7 259.5,664.1 262.4,662.9 C265.2,661.7 269.1,660.5 272.1,658.1 C275.1,655.7 277.8,651.9 280.2,648.3 C282.6,644.6 285.1,639.3 286.7,636.2 C288.3,633.1 288.7,632.4 290.0,629.7 C291.3,627.0 293.2,623.6 294.7,620.0 C296.1,616.4 298.0,609.8 298.7,607.8" stroke="#0000ff" stroke-width="2.2" fill="none" stroke-linecap="round" stroke-linejoin="round"/>
<path d="M209.7,666.8 L216.0,668.6" stroke="#ff8c00" stroke-width="2.2" fill="none" stroke-linecap="round" stroke-linejoin="round"/>
<path d="M218.2,672.1 L227.3,668.6" stroke="#a00000" stroke-width="2.2" fill="none" stroke-linecap="round" stroke-linejoin="round"/>
<path d="M237.1,673.5 C239.4,672.8 246.4,670.9 251.1,669.3 C255.8,667.7 262.7,664.9 265.0,664.0" stroke="#80ff80" stroke-width="2.2" fill="none" stroke-linecap="round" stroke-linejoin="round"/>
<path d="M240.0,669.0 C241.4,668.1 246.2,665.9 248.6,663.7 C251.0,661.5 252.7,658.4 254.3,655.6 C255.9,652.8 257.1,649.9 258.3,646.7 C259.5,643.5 260.6,640.2 261.6,636.2 C262.6,632.2 263.9,624.7 264.4,622.4" stroke="#ff8c00" stroke-width="2.2" fill="none" stroke-linecap="round" stroke-linejoin="round"/>
<path d="M258.3,645.1 C259.2,644.7 262.2,643.8 264.0,642.7 C265.8,641.6 268.4,639.3 269.3,638.6" stroke="#ff8c00" stroke-width="2.2" fill="none" stroke-linecap="round" stroke-linejoin="round"/>
<path d="M245.0,664.0 C246.3,663.1 250.5,660.6 252.7,658.9 C254.9,657.2 256.4,656.0 258.3,654.0 C260.2,652.0 262.4,649.9 264.0,646.7 C265.6,643.5 267.0,639.1 268.1,634.6 C269.2,630.1 270.1,622.4 270.5,620.0" stroke="#40ffbf" stroke-width="2.2" fill="none" stroke-linecap="round" stroke-linejoin="round"/>
<path d="M267.2,623.2 C268.0,624.3 270.8,627.1 272.1,629.7 C273.5,632.3 274.2,635.9 275.3,638.6 C276.4,641.3 277.4,643.9 278.6,645.9 C279.8,647.9 280.7,649.8 282.6,650.8 C284.5,651.8 286.9,652.1 290.0,652.0 C293.1,651.9 297.6,651.4 301.2,650.0 C304.8,648.6 308.6,646.3 311.7,643.5 C314.8,640.7 317.5,636.1 319.8,633.0 C322.1,629.9 323.8,627.9 325.5,624.9 C327.2,621.9 328.6,617.3 329.9,614.8 C331.2,612.3 332.6,610.8 333.1,610.0" stroke="#00f0ff" stroke-width="2.2" fill="none" stroke-linecap="round" stroke-linejoin="round"/>
<path d="M269.7,632.1 C270.6,632.9 273.1,635.4 275.3,637.0 C277.5,638.6 280.2,640.5 282.6,641.9 C285.1,643.2 287.6,644.0 290.0,645.1 C292.4,646.2 294.5,647.4 297.0,648.5 C299.5,649.6 302.5,651.1 305.2,651.6 C307.9,652.1 310.6,652.0 313.3,651.2 C316.0,650.4 319.0,648.7 321.4,646.7 C323.8,644.7 326.0,642.2 327.9,639.4 C329.8,636.6 331.4,633.5 332.8,629.7 C334.2,625.9 335.3,620.4 336.3,616.4 C337.3,612.4 337.9,609.8 338.8,605.9 C339.7,602.0 341.1,595.1 341.6,593.0" stroke="#ff0000" stroke-width="2.2" fill="none" stroke-linecap="round" stroke-linejoin="round"/>
<path d="M276.9,608.6 C277.2,610.0 278.2,613.5 278.9,617.1 C279.6,620.7 280.3,626.5 281.3,630.1 C282.3,633.7 283.6,636.2 285.0,638.6 C286.4,641.0 287.9,642.7 289.9,644.3 C291.9,645.9 294.6,647.3 297.1,648.3 C299.7,649.3 302.5,650.4 305.2,650.4 C307.9,650.4 310.6,649.8 313.3,648.3 C316.0,646.8 319.0,643.6 321.4,641.1 C323.8,638.6 325.6,636.0 327.4,633.4 C329.2,630.8 330.7,627.9 332.3,625.3 C333.9,622.7 335.6,620.2 337.1,618.0 C338.7,615.8 340.9,613.0 341.6,612.0" stroke="#0000ff" stroke-width="2.2" fill="none" stroke-linecap="round" stroke-linejoin="round"/>
<path d="M240.6,663.7 C241.4,663.1 243.9,661.1 245.5,660.2 C247.1,659.3 248.8,659.0 250.4,658.1 C252.0,657.2 254.2,655.5 255.0,655.0" stroke="#0088ff" stroke-width="2.2" fill="none" stroke-linecap="round" stroke-linejoin="round"/>
<path d="M255.9,647.5 C257.6,647.9 263.3,649.3 266.4,650.0 C269.5,650.7 271.4,651.2 274.5,651.6 C277.6,652.0 281.6,652.4 285.0,652.5 C288.4,652.6 293.3,652.1 295.0,652.0" stroke="#0088ff" stroke-width="2.2" fill="none" stroke-linecap="round" stroke-linejoin="round"/>
<path d="M243.0,653.2 C244.0,653.6 247.1,654.7 249.0,655.5 C250.9,656.3 252.1,657.2 254.3,658.1 C256.5,659.0 261.0,660.5 262.4,661.0" stroke="#ffe600" stroke-width="2.2" fill="none" stroke-linecap="round" stroke-linejoin="round"/>
<path d="M255.0,664.0 C256.3,663.9 260.4,663.8 263.0,663.5 C265.6,663.2 267.6,663.4 270.5,662.1 C273.4,660.8 276.9,657.9 280.2,655.6 C283.4,653.3 287.4,650.7 290.0,648.3 C292.6,645.9 294.1,643.4 296.0,641.0 C297.9,638.6 299.2,637.3 301.2,633.8 C303.1,630.3 306.0,624.6 307.7,620.0 C309.4,615.4 310.4,609.5 311.5,606.2 C312.6,603.0 313.8,601.5 314.3,600.5" stroke="#ffe600" stroke-width="2.2" fill="none" stroke-linecap="round" stroke-linejoin="round"/>
<path d="M230.0,675.0 C232.5,674.1 240.6,671.2 245.0,669.5 C249.4,667.8 253.1,666.4 256.7,664.5 C260.3,662.6 263.3,660.8 266.4,658.1 C269.5,655.4 272.6,651.9 275.3,648.3 C278.0,644.6 280.4,640.2 282.6,636.2 C284.8,632.2 286.7,628.1 288.3,624.0 C289.9,619.9 291.6,613.8 292.3,611.8" stroke="#bfff40" stroke-width="2.2" fill="none" stroke-linecap="round" stroke-linejoin="round"/>
<path d="M230.0,668.6 C234.2,667.8 247.7,665.5 255.0,664.0 C262.3,662.5 269.0,662.2 273.7,659.7 C278.4,657.2 280.4,654.4 283.4,649.1 C286.4,643.8 289.6,633.0 291.5,628.1 C293.4,623.2 293.9,622.4 294.7,620.0 C295.5,617.6 296.2,615.0 296.5,614.0" stroke="#0000ff" stroke-width="2.2" fill="none" stroke-linecap="round" stroke-linejoin="round"/>
<path d="M270.0,657.0 C272.5,655.5 281.1,651.1 285.0,648.3 C288.9,645.5 290.7,643.6 293.1,640.2 C295.5,636.8 298.0,632.3 299.6,628.1 C301.2,623.9 301.9,619.8 302.5,615.0 C303.1,610.2 303.1,601.9 303.2,599.3" stroke="#0088ff" stroke-width="2.2" fill="none" stroke-linecap="round" stroke-linejoin="round"/>
<path d="M275.0,652.0 C276.3,650.8 280.5,647.6 283.0,645.0 C285.5,642.4 287.5,640.4 289.9,636.2 C292.2,632.0 294.6,625.0 297.1,620.0 C299.6,615.0 302.6,609.6 305.0,606.0 C307.4,602.4 310.2,599.8 311.3,598.5" stroke="#0088ff" stroke-width="2.2" fill="none" stroke-linecap="round" stroke-linejoin="round"/>
<path d="M285.0,616.3 C285.9,617.5 288.2,620.8 290.2,623.6 C292.1,626.4 294.2,630.4 296.7,633.3 C299.2,636.2 302.4,638.9 305.2,641.1 C308.0,643.3 310.6,645.2 313.3,646.7 C316.0,648.2 318.0,649.3 321.4,650.0 C324.8,650.7 330.5,650.8 333.6,650.8 C336.7,650.8 337.5,650.9 340.0,650.0 C342.5,649.1 345.9,647.7 348.8,645.7 C351.7,643.7 355.2,640.4 357.5,637.8 C359.8,635.2 361.0,632.8 362.8,629.9 C364.6,627.0 367.2,622.2 368.1,620.7" stroke="#bfff40" stroke-width="2.2" fill="none" stroke-linecap="round" stroke-linejoin="round"/>
<path d="M308.5,600.9 C309.1,602.6 311.0,608.2 312.1,611.4 C313.2,614.6 314.2,617.5 315.3,620.3 C316.4,623.1 317.4,626.1 319.0,628.1 C320.6,630.1 322.8,631.8 324.7,632.1 C326.6,632.4 328.5,631.2 330.3,629.7 C332.1,628.2 333.5,625.5 335.5,622.9 C337.5,620.3 341.2,615.5 342.4,614.0" stroke="#a00000" stroke-width="2.2" fill="none" stroke-linecap="round" stroke-linejoin="round"/>
<path d="M307.7,599.3 C308.2,601.1 309.6,606.2 310.5,610.0 C311.4,613.8 312.2,618.8 313.3,622.0 C314.4,625.2 315.7,626.8 317.0,629.0 C318.3,631.2 319.4,633.1 321.0,635.0 C322.6,636.9 324.2,639.4 326.3,640.2 C328.4,641.0 331.3,640.7 333.6,640.0 C335.9,639.3 338.1,637.9 340.0,636.2 C341.9,634.5 343.6,632.1 345.3,629.9 C347.1,627.7 348.9,624.9 350.5,622.9 C352.1,620.9 353.9,618.8 354.6,618.0" stroke="#ffe600" stroke-width="2.2" fill="none" stroke-linecap="round" stroke-linejoin="round"/>
<path d="M330.3,592.6 C330.6,594.5 331.6,600.3 332.3,604.3 C333.0,608.3 333.8,612.3 334.7,616.4 C335.6,620.5 336.8,624.7 338.0,628.6 C339.2,632.5 340.8,637.5 342.0,640.0 C343.2,642.5 343.9,641.8 345.0,643.5 C346.1,645.2 346.7,648.1 348.8,650.1 C350.9,652.1 354.6,654.1 357.5,655.4 C360.4,656.7 363.4,657.7 366.3,658.0 C369.2,658.3 372.2,657.5 375.1,657.1 C378.0,656.7 381.0,656.1 383.9,655.4 C386.8,654.7 389.8,653.7 392.6,652.7 C395.4,651.7 399.2,650.1 400.5,649.6" stroke="#00f0ff" stroke-width="2.2" fill="none" stroke-linecap="round" stroke-linejoin="round"/>
<path d="M327.8,610.4 C328.1,611.4 329.0,613.9 329.9,616.4 C330.8,618.9 331.9,622.5 333.1,625.3 C334.3,628.1 335.8,630.9 337.1,633.4 C338.5,635.9 339.9,637.6 341.2,640.0 C342.5,642.4 343.5,646.0 345.0,648.0 C346.5,650.0 347.9,651.0 350.0,652.0 C352.1,653.0 354.8,653.9 357.5,654.0 C360.2,654.1 363.4,653.5 366.3,652.7 C369.2,651.9 372.2,650.7 375.1,649.2 C378.0,647.7 381.1,645.5 383.9,643.9 C386.7,642.3 390.5,640.3 391.8,639.6" stroke="#0000ff" stroke-width="2.2" fill="none" stroke-linecap="round" stroke-linejoin="round"/>
<path d="M342.4,614.0 C342.7,614.5 343.3,615.2 344.4,616.8 C345.5,618.4 347.3,621.5 348.8,623.8 C350.3,626.1 351.8,628.9 353.2,630.8 C354.6,632.7 356.5,634.0 357.5,635.2 C358.5,636.4 359.0,637.4 359.3,637.8" stroke="#ff4400" stroke-width="2.2" fill="none" stroke-linecap="round" stroke-linejoin="round"/>
<path d="M346.9,601.5 C347.3,602.8 348.5,606.4 349.3,609.1 C350.1,611.9 350.9,615.3 351.7,618.0 C352.5,620.7 353.1,621.7 354.1,625.3 C355.1,628.9 356.2,635.5 357.5,639.6 C358.8,643.7 360.4,647.3 361.9,650.1 C363.4,652.9 364.1,654.3 366.3,656.2 C368.5,658.1 372.2,659.9 375.1,661.5 C378.0,663.1 380.8,664.7 383.9,665.9 C387.0,667.1 391.9,668.1 393.5,668.5" stroke="#0000ff" stroke-width="2.2" fill="none" stroke-linecap="round" stroke-linejoin="round"/>
<path d="M348.9,606.7 C349.4,608.2 350.7,612.8 351.7,615.6 C352.7,618.4 353.7,621.3 355.0,623.7 C356.3,626.1 357.7,628.6 359.3,629.9 C360.9,631.1 362.6,631.4 364.6,631.2 C366.7,631.0 370.4,629.0 371.6,628.6" stroke="#ff8c00" stroke-width="2.2" fill="none" stroke-linecap="round" stroke-linejoin="round"/>
<path d="M353.3,605.9 C353.7,607.6 355.0,613.1 355.8,616.4 C356.6,619.7 357.4,622.2 358.4,625.5 C359.4,628.8 360.6,633.6 361.9,636.1 C363.2,638.6 364.1,639.4 366.3,640.4 C368.5,641.4 372.3,641.9 375.1,642.2 C377.9,642.5 381.1,641.2 383.0,642.2 C384.9,643.2 385.3,645.8 386.5,648.3 C387.7,650.8 389.4,655.6 390.0,657.1" stroke="#40ffbf" stroke-width="2.2" fill="none" stroke-linecap="round" stroke-linejoin="round"/>
<path d="M359.8,624.9 C360.4,626.5 362.3,631.3 363.7,634.3 C365.1,637.3 366.5,640.5 368.1,643.1 C369.7,645.7 371.6,647.9 373.3,650.1 C375.1,652.3 376.6,653.9 378.6,656.2 C380.7,658.5 383.3,662.2 385.6,664.1 C387.9,666.0 391.4,667.0 392.6,667.6" stroke="#a00000" stroke-width="2.2" fill="none" stroke-linecap="round" stroke-linejoin="round"/>
<path d="M373.6,633.4 C374.1,634.7 375.7,638.5 376.8,641.3 C377.9,644.1 378.9,647.5 380.4,650.1 C381.9,652.7 383.6,654.3 385.6,657.1 C387.6,659.9 391.4,665.2 392.6,666.8" stroke="#ff0000" stroke-width="2.2" fill="none" stroke-linecap="round" stroke-linejoin="round"/>
<path d="M345.0,654.0 C347.1,654.4 353.9,655.2 357.5,656.2 C361.1,657.2 363.4,658.6 366.3,659.7 C369.2,660.8 372.2,662.1 375.1,662.8 C378.0,663.5 381.6,664.2 383.9,664.1 C386.2,664.0 387.2,663.2 389.1,662.4 C391.0,661.6 394.3,659.8 395.3,659.3" stroke="#0000ff" stroke-width="2.2" fill="none" stroke-linecap="round" stroke-linejoin="round"/>
<path d="M400.5,649.6 C399.9,650.0 398.0,651.6 397.0,652.0 C396.0,652.4 394.2,651.5 394.4,651.8 C394.5,652.1 396.9,652.4 397.9,653.6 C398.9,654.8 400.1,658.0 400.5,658.9" stroke="#0088ff" stroke-width="2.2" fill="none" stroke-linecap="round" stroke-linejoin="round"/>
<path d="M315.3,617.1 C315.9,617.4 317.5,619.1 318.6,618.7 C319.7,618.3 321.3,615.4 321.8,614.7" stroke="#0088ff" stroke-width="2.2" fill="none" stroke-linecap="round" stroke-linejoin="round"/>
<path d="M122.35 681.25v-3.8M122.35 570.1v3.8M168.15 681.25v-3.8M168.15 570.1v3.8M213.95 681.25v-3.8M213.95 570.1v3.8M259.75 681.25v-3.8M259.75 570.1v3.8M305.55 681.25v-3.8M305.55 570.1v3.8M351.35 681.25v-3.8M351.35 570.1v3.8M397.15 681.25v-3.8M397.15 570.1v3.8M76.55 644.2h3.8M442.95 644.2h-3.8M76.55 607.15h3.8M442.95 607.15h-3.8" stroke="#111" stroke-width="1.3" fill="none"/>
<rect x="76.55" y="570.1" width="366.4" height="111.15" stroke="#111" stroke-width="1.45" fill="none"/>
<text transform="translate(76.95 704.45) scale(1 1.045)" text-anchor="middle">8</text>
<text transform="translate(71.35 705.75) scale(1 1.045)" text-anchor="end">−</text>
<text transform="translate(122.75 704.45) scale(1 1.045)" text-anchor="middle">4</text>
<text transform="translate(117.15 705.75) scale(1 1.045)" text-anchor="end">−</text>
<text transform="translate(168.55 704.45) scale(1 1.045)" text-anchor="middle">0</text>
<text transform="translate(214.35 704.45) scale(1 1.045)" text-anchor="middle">4</text>
<text transform="translate(260.15 704.45) scale(1 1.045)" text-anchor="middle">8</text>
<text transform="translate(305.95 704.45) scale(1 1.045)" text-anchor="middle">12</text>
<text transform="translate(351.75 704.45) scale(1 1.045)" text-anchor="middle">16</text>
<text transform="translate(397.55 704.45) scale(1 1.045)" text-anchor="middle">20</text>
<text transform="translate(443.35 704.45) scale(1 1.045)" text-anchor="middle">24</text>
<text transform="translate(70.65 688.1) scale(1 1.045)" text-anchor="end">0</text>
<text transform="translate(70.65 651.05) scale(1 1.045)" text-anchor="end">40</text>
<text transform="translate(70.65 614) scale(1 1.045)" text-anchor="end">80</text>
<text transform="translate(70.65 576.95) scale(1 1.045)" text-anchor="end">120</text>
<text class="L" transform="translate(25.5 625.67) rotate(-90)" text-anchor="middle">sTEC (TECU)</text>
<text class="L" transform="translate(261.65 727.2)" text-anchor="middle">Local time (hours)</text>
<path d="M604.85 681.25V570.1M650.65 681.25V570.1M696.45 681.25V570.1M742.25 681.25V570.1M788.05 681.25V570.1M833.85 681.25V570.1M879.65 681.25V570.1M559.05 644.2H925.45M559.05 607.15H925.45" stroke="#1a1a1a" stroke-width="1.3" stroke-dasharray="1.2 7.35" fill="none"/>
<path d="M591.5,640.5 C592.2,642.0 594.3,646.7 595.8,649.5 C597.3,652.3 598.8,654.8 600.5,657.3 C602.2,659.8 603.9,662.4 605.9,664.4 C607.9,666.4 609.6,667.8 612.2,669.1 C614.8,670.4 618.0,671.4 621.5,672.2 C625.0,673.0 628.1,673.4 633.3,673.8 C638.5,674.1 647.1,674.3 652.8,674.5 C658.5,674.7 665.0,674.9 667.5,675.0" stroke="#ff8c00" stroke-width="2.2" fill="none" stroke-linecap="round" stroke-linejoin="round"/>
<path d="M599.3,649.5 C600.1,650.5 602.6,653.6 604.4,655.8 C606.1,658.0 608.0,660.7 609.8,662.8 C611.6,664.9 612.7,666.5 615.3,668.3 C617.9,670.1 621.9,672.6 625.5,673.8 C629.1,674.9 631.9,674.9 637.2,675.3 C642.5,675.7 651.6,675.9 657.5,676.0 C663.4,676.1 670.0,676.0 672.5,676.0" stroke="#bfff40" stroke-width="2.2" fill="none" stroke-linecap="round" stroke-linejoin="round"/>
<path d="M597.3,655.0 C598.1,656.3 600.3,660.6 602.0,662.8 C603.7,665.0 604.9,666.7 607.5,668.3 C610.1,669.9 613.4,671.4 617.7,672.2 C622.0,673.1 628.3,673.1 633.3,673.4 C638.3,673.7 645.1,673.9 647.5,674.0" stroke="#80ff80" stroke-width="2.2" fill="none" stroke-linecap="round" stroke-linejoin="round"/>
<path d="M596.2,663.2 C597.0,663.4 599.9,663.9 601.2,664.4 C602.6,664.9 604.0,665.7 604.5,666.0" stroke="#a00000" stroke-width="2.2" fill="none" stroke-linecap="round" stroke-linejoin="round"/>
<path d="M598.5,665.0 C599.7,665.8 603.1,668.8 605.9,669.8 C608.7,670.8 612.0,671.0 615.3,671.0 C618.6,671.0 622.1,670.5 625.5,669.8 C628.9,669.1 632.2,667.7 635.6,666.7 C639.0,665.7 644.1,664.5 645.8,664.0" stroke="#ff0000" stroke-width="2.2" fill="none" stroke-linecap="round" stroke-linejoin="round"/>
<path d="M600.1,668.3 C601.7,668.4 606.5,669.4 609.8,669.1 C613.1,668.8 616.7,668.0 620.0,666.7 C623.3,665.4 626.5,663.2 629.4,661.2 C632.3,659.3 635.9,656.0 637.2,655.0" stroke="#0000ff" stroke-width="2.2" fill="none" stroke-linecap="round" stroke-linejoin="round"/>
<path d="M613.8,673.8 C616.9,674.0 625.2,674.6 632.5,675.0 C639.8,675.4 649.2,676.0 657.5,676.1 C665.8,676.2 675.8,675.9 682.5,675.5 C689.2,675.1 695.0,674.2 697.5,674.0" stroke="#ffe600" stroke-width="2.2" fill="none" stroke-linecap="round" stroke-linejoin="round"/>
<path d="M629.4,671.4 C631.6,671.7 637.8,672.5 642.5,673.0 C647.2,673.5 652.8,674.4 657.5,674.5 C662.2,674.6 666.7,674.1 670.9,673.8 C675.1,673.4 678.6,673.0 682.5,672.6 C686.4,672.2 691.1,671.9 694.4,671.4 C697.7,670.9 699.9,670.3 702.5,669.5 C705.1,668.7 708.8,667.2 710.0,666.7" stroke="#00f0ff" stroke-width="2.2" fill="none" stroke-linecap="round" stroke-linejoin="round"/>
<path d="M602.4,660.5 C603.4,659.6 605.9,657.4 608.3,655.0 C610.6,652.6 615.1,647.8 616.5,646.4" stroke="#0000ff" stroke-width="2.2" fill="none" stroke-linecap="round" stroke-linejoin="round"/>
<path d="M602.5,665.5 C603.1,665.0 604.5,663.8 605.9,662.8 C607.2,661.8 609.0,661.3 610.6,659.7 C612.2,658.1 614.9,654.1 615.7,653.0" stroke="#ff0000" stroke-width="2.2" fill="none" stroke-linecap="round" stroke-linejoin="round"/>
<path d="M607.5,651.9 C608.0,652.8 609.2,655.9 610.6,657.3 C612.0,658.7 614.3,659.7 616.1,660.1 C617.9,660.5 620.1,660.0 621.5,659.7 C622.9,659.4 624.2,658.7 624.7,658.5" stroke="#0088ff" stroke-width="2.2" fill="none" stroke-linecap="round" stroke-linejoin="round"/>
<path d="M620.0,651.5 C620.5,652.5 621.9,655.3 623.1,657.3 C624.3,659.3 625.7,661.6 627.0,663.6 C628.3,665.6 629.2,667.5 630.9,669.1 C632.6,670.7 634.2,672.0 637.2,673.0 C640.2,674.0 644.7,675.0 648.9,675.3 C653.1,675.6 660.2,675.0 662.5,675.0" stroke="#0088ff" stroke-width="2.2" fill="none" stroke-linecap="round" stroke-linejoin="round"/>
<path d="M620.0,662.0 C620.6,662.5 622.1,663.9 623.5,665.0 C624.9,666.1 626.7,667.5 628.5,668.5 C630.3,669.5 633.5,670.6 634.5,671.0" stroke="#ff8c00" stroke-width="2.2" fill="none" stroke-linecap="round" stroke-linejoin="round"/>
<path d="M632.5,672.0 C633.3,671.8 635.1,671.6 637.2,670.6 C639.3,669.6 642.5,668.1 645.0,666.0 C647.5,663.9 650.8,659.4 652.0,658.1" stroke="#ff8c00" stroke-width="2.2" fill="none" stroke-linecap="round" stroke-linejoin="round"/>
<path d="M630.9,662.0 C632.0,662.8 634.9,665.3 637.2,666.7 C639.6,668.1 642.0,670.1 645.0,670.2 C648.0,670.3 651.8,668.9 655.3,667.5 C658.8,666.1 664.4,662.9 666.2,662.0" stroke="#80ff80" stroke-width="2.2" fill="none" stroke-linecap="round" stroke-linejoin="round"/>
<path d="M654.9,655.4 C655.6,656.5 657.8,660.1 659.2,662.0 C660.6,663.9 661.7,665.3 663.1,666.7 C664.5,668.1 665.8,669.4 667.8,670.6 C669.8,671.8 671.7,673.0 674.8,673.8 C677.9,674.5 682.2,675.8 686.5,674.9 C690.8,674.0 696.9,670.0 700.7,668.6 C704.5,667.2 706.9,666.9 709.1,666.5 C711.3,666.1 713.2,666.5 714.0,666.5" stroke="#40ffbf" stroke-width="2.2" fill="none" stroke-linecap="round" stroke-linejoin="round"/>
<path d="M657.7,657.3 C658.6,658.2 661.2,661.1 663.1,662.8 C665.0,664.5 667.7,666.4 669.4,667.5 C671.1,668.6 671.1,668.8 673.3,669.5 C675.5,670.2 678.3,670.6 682.5,671.5 C686.7,672.4 694.1,674.1 698.5,674.9 C702.9,675.6 705.8,675.9 709.1,676.0 C712.4,676.1 715.9,676.4 718.2,675.6 C720.5,674.8 721.5,673.4 723.1,671.4 C724.7,669.4 726.4,666.4 728.0,663.7 C729.6,661.0 731.3,658.1 732.9,655.3 C734.5,652.5 736.1,649.8 737.6,646.7 C739.1,643.6 740.9,638.3 741.6,636.6" stroke="#a00000" stroke-width="2.2" fill="none" stroke-linecap="round" stroke-linejoin="round"/>
<path d="M659.2,655.0 C660.0,656.0 662.3,659.3 663.9,661.2 C665.5,663.2 667.2,665.3 668.6,666.7 C670.0,668.1 670.8,668.9 672.5,669.8 C674.2,670.7 676.2,671.7 678.8,672.2 C681.2,672.7 686.0,672.9 687.5,673.0" stroke="#ff4400" stroke-width="2.2" fill="none" stroke-linecap="round" stroke-linejoin="round"/>
<path d="M668.6,653.4 C669.4,654.5 671.6,657.9 673.3,659.7 C675.0,661.5 676.9,662.7 678.8,664.4 C680.6,666.1 682.4,668.5 684.2,669.8 C686.0,671.1 687.5,671.7 689.7,672.2 C691.9,672.7 696.2,672.9 697.5,673.0" stroke="#a00000" stroke-width="2.2" fill="none" stroke-linecap="round" stroke-linejoin="round"/>
<path d="M661.5,666.7 C662.5,666.2 665.8,664.9 667.8,663.6 C669.8,662.3 671.5,660.5 673.3,658.9 C675.1,657.3 677.5,655.0 678.4,654.2" stroke="#bfff40" stroke-width="2.2" fill="none" stroke-linecap="round" stroke-linejoin="round"/>
<path d="M672.5,669.5 C673.9,668.8 678.8,666.8 681.0,665.1 C683.2,663.4 684.4,661.1 685.9,659.5 C687.4,657.9 689.4,656.1 690.1,655.4" stroke="#ff8c00" stroke-width="2.2" fill="none" stroke-linecap="round" stroke-linejoin="round"/>
<path d="M693.2,660.1 C693.8,660.8 695.2,662.9 696.7,664.4 C698.2,665.9 700.2,667.8 702.2,669.1 C704.2,670.4 707.5,671.5 708.5,672.0" stroke="#80ff80" stroke-width="2.2" fill="none" stroke-linecap="round" stroke-linejoin="round"/>
<path d="M697.1,662.3 C697.7,663.0 699.3,665.0 700.7,666.5 C702.1,668.0 703.9,670.1 705.6,671.4 C707.4,672.7 709.3,673.6 711.2,674.2 C713.1,674.8 714.9,675.0 716.8,674.9 C718.7,674.8 720.5,675.2 722.5,673.5 C724.5,671.8 727.2,666.6 728.7,664.5 C730.2,662.4 731.0,661.6 731.5,661.0" stroke="#ff0000" stroke-width="2.2" fill="none" stroke-linecap="round" stroke-linejoin="round"/>
<path d="M647.5,674.5 C650.1,674.1 657.9,673.0 663.1,672.2 C668.3,671.4 673.0,670.5 678.8,669.8 C684.5,669.1 691.9,668.6 697.5,668.0 C703.1,667.4 710.0,666.3 712.5,666.0" stroke="#0088ff" stroke-width="2.2" fill="none" stroke-linecap="round" stroke-linejoin="round"/>
<path d="M697.5,668.0 C699.7,667.6 706.8,665.8 710.5,665.8 C714.2,665.8 716.9,667.7 719.6,667.9 C722.3,668.1 723.6,667.6 726.6,667.2 C729.6,666.8 734.5,666.1 737.5,665.4 C740.5,664.7 742.0,664.1 744.9,662.9 C747.8,661.7 751.6,660.5 754.6,658.1 C757.6,655.7 760.3,651.9 762.7,648.3 C765.1,644.6 767.6,639.3 769.2,636.2 C770.8,633.1 771.2,632.4 772.5,629.7 C773.8,627.0 775.8,623.6 777.2,620.0 C778.7,616.4 780.5,609.8 781.2,607.8" stroke="#0000ff" stroke-width="2.2" fill="none" stroke-linecap="round" stroke-linejoin="round"/>
<path d="M692.2,666.8 L698.5,668.6" stroke="#ff8c00" stroke-width="2.2" fill="none" stroke-linecap="round" stroke-linejoin="round"/>
<path d="M700.7,672.1 L709.8,668.6" stroke="#a00000" stroke-width="2.2" fill="none" stroke-linecap="round" stroke-linejoin="round"/>
<path d="M719.6,673.5 C721.9,672.8 729.0,670.9 733.6,669.3 C738.2,667.7 745.2,664.9 747.5,664.0" stroke="#80ff80" stroke-width="2.2" fill="none" stroke-linecap="round" stroke-linejoin="round"/>
<path d="M722.5,669.0 C723.9,668.1 728.7,665.9 731.1,663.7 C733.5,661.5 735.2,658.4 736.8,655.6 C738.4,652.8 739.6,649.9 740.8,646.7 C742.0,643.5 743.1,640.2 744.1,636.2 C745.1,632.2 746.4,624.7 746.9,622.4" stroke="#ff8c00" stroke-width="2.2" fill="none" stroke-linecap="round" stroke-linejoin="round"/>
<path d="M740.8,645.1 C741.8,644.7 744.7,643.8 746.5,642.7 C748.3,641.6 750.9,639.3 751.8,638.6" stroke="#ff8c00" stroke-width="2.2" fill="none" stroke-linecap="round" stroke-linejoin="round"/>
<path d="M727.5,664.0 C728.8,663.1 733.0,660.6 735.2,658.9 C737.4,657.2 738.9,656.0 740.8,654.0 C742.7,652.0 744.9,649.9 746.5,646.7 C748.1,643.5 749.5,639.1 750.6,634.6 C751.7,630.1 752.6,622.4 753.0,620.0" stroke="#40ffbf" stroke-width="2.2" fill="none" stroke-linecap="round" stroke-linejoin="round"/>
<path d="M749.7,623.2 C750.5,624.3 753.2,627.1 754.6,629.7 C756.0,632.3 756.7,635.9 757.8,638.6 C758.9,641.3 759.9,643.9 761.1,645.9 C762.3,647.9 763.2,649.8 765.1,650.8 C767.0,651.8 769.4,652.1 772.5,652.0 C775.6,651.9 780.1,651.4 783.7,650.0 C787.3,648.6 791.1,646.3 794.2,643.5 C797.3,640.7 800.0,636.1 802.3,633.0 C804.6,629.9 806.3,627.9 808.0,624.9 C809.7,621.9 811.1,617.3 812.4,614.8 C813.7,612.3 815.1,610.8 815.6,610.0" stroke="#00f0ff" stroke-width="2.2" fill="none" stroke-linecap="round" stroke-linejoin="round"/>
<path d="M752.2,632.1 C753.1,632.9 755.6,635.4 757.8,637.0 C759.9,638.6 762.6,640.5 765.1,641.9 C767.6,643.2 770.1,644.0 772.5,645.1 C774.9,646.2 777.0,647.4 779.5,648.5 C782.0,649.6 785.0,651.1 787.7,651.6 C790.4,652.1 793.1,652.0 795.8,651.2 C798.5,650.4 801.5,648.7 803.9,646.7 C806.3,644.7 808.5,642.2 810.4,639.4 C812.3,636.6 813.9,633.5 815.3,629.7 C816.7,625.9 817.8,620.4 818.8,616.4 C819.8,612.4 820.4,609.8 821.3,605.9 C822.2,602.0 823.6,595.1 824.1,593.0" stroke="#ff0000" stroke-width="2.2" fill="none" stroke-linecap="round" stroke-linejoin="round"/>
<path d="M759.4,608.6 C759.7,610.0 760.7,613.5 761.4,617.1 C762.1,620.7 762.8,626.5 763.8,630.1 C764.8,633.7 766.1,636.2 767.5,638.6 C768.9,641.0 770.4,642.7 772.4,644.3 C774.4,645.9 777.0,647.3 779.6,648.3 C782.2,649.3 785.0,650.4 787.7,650.4 C790.4,650.4 793.1,649.8 795.8,648.3 C798.5,646.8 801.5,643.6 803.9,641.1 C806.2,638.6 808.1,636.0 809.9,633.4 C811.7,630.8 813.2,627.9 814.8,625.3 C816.4,622.7 818.0,620.2 819.6,618.0 C821.2,615.8 823.4,613.0 824.1,612.0" stroke="#0000ff" stroke-width="2.2" fill="none" stroke-linecap="round" stroke-linejoin="round"/>
<path d="M723.1,663.7 C723.9,663.1 726.4,661.1 728.0,660.2 C729.6,659.3 731.3,659.0 732.9,658.1 C734.5,657.2 736.7,655.5 737.5,655.0" stroke="#0088ff" stroke-width="2.2" fill="none" stroke-linecap="round" stroke-linejoin="round"/>
<path d="M738.4,647.5 C740.1,647.9 745.8,649.3 748.9,650.0 C752.0,650.7 753.9,651.2 757.0,651.6 C760.1,652.0 764.1,652.4 767.5,652.5 C770.9,652.6 775.8,652.1 777.5,652.0" stroke="#0088ff" stroke-width="2.2" fill="none" stroke-linecap="round" stroke-linejoin="round"/>
<path d="M725.5,653.2 C726.5,653.6 729.6,654.7 731.5,655.5 C733.4,656.3 734.6,657.2 736.8,658.1 C739.0,659.0 743.5,660.5 744.9,661.0" stroke="#ffe600" stroke-width="2.2" fill="none" stroke-linecap="round" stroke-linejoin="round"/>
<path d="M737.5,664.0 C738.8,663.9 742.9,663.8 745.5,663.5 C748.1,663.2 750.1,663.4 753.0,662.1 C755.9,660.8 759.5,657.9 762.7,655.6 C766.0,653.3 769.9,650.7 772.5,648.3 C775.1,645.9 776.6,643.4 778.5,641.0 C780.4,638.6 781.8,637.3 783.7,633.8 C785.7,630.3 788.5,624.6 790.2,620.0 C791.9,615.4 792.9,609.5 794.0,606.2 C795.1,603.0 796.3,601.5 796.8,600.5" stroke="#ffe600" stroke-width="2.2" fill="none" stroke-linecap="round" stroke-linejoin="round"/>
<path d="M712.5,675.0 C715.0,674.1 723.0,671.2 727.5,669.5 C732.0,667.8 735.6,666.4 739.2,664.5 C742.8,662.6 745.8,660.8 748.9,658.1 C752.0,655.4 755.1,651.9 757.8,648.3 C760.5,644.6 762.9,640.2 765.1,636.2 C767.3,632.2 769.2,628.1 770.8,624.0 C772.4,619.9 774.1,613.8 774.8,611.8" stroke="#bfff40" stroke-width="2.2" fill="none" stroke-linecap="round" stroke-linejoin="round"/>
<path d="M712.5,668.6 C716.7,667.8 730.2,665.5 737.5,664.0 C744.8,662.5 751.5,662.2 756.2,659.7 C760.9,657.2 762.9,654.4 765.9,649.1 C768.9,643.8 772.1,633.0 774.0,628.1 C775.9,623.2 776.4,622.4 777.2,620.0 C778.0,617.6 778.7,615.0 779.0,614.0" stroke="#0000ff" stroke-width="2.2" fill="none" stroke-linecap="round" stroke-linejoin="round"/>
<path d="M752.5,657.0 C755.0,655.5 763.6,651.1 767.5,648.3 C771.4,645.5 773.2,643.6 775.6,640.2 C778.0,636.8 780.5,632.3 782.1,628.1 C783.7,623.9 784.4,619.8 785.0,615.0 C785.6,610.2 785.6,601.9 785.7,599.3" stroke="#0088ff" stroke-width="2.2" fill="none" stroke-linecap="round" stroke-linejoin="round"/>
<path d="M757.5,652.0 C758.8,650.8 763.0,647.6 765.5,645.0 C768.0,642.4 770.0,640.4 772.4,636.2 C774.8,632.0 777.1,625.0 779.6,620.0 C782.1,615.0 785.1,609.6 787.5,606.0 C789.9,602.4 792.8,599.8 793.8,598.5" stroke="#0088ff" stroke-width="2.2" fill="none" stroke-linecap="round" stroke-linejoin="round"/>
<path d="M767.5,616.3 C768.4,617.5 770.8,620.8 772.7,623.6 C774.7,626.4 776.7,630.4 779.2,633.3 C781.7,636.2 784.9,638.9 787.7,641.1 C790.5,643.3 793.1,645.2 795.8,646.7 C798.5,648.2 800.5,649.3 803.9,650.0 C807.3,650.7 813.0,650.8 816.1,650.8 C819.2,650.8 820.0,650.9 822.5,650.0 C825.0,649.1 828.4,647.7 831.3,645.7 C834.2,643.7 837.7,640.4 840.0,637.8 C842.3,635.2 843.5,632.8 845.3,629.9 C847.1,627.0 849.7,622.2 850.6,620.7" stroke="#bfff40" stroke-width="2.2" fill="none" stroke-linecap="round" stroke-linejoin="round"/>
<path d="M791.0,600.9 C791.6,602.6 793.5,608.2 794.6,611.4 C795.7,614.6 796.6,617.5 797.8,620.3 C798.9,623.1 799.9,626.1 801.5,628.1 C803.1,630.1 805.3,631.8 807.2,632.1 C809.1,632.4 811.0,631.2 812.8,629.7 C814.6,628.2 816.0,625.5 818.0,622.9 C820.0,620.3 823.8,615.5 824.9,614.0" stroke="#a00000" stroke-width="2.2" fill="none" stroke-linecap="round" stroke-linejoin="round"/>
<path d="M790.2,599.3 C790.7,601.1 792.1,606.2 793.0,610.0 C793.9,613.8 794.7,618.8 795.8,622.0 C796.9,625.2 798.2,626.8 799.5,629.0 C800.8,631.2 802.0,633.1 803.5,635.0 C805.0,636.9 806.7,639.4 808.8,640.2 C810.9,641.0 813.8,640.7 816.1,640.0 C818.4,639.3 820.5,637.9 822.5,636.2 C824.5,634.5 826.0,632.1 827.8,629.9 C829.5,627.7 831.5,624.9 833.0,622.9 C834.5,620.9 836.4,618.8 837.1,618.0" stroke="#ffe600" stroke-width="2.2" fill="none" stroke-linecap="round" stroke-linejoin="round"/>
<path d="M812.8,592.6 C813.1,594.5 814.1,600.3 814.8,604.3 C815.5,608.3 816.2,612.3 817.2,616.4 C818.2,620.5 819.3,624.7 820.5,628.6 C821.7,632.5 823.3,637.5 824.5,640.0 C825.7,642.5 826.4,641.8 827.5,643.5 C828.6,645.2 829.2,648.1 831.3,650.1 C833.4,652.1 837.1,654.1 840.0,655.4 C842.9,656.7 845.9,657.7 848.8,658.0 C851.7,658.3 854.7,657.5 857.6,657.1 C860.5,656.7 863.5,656.1 866.4,655.4 C869.3,654.7 872.3,653.7 875.1,652.7 C877.9,651.7 881.7,650.1 883.0,649.6" stroke="#00f0ff" stroke-width="2.2" fill="none" stroke-linecap="round" stroke-linejoin="round"/>
<path d="M810.3,610.4 C810.6,611.4 811.5,613.9 812.4,616.4 C813.3,618.9 814.4,622.5 815.6,625.3 C816.8,628.1 818.2,630.9 819.6,633.4 C821.0,635.9 822.4,637.6 823.7,640.0 C825.0,642.4 826.0,646.0 827.5,648.0 C829.0,650.0 830.4,651.0 832.5,652.0 C834.6,653.0 837.3,653.9 840.0,654.0 C842.7,654.1 845.9,653.5 848.8,652.7 C851.7,651.9 854.7,650.7 857.6,649.2 C860.5,647.7 863.6,645.5 866.4,643.9 C869.2,642.3 873.0,640.3 874.3,639.6" stroke="#0000ff" stroke-width="2.2" fill="none" stroke-linecap="round" stroke-linejoin="round"/>
<path d="M824.9,614.0 C825.2,614.5 825.8,615.2 826.9,616.8 C828.0,618.4 829.8,621.5 831.3,623.8 C832.8,626.1 834.2,628.9 835.7,630.8 C837.2,632.7 839.0,634.0 840.0,635.2 C841.0,636.4 841.5,637.4 841.8,637.8" stroke="#ff4400" stroke-width="2.2" fill="none" stroke-linecap="round" stroke-linejoin="round"/>
<path d="M829.4,601.5 C829.8,602.8 831.0,606.4 831.8,609.1 C832.6,611.9 833.4,615.3 834.2,618.0 C835.0,620.7 835.6,621.7 836.6,625.3 C837.6,628.9 838.7,635.5 840.0,639.6 C841.3,643.7 842.9,647.3 844.4,650.1 C845.9,652.9 846.6,654.3 848.8,656.2 C851.0,658.1 854.7,659.9 857.6,661.5 C860.5,663.1 863.3,664.7 866.4,665.9 C869.5,667.1 874.4,668.1 876.0,668.5" stroke="#0000ff" stroke-width="2.2" fill="none" stroke-linecap="round" stroke-linejoin="round"/>
<path d="M831.4,606.7 C831.9,608.2 833.2,612.8 834.2,615.6 C835.2,618.4 836.2,621.3 837.5,623.7 C838.8,626.1 840.2,628.6 841.8,629.9 C843.4,631.1 845.0,631.4 847.1,631.2 C849.2,631.0 852.9,629.0 854.1,628.6" stroke="#ff8c00" stroke-width="2.2" fill="none" stroke-linecap="round" stroke-linejoin="round"/>
<path d="M835.8,605.9 C836.2,607.6 837.4,613.1 838.3,616.4 C839.1,619.7 839.9,622.2 840.9,625.5 C841.9,628.8 843.1,633.6 844.4,636.1 C845.7,638.6 846.6,639.4 848.8,640.4 C851.0,641.4 854.8,641.9 857.6,642.2 C860.4,642.5 863.6,641.2 865.5,642.2 C867.4,643.2 867.8,645.8 869.0,648.3 C870.2,650.8 871.9,655.6 872.5,657.1" stroke="#40ffbf" stroke-width="2.2" fill="none" stroke-linecap="round" stroke-linejoin="round"/>
<path d="M842.3,624.9 C842.9,626.5 844.8,631.3 846.2,634.3 C847.6,637.3 849.0,640.5 850.6,643.1 C852.2,645.7 854.0,647.9 855.8,650.1 C857.5,652.3 859.0,653.9 861.1,656.2 C863.2,658.5 865.8,662.2 868.1,664.1 C870.4,666.0 873.9,667.0 875.1,667.6" stroke="#a00000" stroke-width="2.2" fill="none" stroke-linecap="round" stroke-linejoin="round"/>
<path d="M856.1,633.4 C856.6,634.7 858.2,638.5 859.3,641.3 C860.4,644.1 861.4,647.5 862.9,650.1 C864.4,652.7 866.1,654.3 868.1,657.1 C870.1,659.9 873.9,665.2 875.1,666.8" stroke="#ff0000" stroke-width="2.2" fill="none" stroke-linecap="round" stroke-linejoin="round"/>
<path d="M827.5,654.0 C829.6,654.4 836.5,655.2 840.0,656.2 C843.5,657.2 845.9,658.6 848.8,659.7 C851.7,660.8 854.7,662.1 857.6,662.8 C860.5,663.5 864.1,664.2 866.4,664.1 C868.7,664.0 869.7,663.2 871.6,662.4 C873.5,661.6 876.8,659.8 877.8,659.3" stroke="#0000ff" stroke-width="2.2" fill="none" stroke-linecap="round" stroke-linejoin="round"/>
<path d="M883.0,649.6 C882.4,650.0 880.5,651.6 879.5,652.0 C878.5,652.4 876.8,651.5 876.9,651.8 C877.0,652.1 879.4,652.4 880.4,653.6 C881.4,654.8 882.6,658.0 883.0,658.9" stroke="#0088ff" stroke-width="2.2" fill="none" stroke-linecap="round" stroke-linejoin="round"/>
<path d="M797.8,617.1 C798.3,617.4 800.0,619.1 801.1,618.7 C802.2,618.3 803.8,615.4 804.3,614.7" stroke="#0088ff" stroke-width="2.2" fill="none" stroke-linecap="round" stroke-linejoin="round"/>
<path d="M604.85 681.25v-3.8M604.85 570.1v3.8M650.65 681.25v-3.8M650.65 570.1v3.8M696.45 681.25v-3.8M696.45 570.1v3.8M742.25 681.25v-3.8M742.25 570.1v3.8M788.05 681.25v-3.8M788.05 570.1v3.8M833.85 681.25v-3.8M833.85 570.1v3.8M879.65 681.25v-3.8M879.65 570.1v3.8M559.05 644.2h3.8M925.45 644.2h-3.8M559.05 607.15h3.8M925.45 607.15h-3.8" stroke="#111" stroke-width="1.3" fill="none"/>
<rect x="559.05" y="570.1" width="366.4" height="111.15" stroke="#111" stroke-width="1.45" fill="none"/>
<text transform="translate(559.45 704.45) scale(1 1.045)" text-anchor="middle">8</text>
<text transform="translate(553.85 705.75) scale(1 1.045)" text-anchor="end">−</text>
<text transform="translate(605.25 704.45) scale(1 1.045)" text-anchor="middle">4</text>
<text transform="translate(599.65 705.75) scale(1 1.045)" text-anchor="end">−</text>
<text transform="translate(651.05 704.45) scale(1 1.045)" text-anchor="middle">0</text>
<text transform="translate(696.85 704.45) scale(1 1.045)" text-anchor="middle">4</text>
<text transform="translate(742.65 704.45) scale(1 1.045)" text-anchor="middle">8</text>
<text transform="translate(788.45 704.45) scale(1 1.045)" text-anchor="middle">12</text>
<text transform="translate(834.25 704.45) scale(1 1.045)" text-anchor="middle">16</text>
<text transform="translate(880.05 704.45) scale(1 1.045)" text-anchor="middle">20</text>
<text transform="translate(925.85 704.45) scale(1 1.045)" text-anchor="middle">24</text>
<text transform="translate(553.15 688.1) scale(1 1.045)" text-anchor="end">0</text>
<text transform="translate(553.15 651.05) scale(1 1.045)" text-anchor="end">40</text>
<text transform="translate(553.15 614) scale(1 1.045)" text-anchor="end">80</text>
<text transform="translate(553.15 576.95) scale(1 1.045)" text-anchor="end">120</text>
<text class="L" transform="translate(744.15 727.2)" text-anchor="middle">Local time (hours)</text>
</svg></body></html>
